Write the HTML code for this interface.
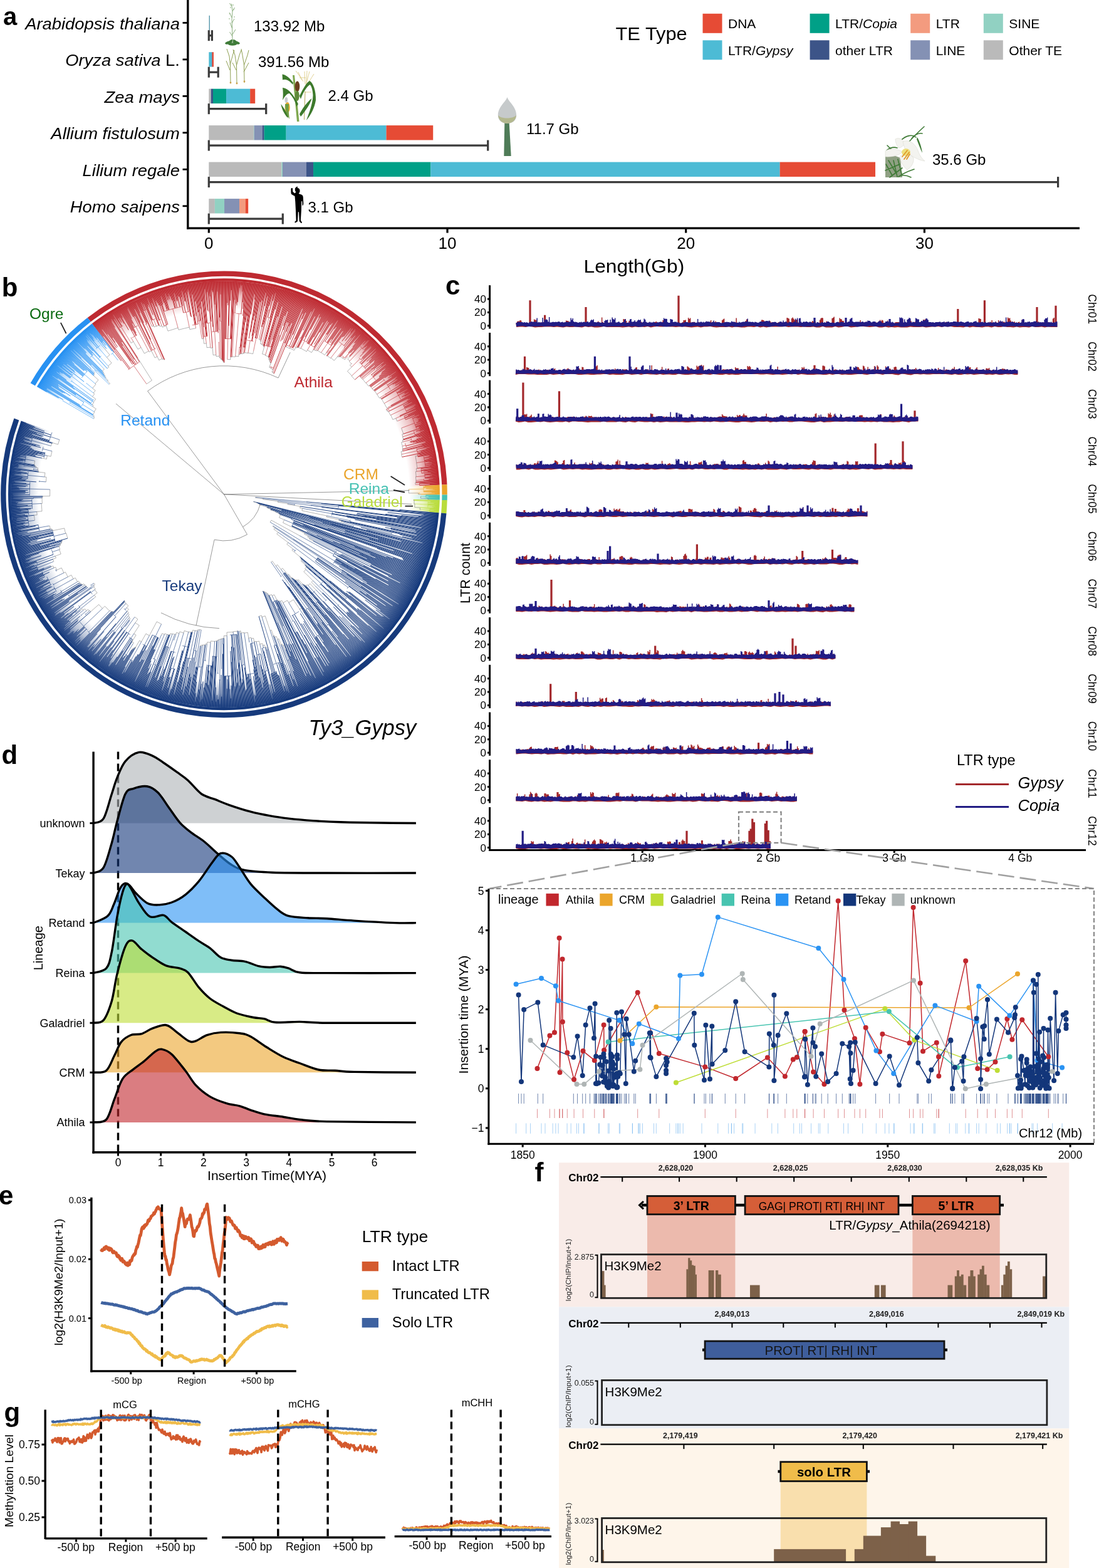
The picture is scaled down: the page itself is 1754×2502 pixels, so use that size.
<!DOCTYPE html>
<html><head><meta charset="utf-8"><title>Figure</title>
<style>html,body{margin:0;padding:0;background:#fff;}svg{display:block;}text{font-family:"Liberation Sans",Arial,sans-serif;}</style>
</head><body>
<svg width="1754" height="2502" viewBox="0 0 1754 2502">
<rect width="1754" height="2502" fill="#fff"/>
<text x="5" y="39.8" font-size="40" font-weight="bold" font-family="Liberation Sans, Arial, sans-serif">a</text>
<line x1="299.8" y1="0" x2="299.8" y2="365.8" stroke="#000" stroke-width="3.4"/>
<line x1="298.1" y1="364.2" x2="1723" y2="364.2" stroke="#000" stroke-width="3.2"/>
<line x1="291.5" y1="36.4" x2="300" y2="36.4" stroke="#000" stroke-width="2.8"/>
<text transform="translate(286.9 46.7) scale(1.03 1)" font-size="26.6" font-style="italic" text-anchor="end" font-family="Liberation Sans, Arial, sans-serif">Arabidopsis thaliana</text>
<line x1="291.5" y1="94.9" x2="300" y2="94.9" stroke="#000" stroke-width="2.8"/>
<text transform="translate(286.9 105.2) scale(1.03 1)" font-size="26.6" text-anchor="end" font-family="Liberation Sans, Arial, sans-serif"><tspan font-style="italic">Oryza sativa</tspan> L.</text>
<line x1="291.5" y1="153.4" x2="300" y2="153.4" stroke="#000" stroke-width="2.8"/>
<text transform="translate(286.9 163.7) scale(1.03 1)" font-size="26.6" font-style="italic" text-anchor="end" font-family="Liberation Sans, Arial, sans-serif">Zea mays</text>
<line x1="291.5" y1="211.8" x2="300" y2="211.8" stroke="#000" stroke-width="2.8"/>
<text transform="translate(286.9 222.1) scale(1.03 1)" font-size="26.6" font-style="italic" text-anchor="end" font-family="Liberation Sans, Arial, sans-serif">Allium fistulosum</text>
<line x1="291.5" y1="270.3" x2="300" y2="270.3" stroke="#000" stroke-width="2.8"/>
<text transform="translate(286.9 280.6) scale(1.03 1)" font-size="26.6" font-style="italic" text-anchor="end" font-family="Liberation Sans, Arial, sans-serif">Lilium regale</text>
<line x1="291.5" y1="328.8" x2="300" y2="328.8" stroke="#000" stroke-width="2.8"/>
<text transform="translate(286.9 339.1) scale(1.03 1)" font-size="26.6" font-style="italic" text-anchor="end" font-family="Liberation Sans, Arial, sans-serif">Homo saipens</text>
<line x1="333.3" y1="365" x2="333.3" y2="371.6" stroke="#000" stroke-width="3.2"/>
<text x="333.3" y="397.4" font-size="26" text-anchor="middle" font-family="Liberation Sans, Arial, sans-serif">0</text>
<line x1="714.0" y1="365" x2="714.0" y2="371.6" stroke="#000" stroke-width="3.2"/>
<text x="714.0" y="397.4" font-size="26" text-anchor="middle" font-family="Liberation Sans, Arial, sans-serif">10</text>
<line x1="1094.7" y1="365" x2="1094.7" y2="371.6" stroke="#000" stroke-width="3.2"/>
<text x="1094.7" y="397.4" font-size="26" text-anchor="middle" font-family="Liberation Sans, Arial, sans-serif">20</text>
<line x1="1475.4" y1="365" x2="1475.4" y2="371.6" stroke="#000" stroke-width="3.2"/>
<text x="1475.4" y="397.4" font-size="26" text-anchor="middle" font-family="Liberation Sans, Arial, sans-serif">30</text>
<text transform="translate(931.5 434.5) scale(1.06 1)" font-size="30" font-family="Liberation Sans, Arial, sans-serif">Length(Gb)</text>
<rect x="333.6" y="24.8" width="1.3" height="23.6" fill="#4A8FA6"/>
<rect x="333.30" y="83.2" width="4.62" height="23.4" fill="#4DBBD5"/>
<rect x="337.87" y="83.2" width="0.81" height="23.4" fill="#3C5488"/>
<rect x="338.63" y="83.2" width="2.33" height="23.4" fill="#E64B35"/>
<rect x="333.30" y="141.7" width="3.48" height="23.4" fill="#BABABA"/>
<rect x="336.73" y="141.7" width="3.29" height="23.4" fill="#3C5488"/>
<rect x="339.96" y="141.7" width="21.18" height="23.4" fill="#00A087"/>
<rect x="361.09" y="141.7" width="38.12" height="23.4" fill="#4DBBD5"/>
<rect x="399.16" y="141.7" width="8.04" height="23.4" fill="#E64B35"/>
<rect x="333.30" y="200.1" width="71.62" height="23.4" fill="#BABABA"/>
<rect x="404.87" y="200.1" width="0.81" height="23.4" fill="#91D1C2"/>
<rect x="405.63" y="200.1" width="12.99" height="23.4" fill="#8491B4"/>
<rect x="418.58" y="200.1" width="3.10" height="23.4" fill="#3C5488"/>
<rect x="421.62" y="200.1" width="35.07" height="23.4" fill="#00A087"/>
<rect x="456.65" y="200.1" width="159.94" height="23.4" fill="#4DBBD5"/>
<rect x="616.54" y="200.1" width="74.67" height="23.4" fill="#E64B35"/>
<rect x="333.30" y="258.6" width="116.16" height="23.4" fill="#BABABA"/>
<rect x="449.41" y="258.6" width="1.57" height="23.4" fill="#91D1C2"/>
<rect x="450.94" y="258.6" width="38.12" height="23.4" fill="#8491B4"/>
<rect x="489.01" y="258.6" width="11.09" height="23.4" fill="#3C5488"/>
<rect x="500.05" y="258.6" width="187.35" height="23.4" fill="#00A087"/>
<rect x="687.35" y="258.6" width="557.39" height="23.4" fill="#4DBBD5"/>
<rect x="1244.70" y="258.6" width="152.33" height="23.4" fill="#E64B35"/>
<rect x="333.30" y="317.1" width="9.57" height="23.4" fill="#BABABA"/>
<rect x="342.82" y="317.1" width="15.28" height="23.4" fill="#91D1C2"/>
<rect x="358.05" y="317.1" width="24.03" height="23.4" fill="#8491B4"/>
<rect x="382.03" y="317.1" width="9.95" height="23.4" fill="#F39B7F"/>
<rect x="391.93" y="317.1" width="4.24" height="23.4" fill="#E64B35"/>
<g stroke="#3B3B3B" stroke-width="3.2"><line x1="333.3" y1="56.7" x2="338.4" y2="56.7"/><line x1="333.3" y1="48.2" x2="333.3" y2="65.2"/><line x1="338.4" y1="48.2" x2="338.4" y2="65.2"/></g>
<g stroke="#3B3B3B" stroke-width="3.2"><line x1="333.3" y1="115.2" x2="348.2" y2="115.2"/><line x1="333.3" y1="106.7" x2="333.3" y2="123.7"/><line x1="348.2" y1="106.7" x2="348.2" y2="123.7"/></g>
<g stroke="#3B3B3B" stroke-width="3.2"><line x1="333.3" y1="173.7" x2="424.7" y2="173.7"/><line x1="333.3" y1="165.2" x2="333.3" y2="182.2"/><line x1="424.7" y1="165.2" x2="424.7" y2="182.2"/></g>
<g stroke="#3B3B3B" stroke-width="3.2"><line x1="333.3" y1="232.1" x2="778.7" y2="232.1"/><line x1="333.3" y1="223.6" x2="333.3" y2="240.6"/><line x1="778.7" y1="223.6" x2="778.7" y2="240.6"/></g>
<g stroke="#3B3B3B" stroke-width="3.2"><line x1="333.3" y1="290.6" x2="1688.6" y2="290.6"/><line x1="333.3" y1="282.1" x2="333.3" y2="299.1"/><line x1="1688.6" y1="282.1" x2="1688.6" y2="299.1"/></g>
<g stroke="#3B3B3B" stroke-width="3.2"><line x1="333.3" y1="349.1" x2="451.3" y2="349.1"/><line x1="333.3" y1="340.6" x2="333.3" y2="357.6"/><line x1="451.3" y1="340.6" x2="451.3" y2="357.6"/></g>
<text x="405" y="50.2" font-size="24" font-family="Liberation Sans, Arial, sans-serif">133.92 Mb</text>
<text x="412" y="106.8" font-size="24" font-family="Liberation Sans, Arial, sans-serif">391.56 Mb</text>
<text x="523.5" y="161" font-size="24" font-family="Liberation Sans, Arial, sans-serif">2.4 Gb</text>
<text x="840" y="214" font-size="24" font-family="Liberation Sans, Arial, sans-serif">11.7 Gb</text>
<text x="1488" y="263.2" font-size="24" font-family="Liberation Sans, Arial, sans-serif">35.6 Gb</text>
<text x="491.5" y="339.3" font-size="24" font-family="Liberation Sans, Arial, sans-serif">3.1 Gb</text>
<text transform="translate(982.5 64) scale(1.045 1)" font-size="29.5" font-family="Liberation Sans, Arial, sans-serif">TE Type</text>
<rect x="1121.5" y="21.8" width="31" height="31" fill="#E64B35"/>
<text x="1162.0" y="45.2" font-size="21" font-family="Liberation Sans, Arial, sans-serif">DNA</text>
<rect x="1121.5" y="64.3" width="31" height="31" fill="#4DBBD5"/>
<text x="1162.0" y="87.7" font-size="21" font-family="Liberation Sans, Arial, sans-serif">LTR/<tspan font-style="italic">Gypsy</tspan></text>
<rect x="1292.6" y="21.8" width="31" height="31" fill="#00A087"/>
<text x="1333.1" y="45.2" font-size="21" font-family="Liberation Sans, Arial, sans-serif">LTR/<tspan font-style="italic">Copia</tspan></text>
<rect x="1292.6" y="64.3" width="31" height="31" fill="#3C5488"/>
<text x="1333.1" y="87.7" font-size="21" font-family="Liberation Sans, Arial, sans-serif">other LTR</text>
<rect x="1453.2" y="21.8" width="31" height="31" fill="#F39B7F"/>
<text x="1493.7" y="45.2" font-size="21" font-family="Liberation Sans, Arial, sans-serif">LTR</text>
<rect x="1453.2" y="64.3" width="31" height="31" fill="#8491B4"/>
<text x="1493.7" y="87.7" font-size="21" font-family="Liberation Sans, Arial, sans-serif">LINE</text>
<rect x="1569.8" y="21.8" width="31" height="31" fill="#91D1C2"/>
<text x="1610.3" y="45.2" font-size="21" font-family="Liberation Sans, Arial, sans-serif">SINE</text>
<rect x="1569.8" y="64.3" width="31" height="31" fill="#BABABA"/>
<text x="1610.3" y="87.7" font-size="21" font-family="Liberation Sans, Arial, sans-serif">Other TE</text>
<g fill="none" stroke="#6E9A5E" stroke-width="0.8"><path d="M371 65 L370.5 45 L370 30 L371 18 L369.5 6 M370.5 45 L367 36 M370 37 L374 30 M370 28 L366 20 M371 18 L374.5 12 M369.5 10 L366.5 5 M371 55 L376 47 M371 58 L366.5 51"/></g>
<g fill="#7FA870"><circle cx="367" cy="22" r="0.8"/><circle cx="373" cy="15" r="0.8"/><circle cx="366" cy="30" r="0.8"/><circle cx="374" cy="27" r="0.8"/><circle cx="368" cy="12" r="0.8"/><circle cx="372" cy="8" r="0.8"/></g>
<g fill="#3E7B38"><ellipse cx="365" cy="68" rx="6" ry="2.4" transform="rotate(-15 365 68)"/><ellipse cx="377" cy="68" rx="6" ry="2.4" transform="rotate(15 377 68)"/><ellipse cx="371" cy="70.5" rx="7" ry="2.2"/><ellipse cx="368" cy="66" rx="4" ry="1.8" transform="rotate(-40 368 66)"/><ellipse cx="375" cy="66" rx="4" ry="1.8" transform="rotate(40 375 66)"/></g>
<g fill="none" stroke="#8E9F52" stroke-width="1"><path d="M368 133 L367.5 104 L366 90 L362 78 M367 104 L372 86 L374 80 M367 112 L361 97 M378 134 L377.5 104 L375 88 L372 79 M377.5 104 L382 88 L385 80 M377 112 L371 100 M390 132 L389.5 104 L387 88 L385 78 M389.5 104 L395 88 L397 80 M389 115 L397 100"/></g>
<g fill="#C9A04A"><circle cx="368" cy="132" r="1.4"/><circle cx="378" cy="133" r="1.4"/><circle cx="390" cy="130" r="1.4"/></g>
<g fill="none" stroke="#D9C77A" stroke-width="0.8"><path d="M472 113 C476 118 480 124 484 130 M476 115 L482 128 M486 114 L487 134 M490 113 L489 132 M494 114 C492 122 490 128 488 136 M501 118 C496 126 492 132 488 140 M478 124 L488 124 M486 147 L497 147"/></g>
<path d="M486.5 146 L487.5 146 L486 191 L485 191 Z" fill="#B5A95A"/>
<path d="M467 120 L470 120 L477.5 194 L474 194 Z" fill="#7FA84F"/>
<g fill="#3D7A2C"><path d="M468 132 C462 124 456 119 450.5 118.5 L451 127.5 C456 126 462 128 467 135 Z"/><path d="M476 166 C469 152 461 141 451 140 C452 146 452 154 451 160 C455 153 458 149 462 149 C467 154 471 161 473.5 170 Z"/><path d="M478 153 C484 141 489 132 494 129 C500 132 504.5 145 504 160 C502 172 496 184 489 192 C494 178 499 166 499.5 152 C499 143 497 137 494.5 135 C489 139 484 147 480 158 Z"/><path d="M478 182 C484 171 490 163 497.5 157 C495 166 489 175 480 186 Z"/><path d="M459 188 C453 181 449 172 448.5 166 C452 171 456 177 461 184 Z"/></g>
<ellipse cx="474.5" cy="138" rx="3.8" ry="8.5" fill="#6B3F1E"/><ellipse cx="474.3" cy="153" rx="3.4" ry="8" fill="#5E8A3A"/>
<ellipse cx="458.7" cy="171.5" rx="4" ry="8.5" fill="#E6A82A"/><ellipse cx="456.8" cy="159.5" rx="2.4" ry="4.6" fill="#C9CCD0"/><path d="M455 166 C455 176 458 184 462 190 C461 182 460 174 461 166 Z" fill="#6E9E43"/>
<path d="M805.3 196 L812.7 196 L815.7 249 L804.3 249 Z" fill="#4F7C58"/>
<path d="M809.5 155 C812 163 824 170 824.2 184 C824.2 193 817 197 809.5 197 C802 197 794.8 193 794.8 184 C795 170 807 163 809.5 155 Z" fill="#C6CACB"/>
<path d="M795 184 C796 192 802 197 809.5 197 C817 197 823 192 824 184 C818 190 800 190 795 184 Z" fill="#B3B88E"/>
<path d="M1413 250 C1420 247 1430 248 1437 252 L1440 283 L1413 283 Z" fill="#8FA083"/>
<g fill="none" stroke="#3E7A35" stroke-width="1.6" stroke-linecap="round"><path d="M1414 262 L1424 280 M1418 256 L1430 276 M1426 256 L1432 282 M1413 272 L1436 262 M1420 283 L1440 268 M1433 254 L1439 278"/><path d="M1434 282 C1442 276 1450 273 1459 270"/><path d="M1438 280 C1444 279 1450 281 1454 283"/><path d="M1446 232 C1454 222 1464 212 1475 202"/><path d="M1455 221 C1460 215 1466 212 1472 213"/><path d="M1438 224 C1446 216 1456 214 1462 219"/><path d="M1415 240 C1420 236 1426 234 1432 236"/><path d="M1416 232 L1424 240"/></g>
<path d="M1464 219 C1468 226 1471 236 1472 244 C1469 238 1466 230 1463 222 Z" fill="#3E7A35"/>
<g fill="#F3F3EF" stroke="#DADAD2" stroke-width="0.6"><path d="M1413 241 C1420 236 1432 237 1440 242 C1436 248 1424 251 1413 250 Z"/><path d="M1429 222 C1433 219 1440 221 1444 228 C1442 233 1438 236 1434 236 C1431 232 1429 227 1429 222 Z"/><path d="M1441 226 C1450 222 1460 228 1465 240 C1467 246 1470 252 1476 257 C1468 256 1460 252 1454 248 C1448 244 1443 238 1441 226 Z"/><path d="M1436 250 C1440 244 1452 244 1458 252 C1459 260 1454 267 1448 271 C1442 266 1437 258 1436 250 Z"/></g>
<ellipse cx="1446" cy="243" rx="7" ry="6" fill="#EDE07C"/>
<g stroke="#E0992A" stroke-width="1.8" stroke-linecap="round"><path d="M1440 250 L1448 240 M1443 254 L1451 243 M1447 254 L1452 246"/></g>
<path fill="#000" d="M474.6 300 c2.6 0 4.1 2.1 4 4.6 c0 2 -0.8 3.4 -2 4.3 l5 1.8 c1.6 0.8 2 2.3 2.2 4.2 l0.5 9.2 c0.2 2 -0.5 3.6 -1.7 4.5 l-0.3 -7.5 l-1.2 0.2 l-0.2 14 l-1 16 c0.4 1.4 1.5 2.4 2.3 3.7 l-1.4 1.2 l-3 -3 l-0.8 -15 l-1.2 0 l-0.8 15 l-3.5 2.4 l-1.5 -1.2 l2.6 -2.6 l-0.6 -15.6 l-0.7 -14 l-0.8 -9.2 l-4.6 -2.4 c-1.3 -0.8 -1.5 -2.5 -1.5 -4 l0 -5.5 c0.5 -1.2 1.8 -1.4 2.6 -0.6 l0.3 5.3 l3 2.6 l2.2 -1.8 c-1.2 -1.2 -1.8 -2.8 -1.7 -4.6 c0.1 -2.5 1.8 -4.2 4.4 -4.2 z"/>
<text x="2.8" y="472.6" font-size="42" font-weight="bold" font-family="Liberation Sans, Arial, sans-serif">b</text>
<defs><radialGradient id="gAthila" gradientUnits="userSpaceOnUse" cx="357.5" cy="788.8" r="340"><stop offset="0.87" stop-color="#BE2A31" stop-opacity="0"/><stop offset="0.935" stop-color="#BE2A31" stop-opacity="0.3"/><stop offset="0.97" stop-color="#BE2A31" stop-opacity="0.65"/><stop offset="1" stop-color="#BE2A31" stop-opacity="0.9"/></radialGradient><radialGradient id="gCRM" gradientUnits="userSpaceOnUse" cx="357.5" cy="788.8" r="340"><stop offset="0.87" stop-color="#EAA42B" stop-opacity="0"/><stop offset="0.935" stop-color="#EAA42B" stop-opacity="0.3"/><stop offset="0.97" stop-color="#EAA42B" stop-opacity="0.65"/><stop offset="1" stop-color="#EAA42B" stop-opacity="0.9"/></radialGradient><radialGradient id="gReina" gradientUnits="userSpaceOnUse" cx="357.5" cy="788.8" r="340"><stop offset="0.87" stop-color="#46C1B2" stop-opacity="0"/><stop offset="0.935" stop-color="#46C1B2" stop-opacity="0.3"/><stop offset="0.97" stop-color="#46C1B2" stop-opacity="0.65"/><stop offset="1" stop-color="#46C1B2" stop-opacity="0.9"/></radialGradient><radialGradient id="gGal" gradientUnits="userSpaceOnUse" cx="357.5" cy="788.8" r="340"><stop offset="0.87" stop-color="#B9DC3C" stop-opacity="0"/><stop offset="0.935" stop-color="#B9DC3C" stop-opacity="0.3"/><stop offset="0.97" stop-color="#B9DC3C" stop-opacity="0.65"/><stop offset="1" stop-color="#B9DC3C" stop-opacity="0.9"/></radialGradient><radialGradient id="gTekay" gradientUnits="userSpaceOnUse" cx="357.5" cy="788.8" r="340"><stop offset="0.87" stop-color="#163A7C" stop-opacity="0"/><stop offset="0.935" stop-color="#163A7C" stop-opacity="0.3"/><stop offset="0.97" stop-color="#163A7C" stop-opacity="0.65"/><stop offset="1" stop-color="#163A7C" stop-opacity="0.9"/></radialGradient><radialGradient id="gRetand" gradientUnits="userSpaceOnUse" cx="357.5" cy="788.8" r="340"><stop offset="0.87" stop-color="#2791F2" stop-opacity="0"/><stop offset="0.935" stop-color="#2791F2" stop-opacity="0.3"/><stop offset="0.97" stop-color="#2791F2" stop-opacity="0.65"/><stop offset="1" stop-color="#2791F2" stop-opacity="0.9"/></radialGradient></defs>
<path d="M183.2 563.3L149.3 519.4A340.5 340.5 0 0 1 697.7 773.9L642.2 776.4A285 285 0 0 0 183.2 563.3Z" fill="url(#gAthila)"/>
<path d="M642.2 776.4L697.7 773.9A340.5 340.5 0 0 1 698.0 789.4L642.5 789.3A285 285 0 0 0 642.2 776.4Z" fill="url(#gCRM)"/>
<path d="M642.5 789.3L698.0 789.4A340.5 340.5 0 0 1 697.9 797.7L642.4 796.3A285 285 0 0 0 642.5 789.3Z" fill="url(#gReina)"/>
<path d="M642.4 796.3L697.9 797.7A340.5 340.5 0 0 1 696.8 817.9L641.5 813.1A285 285 0 0 0 642.4 796.3Z" fill="url(#gGal)"/>
<path d="M641.5 813.1L696.8 817.9A340.5 340.5 0 1 1 37.3 672.9L89.5 691.8A285 285 0 1 0 641.5 813.1Z" fill="url(#gTekay)"/>
<path d="M110.4 646.7L62.3 619.1A340.5 340.5 0 0 1 149.3 519.4L183.2 563.3A285 285 0 0 0 110.4 646.7Z" fill="url(#gRetand)"/>
<path d="M233.9 612.7L242.4 607.0L219.9 571.3M262.8 573.9L262.0 574.3L261.4 572.9L259.3 573.8L258.7 572.4L253.7 574.7L251.0 569.1L247.2 570.9L241.6 559.8L238.1 561.6L237.3 560.2L230.4 564.0L225.0 554.4L220.1 557.3L212.9 545.1L209.2 547.4L207.6 544.7M312.5 523.8L302.9 525.6L302.2 522.1L285.0 526.3L284.1 523.2L268.0 528.2L265.1 519.8L259.0 522.0L258.1 519.7L255.0 520.8L254.4 519.2L253.4 519.5L253.2 519.2L249.6 520.6L249.5 520.3L245.9 521.8L245.1 519.8L242.5 520.9L242.4 520.6M358.0 578.5L357.1 578.5L357.1 577.3L356.3 577.4L356.3 576.2L355.5 576.2L355.5 575.1L354.7 575.1L354.7 573.9L353.4 573.9L353.4 572.8L351.8 572.8L351.7 570.5L350.0 570.6L350.0 568.3L344.9 568.5L344.8 566.2L340.1 566.5L339.2 555.0L336.0 555.3L335.9 554.1L330.1 554.7L329.3 547.9L325.6 548.3L324.6 540.3L322.2 540.7L322.0 539.5M362.9 573.5L367.8 573.7L368.0 569.7L368.9 569.7L368.9 569.4L370.6 569.4L370.6 569.1L375.6 569.4L375.7 568.3L380.8 568.8L381.1 565.5L382.8 565.7L383.0 564.6L383.8 564.7L383.9 564.3L385.6 564.6L385.6 564.2L388.2 564.5L388.4 563.4L390.1 563.7L390.2 562.6L395.9 563.5L395.9 563.1L403.7 564.6L404.6 560.2M437.3 596.0L435.5 595.2L435.9 594.2L434.0 593.5L435.6 589.5L432.5 588.3L432.9 587.3L429.8 586.2L432.3 579.2L431.1 578.8L431.4 577.7L430.2 577.3L430.9 575.3L429.7 574.9L430.0 573.9L428.8 573.5L429.5 571.4L428.6 571.2L429.0 570.1L428.1 569.9L428.5 568.9L423.4 567.3L423.7 566.3L418.6 564.8L421.7 553.5L420.8 553.2L421.0 552.2L420.1 552.0L420.4 550.9L418.1 550.3L418.4 549.3L415.6 548.6L416.6 544.5L415.2 544.1L415.7 542.1L413.4 541.5L413.6 540.5M456.1 553.3L462.3 556.0L462.5 555.6L469.6 559.0L471.8 554.3L473.6 555.2L474.2 554.2L475.1 554.6L475.2 554.2L476.1 554.7L476.3 554.3L479.9 556.2L480.1 555.8L489.3 560.9L490.7 558.5L497.3 562.5L500.2 557.7L501.5 558.6L501.7 558.2L503.9 559.6L504.3 558.9L506.1 560.1L506.8 559.1L512.4 562.9L512.6 562.5L518.2 566.5L521.0 562.6L522.3 563.6L522.5 563.2M521.2 567.7L522.1 568.4L522.5 567.8L527.5 571.6L528.0 571.0L533.4 575.3L538.6 569.0L539.9 570.0L540.8 568.8L541.7 569.5L542.1 569.0L543.0 569.7L543.5 569.1L546.4 571.6L546.9 571.1L550.2 574.0L553.2 570.6M566.4 605.9L561.0 600.0L561.5 599.6L554.5 592.3L561.3 585.6L558.5 582.8L560.9 580.4L557.3 576.9L558.2 576.0L554.9 572.9L558.1 569.4L557.3 568.6L557.7 568.1M574.1 600.7L574.8 601.5L574.9 601.4L576.0 602.6L576.1 602.5L577.2 603.8L577.4 603.6L578.8 605.3L578.9 605.2L583.8 611.2L584.2 610.9L588.2 616.1L589.6 615.1L590.2 616.0L590.3 615.9L591.0 616.8L591.1 616.7L591.8 617.6L591.9 617.5L593.9 620.2L594.0 620.1L595.9 622.8L596.6 622.4L597.2 623.3L597.3 623.2L598.0 624.1L598.1 624.0L601.5 629.1L601.6 629.1L605.5 635.2L606.9 634.4L608.0 636.3L608.4 636.0L609.0 637.0L609.2 636.9L613.1 643.7L613.3 643.6L617.3 651.0L619.1 650.1M616.5 653.4L617.5 655.4L617.9 655.1L619.0 657.1L620.2 656.5L623.2 662.6L623.7 662.3L626.9 669.5L631.8 667.4L633.8 672.1L635.1 671.6M641.7 729.3L640.7 725.0L641.1 724.9L640.1 720.6L642.7 719.9L642.3 718.3L642.7 718.2L642.3 716.6L643.0 716.4L641.9 712.0L642.3 711.9L640.6 705.9L643.2 705.2L642.3 702.5L643.8 702.0L643.5 700.9L643.8 700.8L642.6 697.0L643.0 696.9L641.8 693.1L643.9 692.3L640.6 683.1L641.0 682.9M663.0 773.1L662.9 770.2L663.8 770.1L663.7 769.0L664.0 769.0L663.8 766.6L664.0 766.6L663.5 760.7L664.2 760.7L663.4 752.5L665.0 752.3L664.4 747.6L666.0 747.3L664.7 738.5L664.9 738.5L663.0 727.9L666.2 727.3M652.2 780.8L652.3 786.9L667.7 786.8L667.7 788.7L671.6 788.7M671.5 791.9L671.4 795.1L682.9 795.3L682.9 796.7L685.7 796.7M660.0 797.3L660.0 798.5L661.1 798.6L660.9 804.0L662.0 804.0L661.7 809.4L670.4 810.0L670.2 813.1L671.3 813.2M407.7 793.4L407.6 794.3L419.6 795.6L419.5 796.8L443.5 799.8L443.3 801.3L459.3 803.6L459.1 804.8L479.0 807.9L478.6 810.5L482.6 811.2L481.9 814.8L521.4 823.0L521.0 824.9L540.7 829.3L540.5 830.0L544.5 830.9L544.2 832.3L548.1 833.2M404.6 800.3L404.5 800.7L409.6 802.0L409.5 802.2L411.2 802.6L411.2 802.8L412.9 803.3L412.6 804.1L414.3 804.6L414.1 805.5L425.8 808.9L425.6 809.4L427.3 809.9L427.0 811.0L432.0 812.6L431.6 813.7L439.9 816.5L439.7 817.1L444.6 818.9L444.5 819.2L446.2 819.8L445.8 820.8L447.5 821.4L445.7 826.0L453.7 829.4L451.6 834.1L486.2 850.8L485.5 852.3L491.8 855.4L491.0 856.9L494.1 858.5L493.4 859.8L499.6 863.0M431.2 833.2L433.0 830.1L478.0 854.7M435.8 839.1L435.3 840.0L438.7 842.3L437.1 844.6L443.9 849.3L441.8 852.1L459.9 865.7L457.8 868.4L467.5 876.0L466.0 877.9L478.7 888.4L478.3 888.8L479.9 890.1L479.5 890.6L481.1 891.9L480.1 893.1L481.6 894.4L480.6 895.6L486.8 901.0L486.4 901.5L488.0 902.8L487.5 903.3L489.1 904.7L486.6 907.4L488.1 908.8L484.8 912.3L499.6 926.6L497.2 929.0L503.0 934.8M432.6 896.8L434.6 895.3L440.2 903.0L442.8 901.1L448.5 908.6L451.0 906.7L459.3 917.0L460.5 916.1L465.3 922.0L465.8 921.5L467.0 923.0L467.5 922.6L468.7 924.1L469.2 923.6L470.4 925.1L470.9 924.7L472.1 926.1L473.7 924.8L474.9 926.2L476.5 924.9L482.7 932.0L483.3 931.5L484.5 932.9L485.1 932.5L486.3 933.9L486.9 933.4L488.2 934.8L490.4 932.8L491.7 934.2L494.7 931.3L503.9 940.9M419.6 943.2L420.1 943.0L420.5 944.0L421.4 943.6L421.8 944.6L423.0 944.1L423.8 946.1L425.3 945.4L426.2 947.4L427.4 946.8L428.7 949.7L429.6 949.3L430.0 950.3L433.4 948.7L434.3 950.6L437.7 949.0L442.0 957.5L442.9 957.0L443.9 958.9L444.5 958.6L445.0 959.5L446.7 958.7L447.2 959.6L449.8 958.2L451.8 961.9L458.6 958.0L460.8 961.6L468.3 956.9L478.2 971.9L480.7 970.3L484.2 975.5M413.2 983.4L417.3 982.1L418.0 984.5L423.2 982.8L431.1 1006.1L433.2 1005.4L436.4 1014.7L437.7 1014.2L438.5 1016.6L441.2 1015.6L442.9 1020.2L445.1 1019.4L448.6 1028.6L450.4 1027.9L451.3 1030.2L453.1 1029.5L455.9 1036.3M382.1 1007.1L384.2 1006.8L384.6 1010.1L389.7 1009.4L389.8 1010.2L395.3 1009.3L396.8 1018.2L400.8 1017.4L401.1 1019.0L404.6 1018.4L405.7 1023.9L408.9 1023.3L409.0 1024.1L413.5 1023.0L414.7 1027.8L418.8 1026.8L419.6 1029.9L422.4 1029.2L423.4 1033.1L425.3 1032.6L425.5 1033.4M380.0 1006.7L378.7 1006.8L378.8 1007.2L372.1 1007.8L372.1 1008.5L362.1 1009.0L362.2 1014.4L357.4 1014.5L357.4 1018.4L356.1 1018.4L356.1 1018.8L354.3 1018.8L354.3 1019.5L352.1 1019.5L352.1 1020.3L349.4 1020.2L349.4 1021.4L347.2 1021.3L347.1 1022.5L345.8 1022.4L345.8 1023.2L342.6 1023.0L342.6 1023.4L336.3 1022.9L336.1 1025.2L330.7 1024.7L330.3 1027.8L328.1 1027.5L327.9 1029.1L326.5 1028.9L326.4 1029.3L323.7 1028.9L323.6 1029.7L321.3 1029.4L321.0 1030.9L319.2 1030.6L319.1 1031.0M321.1 1005.0L318.2 1004.5L318.1 1005.2L315.6 1004.8L315.2 1006.7L311.5 1006.0L311.4 1006.4L307.7 1005.5L307.0 1008.6L306.1 1008.4L306.0 1008.8L305.2 1008.6L305.1 1009.0L300.9 1008.0L300.8 1008.4L294.1 1006.5L293.1 1010.0L286.8 1008.0L285.9 1010.7L281.7 1009.3L280.7 1012.3L279.0 1011.7L278.7 1012.4L275.3 1011.2L275.0 1011.9L272.0 1010.8L271.2 1013.1L270.3 1012.7L270.2 1013.1L269.3 1012.8L269.2 1013.1L267.0 1012.3L266.9 1012.6L263.0 1011.0L262.4 1012.5L258.6 1010.8L257.8 1012.7M257.6 995.8L250.2 992.0L238.4 1014.2L232.9 1011.2L225.7 1023.9L222.6 1022.2L216.3 1033.0L215.3 1032.5L214.3 1034.3L213.4 1033.7L212.3 1035.6L211.3 1035.0L210.3 1036.8M215.0 984.5L219.9 988.0L215.9 993.7L222.3 998.0L213.7 1011.2L217.1 1013.4L210.6 1023.8L213.3 1025.5L212.4 1027.0M198.5 958.2L199.1 958.8L198.7 959.3L199.3 959.9L198.9 960.4L201.2 962.5L200.8 963.0L204.8 966.6L202.2 969.6L205.3 972.2L202.8 975.3L205.3 977.3L204.1 978.9L206.2 980.6L204.6 982.7L206.8 984.5L206.0 985.5L207.9 987.0L206.3 989.1L207.5 989.9L207.1 990.5M180.5 975.9L179.8 975.2L179.1 976.0L178.4 975.3L177.6 976.1L175.5 974.0L174.7 974.8L167.4 967.3L163.5 971.0L157.7 964.6L144.8 975.9L143.4 974.3L142.6 975.0L140.5 972.5L138.0 974.6L135.6 971.6L133.1 973.6L131.3 971.5L128.0 974.2M150.0 930.5L151.4 932.4L149.6 933.7L150.7 935.3L149.5 936.1L152.4 940.1L151.2 940.9L155.1 946.0L150.5 949.6L152.7 952.3L149.8 954.6M138.4 936.0L137.8 935.2L137.2 935.5L135.8 933.4L135.3 933.8L133.9 931.7L131.6 933.1L131.0 932.3L130.4 932.7L129.9 931.8L129.3 932.1L128.2 930.4L127.6 930.8L125.5 927.2L123.7 928.3L120.1 922.0L117.1 923.7L113.8 917.6L108.3 920.5L104.4 912.9L101.9 914.1L98.2 906.2L90.7 909.6L88.7 905.0L86.1 906.1L84.8 903.0L81.6 904.3L81.0 902.7L80.3 903.0M99.1 862.5L99.4 863.5L98.4 863.8L98.8 865.3L97.8 865.6L98.2 867.1L96.2 867.7L96.7 869.2L95.7 869.5L96.1 871.0L94.1 871.6L95.7 876.7L94.7 877.0L97.2 884.0L88.2 887.3L89.4 890.3L84.4 892.2L85.8 895.9L84.9 896.3M107.9 859.0L105.7 850.8L104.6 851.1L102.7 842.9L84.4 846.7L84.1 845.2L82.9 845.4L82.6 843.8L80.3 844.3L79.3 839.0L78.1 839.2M79.7 781.0L79.6 791.6L68.2 791.8L68.2 792.9L67.6 792.9L67.6 794.5L67.0 794.5L67.3 803.4L66.1 803.5L67.0 815.7L58.6 816.5L59.2 821.6L54.4 822.2L55.4 830.3L54.8 830.4M73.4 768.9L74.0 761.3L71.2 761.0L71.9 754.4L61.6 753.2L61.7 752.0L60.8 751.9L61.0 749.7L60.1 749.5L60.5 746.7L57.7 746.3L57.9 744.6L56.1 744.3L56.2 743.2L55.3 743.0L55.5 741.9L54.5 741.7L55.6 735.3L54.7 735.2M83.0 719.9L81.1 728.3L75.4 727.1L74.3 732.5L67.0 731.0M94.9 701.6L92.5 709.2L83.7 706.5L83.4 707.6L82.8 707.4L81.6 711.6L80.9 711.4M149.5 668.2L150.7 666.2L149.4 665.4L150.4 663.8L148.5 662.7L149.0 661.9L148.4 661.5L150.9 657.5L150.2 657.1L153.3 652.4L147.9 648.8L149.0 647.2L147.1 645.9L149.9 641.9L149.3 641.5L152.8 636.8L147.5 632.8L150.8 628.5L149.1 627.1L152.2 623.2L147.7 619.5L153.0 613.1L151.9 612.2L157.0 606.3L149.5 599.5L150.2 598.7L149.7 598.2L150.4 597.4L149.9 596.9L150.6 596.1L150.1 595.6L151.2 594.4L150.7 593.9M174.1 613.3L175.5 611.9L171.4 608.0L172.5 606.9L168.4 603.0L169.2 602.3L167.2 600.3L167.9 599.6L165.9 597.6L166.6 596.8L164.6 594.8L165.4 594.1L163.4 592.1L166.4 589.1L164.5 587.1M171.2 588.0L173.9 585.6L172.6 584.1L178.1 579.2L170.4 570.2L175.1 566.3L165.0 554.0" fill="none" stroke="#444" stroke-width="0.4"/>
<path d="M233.9 612.7L213.5 583.6M204.6 590.1A251 251 0 0 1 222.6 577.5M258.7 572.4L233.4 516.9M231.8 517.7L234.9 516.2M251.0 569.1L245.4 557.6M242.3 559.1A257 257 0 0 1 248.5 556.1M237.3 560.2L216.8 521.2M213.8 522.8A302 302 0 0 1 219.9 519.6M225.0 554.4L214.9 536.6M211.1 538.8A290 290 0 0 1 218.8 534.4M212.9 545.1L209.2 538.9M208.8 539.2L209.7 538.7M207.6 544.7L193.3 521.5M190.7 523.0A314 314 0 0 1 195.9 519.9M312.5 523.8L311.5 518.0M306.9 518.8A275 275 0 0 1 316.2 517.2M302.2 522.1L297.2 498.1M292.8 499.1A297 297 0 0 1 301.7 497.2M284.1 523.2L275.7 492.7M262.2 496.8A307 307 0 0 1 289.4 489.3M265.1 519.8L264.7 518.6M261.6 519.7A286 286 0 0 1 267.8 517.6M258.1 519.7L254.7 510.5M252.6 511.3A297 297 0 0 1 256.9 509.7M249.5 520.3L245.2 509.7M242.6 510.8A301 301 0 0 1 247.9 508.7M242.4 520.6L231.4 494.9M229.7 495.6L233.1 494.2M353.4 572.8L352.3 512.5M351.7 512.5L352.8 512.5M351.7 570.5L350.5 526.2M350.0 526.2L351.0 526.2M350.0 568.3L349.2 546.1M348.7 546.2L349.7 546.1M344.8 566.2L342.6 529.1M338.2 529.4A260 260 0 0 1 347.1 528.9M335.9 554.1L332.4 515.5M329.8 515.7A274 274 0 0 1 335.0 515.2M329.3 547.9L328.0 536.9M325.1 537.2A254 254 0 0 1 330.9 536.5M322.0 539.5L318.1 512.0M316.5 512.3L319.7 511.8M362.9 573.5L363.7 540.5M359.0 540.5A248 248 0 0 1 368.5 540.7M370.6 569.1L374.8 499.1M373.7 499.0L375.9 499.2M375.7 568.3L381.3 500.5M376.9 500.2A289 289 0 0 1 385.8 500.9M381.1 565.5L382.3 554.4M381.4 554.3L383.2 554.5M385.6 564.2L389.7 531.9M388.7 531.8L390.7 532.0M388.4 563.4L389.6 554.1M388.7 554.0L390.5 554.2M395.9 563.1L399.2 543.6M394.1 542.8A249 249 0 0 1 404.4 544.5M404.6 560.2L408.9 539.3M406.5 538.9A255 255 0 0 1 411.2 539.9M435.9 594.2L454.8 547.2M453.4 546.6L456.2 547.7M432.9 587.3L433.4 585.9M431.1 585.0A217 217 0 0 1 435.8 586.7M431.4 577.7L446.3 535.4M445.8 535.2L446.8 535.5M430.0 573.9L447.4 522.5M446.9 522.3L447.9 522.6M423.7 566.3L427.8 552.6M423.2 551.3A246 246 0 0 1 432.3 553.9M418.4 549.3L429.2 506.9M427.6 506.5L430.8 507.3M416.6 544.5L428.7 494.6M428.1 494.5L429.3 494.8M413.6 540.5L418.0 521.0M416.5 520.7L419.5 521.4M462.5 555.6L463.5 553.4M458.1 551.0A258 258 0 0 1 468.9 555.9M471.8 554.3L479.2 539.2M478.3 538.7L480.2 539.7M480.1 555.8L486.2 544.1M483.4 542.6A276 276 0 0 1 489.0 545.6M490.7 558.5L495.4 550.4M489.5 547.0A275 275 0 0 1 501.3 553.9M501.7 558.2L508.8 546.9M508.4 546.6L509.3 547.2M504.3 558.9L521.0 532.9M520.0 532.3L522.0 533.5M512.6 562.5L523.0 547.5M517.9 544.1A293 293 0 0 1 528.0 551.0M522.5 563.2L525.3 559.5M524.9 559.2L525.7 559.8M528.0 571.0L545.5 548.7M540.9 545.1A305 305 0 0 1 550.1 552.3M538.6 569.0L550.2 554.9M549.7 554.6L550.6 555.3M546.9 571.1L548.2 569.6M546.1 567.8A291 291 0 0 1 550.2 571.4M553.2 570.6L554.5 569.2M554.1 568.8L554.9 569.6M561.5 599.6L579.0 583.4M573.8 578.0A302 302 0 0 1 584.0 589.0M561.3 585.6L574.5 572.4M572.8 570.7A306 306 0 0 1 576.1 574.0M560.9 580.4L561.1 580.2M560.7 579.8L561.5 580.6M558.2 576.0L577.7 555.3M575.0 552.8A321 321 0 0 1 580.3 557.9M576.1 602.5L592.5 588.6M592.1 588.1L592.9 589.0M578.9 605.2L597.6 589.7M596.8 588.8L598.3 590.6M584.2 610.9L595.9 601.6M592.3 597.1A303 303 0 0 1 599.5 606.2M594.0 620.1L613.2 606.4M611.8 604.4A314 314 0 0 1 614.6 608.4M601.6 629.1L620.1 617.0M617.1 612.5A314 314 0 0 1 623.0 621.5M606.9 634.4L615.5 629.0M614.9 628.0L616.1 630.0M613.3 643.6L635.9 630.8M632.2 624.4A320 320 0 0 1 639.5 637.2M619.1 650.1L624.4 647.3M624.1 646.8L624.7 647.8M617.9 655.1L620.7 653.7M620.2 652.7L621.3 654.7M623.7 662.3L646.2 651.6M643.5 646.1A320 320 0 0 1 648.8 657.2M631.8 667.4L638.7 664.3M638.3 663.2L639.2 665.4M635.1 671.6L646.1 667.0M644.9 664.2A313 313 0 0 1 647.2 669.7M641.1 724.9L665.7 719.4M664.9 715.8A316 316 0 0 1 666.4 722.9M642.7 718.2L649.7 716.5M649.6 715.9L649.8 717.0M642.3 711.9L647.5 710.5M646.6 707.2A300 300 0 0 1 648.4 713.8M643.2 705.2L656.6 701.3M656.1 699.6L657.1 703.0M643.0 696.9L661.3 691.0M660.4 688.1A319 319 0 0 1 662.2 693.9M641.0 682.9L661.6 675.2M658.2 666.6A325 325 0 0 1 664.7 684.0M663.0 773.1L669.5 772.8M669.4 771.0L669.6 774.6M664.0 766.6L676.5 765.7M676.4 764.5L676.6 766.9M664.2 760.7L678.1 759.4M677.7 755.7A322 322 0 0 1 678.4 763.1M665.0 752.3L672.4 751.4M671.9 747.8A317 317 0 0 1 672.8 755.0M664.9 738.5L677.8 736.4M676.3 728.4A325 325 0 0 1 679.0 744.4M666.2 727.3L666.8 727.2M666.4 725.4L667.1 728.9" fill="none" stroke="#BE2A31" stroke-width="0.6"/>
<path d="M652.2 780.8L676.0 780.2M675.9 775.6A319 319 0 0 1 676.1 784.8M667.7 786.8L669.7 786.8M669.7 786.1L669.7 787.4" fill="none" stroke="#EAA42B" stroke-width="0.6"/>
<path d="M671.5 791.9L679.7 792.0M679.7 790.0L679.7 794.0" fill="none" stroke="#46C1B2" stroke-width="0.6"/>
<path d="M662.0 804.0L683.0 805.1M683.2 800.6A326 326 0 0 1 682.8 809.6M671.3 813.2L685.8 814.3M686.0 812.4L685.7 816.3" fill="none" stroke="#B9DC3C" stroke-width="0.6"/>
<path d="M407.7 793.4L489.6 800.9M489.7 800.4L489.6 801.4M419.6 795.6L540.3 808.7M540.5 807.0L540.1 810.5M443.5 799.8L496.7 806.7M496.8 805.9L496.6 807.5M459.3 803.6L470.2 805.2M470.3 804.4L470.0 806.1M482.6 811.2L530.0 819.7M530.5 816.7A175 175 0 0 1 529.4 822.7M521.4 823.0L558.8 830.9M559.1 829.3L558.5 832.4M548.1 833.2L625.1 851.1M625.3 850.1L624.8 852.2M404.6 800.3L564.2 839.5M564.4 838.7L564.1 840.3M414.3 804.6L449.5 814.4M449.8 813.3L449.2 815.4M427.3 809.9L551.0 847.4M551.2 846.6L550.8 848.1M432.0 812.6L432.3 812.7M432.5 812.1L432.1 813.3M439.9 816.5L485.1 831.7M485.2 831.2L484.9 832.2M447.5 821.4L465.4 827.9M465.7 827.0L465.1 828.7M453.7 829.4L467.6 835.2M469.4 830.8A120 120 0 0 1 465.7 839.6M486.2 850.8L592.0 901.7M592.7 900.4L591.4 903.1M491.8 855.4L535.0 876.8M535.2 876.5L534.8 877.1M494.1 858.5L536.6 880.2M537.1 879.1L536.1 881.2M431.2 833.2L534.3 895.4M536.7 891.3A206 206 0 0 1 531.8 899.4M478.0 854.7L532.7 884.6M534.2 881.9A200 200 0 0 1 531.2 887.3M435.8 839.1L468.4 860.1M468.6 859.9L468.3 860.3M438.7 842.3L545.6 912.8M546.3 911.7L544.9 913.9M443.9 849.3L505.4 892.5M507.4 889.6A181 181 0 0 1 503.4 895.3M459.9 865.7L555.5 937.4M556.9 935.5A248 248 0 0 1 554.1 939.3M467.5 876.0L471.0 878.8M472.2 877.3L469.8 880.4M481.6 894.4L552.5 954.7M553.4 953.6L551.5 955.8M488.1 908.8L512.6 931.4M515.1 928.7A211 211 0 0 1 510.1 934.0M499.6 926.6L539.6 965.4M540.7 964.4L538.6 966.5M503.0 934.8L514.8 946.7M516.0 945.5L513.6 947.9M432.6 896.8L448.5 919.7M449.5 919.0L447.5 920.3M440.2 903.0L489.8 971.6M491.2 970.5L488.4 972.6M448.5 908.6L453.2 914.8M454.7 913.7L451.8 915.9M459.3 917.0L522.9 997.2M524.1 996.3L521.7 998.2M474.9 926.2L505.0 961.4M506.3 960.3L503.7 962.6M491.7 934.2L501.1 944.4M502.9 942.7A212 212 0 0 1 499.3 946.0M503.9 940.9L520.3 957.9M521.3 957.0L519.3 958.9M421.8 944.6L456.3 1028.2M456.8 1028.0L455.9 1028.4M423.8 946.1L443.9 993.6M444.3 993.5L443.5 993.8M426.2 947.4L461.1 1027.8M462.0 1027.4L460.1 1028.2M430.0 950.3L451.7 998.4M452.1 998.2L451.3 998.6M434.3 950.6L438.4 959.2M441.0 957.9A189 189 0 0 1 435.8 960.4M442.0 957.5L455.8 985.1M456.2 984.9L455.4 985.2M447.2 959.6L473.0 1008.8M474.3 1008.2L471.7 1009.5M451.8 961.9L467.6 991.0M468.7 990.3L466.4 991.6M460.8 961.6L471.4 979.3M477.2 975.7A222 222 0 0 1 465.5 982.7M478.2 971.9L506.4 1014.7M508.6 1013.3A271 271 0 0 1 504.3 1016.1M418.0 984.5L440.9 1058.6M445.5 1057.2A282 282 0 0 1 436.3 1060.0M431.1 1006.1L439.0 1029.5M440.4 1029.0L437.6 1030.0M438.5 1016.6L454.3 1060.8M454.8 1060.6L453.8 1061.0M442.9 1020.2L461.8 1071.6M463.4 1071.0L460.2 1072.2M451.3 1030.2L460.2 1053.1M461.2 1052.7L459.2 1053.5M382.1 1007.1L388.2 1060.8M389.8 1060.6L386.7 1061.0M389.8 1010.2L399.3 1075.3M404.8 1074.5A290 290 0 0 1 393.8 1076.1M396.8 1018.2L397.9 1024.4M398.3 1024.3L397.4 1024.5M401.1 1019.0L402.5 1026.4M405.2 1025.9A242 242 0 0 1 399.7 1026.9M409.0 1024.1L413.4 1044.0M415.9 1043.5A261 261 0 0 1 411.0 1044.6M414.7 1027.8L424.9 1070.5M426.5 1070.1L423.3 1070.9M419.6 1029.9L420.5 1033.6M422.4 1033.1L418.7 1034.1M425.5 1033.4L426.5 1037.1M427.5 1036.8L425.6 1037.4M378.8 1007.2L383.2 1052.5M383.7 1052.5L382.7 1052.6M372.1 1008.5L372.4 1012.8M378.0 1012.4A225 225 0 0 1 366.9 1013.1M362.2 1014.4L363.5 1078.7M368.5 1078.5A290 290 0 0 1 358.5 1078.7M356.1 1018.8L356.0 1027.6M356.5 1027.6L355.6 1027.6M354.3 1019.5L353.7 1066.8M354.2 1066.8L353.1 1066.8M352.1 1020.3L350.6 1084.9M351.7 1084.9L349.5 1084.9M349.4 1021.4L347.6 1074.3M348.7 1074.4L346.5 1074.3M347.1 1022.5L346.0 1047.7M346.5 1047.7L345.5 1047.6M342.6 1023.4L341.1 1047.3M343.5 1047.4A259 259 0 0 1 338.6 1047.1M336.1 1025.2L332.8 1061.8M336.5 1062.1A274 274 0 0 1 329.1 1061.5M330.3 1027.8L327.3 1054.1M328.9 1054.2L325.8 1053.9M326.4 1029.3L322.0 1063.7M322.5 1063.8L321.5 1063.7M323.6 1029.7L318.7 1064.2M320.3 1064.4L317.1 1064.0M319.1 1031.0L313.8 1064.4M314.9 1064.5L312.8 1064.2M321.1 1005.0L312.5 1056.4M313.0 1056.5L312.0 1056.3M318.1 1005.2L312.0 1038.5M313.9 1038.9L310.1 1038.2M311.4 1006.4L302.0 1050.6M305.6 1051.3A268 268 0 0 1 298.5 1049.8M300.8 1008.4L294.9 1031.3M298.6 1032.2A250 250 0 0 1 291.2 1030.3M293.1 1010.0L276.5 1067.0M279.7 1067.9A290 290 0 0 1 273.3 1066.1M285.9 1010.7L276.4 1040.1M279.8 1041.1A264 264 0 0 1 273.1 1039.0M280.7 1012.3L277.6 1021.2M278.0 1021.4L277.1 1021.1M278.7 1012.4L260.5 1064.1M261.0 1064.3L260.0 1063.9M275.0 1011.9L267.5 1032.3M269.8 1033.1A260 260 0 0 1 265.2 1031.4M266.9 1012.6L247.5 1060.6M249.0 1061.2L245.9 1059.9M262.4 1012.5L245.9 1051.3M247.9 1052.2A285 285 0 0 1 243.9 1050.5M257.8 1012.7L247.0 1036.9M248.4 1037.6L245.5 1036.3M257.6 995.8L248.1 1015.4M252.9 1017.7A252 252 0 0 1 243.4 1013.1M238.4 1014.2L230.5 1029.3M233.2 1030.7A272 272 0 0 1 227.7 1027.8M225.7 1023.9L209.1 1053.5M211.7 1054.9A303 303 0 0 1 206.6 1052.0M215.0 984.5L199.1 1006.4M200.3 1007.3L197.8 1005.4M215.9 993.7L204.5 1010.3M207.9 1012.6A269 269 0 0 1 201.1 1008.0M213.7 1011.2L208.9 1018.6M211.6 1020.3A274 274 0 0 1 206.3 1016.9M212.4 1027.0L201.5 1044.8M203.5 1046.0A300 300 0 0 1 199.6 1043.6M200.8 963.0L183.2 982.5M185.0 984.2A261 261 0 0 1 181.3 980.9M202.2 969.6L199.6 972.6M201.4 974.1A242 242 0 0 1 197.9 971.1M202.8 975.3L201.9 976.3M202.7 976.9L201.2 975.7M204.1 978.9L181.2 1007.2M182.5 1008.2L180.0 1006.1M204.6 982.7L184.0 1008.9M184.4 1009.2L183.5 1008.6M206.0 985.5L193.8 1001.4M195.0 1002.3L192.6 1000.4M207.1 990.5L200.3 999.5M200.7 999.8L199.9 999.2M174.7 974.8L141.5 1008.6M143.2 1010.2A308 308 0 0 1 139.9 1006.9M163.5 971.0L133.5 999.2M139.6 1005.5A307 307 0 0 1 127.6 992.7M142.6 975.0L136.5 980.3M137.2 981.1L135.7 979.4M138.0 974.6L129.6 981.7M130.3 982.6L128.8 980.8M133.1 973.6L111.1 991.7M112.3 993.1L110.0 990.3M150.0 930.5L145.2 933.8M145.8 934.6L144.7 932.9M149.6 933.7L110.1 961.2M110.4 961.7L109.7 960.8M149.5 936.1L146.2 938.5M146.4 938.9L145.9 938.1M151.2 940.9L145.1 945.4M147.3 948.2A264 264 0 0 1 143.1 942.6M150.5 949.6L126.7 968.0M128.1 969.8A292 292 0 0 1 125.3 966.3M149.8 954.6L120.6 977.9M121.0 978.3L120.3 977.4M135.3 933.8L109.7 950.5M110.6 951.9L108.8 949.0M127.6 930.8L126.7 931.3M127.2 932.2L126.1 930.5M123.7 928.3L97.7 943.8M98.9 945.8A303 303 0 0 1 96.5 941.8M117.1 923.7L87.9 940.0M90.2 944.1A309 309 0 0 1 85.6 935.9M108.3 920.5L85.3 932.7M86.1 934.3L84.4 931.2M101.9 914.1L77.6 926.0M80.5 931.9A312 312 0 0 1 74.7 920.1M90.7 909.6L89.3 910.2M90.0 911.8L88.6 908.7M86.1 906.1L67.8 914.0M68.8 916.2A316 316 0 0 1 66.9 911.8M80.3 903.0L70.0 907.2M70.2 907.8L69.8 906.7M97.8 865.6L90.4 867.8M90.6 868.3L90.3 867.3M95.7 869.5L86.7 872.3M86.8 872.8L86.5 871.7M94.7 877.0L83.5 880.7M85.0 884.9A289 289 0 0 1 82.2 876.5M88.2 887.3L58.8 898.0M59.6 900.3A318 318 0 0 1 58.0 895.7M84.9 896.3L59.4 906.3M60.6 909.1A320 320 0 0 1 58.3 903.4M104.6 851.1L86.0 855.7M88.0 863.5A280 280 0 0 1 84.2 847.9M82.9 845.4L48.5 852.5M48.6 853.1L48.4 851.9M78.1 839.2L61.8 842.1M62.7 846.7A300 300 0 0 1 61.1 837.6M79.7 781.0L47.3 780.1M47.2 790.8A310 310 0 0 1 47.8 769.4M67.0 794.5L53.4 794.8M53.4 795.4L53.4 794.2M66.1 803.5L51.1 804.2M51.6 811.9A307 307 0 0 1 50.8 796.6M58.6 816.5L45.4 817.7M45.8 821.9A313 313 0 0 1 45.0 813.6M54.8 830.4L45.1 831.7M46.2 838.8A315 315 0 0 1 44.2 824.5M73.4 768.9L62.8 768.1M62.7 769.2L62.9 767.0M71.2 761.0L44.4 758.4M43.9 764.4A315 315 0 0 1 45.0 752.4M60.1 749.5L53.6 748.7M53.5 749.8L53.8 747.5M57.7 746.3L38.1 743.5M38.0 744.1L38.2 742.9M54.7 735.2L40.4 732.7M39.5 738.1A322 322 0 0 1 41.4 727.2M83.0 719.9L68.2 716.2M67.4 719.5A298 298 0 0 1 69.1 712.9M75.4 727.1L71.0 726.1M70.1 730.5A293 293 0 0 1 72.0 721.8M94.9 701.6L80.6 696.9M78.4 703.8A292 292 0 0 1 83.0 690.0M80.9 711.4L50.5 702.9M49.6 706.5A319 319 0 0 1 51.5 699.4" fill="none" stroke="#163A7C" stroke-width="0.6"/>
<path d="M149.5 668.2L100.4 639.6M100.1 640.1L100.7 639.1M149.4 665.4L111.6 643.0M111.0 643.9L112.1 642.0M150.2 657.1L131.7 645.3M129.5 648.8A268 268 0 0 1 133.9 641.9M147.9 648.8L120.5 630.5M119.9 631.4L121.1 629.6M149.3 641.5L147.4 640.1M145.1 643.4A257 257 0 0 1 149.7 636.9M147.5 632.8L114.2 608.1M113.5 609.1L114.9 607.2M149.1 627.1L114.2 600.0M111.7 603.3A308 308 0 0 1 116.7 596.8M147.7 619.5L138.1 611.7M137.8 612.2L138.4 611.3M151.9 612.2L134.8 597.5M130.1 603.1A294 294 0 0 1 139.6 592.0M150.7 593.9L144.8 588.4M144.4 588.8L145.2 588.0M174.1 613.3L150.9 591.1M150.5 591.5L151.3 590.7M171.4 608.0L154.6 591.7M154.3 592.1L155.0 591.3M164.5 587.1L146.3 568.1M143.8 570.5A305 305 0 0 1 148.8 565.7M172.6 584.1L159.6 569.7M157.5 571.6A295 295 0 0 1 161.7 567.8M170.4 570.2L156.4 553.9M153.3 556.6A309 309 0 0 1 159.6 551.2M165.0 554.0L156.7 543.9M155.8 544.7L157.7 543.2M188.3 575.0L179.5 563.8M177.3 565.6A287 287 0 0 1 181.6 562.2" fill="none" stroke="#2791F2" stroke-width="0.6"/>
<path d="M193.7 576.0L150.1 519.4M165.1 536.8L151.1 518.6M206.1 589.0L152.2 517.8M183.8 557.8L153.2 517.0M207.6 587.8L154.2 516.2M163.0 525.9L155.3 515.5M186.1 555.3L156.3 514.7M171.7 533.6L157.4 513.9M187.7 553.6L158.4 513.2M184.0 546.6L159.5 512.4M180.0 539.1L160.6 511.6M211.5 581.6L161.6 510.9M208.5 575.7L162.7 510.1M213.3 580.8L163.8 509.4M215.4 582.2L164.8 508.7M195.9 551.9L165.9 507.9M217.0 581.2L167.0 507.2M194.6 546.0L168.0 506.5M214.2 573.5L169.1 505.8M219.4 579.6L170.2 505.0M183.3 522.6L171.3 504.3M178.3 512.8L172.4 503.6M177.8 509.6L173.5 502.9M222.6 577.5L174.6 502.2M219.9 571.3L175.7 501.5M262.8 573.9L220.4 477.7M261.4 572.9L219.2 478.2M234.3 514.9L218.0 478.7M233.9 516.7L216.9 479.3M217.1 483.0L215.7 479.8M223.4 499.5L214.5 480.3M229.4 515.3L213.3 480.9M240.6 541.7L212.1 481.4M246.8 556.9L211.0 482.0M214.9 493.1L209.8 482.6M223.9 514.6L208.6 483.1M239.7 549.3L207.4 483.7M243.2 558.7L206.3 484.3M215.1 504.7L205.1 484.9M241.6 559.8L204.0 485.4M212.9 505.8L202.8 486.0M203.6 490.4L201.6 486.6M203.6 493.2L200.5 487.2M210.2 508.5L199.3 487.8M215.8 521.7L198.2 488.4M211.6 516.3L197.0 489.1M213.8 522.8L195.9 489.7M217.2 531.6L194.7 490.3M217.8 534.9L193.6 490.9M216.9 535.5L192.5 491.5M211.3 527.8L191.3 492.2M214.9 536.6L190.2 492.8M193.1 500.6L189.1 493.5M195.3 506.9L187.9 494.1M205.3 526.6L186.8 494.8M198.0 516.4L185.7 495.4M190.9 506.8L184.6 496.1M194.0 514.5L183.4 496.7M188.8 508.1L182.3 497.4M194.8 520.5L181.2 498.1M193.6 520.8L180.1 498.8M180.6 502.1L179.0 499.4M191.8 522.4L177.9 500.1M182.1 509.3L176.8 500.8M316.2 517.2L306.4 452.7M313.1 504.3L305.1 452.9M306.5 469.8L303.8 453.1M313.1 517.7L302.5 453.3M312.0 517.9L301.2 453.5M311.0 518.1L300.0 453.7M300.1 462.2L298.7 453.9M299.4 465.3L297.4 454.2M305.6 505.9L296.1 454.4M304.3 504.8L294.8 454.6M295.9 467.3L293.6 454.9M300.6 497.5L292.3 455.1M296.1 481.1L291.0 455.4M294.9 480.9L289.7 455.6M290.2 464.4L288.5 455.9M296.1 498.4L287.2 456.2M289.7 473.9L285.9 456.4M291.5 487.9L284.6 456.7M292.8 499.1L283.4 457.0M285.9 473.8L282.1 457.3M284.3 472.5L280.8 457.6M287.1 489.8L279.6 457.9M283.4 479.4L278.3 458.2M282.4 480.7L277.0 458.5M278.0 467.8L275.8 458.8M282.5 490.9L274.5 459.1M278.7 480.6L273.2 459.4M280.2 491.5L272.0 459.7M279.1 491.8L270.7 460.1M274.4 478.7L269.5 460.4M271.4 472.6L268.2 460.7M269.1 468.7L267.0 461.1M270.2 477.3L265.7 461.4M267.6 472.8L264.4 461.8M268.1 479.0L263.2 462.1M263.6 468.3L261.9 462.5M270.1 494.4L260.7 462.9M268.9 494.7L259.5 463.2M267.3 493.4L258.2 463.6M266.7 495.4L257.0 464.0M261.5 483.0L255.7 464.4M257.0 472.6L254.5 464.8M259.9 485.9L253.2 465.2M262.2 496.8L252.0 465.6M267.8 517.6L250.8 466.0M256.7 487.8L249.5 466.4M265.8 518.3L248.3 466.8M254.0 487.3L247.1 467.2M251.3 483.4L245.8 467.7M248.8 479.9L244.6 468.1M261.6 519.7L243.4 468.5M249.3 488.8L242.2 469.0M243.3 475.7L240.9 469.4M254.7 510.5L239.7 469.9M253.7 510.9L238.5 470.3M242.2 483.7L237.3 470.8M254.4 519.2L236.1 471.2M253.2 519.2L234.8 471.7M235.0 475.6L233.6 472.2M244.2 502.4L232.4 472.6M236.3 485.9L231.2 473.1M236.4 489.4L230.0 473.6M243.6 510.4L228.8 474.1M242.6 510.8L227.6 474.6M245.1 519.8L226.4 475.1M229.1 484.9L225.2 475.6M231.9 494.7L224.0 476.1M225.4 482.5L222.8 476.6M229.7 495.6L221.6 477.1M358.0 578.5L358.2 448.8M357.1 577.3L356.9 448.8M356.3 576.2L355.6 448.8M355.5 575.1L354.3 448.8M354.7 573.9L353.0 448.8M352.1 469.8L351.7 448.8M351.7 512.5L350.4 448.9M350.5 506.5L349.1 448.9M350.0 526.2L347.8 448.9M347.0 465.3L346.5 449.0M348.2 531.4L345.2 449.0M347.1 528.9L343.9 449.1M346.1 528.9L342.6 449.1M343.1 486.0L341.3 449.2M344.1 529.0L340.0 449.2M339.7 466.1L338.7 449.3M338.3 463.5L337.4 449.4M341.1 529.2L336.1 449.5M339.6 521.6L334.8 449.6M335.2 472.9L333.5 449.6M337.0 513.1L332.2 449.7M339.2 555.0L330.9 449.8M331.0 466.1L329.6 449.9M332.4 496.9L328.3 450.1M331.1 495.2L327.0 450.2M326.8 461.5L325.7 450.3M330.8 515.6L324.5 450.4M329.8 515.7L323.2 450.5M330.9 536.5L321.9 450.7M329.9 536.6L320.6 450.8M329.0 536.7L319.3 451.0M321.5 481.0L318.0 451.1M325.2 522.0L316.7 451.3M326.1 537.1L315.4 451.4M319.3 492.1L314.1 451.6M324.6 540.3L312.8 451.7M319.7 511.8L311.5 451.9M316.7 498.2L310.2 452.1M317.6 512.1L309.0 452.3M311.9 481.1L307.7 452.5M359.0 540.5L359.5 448.8M359.9 540.5L360.8 448.8M360.9 540.5L362.1 448.8M362.8 483.4L363.4 448.9M363.9 487.0L364.7 448.9M363.7 540.5L366.0 448.9M365.3 519.9L367.3 448.9M367.6 479.7L368.6 449.0M369.4 463.0L369.9 449.0M367.5 540.7L371.2 449.1M368.5 540.7L372.5 449.1M368.0 569.7L373.8 449.2M368.9 569.4L375.1 449.3M374.8 478.4L376.4 449.3M374.8 499.1L377.7 449.4M376.8 484.4L379.0 449.5M377.8 487.3L380.3 449.6M379.3 482.1L381.6 449.7M382.2 459.4L382.9 449.8M383.9 454.1L384.2 449.9M385.0 455.9L385.5 450.0M386.4 454.8L386.8 450.1M386.8 465.2L388.1 450.2M384.7 500.8L389.4 450.3M387.6 481.9L390.7 450.4M387.7 492.8L392.0 450.6M387.7 503.8L393.3 450.7M383.2 554.5L394.6 450.8M383.0 564.6L395.9 451.0M383.9 564.3L397.2 451.1M388.7 531.8L398.5 451.3M391.9 514.1L399.8 451.4M394.2 504.3L401.0 451.6M388.7 554.0L402.3 451.8M389.6 554.1L403.6 451.9M390.5 554.2L404.9 452.1M390.2 562.6L406.2 452.3M400.2 501.7L407.5 452.5M406.2 469.7L408.8 452.7M406.2 477.9L410.1 452.9M397.4 540.0L411.3 453.1M400.0 530.0L412.6 453.3M404.2 511.0L413.9 453.5M406.6 503.5L415.2 453.7M402.0 536.2L416.5 454.0M401.6 544.0L417.8 454.2M402.5 544.2L419.0 454.4M415.2 481.9L420.3 454.7M406.8 531.9L421.6 454.9M418.1 479.7L422.9 455.1M407.4 539.1L424.2 455.4M408.4 539.3L425.4 455.7M424.4 467.1L426.7 455.9M410.3 539.6L428.0 456.2M422.4 488.1L429.2 456.5M437.3 596.0L487.5 474.7M462.5 532.3L486.3 474.2M455.3 547.4L485.1 473.7M454.4 547.0L483.9 473.2M465.6 515.9L482.7 472.7M435.6 589.5L481.5 472.2M461.4 520.5L480.3 471.8M456.8 529.6L479.1 471.3M450.8 542.4L477.9 470.8M459.9 515.2L476.7 470.4M447.8 544.6L475.4 469.9M457.8 514.4L474.2 469.5M452.3 526.4L473.0 469.0M432.3 579.2L471.8 468.6M452.4 519.6L470.5 468.1M459.1 497.0L469.3 467.7M430.9 575.3L468.1 467.3M454.3 503.8L466.8 466.9M446.9 522.3L465.6 466.4M429.5 571.4L464.4 466.0M429.0 570.1L463.1 465.6M428.5 568.9L461.9 465.2M432.3 553.9L460.7 464.8M435.1 541.9L459.4 464.4M450.4 489.1L458.2 464.1M429.6 553.1L456.9 463.7M442.9 505.6L455.7 463.3M427.8 552.6L454.5 462.9M426.9 552.3L453.2 462.5M428.9 542.0L452.0 462.2M425.1 551.8L450.7 461.8M443.6 482.4L449.5 461.5M439.1 493.9L448.2 461.1M421.7 553.5L446.9 460.8M421.0 552.2L445.7 460.4M420.4 550.9L444.4 460.1M430.8 507.3L443.2 459.8M439.8 467.6L441.9 459.4M435.4 479.9L440.7 459.1M427.6 506.5L439.4 458.8M435.3 469.9L438.1 458.5M429.7 487.9L436.9 458.2M415.7 542.1L435.6 457.9M420.5 517.2L434.3 457.6M418.5 521.1L433.1 457.3M417.5 520.9L431.8 457.0M427.0 472.9L430.5 456.7M456.1 553.3L488.7 475.2M482.8 492.6L489.9 475.7M462.9 542.2L491.1 476.2M467.5 534.2L492.3 476.7M483.4 500.5L493.5 477.2M461.7 552.6L494.7 477.7M482.2 509.0L495.9 478.2M487.9 499.1L497.1 478.8M464.4 553.8L498.3 479.3M471.4 540.9L499.5 479.9M466.2 554.6L500.7 480.4M467.1 555.0L501.8 481.0M468.6 554.1L503.0 481.5M496.9 497.2L504.2 482.1M483.8 527.2L505.4 482.6M502.0 492.4L506.5 483.2M480.2 539.7L507.7 483.8M474.2 554.2L508.9 484.4M475.2 554.2L510.0 484.9M476.3 554.3L511.2 485.5M502.6 505.1L512.3 486.1M487.1 537.9L513.5 486.7M485.3 543.6L514.7 487.3M495.6 526.4L515.8 487.9M510.1 501.4L517.0 488.5M508.7 506.7L518.1 489.1M489.0 545.6L519.3 489.7M511.9 506.0L520.4 490.4M490.4 547.6L521.5 491.0M491.3 548.1L522.7 491.6M492.2 548.6L523.8 492.3M493.1 549.1L524.9 492.9M500.7 538.1L526.1 493.5M515.5 514.4L527.2 494.2M495.9 550.7L528.3 494.8M496.8 551.2L529.5 495.5M510.4 530.3L530.6 496.2M522.7 511.9L531.7 496.8M501.5 549.5L532.8 497.5M524.3 514.0L533.9 498.2M501.3 553.9L535.0 498.8M500.2 557.7L536.1 499.5M508.4 546.6L537.3 500.2M527.5 518.2L538.4 500.9M530.5 515.7L539.5 501.6M521.0 532.9L540.6 502.3M522.0 533.5L541.6 503.0M506.8 559.1L542.7 503.7M539.2 511.5L543.8 504.4M518.8 544.7L544.9 505.1M533.4 524.8L546.0 505.8M536.7 522.0L547.1 506.6M521.6 546.5L548.2 507.3M522.5 547.2L549.2 508.0M523.4 547.8L550.3 508.8M529.2 541.5L551.4 509.5M526.7 547.0L552.4 510.2M544.3 524.1L553.5 511.0M528.6 548.3L554.6 511.7M528.0 551.0L555.6 512.5M521.0 562.6L556.7 513.3M547.3 528.4L557.7 514.0M532.8 550.1L558.8 514.8M521.2 567.7L559.8 515.6M522.5 567.8L560.9 516.3M546.3 537.9L561.9 517.1M548.5 537.0L563.0 517.9M560.1 523.8L564.0 518.7M545.8 544.5L565.0 519.5M562.9 524.4L566.1 520.3M559.8 530.4L567.1 521.1M550.8 543.8L568.1 521.9M567.1 525.3L569.1 522.7M566.8 527.7L570.1 523.5M549.1 551.6L571.2 524.3M560.7 539.2L572.2 525.1M549.7 554.6L573.2 526.0M566.8 535.7L574.2 526.8M540.8 568.8L575.2 527.6M542.1 569.0L576.2 528.5M543.5 569.1L577.2 529.3M574.7 534.2L578.2 530.1M564.9 547.6L579.2 531.0M566.7 547.3L580.1 531.8M562.9 553.6L581.1 532.7M556.0 563.2L582.1 533.5M550.2 571.4L583.1 534.4M559.4 562.9L584.0 535.3M564.7 558.7L585.0 536.1M566.4 605.9L613.3 564.8M597.0 577.5L612.5 563.9M597.6 575.3L611.6 562.9M582.5 587.3L610.7 561.9M589.9 579.0L609.9 561.0M580.9 585.5L609.0 560.0M589.3 576.3L608.1 559.0M592.7 571.5L607.2 558.1M585.4 576.7L606.3 557.1M600.2 561.1L605.5 556.2M577.0 581.3L604.6 555.2M576.2 580.5L603.7 554.3M599.7 556.3L602.8 553.3M574.6 578.8L601.9 552.4M579.3 572.6L601.0 551.5M576.1 574.0L600.1 550.5M577.8 570.8L599.1 549.6M592.5 554.3L598.2 548.7M592.4 552.7L597.3 547.8M574.6 568.9L596.4 546.9M578.4 563.3L595.4 545.9M581.4 558.5L594.5 545.0M585.6 552.4L593.6 544.1M582.0 554.3L592.6 543.2M578.6 556.2L591.7 542.3M589.4 542.9L590.8 541.4M587.6 542.9L589.8 540.5M579.4 549.8L588.9 539.7M583.2 543.9L587.9 538.8M558.1 569.4L586.9 537.9M557.7 568.1L586.0 537.0M574.1 600.7L614.2 565.8M574.9 601.4L615.0 566.8M598.0 583.1L615.9 567.8M592.9 589.0L616.7 568.8M577.4 603.6L617.6 569.8M596.8 588.8L618.4 570.8M612.4 577.4L619.2 571.8M600.5 588.9L620.1 572.8M608.9 583.5L620.9 573.8M593.0 598.0L621.7 574.8M615.9 581.1L622.5 575.8M596.0 598.6L623.3 576.8M595.2 600.7L624.1 577.8M595.9 601.6L624.9 578.9M614.7 588.5L625.7 579.9M609.2 594.3L626.5 580.9M608.3 596.5L627.3 581.9M605.2 600.4L628.1 583.0M605.2 601.9L628.9 584.0M589.6 615.1L629.7 585.1M590.3 615.9L630.5 586.1M591.1 616.7L631.2 587.2M591.9 617.5L632.0 588.2M613.9 602.9L632.8 589.3M621.0 599.3L633.5 590.3M632.2 592.9L634.3 591.4M619.5 603.4L635.1 592.4M625.0 601.0L635.8 593.5M596.6 622.4L636.6 594.6M597.3 623.2L637.3 595.6M598.1 624.0L638.0 596.7M633.4 601.4L638.8 597.8M631.2 604.4L639.5 598.8M618.4 614.5L640.2 599.9M633.8 605.7L640.9 601.0M619.8 616.5L641.7 602.1M626.7 613.4L642.4 603.2M630.5 612.4L643.1 604.3M640.6 607.4L643.8 605.4M630.9 615.1L644.5 606.5M642.4 609.3L645.2 607.6M637.1 614.2L645.9 608.7M615.5 629.0L646.6 609.8M643.8 613.0L647.2 610.9M608.4 636.0L647.9 612.0M609.2 636.9L648.6 613.1M644.9 616.8L649.3 614.2M638.6 622.0L649.9 615.3M633.5 626.5L650.6 616.5M634.1 627.6L651.2 617.6M637.4 627.1L651.9 618.7M650.2 621.2L652.5 619.8M635.9 630.8L653.2 621.0M645.5 626.8L653.8 622.1M645.9 628.0L654.5 623.2M652.3 625.9L655.1 624.4M641.2 633.5L655.7 625.5M645.9 632.3L656.3 626.7M655.0 628.8L657.0 627.8M624.1 646.8L657.6 628.9M624.7 647.8L658.2 630.1M616.5 653.4L658.8 631.2M651.0 636.8L659.4 632.4M654.1 636.6L660.0 633.6M649.6 640.3L660.6 634.7M620.2 656.5L661.2 635.9M651.3 642.3L661.8 637.0M644.1 647.2L662.3 638.2M657.5 642.0L662.9 639.4M645.1 649.4L663.5 640.5M645.7 650.5L664.0 641.7M647.0 651.3L664.6 642.9M662.9 645.1L665.2 644.1M663.4 646.3L665.7 645.2M661.0 648.9L666.3 646.4M648.3 656.1L666.8 647.6M663.0 650.8L667.3 648.8M638.3 663.2L667.9 650.0M638.7 664.3L668.4 651.2M664.0 654.5L668.9 652.4M644.9 664.2L669.4 653.6M651.3 662.8L670.0 654.7M645.8 666.4L670.5 655.9M646.3 667.5L671.0 657.1M661.9 662.3L671.5 658.3M647.2 669.7L672.0 659.5M641.7 729.3L690.3 719.2M666.4 722.9L690.0 717.9M671.7 720.5L689.7 716.6M665.9 720.6L689.5 715.3M680.3 716.1L689.2 714.1M686.0 713.5L688.9 712.8M665.1 717.0L688.6 711.5M676.0 713.2L688.3 710.3M642.7 719.9L688.0 709.0M649.8 717.0L687.7 707.7M673.4 710.0L687.4 706.5M643.0 716.4L687.1 705.2M679.0 706.0L686.7 704.0M679.0 704.6L686.4 702.7M647.8 711.6L686.1 701.4M663.6 706.2L685.7 700.2M659.1 706.1L685.4 698.9M655.4 705.9L685.1 697.7M654.2 705.0L684.7 696.4M664.7 700.8L684.4 695.2M673.4 697.0L684.0 693.9M667.6 697.4L683.6 692.7M664.9 696.9L683.3 691.4M643.8 702.0L682.9 690.2M643.8 700.8L682.5 688.9M662.2 693.9L682.1 687.7M670.8 689.9L681.7 686.4M677.0 686.6L681.3 685.2M669.7 687.6L680.9 684.0M664.0 688.2L680.5 682.7M670.4 684.7L680.1 681.5M643.9 692.3L679.7 680.3M668.8 682.6L679.3 679.0M668.6 681.3L678.9 677.8M663.9 681.7L678.4 676.6M663.5 680.5L678.0 675.3M672.4 676.0L677.6 674.1M662.6 678.2L677.1 672.9M672.2 673.3L676.7 671.7M664.6 674.8L676.2 670.5M667.6 672.3L675.8 669.2M667.8 670.9L675.3 668.0M667.7 669.5L674.9 666.8M671.0 666.9L674.4 665.6M666.5 667.3L673.9 664.4M664.6 666.7L673.4 663.2M658.6 667.7L673.0 662.0M669.0 662.2L672.5 660.8M669.6 774.6L697.1 773.3M685.8 772.6L697.1 772.0M669.4 772.2L697.0 770.7M669.4 771.0L696.9 769.4M663.8 770.1L696.9 768.1M664.0 769.0L696.8 766.8M676.6 766.9L696.7 765.5M684.4 765.1L696.6 764.2M691.4 763.3L696.5 762.9M678.4 763.1L696.4 761.6M678.3 761.9L696.3 760.3M685.9 759.9L696.2 759.0M689.8 758.3L696.1 757.7M678.0 758.2L696.0 756.4M677.8 756.9L695.8 755.2M687.7 754.7L695.7 753.9M672.8 755.0L695.6 752.6M682.5 752.7L695.4 751.3M676.0 752.2L695.3 750.0M672.4 751.4L695.1 748.7M672.2 750.2L695.0 747.4M687.9 747.0L694.8 746.1M671.9 747.8L694.6 744.8M666.0 747.3L694.5 743.5M686.7 743.3L694.3 742.2M678.8 743.1L694.1 740.9M689.1 740.4L693.9 739.7M678.4 740.7L693.7 738.4M689.3 737.7L693.5 737.1M684.5 737.2L693.3 735.8M678.6 736.9L693.1 734.5M677.7 735.8L692.9 733.2M677.4 734.5L692.7 731.9M684.5 732.0L692.5 730.7M689.1 729.9L692.3 729.4M676.8 730.9L692.0 728.1M684.6 728.2L691.8 726.8M685.6 726.7L691.6 725.5M667.1 728.9L691.3 724.3M666.9 727.8L691.1 723.0M669.4 726.0L690.8 721.7M666.7 725.3L690.6 720.4" fill="none" stroke="#BE2A31" stroke-width="0.95"/>
<path d="M677.9 775.5L697.2 774.7M675.9 776.9L697.3 776.1M676.0 778.2L697.3 777.5M680.2 779.4L697.4 778.9M690.9 780.4L697.4 780.3M693.6 781.8L697.4 781.7M676.7 783.4L697.5 783.1M676.1 784.8L697.5 784.5M688.9 786.0L697.5 785.9M694.1 787.3L697.5 787.3M671.6 788.7L697.5 788.7" fill="none" stroke="#EAA42B" stroke-width="0.95"/>
<path d="M679.7 790.0L697.5 790.1M679.7 791.3L697.5 791.5M683.9 792.7L697.5 792.9M680.3 794.0L697.5 794.2M682.9 795.3L697.4 795.6M685.7 796.7L697.4 797.0" fill="none" stroke="#46C1B2" stroke-width="0.95"/>
<path d="M660.0 797.3L697.4 798.4M661.1 798.6L697.3 799.7M687.4 800.7L697.3 801.1M683.4 801.9L697.2 802.4M692.7 803.6L697.2 803.7M683.6 804.4L697.1 805.1M683.0 805.7L697.0 806.4M694.0 807.6L697.0 807.8M689.8 808.7L696.9 809.1M692.0 810.2L696.8 810.5M670.4 810.0L696.7 811.8M686.0 812.4L696.6 813.1M692.6 814.2L696.5 814.5M685.8 815.0L696.4 815.8M685.7 816.3L696.3 817.2" fill="none" stroke="#B9DC3C" stroke-width="0.95"/>
<path d="M637.6 813.4L696.2 818.5M489.6 800.9L696.1 819.8M512.7 803.6L696.0 821.1M540.5 807.0L695.8 822.4M676.2 821.7L695.7 823.7M672.6 822.5L695.6 825.0M618.6 817.7L695.4 826.3M667.8 824.4L695.3 827.5M640.6 822.4L695.1 828.8M615.2 820.4L695.0 830.1M496.8 806.4L694.8 831.4M513.2 809.1L694.7 832.7M633.7 825.8L694.5 834.0M633.6 826.9L694.3 835.3M570.0 819.0L694.1 836.6M602.4 824.5L693.9 837.9M568.8 820.4L693.8 839.1M579.2 822.9L693.6 840.4M479.0 807.9L693.4 841.7M534.6 817.4L693.2 843.0M600.2 828.9L692.9 844.3M672.7 842.2L692.7 845.6M553.1 822.7L692.5 846.8M530.0 819.4L692.3 848.1M529.9 820.0L692.1 849.4M554.4 825.2L691.8 850.7M663.0 846.6L691.6 852.0M566.2 829.1L691.3 853.2M664.2 849.2L691.1 854.5M623.6 842.3L690.8 855.8M614.7 841.5L690.6 857.1M623.9 844.5L690.3 858.3M665.1 854.3L690.0 859.6M558.5 832.4L689.8 860.9M540.7 829.3L689.5 862.2M544.5 830.9L689.2 863.4M637.6 852.9L688.9 864.7M657.3 858.7L688.6 866.0M642.2 856.3L688.3 867.2M575.9 841.5L688.0 868.5M674.4 866.5L687.7 869.7M585.2 845.5L687.4 871.0M409.6 802.0L687.1 872.3M411.2 802.6L686.8 873.5M412.9 803.3L686.4 874.8M639.9 863.8L686.1 876.0M494.1 825.6L685.8 877.3M449.6 814.0L685.4 878.6M528.7 836.4L685.1 879.8M449.4 814.7L684.7 881.1M514.6 833.7L684.4 882.3M604.1 860.4L684.0 883.6M425.8 808.9L683.7 884.8M551.2 846.6L683.3 886.1M551.0 847.4L682.9 887.3M588.9 859.8L682.5 888.5M432.5 812.1L682.2 889.8M657.9 883.5L681.8 891.0M550.0 850.3L681.4 892.3M432.2 813.0L681.0 893.5M523.2 843.1L680.6 894.7M628.2 878.7L680.2 896.0M501.5 837.2L679.8 897.2M484.9 832.2L679.3 898.4M444.6 818.9L678.9 899.7M446.2 819.8L678.5 900.9M602.0 875.2L678.1 902.1M642.2 890.7L677.6 903.4M643.1 892.2L677.2 904.6M643.8 893.7L676.7 905.8M465.1 828.7L676.3 907.0M627.4 890.1L675.8 908.2M469.2 831.2L675.4 909.5M616.9 888.4L674.9 910.7M483.4 837.7L674.4 911.9M486.9 839.6L674.0 913.1M468.6 832.9L673.5 914.3M565.8 872.5L673.0 915.5M468.2 833.8L672.5 916.7M590.7 884.5L672.0 917.9M467.9 834.6L671.5 919.1M599.2 890.2L671.0 920.3M543.2 867.5L670.5 921.5M467.3 835.9L670.0 922.7M531.5 864.2L669.5 923.9M573.7 883.4L669.0 925.1M505.6 854.3L668.5 926.3M489.6 847.8L667.9 927.5M585.5 891.7L667.4 928.7M513.7 860.0L666.9 929.8M466.0 838.8L666.3 931.0M495.6 853.1L665.8 932.2M465.7 839.6L665.2 933.4M592.7 900.4L664.7 934.6M625.3 917.1L664.1 935.7M591.8 902.2L663.5 936.9M591.4 903.1L663.0 938.1M535.2 876.5L662.4 939.2M619.6 919.4L661.8 940.4M638.6 930.2L661.2 941.6M545.2 884.1L660.7 942.7M580.0 902.9L660.1 943.9M543.3 884.9L659.5 945.0M499.6 863.0L658.9 946.2M579.2 929.5L644.6 971.0M636.2 964.1L645.3 969.9M541.4 903.5L646.0 968.8M585.4 929.8L646.7 967.7M533.5 896.7L647.3 966.6M578.4 923.1L648.0 965.4M534.3 895.4L648.7 964.3M534.7 894.7L649.4 963.2M544.9 899.8L650.0 962.1M536.4 893.9L650.7 961.0M535.9 892.7L651.3 959.9M536.3 892.0L652.0 958.7M536.7 891.3L652.6 957.6M566.1 907.1L653.3 956.5M531.6 886.6L653.9 955.3M599.5 923.6L654.6 954.2M619.9 933.6L655.2 953.1M554.1 896.3L655.8 951.9M538.2 886.7L656.4 950.8M533.4 883.3L657.0 949.6M541.3 886.6L657.7 948.5M619.4 926.8L658.3 947.4M545.6 909.2L643.9 972.1M468.3 860.3L643.2 973.2M553.4 916.3L642.5 974.2M545.9 912.4L641.8 975.3M626.5 966.8L641.0 976.4M544.9 913.9L640.3 977.5M576.1 935.8L639.6 978.6M507.0 890.2L638.9 979.7M506.6 890.8L638.1 980.7M615.4 966.6L637.4 981.8M505.8 891.9L636.7 982.9M585.0 948.2L635.9 983.9M505.0 893.0L635.2 985.0M574.3 943.2L634.4 986.1M550.9 927.7L633.7 987.1M601.6 965.5L632.9 988.2M503.4 895.3L632.1 989.2M556.9 935.5L631.4 990.3M606.9 973.7L630.6 991.3M582.6 957.1L629.8 992.4M621.8 988.0L629.0 993.4M600.1 973.1L628.3 994.4M611.9 983.6L627.5 995.5M609.6 983.3L626.7 996.5M557.7 944.5L625.9 997.5M556.1 944.5L625.1 998.6M553.1 943.3L624.3 999.6M600.7 982.5L623.5 1000.6M558.4 950.0L622.7 1001.6M552.0 946.1L621.8 1002.6M526.7 926.7L621.0 1003.6M478.7 888.4L620.2 1004.6M479.9 890.1L619.4 1005.6M481.1 891.9L618.5 1006.6M612.4 1003.1L617.7 1007.6M575.3 973.4L616.9 1008.6M570.1 970.4L616.0 1009.6M570.5 972.2L615.2 1010.6M486.8 901.0L614.3 1011.6M488.0 902.8L613.5 1012.6M489.1 904.7L612.6 1013.6M521.0 933.9L611.8 1014.5M569.7 978.7L610.9 1015.5M600.7 1008.1L610.0 1016.5M587.9 998.1L609.1 1017.4M523.2 940.5L608.3 1018.4M512.3 931.7L607.4 1019.4M511.8 932.3L606.5 1020.3M555.4 974.2L605.6 1021.3M556.9 977.1L604.7 1022.2M554.9 976.6L603.8 1023.1M553.1 976.3L602.9 1024.1M553.2 977.8L602.0 1025.0M539.3 965.8L601.1 1026.0M554.0 981.5L600.2 1026.9M572.8 1001.6L599.3 1027.8M515.4 946.1L598.4 1028.7M514.8 946.7L597.5 1029.7M578.0 1011.9L596.6 1030.6M563.5 998.8L595.6 1031.5M450.5 924.8L549.5 1069.4M454.1 928.9L550.6 1068.7M459.5 935.4L551.6 1067.9M461.2 936.8L552.7 1067.2M515.5 1012.3L553.8 1066.4M488.4 972.6L554.8 1065.7M506.7 996.5L555.9 1064.9M506.4 994.4L556.9 1064.2M500.2 984.2L558.0 1063.4M491.2 970.5L559.0 1062.6M535.5 1028.8L560.1 1061.9M452.3 915.5L561.1 1061.1M552.9 1048.0L562.2 1060.3M453.2 914.8L563.2 1059.5M513.7 992.8L564.2 1058.7M454.2 914.1L565.3 1057.9M454.7 913.7L566.3 1057.1M560.0 1047.0L567.3 1056.3M529.9 1006.9L568.3 1055.5M538.8 1016.4L569.3 1054.7M524.1 996.3L570.4 1053.9M465.3 922.0L571.4 1053.1M467.0 923.0L572.4 1052.3M468.7 924.1L573.4 1051.5M470.4 925.1L574.4 1050.6M472.1 926.1L575.4 1049.8M519.2 981.1L576.4 1049.0M504.4 962.0L577.4 1048.1M548.2 1012.0L578.4 1047.3M556.5 1019.9L579.4 1046.4M506.3 960.3L580.3 1045.6M482.7 932.0L581.3 1044.7M484.5 932.9L582.3 1043.9M486.3 933.9L583.3 1043.0M488.2 934.8L584.2 1042.2M525.6 975.2L585.2 1041.3M521.9 969.7L586.2 1040.4M565.5 1015.9L587.1 1039.5M501.1 944.4L588.1 1038.7M516.0 959.2L589.0 1037.8M576.5 1022.5L590.0 1036.9M541.1 983.2L590.9 1036.0M582.3 1025.0L591.9 1035.1M545.7 985.0L592.8 1034.2M559.6 997.9L593.8 1033.3M532.3 968.3L594.7 1032.4M419.6 943.2L484.3 1104.3M420.5 944.0L485.5 1103.8M463.5 1047.0L486.7 1103.3M456.8 1028.0L487.9 1102.8M443.5 993.8L489.1 1102.3M463.7 1039.2L490.3 1101.8M460.4 1028.8L491.5 1101.3M461.1 1027.8L492.7 1100.8M472.6 1051.8L493.8 1100.3M428.7 949.7L495.0 1099.7M464.4 1028.1L496.2 1099.2M488.4 1078.7L497.4 1098.7M435.8 960.4L498.6 1098.1M467.2 1026.8L499.8 1097.6M490.6 1074.7L501.0 1097.1M443.1 971.0L502.1 1096.5M438.4 959.2L503.3 1095.9M496.2 1078.1L504.5 1095.4M439.7 958.5L505.7 1094.8M441.6 960.9L506.8 1094.3M441.0 957.9L508.0 1093.7M503.6 1082.0L509.2 1093.1M491.4 1054.9L510.3 1092.5M443.9 958.9L511.5 1091.9M445.0 959.5L512.6 1091.3M471.7 1009.5L513.8 1090.7M489.8 1042.1L514.9 1090.1M473.4 1008.6L516.1 1089.5M474.3 1008.2L517.2 1088.9M481.9 1020.3L518.4 1088.3M487.1 1027.9L519.5 1087.7M515.9 1078.4L520.7 1087.1M469.1 991.0L521.8 1086.5M502.8 1049.7L523.0 1085.8M516.7 1072.1L524.1 1085.2M467.0 981.9L525.2 1084.6M485.9 1013.1L526.4 1083.9M507.4 1048.5L527.5 1083.3M495.4 1025.6L528.6 1082.6M469.9 980.2L529.7 1082.0M519.9 1062.7L530.8 1081.3M480.8 995.0L532.0 1080.6M503.3 1030.6L533.1 1080.0M523.9 1062.3L534.2 1079.3M484.0 994.9L535.3 1078.6M504.8 1026.8L536.4 1077.9M525.6 1058.2L537.5 1077.2M484.8 991.1L538.6 1076.5M502.7 1017.5L539.7 1075.9M479.3 979.0L540.8 1075.2M504.3 1016.1L541.9 1074.4M505.1 1015.6L543.0 1073.7M516.7 1031.4L544.1 1073.0M523.9 1040.1L545.2 1072.3M507.7 1013.9L546.2 1071.6M515.8 1024.0L547.3 1070.9M484.2 975.5L548.4 1070.1M413.2 983.4L451.1 1115.7M439.9 1072.4L452.3 1115.3M440.5 1070.7L453.6 1114.9M443.5 1076.7L454.8 1114.6M444.9 1077.4L456.1 1114.2M454.1 1103.3L457.3 1113.8M441.8 1059.5L458.5 1113.4M454.0 1094.6L459.8 1113.1M457.8 1102.7L461.0 1112.7M444.5 1057.5L462.3 1112.3M461.3 1105.3L463.5 1111.9M437.6 1030.0L464.7 1111.4M443.2 1043.5L466.0 1111.0M449.3 1058.1L467.2 1110.6M440.4 1029.0L468.4 1110.2M436.4 1014.7L469.7 1109.8M459.3 1076.6L470.9 1109.3M454.8 1060.6L472.1 1108.9M468.4 1095.0L473.3 1108.5M462.5 1075.1L474.5 1108.0M462.3 1071.4L475.8 1107.6M468.3 1084.1L477.0 1107.1M448.6 1028.6L478.2 1106.7M475.2 1095.2L479.4 1106.2M460.2 1053.1L480.6 1105.7M468.4 1071.0L481.8 1105.2M455.9 1036.3L483.0 1104.8M386.7 1061.0L393.7 1126.9M392.2 1101.5L395.0 1126.7M393.2 1099.5L396.3 1126.6M390.3 1065.2L397.6 1126.4M384.6 1010.1L398.9 1126.3M393.8 1076.1L400.2 1126.1M395.5 1080.5L401.5 1125.9M396.0 1075.8L402.7 1125.8M397.1 1075.6L404.0 1125.6M399.4 1083.7L405.3 1125.4M399.3 1075.3L406.6 1125.2M407.1 1119.9L407.9 1125.0M406.7 1108.7L409.2 1124.8M408.2 1110.3L410.5 1124.6M404.4 1078.8L411.8 1124.4M406.8 1086.6L413.0 1124.2M404.9 1068.2L414.3 1124.0M403.3 1052.7L415.6 1123.8M399.7 1026.9L416.9 1123.6M407.5 1064.5L418.2 1123.3M401.6 1026.6L419.4 1123.1M406.1 1045.7L420.7 1122.9M413.9 1080.5L422.0 1122.6M408.7 1048.3L423.3 1122.4M419.6 1097.5L424.5 1122.1M405.7 1023.9L425.8 1121.9M420.4 1089.4L427.1 1121.6M415.6 1061.4L428.4 1121.3M412.9 1044.1L429.6 1121.1M419.1 1067.5L430.9 1120.8M422.2 1076.0L432.2 1120.5M415.9 1043.5L433.4 1120.2M423.3 1070.9L434.7 1119.9M434.9 1115.2L436.0 1119.6M430.7 1092.2L437.2 1119.3M435.5 1106.7L438.5 1119.0M418.7 1034.1L439.8 1118.7M420.8 1038.6L441.0 1118.4M438.7 1104.2L442.3 1118.1M432.5 1075.3L443.5 1117.7M433.2 1073.8L444.8 1117.4M423.4 1033.1L446.1 1117.1M435.6 1074.1L447.3 1116.7M426.5 1037.1L448.6 1116.4M437.4 1072.2L449.8 1116.0M380.0 1006.7L392.4 1127.0M386.8 1083.3L391.1 1127.1M386.2 1089.2L389.8 1127.3M378.0 1012.4L388.5 1127.4M381.1 1057.3L387.2 1127.5M376.3 1012.5L385.9 1127.6M381.9 1093.8L384.7 1127.7M378.8 1067.6L383.4 1127.8M373.7 1012.7L382.1 1127.9M378.1 1089.3L380.8 1128.0M373.3 1033.1L379.5 1128.1M371.1 1012.9L378.2 1128.2M375.0 1095.3L376.9 1128.2M369.4 1013.0L375.6 1128.3M369.5 1031.9L374.3 1128.4M369.7 1056.4L373.0 1128.4M367.9 1038.8L371.7 1128.5M369.1 1093.9L370.4 1128.6M368.6 1114.5L369.1 1128.6M366.9 1099.5L367.8 1128.6M365.2 1078.6L366.5 1128.7M364.0 1078.7L365.2 1128.7M363.0 1083.9L363.9 1128.7M362.1 1098.8L362.6 1128.8M360.7 1078.7L361.3 1128.8M359.6 1078.7L360.0 1128.8M358.5 1078.7L358.7 1128.8M357.4 1018.4L357.4 1128.8M356.5 1027.6L356.1 1128.8M355.5 1043.5L354.8 1128.8M353.7 1111.6L353.5 1128.8M353.0 1076.9L352.2 1128.8M351.0 1123.5L350.9 1128.7M350.6 1084.9L349.6 1128.7M348.6 1116.0L348.3 1128.7M347.4 1116.3L347.0 1128.6M346.4 1109.1L345.7 1128.6M344.7 1119.6L344.4 1128.5M344.4 1096.8L343.1 1128.5M345.5 1047.6L341.8 1128.4M345.8 1023.2L340.5 1128.4M343.5 1047.4L339.2 1128.3M338.5 1117.8L337.9 1128.2M341.6 1047.3L336.6 1128.2M340.0 1055.4L335.3 1128.1M339.6 1047.2L334.0 1128.0M337.5 1062.3L332.7 1127.9M336.5 1062.1L331.4 1127.8M332.9 1092.8L330.1 1127.7M333.7 1070.1L328.8 1127.6M333.3 1061.9L327.5 1127.5M332.3 1061.8L326.2 1127.4M328.5 1090.0L324.9 1127.2M330.0 1063.0L323.6 1127.1M325.4 1097.2L322.3 1127.0M322.2 1116.0L321.0 1126.8M324.1 1087.5L319.7 1126.7M319.2 1120.1L318.5 1126.6M321.4 1091.2L317.2 1126.4M327.9 1029.1L315.9 1126.2M317.9 1099.9L314.6 1126.1M321.5 1063.7L313.3 1125.9M313.9 1111.9L312.0 1125.7M311.5 1119.8L310.7 1125.6M312.2 1106.1L309.4 1125.4M313.6 1088.0L308.1 1125.2M321.0 1030.9L306.9 1125.0M314.9 1064.5L305.6 1124.8M313.8 1064.7L304.3 1124.6M312.8 1064.2L303.0 1124.4M309.7 1076.5L301.7 1124.2M311.9 1056.5L300.4 1124.0M301.7 1109.0L299.2 1123.8M313.0 1038.7L297.9 1123.5M304.4 1080.5L296.6 1123.3M309.0 1049.3L295.3 1123.1M303.1 1074.9L294.0 1122.8M315.2 1006.7L292.8 1122.6M296.9 1095.1L291.5 1122.3M303.9 1054.1L290.2 1122.1M291.6 1108.7L288.9 1121.8M299.7 1064.2L287.7 1121.6M301.5 1050.5L286.4 1121.3M289.6 1100.7L285.1 1121.0M299.5 1050.0L283.9 1120.7M291.5 1081.0L282.6 1120.4M307.0 1008.6L281.3 1120.2M306.0 1008.8L280.1 1119.9M305.1 1009.0L278.8 1119.6M293.0 1055.2L277.5 1119.3M283.9 1087.9L276.3 1119.0M277.5 1108.4L275.0 1118.6M287.5 1064.2L273.7 1118.3M294.9 1031.3L272.5 1118.0M292.0 1038.6L271.2 1117.7M291.2 1037.5L270.0 1117.3M273.4 1099.6L268.7 1117.0M269.4 1109.7L267.5 1116.7M268.5 1108.0L266.2 1116.3M278.6 1067.6L264.9 1116.0M277.6 1067.3L263.7 1115.6M267.6 1097.6L262.4 1115.2M271.5 1080.0L261.2 1114.9M270.0 1080.8L260.0 1114.5M273.3 1066.1L258.7 1114.1M277.8 1047.7L257.5 1113.8M276.1 1049.6L256.2 1113.4M258.5 1101.7L255.0 1113.0M276.9 1040.2L253.7 1112.6M260.5 1087.6L252.5 1112.2M261.8 1079.9L251.3 1111.8M274.0 1039.3L250.0 1111.4M273.1 1039.0L248.8 1111.0M262.3 1067.4L247.6 1110.5M257.4 1078.3L246.3 1110.1M261.0 1064.3L245.1 1109.7M252.5 1085.0L243.9 1109.3M250.7 1086.3L242.7 1108.8M268.9 1032.8L241.4 1108.4M256.6 1063.4L240.2 1107.9M267.0 1032.1L239.0 1107.5M247.5 1081.2L237.8 1107.0M265.2 1031.4L236.6 1106.6M271.2 1013.1L235.4 1106.1M270.2 1013.1L234.1 1105.6M269.2 1013.1L232.9 1105.2M235.0 1096.3L231.7 1104.7M248.0 1060.8L230.5 1104.2M232.4 1096.1L229.3 1103.7M240.9 1072.2L228.1 1103.2M247.9 1052.2L226.9 1102.7M238.0 1073.1L225.7 1102.2M235.6 1075.6L224.5 1101.7M241.3 1059.3L223.3 1101.2M237.1 1066.2L222.1 1100.7M241.0 1054.4L220.9 1100.2M247.4 1037.2L219.7 1099.6M246.5 1036.7L218.5 1099.1M245.5 1036.3L217.4 1098.6M252.9 1017.7L216.2 1098.0M252.0 1017.3L215.0 1097.5M251.2 1016.9L213.8 1096.9M243.8 1030.3L212.6 1096.4M215.3 1087.7L211.5 1095.8M248.6 1015.6L210.3 1095.3M229.3 1053.1L209.1 1094.7M246.8 1014.8L208.0 1094.1M227.1 1052.4L206.8 1093.6M233.3 1037.5L205.6 1093.0M222.8 1056.1L204.5 1092.4M243.4 1013.1L203.3 1091.8M233.2 1030.7L202.1 1091.2M228.0 1038.6L201.0 1090.6M231.4 1029.7L199.8 1090.0M230.5 1029.3L198.7 1089.4M221.3 1044.3L197.5 1088.8M220.2 1044.0L196.4 1088.2M217.0 1047.5L195.2 1087.6M210.9 1056.3L194.1 1087.0M210.7 1054.3L193.0 1086.3M199.0 1072.9L191.8 1085.7M208.6 1053.2L190.7 1085.1M194.9 1075.0L189.6 1084.4M199.8 1064.0L188.4 1083.8M216.3 1033.0L187.3 1083.1M214.3 1034.3L186.2 1082.5M212.3 1035.6L185.1 1081.8M210.3 1036.8L183.9 1081.2M177.4 1033.2L155.8 1062.5M198.7 1006.0L156.8 1063.3M198.7 1007.8L157.9 1064.0M170.9 1048.1L158.9 1064.8M180.0 1037.5L160.0 1065.5M201.9 1008.6L161.0 1066.3M202.8 1009.1L162.1 1067.0M179.7 1044.1L163.2 1067.8M177.2 1049.8L164.2 1068.5M205.3 1010.9L165.3 1069.3M175.1 1057.2L166.4 1070.0M173.1 1062.3L167.5 1070.7M173.9 1063.4L168.5 1071.5M179.7 1057.0L169.6 1072.2M187.1 1048.0L170.7 1072.9M208.1 1018.0L171.8 1073.6M196.1 1038.4L172.9 1074.3M209.8 1019.1L174.0 1075.0M184.5 1060.8L175.1 1075.7M211.6 1020.3L176.2 1076.4M210.6 1023.8L177.3 1077.1M196.1 1049.1L178.4 1077.8M199.1 1046.6L179.5 1078.5M201.5 1044.8L180.6 1079.2M197.3 1054.1L181.7 1079.8M203.5 1046.0L182.8 1080.5M198.5 958.2L124.8 1036.7M198.7 959.3L125.8 1037.6M198.9 960.4L126.7 1038.5M160.8 1003.2L127.7 1039.4M155.1 1011.2L128.6 1040.2M144.0 1025.2L129.6 1041.1M139.6 1031.9L130.6 1042.0M140.4 1032.8L131.5 1042.9M185.0 984.2L132.5 1043.7M166.1 1007.4L133.5 1044.6M141.2 1037.7L134.5 1045.4M150.9 1028.3L135.5 1046.3M149.3 1032.0L136.4 1047.1M161.4 1019.8L137.4 1048.0M146.8 1038.9L138.4 1048.8M185.1 995.0L139.4 1049.6M201.9 976.3L140.4 1050.5M170.1 1016.4L141.4 1051.3M180.0 1006.1L142.4 1052.1M149.6 1045.3L143.4 1053.0M152.8 1043.4L144.4 1053.8M182.5 1008.2L145.5 1054.6M183.5 1008.6L146.5 1055.4M184.4 1009.2L147.5 1056.2M169.3 1030.3L148.5 1057.0M158.1 1046.7L149.6 1057.8M171.4 1031.4L150.6 1058.6M195.0 1002.3L151.6 1059.4M206.3 989.1L152.7 1060.2M182.2 1022.9L153.7 1060.9M159.1 1055.9L154.7 1061.7M180.5 975.9L123.9 1035.8M179.1 976.0L122.9 1034.9M177.6 976.1L122.0 1034.0M143.2 1010.2L121.1 1033.1M122.6 1029.7L120.1 1032.2M128.1 1022.3L119.2 1031.3M127.9 1020.7L118.3 1030.4M120.4 1026.4L117.4 1029.5M127.6 1017.5L116.4 1028.6M119.8 1023.5L115.5 1027.6M138.0 1003.8L114.6 1026.7M127.8 1012.0L113.7 1025.8M122.7 1015.3L112.8 1024.8M135.5 1001.3L111.9 1023.9M134.7 1000.4L111.0 1023.0M133.9 999.6L110.1 1022.0M123.2 1007.9L109.2 1021.1M125.4 1004.3L108.3 1020.1M117.1 1010.2L107.4 1019.2M118.4 1007.4L106.6 1018.2M116.7 1007.2L105.7 1017.3M108.9 1012.6L104.8 1016.3M106.8 1012.8L103.9 1015.3M112.0 1006.5L103.1 1014.3M144.8 975.9L102.2 1013.4M112.1 1003.0L101.4 1012.4M123.8 991.2L100.5 1011.4M125.0 988.6L99.7 1010.4M102.8 1006.0L98.8 1009.4M127.9 983.1L98.0 1008.5M102.1 1003.3L97.1 1007.5M112.3 993.1L96.3 1006.5M104.0 998.4L95.5 1005.5M110.7 991.3L94.6 1004.5M110.0 990.3L93.8 1003.4M128.0 974.2L93.0 1002.4M124.2 946.8L76.0 979.5M140.3 937.1L76.7 980.5M110.5 958.8L77.5 981.6M109.7 960.8L78.2 982.7M87.0 978.1L78.9 983.7M145.9 938.1L79.7 984.8M88.8 979.9L80.4 985.9M87.7 982.3L81.2 986.9M96.3 977.6L82.0 988.0M144.3 944.2L82.7 989.0M144.8 945.0L83.5 990.1M102.2 977.9L84.3 991.1M118.0 967.6L85.0 992.2M103.0 980.3L85.8 993.2M97.4 986.0L86.6 994.2M109.2 978.6L87.4 995.3M121.4 970.7L88.2 996.3M103.3 986.2L89.0 997.3M127.4 968.9L89.8 998.4M122.8 973.9L90.6 999.4M115.6 981.2L91.4 1000.4M107.3 989.3L92.2 1001.4M138.4 936.0L75.3 978.4M137.2 935.5L74.5 977.3M82.3 970.6L73.8 976.2M103.0 955.6L73.1 975.1M99.6 956.3L72.4 974.0M80.5 967.2L71.7 972.9M131.6 933.1L71.0 971.9M130.4 932.7L70.3 970.8M129.3 932.1L69.6 969.7M126.5 932.7L68.9 968.6M74.4 963.6L68.2 967.5M126.1 930.5L67.5 966.3M85.6 953.8L66.9 965.2M98.3 944.8L66.2 964.1M84.8 951.5L65.5 963.0M89.5 947.3L64.9 961.9M86.1 948.0L64.2 960.8M71.2 955.2L63.5 959.6M88.4 943.8L62.9 958.5M67.8 954.2L62.2 957.4M76.3 948.0L61.6 956.3M64.2 953.3L61.0 955.1M87.3 939.0L60.3 954.0M74.9 944.5L59.7 952.9M61.7 950.3L59.1 951.7M73.7 942.3L58.5 950.6M83.3 935.8L57.8 949.4M80.9 935.7L57.2 948.3M61.4 944.6L56.6 947.1M81.9 932.5L56.0 946.0M64.5 940.1L55.4 944.8M69.1 936.4L54.8 943.7M79.4 929.7L54.2 942.5M78.9 928.7L53.6 941.4M58.1 937.7L53.1 940.2M76.0 927.4L52.5 939.0M77.3 925.5L51.9 937.9M76.8 924.4L51.3 936.7M71.5 925.6L50.8 935.5M56.4 931.4L50.2 934.3M68.6 924.3L49.7 933.2M63.7 925.2L49.1 932.0M71.6 920.2L48.6 930.8M62.4 923.1L48.0 929.6M71.3 917.7L47.5 928.4M78.8 913.0L47.0 927.3M68.8 916.2L46.4 926.1M68.3 915.1L45.9 924.9M67.8 914.0L45.4 923.7M55.2 918.1L44.9 922.5M46.5 920.4L44.4 921.3M81.6 904.3L43.9 920.1M70.2 907.8L43.4 918.9M69.8 906.7L42.9 917.7M99.1 862.5L30.5 882.1M98.4 863.8L30.9 883.3M78.9 870.6L31.3 884.6M89.6 868.6L31.6 885.8M96.2 867.7L32.0 887.1M40.7 885.8L32.4 888.3M86.8 872.8L32.8 889.6M94.1 871.6L33.2 890.8M62.4 882.8L33.6 892.0M48.8 888.5L33.9 893.3M40.5 892.5L34.4 894.5M41.4 893.5L34.8 895.7M65.8 886.7L35.2 897.0M47.0 894.3L35.6 898.2M40.8 897.8L36.0 899.4M44.1 898.0L36.4 900.7M85.0 884.9L36.9 901.9M58.0 895.7L37.3 903.1M58.4 896.9L37.7 904.3M47.3 902.2L38.2 905.6M41.2 905.8L38.6 906.8M54.5 902.2L39.1 908.0M84.4 892.2L39.5 909.2M50.2 906.5L40.0 910.4M58.8 904.6L40.5 911.6M59.2 905.7L40.9 912.9M46.5 912.1L41.4 914.1M60.1 908.0L41.9 915.3M60.6 909.1L42.4 916.5M107.9 859.0L30.2 880.8M63.9 870.1L29.8 879.6M87.8 862.4L29.5 878.3M87.5 861.4L29.2 877.1M87.2 860.4L28.8 875.8M48.4 869.4L28.5 874.6M81.1 859.7L28.2 873.3M44.6 867.8L27.8 872.0M59.4 862.8L27.5 870.8M48.5 864.3L27.2 869.5M85.6 854.1L26.9 868.2M85.4 853.1L26.6 867.0M61.1 857.6L26.3 865.7M84.9 851.0L26.0 864.4M84.7 850.0L25.7 863.2M84.4 848.9L25.5 861.9M46.1 856.1L25.2 860.6M84.4 846.7L24.9 859.4M48.6 853.1L24.6 858.1M35.1 854.6L24.4 856.8M80.3 844.3L24.1 855.5M29.0 853.3L23.9 854.3M44.2 849.0L23.6 853.0M26.6 851.1L23.4 851.7M62.1 843.3L23.1 850.4M61.8 842.1L22.9 849.2M33.2 846.0L22.7 847.9M29.3 845.4L22.4 846.6M56.6 839.5L22.2 845.3M61.1 837.6L22.0 844.0M22.3 767.8L18.2 767.6M24.1 769.2L18.1 768.9M42.0 771.5L18.0 770.2M47.6 773.0L17.9 771.5M21.4 772.9L17.9 772.8M44.1 775.2L17.8 774.1M41.1 776.3L17.8 775.4M27.1 777.0L17.7 776.7M29.9 778.4L17.7 778.0M47.3 780.1L17.6 779.3M31.4 780.9L17.6 780.6M44.4 782.4L17.6 781.9M40.6 783.6L17.5 783.2M40.8 784.8L17.5 784.5M45.4 786.0L17.5 785.8M40.3 787.2L17.5 787.1M20.0 788.4L17.5 788.4M47.1 789.6L17.5 789.7M21.4 791.0L17.5 791.0M68.2 791.8L17.5 792.3M67.6 792.9L17.5 793.6M21.2 794.8L17.6 794.9M53.4 795.4L17.6 796.2M36.7 797.0L17.6 797.5M34.5 798.3L17.6 798.8M50.9 799.0L17.7 800.1M25.4 801.1L17.7 801.4M29.0 802.2L17.8 802.7M27.2 803.6L17.8 804.0M51.1 803.7L17.9 805.3M26.7 806.1L18.0 806.6M44.3 806.4L18.0 807.9M51.3 807.2L18.1 809.2M27.3 809.9L18.2 810.5M32.0 810.8L18.3 811.8M50.6 810.8L18.4 813.1M49.2 812.0L18.5 814.4M45.0 813.6L18.6 815.7M33.5 815.7L18.7 816.9M45.2 815.9L18.8 818.2M45.3 817.1L18.9 819.5M45.1 818.4L19.0 820.8M26.3 821.4L19.1 822.1M40.0 821.3L19.3 823.4M44.2 822.1L19.4 824.7M54.4 822.2L19.5 826.0M44.2 824.5L19.7 827.3M27.1 827.7L19.8 828.6M41.6 827.3L20.0 829.9M26.2 830.4L20.2 831.2M44.8 829.3L20.3 832.5M45.0 830.5L20.5 833.8M26.3 834.3L20.7 835.0M39.7 833.7L20.8 836.3M45.5 834.1L21.0 837.6M37.3 836.5L21.2 838.9M26.2 839.4L21.4 840.2M39.9 838.6L21.6 841.5M46.2 838.8L21.8 842.8M57.8 768.9L18.2 766.3M40.4 766.5L18.3 765.0M42.3 765.5L18.4 763.7M34.5 763.6L18.5 762.4M44.0 763.2L18.6 761.1M35.7 761.3L18.7 759.8M44.2 760.8L18.9 758.5M22.1 757.5L19.0 757.2M24.3 756.4L19.1 755.9M34.0 756.1L19.2 754.6M44.6 756.0L19.4 753.3M43.0 754.6L19.5 752.0M23.3 751.2L19.6 750.8M32.8 751.0L19.8 749.5M61.6 753.2L19.9 748.2M60.8 751.9L20.1 746.9M22.9 745.9L20.3 745.6M28.8 745.4L20.4 744.3M29.4 744.2L20.6 743.0M30.4 743.1L20.8 741.7M28.9 741.6L21.0 740.4M56.1 744.3L21.1 739.1M55.3 743.0L21.3 737.9M54.5 741.7L21.5 736.6M24.4 735.7L21.7 735.3M30.6 735.4L21.9 734.0M37.1 735.2L22.2 732.7M40.1 734.5L22.4 731.4M40.3 733.3L22.6 730.2M28.0 729.8L22.8 728.9M31.9 729.2L23.1 727.6M41.0 729.6L23.3 726.3M32.3 726.7L23.5 725.0M41.2 727.2L23.8 723.8M63.6 711.4L28.7 702.2M57.6 711.1L28.4 703.5M65.2 714.2L28.1 704.7M32.3 707.1L27.7 706.0M49.6 712.7L27.4 707.3M47.7 713.5L27.1 708.5M50.7 715.5L26.8 709.8M53.6 717.4L26.5 711.1M71.8 722.8L26.2 712.3M71.5 723.9L25.9 713.6M68.2 724.3L25.6 714.9M71.0 726.1L25.4 716.1M59.7 724.8L25.1 717.4M70.6 728.3L24.8 718.7M55.6 726.4L24.5 719.9M57.5 728.0L24.3 721.2M67.0 731.0L24.0 722.5M41.5 675.1L37.6 673.7M55.3 681.3L37.1 674.9M71.0 688.2L36.7 676.1M53.3 683.3L36.3 677.4M81.5 694.2L35.9 678.6M70.0 691.5L35.4 679.8M46.5 684.9L35.0 681.1M80.5 697.4L34.6 682.3M58.6 691.5L34.2 683.5M69.0 696.1L33.8 684.8M66.7 696.5L33.4 686.0M51.5 693.0L33.0 687.2M78.8 702.7L32.6 688.5M78.4 703.8L32.3 689.7M83.7 706.5L31.9 691.0M82.8 707.4L31.5 692.2M51.5 699.4L31.1 693.5M38.7 697.0L30.8 694.7M39.4 698.5L30.4 696.0M47.2 702.0L30.1 697.2M50.2 704.1L29.7 698.5M37.2 701.8L29.4 699.7M38.8 703.6L29.0 701.0" fill="none" stroke="#163A7C" stroke-width="0.95"/>
<path d="M74.4 625.3L63.1 618.7M93.7 635.1L63.7 617.6M100.9 637.9L64.4 616.5M74.4 620.9L65.1 615.4M75.1 619.9L65.7 614.3M148.5 662.7L66.4 613.1M148.4 661.5L67.1 612.0M129.5 648.8L67.7 610.9M127.6 646.4L68.4 609.8M82.0 616.7L69.1 608.7M100.4 626.8L69.8 607.6M103.5 627.4L70.5 606.5M112.4 631.8L71.2 605.4M93.9 618.5L71.9 604.3M93.2 616.6L72.6 603.2M133.9 641.9L73.3 602.1M93.0 613.6L74.1 601.0M120.5 630.5L74.8 599.9M121.1 629.6L75.5 598.9M147.1 645.9L76.2 597.8M145.1 643.4L77.0 596.7M83.6 599.7L77.7 595.6M92.1 604.1L78.4 594.6M119.1 621.5L79.2 593.5M147.4 640.1L79.9 592.4M117.3 617.5L80.7 591.4M148.5 638.5L81.5 590.3M105.9 606.4L82.2 589.2M90.5 593.7L83.0 588.2M96.1 596.2L83.8 587.1M94.9 593.8L84.5 586.1M99.8 595.9L85.3 585.0M111.7 603.3L86.1 584.0M112.4 602.4L86.9 583.0M113.1 601.4L87.7 581.9M91.7 583.4L88.5 580.9M113.4 598.7L89.3 579.9M115.3 598.6L90.1 578.8M99.3 584.5L90.9 577.8M115.2 595.6L91.7 576.8M134.1 609.2L92.5 575.8M101.4 581.3L93.3 574.8M119.7 594.6L94.1 573.8M118.9 592.4L95.0 572.7M107.1 581.1L95.8 571.7M132.2 600.5L96.6 570.7M132.9 599.6L97.5 569.7M133.7 598.8L98.3 568.7M134.4 597.9L99.2 567.8M135.1 597.1L100.0 566.8M118.6 581.2L100.9 565.8M115.6 577.0L101.7 564.8M134.0 591.6L102.6 563.8M135.3 591.2L103.4 562.8M138.8 592.8L104.3 561.9M138.5 591.0L105.2 560.9M149.5 599.5L106.1 559.9M149.7 598.2L106.9 559.0M149.9 596.9L107.8 558.0M150.1 595.6L108.7 557.1M113.1 559.4L109.6 556.1M145.2 588.0L110.5 555.2M129.8 571.8L111.4 554.2M117.4 558.2L112.3 553.3M154.3 592.1L113.2 552.3M145.9 582.5L114.1 551.4M168.4 603.0L115.0 550.5M167.2 600.3L115.9 549.5M165.9 597.6L116.8 548.6M164.6 594.8L117.8 547.7M163.4 592.1L118.7 546.8M137.2 563.9L119.6 545.9M137.7 562.6L120.6 545.0M124.0 546.6L121.5 544.1M135.1 556.4L122.4 543.2M147.1 567.3L123.4 542.3M148.0 566.5L124.3 541.4M147.2 563.9L125.3 540.5M171.2 588.0L126.2 539.6M139.7 552.3L127.2 538.7M148.4 559.9L128.1 537.8M159.2 570.1L129.1 536.9M160.0 569.3L130.1 536.1M139.4 544.5L131.0 535.2M138.4 541.5L132.0 534.3M141.8 543.4L133.0 533.5M136.7 535.8L134.0 532.6M155.1 555.0L135.0 531.7M138.3 533.7L135.9 530.9M156.9 553.5L136.9 530.1M150.6 544.2L137.9 529.2M149.0 540.4L138.9 528.4M143.7 532.0L139.9 527.5M146.7 533.7L140.9 526.7M155.5 542.4L141.9 525.9M154.2 538.9L142.9 525.0M181.6 562.2L149.1 520.2M178.8 560.3L148.0 521.0M164.6 544.2L147.0 521.8M168.8 551.3L146.0 522.6M163.4 546.5L145.0 523.4M169.9 556.4L144.0 524.2" fill="none" stroke="#2791F2" stroke-width="0.95"/>
<path d="M357.5 788.8L235.6 624.0M235.6 624.0A205 205 0 0 1 444.1 603.0M444.1 603.0L463.2 562.2M357.5 788.8L185.1 644.2M357.5 788.8L653.4 782.6M357.5 788.8L657.1 804.5M357.5 788.8L387.5 840.8M415.5 804.3A60 60 0 0 1 387.5 840.8M394.5 852.9A74 74 0 0 1 342.1 861.2M387.5 840.8L394.5 852.9M342.1 861.2L313.0 998.1M350.0 1002.7A214 214 0 0 1 257.0 977.8" fill="none" stroke="#333" stroke-width="0.5"/>
<path d="M148.2 518.0A342.2 342.2 0 0 1 699.4 773.9" fill="none" stroke="#BE2A31" stroke-width="4.4"/>
<path d="M142.2 510.2A352.1 352.1 0 0 1 709.3 773.4" fill="none" stroke="#BE2A31" stroke-width="8.4"/>
<path d="M699.4 773.9A342.2 342.2 0 0 1 699.7 789.4" fill="none" stroke="#EAA42B" stroke-width="4.4"/>
<path d="M709.3 773.4A352.1 352.1 0 0 1 709.6 789.4" fill="none" stroke="#EAA42B" stroke-width="8.4"/>
<path d="M699.7 789.4A342.2 342.2 0 0 1 699.6 797.8" fill="none" stroke="#46C1B2" stroke-width="4.4"/>
<path d="M709.6 789.4A352.1 352.1 0 0 1 709.5 798.0" fill="none" stroke="#46C1B2" stroke-width="8.4"/>
<path d="M699.6 797.8A342.2 342.2 0 0 1 698.4 818.0" fill="none" stroke="#B9DC3C" stroke-width="4.4"/>
<path d="M709.5 798.0A352.1 352.1 0 0 1 708.3 818.9" fill="none" stroke="#B9DC3C" stroke-width="8.4"/>
<path d="M698.4 818.0A342.2 342.2 0 1 1 35.7 672.3" fill="none" stroke="#163A7C" stroke-width="4.4"/>
<path d="M708.3 818.9A352.1 352.1 0 1 1 26.4 669.0" fill="none" stroke="#163A7C" stroke-width="8.4"/>
<path d="M60.8 618.2A342.2 342.2 0 0 1 148.2 518.0" fill="none" stroke="#2791F2" stroke-width="4.4"/>
<path d="M52.3 613.3A352.1 352.1 0 0 1 142.2 510.2" fill="none" stroke="#2791F2" stroke-width="8.4"/>
<text x="47" y="508.8" font-size="24.5" fill="#0B6B12" font-family="Liberation Sans, Arial, sans-serif">Ogre</text>
<line x1="96.9" y1="514.8" x2="105.6" y2="532.2" stroke="#222" stroke-width="1.8"/>
<text x="469.6" y="617.8" font-size="24.5" fill="#BE2A31" font-family="Liberation Sans, Arial, sans-serif">Athila</text>
<text x="192.3" y="679" font-size="24.5" fill="#2791F2" font-family="Liberation Sans, Arial, sans-serif">Retand</text>
<text x="548" y="765.4" font-size="24.5" fill="#EAA42B" font-family="Liberation Sans, Arial, sans-serif">CRM</text>
<text x="556.8" y="787.8" font-size="24.5" fill="#46C1B2" font-family="Liberation Sans, Arial, sans-serif">Reina</text>
<text x="544.7" y="808.8" font-size="24.5" fill="#B9DC3C" font-family="Liberation Sans, Arial, sans-serif">Galadriel</text>
<text x="258.5" y="943.4" font-size="24.5" fill="#163A7C" font-family="Liberation Sans, Arial, sans-serif">Tekay</text>
<text transform="translate(492.6 1172.6) scale(0.97 1)" font-size="35.5" font-style="italic" font-family="Liberation Sans, Arial, sans-serif">Ty3_Gypsy</text>
<g stroke="#222" stroke-width="1.8"><line x1="623.6" y1="760" x2="646" y2="774"/><line x1="628" y1="782" x2="646" y2="785.5"/><line x1="646.5" y1="807.6" x2="659" y2="807.6"/></g>
<text x="710.9" y="469.7" font-size="42" font-weight="bold" font-family="Liberation Sans, Arial, sans-serif">c</text>
<line x1="781.6" y1="455.2" x2="781.6" y2="524.5" stroke="#000" stroke-width="3"/>
<line x1="778" y1="519.8" x2="781" y2="519.8" stroke="#000" stroke-width="3"/>
<text x="776.0" y="525.8" font-size="17" text-anchor="end" font-family="Liberation Sans, Arial, sans-serif">0</text>
<line x1="778" y1="498.4" x2="781" y2="498.4" stroke="#000" stroke-width="3"/>
<text x="776.0" y="504.4" font-size="17" text-anchor="end" font-family="Liberation Sans, Arial, sans-serif">20</text>
<line x1="778" y1="477.1" x2="781" y2="477.1" stroke="#000" stroke-width="3"/>
<text x="776.0" y="483.1" font-size="17" text-anchor="end" font-family="Liberation Sans, Arial, sans-serif">40</text>
<text transform="translate(1737.3 493.2) rotate(90)" font-size="17.5" text-anchor="middle" font-family="Liberation Sans, Arial, sans-serif">Chr01</text>
<path d="M844.4 519.8V479.2h3.2V519.8ZM868.0 519.8V502.7h3.2V519.8ZM933.4 519.8V489.9h3.2V519.8ZM1081.4 519.8V471.8h3.2V519.8ZM1527.2 519.8V493.1h3.2V519.8ZM1569.8 519.8V479.2h3.2V519.8ZM1653.4 519.8V489.9h3.2V519.8ZM1683.4 519.8V487.8h3.2V519.8Z" fill="#A3282C"/>
<path d="M823.4 515.5h1.5v-2.5h1.5v-0.5h1.5v0h1.5v-1.5h1.5v0.5h1.5v4.5h1.5v1h1.5v-1h1.5v-0.5h1.5v0h1.5v-0.5h1.5v0h1.5v1h1.5v-0.5h1.5v0h1.5v-1h1.5v-0.5h1.5v1.5h1.5v-6h1.5v1h1.5v0h1.5v4h1.5v1.5h1.5v1h1.5v-2h1.5v-0.5h1.5v0h1.5v0h1.5v-0.5h1.5v1h1.5v1h1.5v-0.5h1.5v-1h1.5v0.5h1.5v1.5h1.5v0h1.5v0.5h1.5v0h1.5v-0.5h1.5v0.5h1.5v-1h1.5v-1.5h1.5v1h1.5v0.5h1.5v-1.5h1.5v1h1.5v0.5h1.5v-0.5h1.5v1h1.5v-0.5h1.5v-1.5h1.5v0.5h1.5v-3.5h1.5v0.5h1.5v0h1.5v1.5h1.5v1.5h1.5v0h1.5v-1h1.5v2h1.5v0h1.5v-1.5h1.5v0.5h1.5v0h1.5v0.5h1.5v0.5h1.5v-1h1.5v-0.5h1.5v1.5h1.5v0h1.5v-1.5h1.5v1h1.5v1h1.5v-1h1.5v0.5h1.5v-0.5h1.5v-0.5h1.5v-0.5h1.5v1h1.5v0h1.5v1h1.5v-1.5h1.5v-0.5h1.5v1h1.5v0.5h1.5v-1h1.5v-2.5h1.5v3h1.5v-1h1.5v0.5h1.5v-8.5h1.5v7.5h1.5v1.5h1.5v0.5h1.5v-1.5h1.5v0.5h1.5v-0.5h1.5v1.5h1.5v-1.5h1.5v1.5h1.5v-1.5h1.5v0.5h1.5v-3.5h1.5v4.5h1.5v-1.5h1.5v1h1.5v0.5h1.5v0.5h1.5v0h1.5v0h1.5v-1h1.5v0h1.5v0h1.5v-6.5h1.5v0.5h1.5v0h1.5v2.5h1.5v3.5h1.5v0h1.5v-3.5h1.5v0.5h1.5v2h1.5v0.5h1.5v0h1.5v-0.5h1.5v0.5h1.5v-1h1.5v-0.5h1.5v1.5h1.5v-1h1.5v1.5h1.5v-2.5h1.5v0.5h1.5v1.5h1.5v-0.5h1.5v1h1.5v0h1.5v1h1.5v0h1.5v0h1.5v-2h1.5v0.5h1.5v1.5h1.5v-0.5h1.5v-1h1.5v0h1.5v-1h1.5v-0.5h1.5v-0.5h1.5v2h1.5v0h1.5v-0.5h1.5v1.5h1.5v-0.5h1.5v-1.5h1.5v-3h1.5v2.5h1.5v1h1.5v0.5h1.5v0.5h1.5v0h1.5v1h1.5v0.5h1.5v-0.5h1.5v-1.5h1.5v0h1.5v0.5h1.5v-0.5h1.5v0h1.5v0.5h1.5v-0.5h1.5v0h1.5v-1h1.5v1.5h1.5v0.5h1.5v-1h1.5v-1h1.5v-3h1.5v0h1.5v-0.5h1.5v4.5h1.5v1h1.5v-9h1.5v2h1.5v-1.5h1.5v7h1.5v-0.5h1.5v0h1.5v-0.5h1.5v1h1.5v1h1.5v1h1.5v-1.5h1.5v-1h1.5v0.5h1.5v0h1.5v1h1.5v1h1.5v-1.5h1.5v0.5h1.5v0h1.5v-1h1.5v-1h1.5v0h1.5v1.5h1.5v-1.5h1.5v-2.5h1.5v4h1.5v-1.5h1.5v0h1.5v0.5h1.5v-1.5h1.5v2.5h1.5v0h1.5v-0.5h1.5v1.5h1.5v0.5h1.5v-0.5h1.5v-5h1.5v-1.5h1.5v-1h1.5v7h1.5v-1.5h1.5v1h1.5v-1h1.5v1h1.5v0.5h1.5v1h1.5v0h1.5v-2h1.5v-0.5h1.5v-0.5h1.5v2h1.5v-8h1.5v8h1.5v0h1.5v1h1.5v-0.5h1.5v0h1.5v-1h1.5v-1h1.5v0.5h1.5v1h1.5v-3.5h1.5v-2.5h1.5v0.5h1.5v4.5h1.5v1.5h1.5v0h1.5v-0.5h1.5v1h1.5v-0.5h1.5v0.5h1.5v-0.5h1.5v-0.5h1.5v0h1.5v0.5h1.5v-1h1.5v1h1.5v-1h1.5v-4.5h1.5v0h1.5v0.5h1.5v1.5h1.5v3h1.5v0h1.5v-2.5h1.5v1h1.5v-2h1.5v0.5h1.5v2h1.5v-0.5h1.5v2h1.5v0h1.5v-0.5h1.5v-1h1.5v1.5h1.5v-1h1.5v-1h1.5v2h1.5v-1.5h1.5v0.5h1.5v-0.5h1.5v1.5h1.5v0.5h1.5v-1h1.5v-1.5h1.5v-7h1.5v0.5h1.5v1h1.5v7h1.5v0.5h1.5v-8h1.5v-1.5h1.5v2h1.5v2h1.5v0.5h1.5v-1h1.5v0h1.5v4.5h1.5v1.5h1.5v0h1.5v0.5h1.5v-1.5h1.5v1h1.5v0h1.5v0.5h1.5v-1.5h1.5v-1h1.5v1.5h1.5v0h1.5v-1.5h1.5v1h1.5v-1h1.5v-2h1.5v1h1.5v1h1.5v-1h1.5v3h1.5v0h1.5v-1.5h1.5v0.5h1.5v-4.5h1.5v-2.5h1.5v-1h1.5v0.5h1.5v8.5h1.5v0h1.5v0.5h1.5v-4h1.5v1h1.5v-0.5h1.5v2h1.5v2h1.5v-0.5h1.5v-8.5h1.5v-1h1.5v-1.5h1.5v10.5h1.5v0.5h1.5v-0.5h1.5v-1h1.5v-1h1.5v-6.5h1.5v1.5h1.5v0.5h1.5v2.5h1.5v0h1.5v3.5h1.5v0.5h1.5v-1h1.5v-0.5h1.5v1.5h1.5v-0.5h1.5v0.5h1.5v-1h1.5v-0.5h1.5v1h1.5v0.5h1.5v0h1.5v0h1.5v-1.5h1.5v1.5h1.5v0.5h1.5v-1h1.5v-4.5h1.5v3.5h1.5v1.5h1.5v0.5h1.5v-2h1.5v-0.5h1.5v-0.5h1.5v1.5h1.5v-1h1.5v0.5h1.5v1h1.5v1h1.5v0h1.5v-1h1.5v1h1.5v-1h1.5v0.5h1.5v-1.5h1.5v1.5h1.5v0h1.5v-3.5h1.5v-2h1.5v2h1.5v-2h1.5v1h1.5v3.5h1.5v0.5h1.5v-2h1.5v0h1.5v-2h1.5v5h1.5v-0.5h1.5v0.5h1.5v-0.5h1.5v0.5h1.5v-1.5h1.5v1h1.5v-1.5h1.5v-0.5h1.5v0h1.5v0h1.5v0h1.5v2h1.5v-3h1.5v-0.5h1.5v-2.5h1.5v5h1.5v-0.5h1.5v0h1.5v1h1.5v0h1.5v-2.5h1.5v-1.5h1.5v-1h1.5v2h1.5v3h1.5v-1h1.5v-0.5h1.5v-0.5h1.5v2.5h1.5v0h1.5v0.5h1.5v-2h1.5v-0.5h1.5v-0.5h1.5v-0.5h1.5v2h1.5v-5h1.5v0.5h1.5v-1h1.5v6h1.5v0h1.5v-0.5h1.5v0.5h1.5v0h1.5v0.5h1.5v0h1.5v0h1.5v1h1.5v-2h1.5v0h1.5v-1h1.5v0.5h1.5v0h1.5v0.5h1.5v1h1.5v1h1.5v-1.5h1.5v0.5h1.5v0h1.5v-1.5h1.5v-0.5h1.5v0h1.5v1.5h1.5v0h1.5v1h1.5v-1h1.5v1h1.5v0h1.5v-1h1.5v-0.5h1.5v1h1.5v0.5h1.5v0.5h1.5v-2h1.5v0.5h1.5v1h1.5v-1h1.5v-0.5h1.5v-1h1.5v1.5h1.5v1h1.5v-0.5h1.5v1h1.5v0h1.5v-2h1.5v1h1.5v-0.5h1.5v-1h1.5v1h1.5v1h1.5v-1.5h1.5v1.5h1.5v-1.5h1.5v-0.5h1.5v1h1.5v-7.5h1.5v0.5h1.5v0.5h1.5v6h1.5v-1h1.5v1.5h1.5v-3h1.5v1.5h1.5v1.5h1.5v0.5h1.5v-0.5h1.5v-1h1.5v-1h1.5v1h1.5v-3.5h1.5v4h1.5v1h1.5v0.5h1.5v-3.5h1.5v1.5h1.5v2h1.5v-5.5h1.5v4h1.5v-0.5h1.5v-1.5h1.5v2h1.5v-1.5h1.5v0h1.5v1h1.5v-0.5h1.5v0h1.5v-7.5h1.5v1.5h1.5v-0.5h1.5v4h1.5v3.5h1.5v-2h1.5v1h1.5v-1h1.5v2h1.5v-0.5h1.5v0.5h1.5v-1h1.5v-0.5h1.5v2h1.5v0h1.5v-5h1.5v5h1.5v-4h1.5v3.5h1.5v1h1.5v-0.5h1.5v0.5h1.5v-1h1.5v1.5h1.5v-1h1.5v0h1.5v0.5h1.5v-1h1.5v1h1.5v-1h1.5v0h1.5v-0.5h1.5v0h1.5v-1h1.5v1h1.5v1h1.5v0.5h1.5v-1.5h1.5v0h1.5v1.5h1.5v0h1.5v0h1.5v-1.5h1.5v-0.5h1.5v2h1.5v-0.5h1.5v-1.5h1.5v2h1.5v-7.5h1.5v-1.5h1.5v8.5h1.5v-1h1.5v0h1.5v-0.5L1687.4 522.0l-4.99 0 -4.99 0 -4.99 -0.5 -4.99 1 -4.99 -1 -4.99 0.5 -4.99 0 -4.99 -1 -4.99 1.5 -4.99 -0.5 -4.99 0 -4.99 0.5 -4.99 -1 -4.99 1 -4.99 -0.5 -4.99 0 -4.99 -1 -4.99 1 -4.99 0 -4.99 -1 -4.99 1.5 -4.99 -1 -4.99 0 -4.99 1 -4.99 -0.5 -4.99 0 -4.99 -0.5 -4.99 1 -4.99 -1.5 -4.99 1.5 -4.99 -0.5 -4.99 0 -4.99 0 -4.99 -1 -4.99 0.5 -4.99 -0.5 -4.99 1 -4.99 -1 -4.99 0.5 -4.99 0 -4.99 0.5 -4.99 0.5 -4.99 -1 -4.99 0.5 -4.99 0 -4.99 0 -4.99 -0.5 -4.99 1 -4.99 0 -4.99 0 -4.99 -0.5 -4.99 0.5 -4.99 -0.5 -4.99 0.5 -4.99 -1 -4.99 1 -4.99 0 -4.99 -1.5 -4.99 0.5 -4.99 0.5 -4.99 -0.5 -4.99 -0.5 -4.99 0 -4.99 0.5 -4.99 0.5 -4.99 0.5 -4.99 -1.5 -4.99 0 -4.99 1 -4.99 0.5 -4.99 -1.5 -4.99 1.5 -4.99 0 -4.99 0 -4.99 -1.5 -4.99 1.5 -4.99 0 -4.99 -1 -4.99 0.5 -4.99 0 -4.99 -0.5 -4.99 0.5 -4.99 -0.5 -4.99 0 -4.99 0 -4.99 0.5 -4.99 -1 -4.99 0.5 -4.99 0 -4.99 0 -4.99 0 -4.99 0 -4.99 1 -4.99 -1 -4.99 1 -4.99 -1.5 -4.99 1 -4.99 -0.5 -4.99 0 -4.99 1 -4.99 0 -4.99 -0.5 -4.99 -0.5 -4.99 1 -4.99 -1 -4.99 0.5 -4.99 0 -4.99 0 -4.99 0.5 -4.99 -0.5 -4.99 -1 -4.99 0.5 -4.99 0 -4.99 1 -4.99 -1 -4.99 0.5 -4.99 0.5 -4.99 -0.5 -4.99 -0.5 -4.99 0 -4.99 0 -4.99 0.5 -4.99 -0.5 -4.99 0 -4.99 -0.5 -4.99 0.5 -4.99 0 -4.99 -0.5 -4.99 0.5 -4.99 1 -4.99 -1.5 -4.99 1 -4.99 -0.5 -4.99 0.5 -4.99 -0.5 -4.99 1 -4.99 -1 -4.99 0.5 -4.99 0.5 -4.99 -0.5 -4.99 0 -4.99 0 -4.99 0 -4.99 0 -4.99 -1 -4.99 1 -4.99 0.5 -4.99 0 -4.99 -1 -4.99 0.5 -4.99 -1 -4.99 1.5 -4.99 -0.5 -4.99 -0.5 -4.99 0.5 -4.99 0 -4.99 -0.5 -4.99 1 -4.99 -0.5 -4.99 -0.5 -4.99 0.5 -4.99 -0.5 -4.99 0 -4.99 0 -4.99 0.5 -4.99 0 -4.99 0.5 -4.99 -1 -4.99 -0.5 -4.99 1 -4.99 -0.5 -4.99 0 -4.99 0.5Z" fill="#A3282C"/>
<path d="M823.4 515.0h1.5v-0.5h1.5v-1h1.5v0h1.5v0.5h1.5v0h1.5v0h1.5v0.5h1.5v0h1.5v-0.5h1.5v1h1.5v-1h1.5v1h1.5v0.5h1.5v-1.5h1.5v0h1.5v-1h1.5v0.5h1.5v0h1.5v0h1.5v0h1.5v0h1.5v-6h1.5v7h1.5v-0.5h1.5v0.5h1.5v0h1.5v0h1.5v-7.5h1.5v7h1.5v-4.5h1.5v1h1.5v-1h1.5v1h1.5v3h1.5v-7.5h1.5v8.5h1.5v0h1.5v-0.5h1.5v-0.5h1.5v0.5h1.5v0h1.5v-0.5h1.5v0.5h1.5v-0.5h1.5v-0.5h1.5v0.5h1.5v1h1.5v-0.5h1.5v-0.5h1.5v1h1.5v0h1.5v-0.5h1.5v-0.5h1.5v0h1.5v0.5h1.5v-0.5h1.5v0h1.5v-6h1.5v3h1.5v-2.5h1.5v5h1.5v1h1.5v-0.5h1.5v0.5h1.5v0.5h1.5v0.5h1.5v-1h1.5v0.5h1.5v-1h1.5v1h1.5v-0.5h1.5v-0.5h1.5v0.5h1.5v0h1.5v-0.5h1.5v-0.5h1.5v1.5h1.5v-0.5h1.5v-2.5h1.5v-1.5h1.5v1h1.5v-1.5h1.5v4.5h1.5v0h1.5v0.5h1.5v-0.5h1.5v0h1.5v0h1.5v1h1.5v0h1.5v-1h1.5v1h1.5v0h1.5v-3h1.5v-1.5h1.5v0.5h1.5v-1h1.5v5h1.5v0h1.5v-5h1.5v4.5h1.5v-8h1.5v2.5h1.5v1h1.5v-2.5h1.5v7h1.5v0h1.5v-0.5h1.5v-1h1.5v1.5h1.5v1h1.5v-0.5h1.5v-1h1.5v0h1.5v-3.5h1.5v-1.5h1.5v6h1.5v0h1.5v-0.5h1.5v0.5h1.5v-5.5h1.5v-0.5h1.5v4.5h1.5v0h1.5v-0.5h1.5v-2h1.5v2.5h1.5v0h1.5v-2h1.5v-1.5h1.5v1h1.5v-1h1.5v4.5h1.5v0h1.5v-1h1.5v-5h1.5v1.5h1.5v3.5h1.5v1h1.5v0.5h1.5v-0.5h1.5v-1h1.5v1h1.5v0h1.5v0h1.5v-1h1.5v1h1.5v0.5h1.5v0h1.5v-1h1.5v0.5h1.5v-0.5h1.5v-0.5h1.5v0h1.5v1h1.5v-0.5h1.5v-6.5h1.5v1.5h1.5v-0.5h1.5v0.5h1.5v5h1.5v1h1.5v0h1.5v-6h1.5v0.5h1.5v0.5h1.5v4h1.5v-0.5h1.5v0h1.5v0h1.5v1h1.5v-0.5h1.5v1h1.5v0.5h1.5v0h1.5v0h1.5v-1h1.5v1h1.5v-1.5h1.5v-0.5h1.5v0.5h1.5v0h1.5v1h1.5v0h1.5v-0.5h1.5v0.5h1.5v-1h1.5v0.5h1.5v-0.5h1.5v0.5h1.5v0.5h1.5v-0.5h1.5v-5.5h1.5v5.5h1.5v0h1.5v-1h1.5v0h1.5v1h1.5v-1h1.5v1h1.5v-0.5h1.5v-1.5h1.5v1h1.5v-0.5h1.5v0.5h1.5v0h1.5v1.5h1.5v-1h1.5v0h1.5v-2.5h1.5v2.5h1.5v0.5h1.5v-0.5h1.5v0h1.5v0h1.5v0h1.5v1h1.5v0.5h1.5v-0.5h1.5v0h1.5v-0.5h1.5v-0.5h1.5v0h1.5v-0.5h1.5v0.5h1.5v0h1.5v0.5h1.5v0h1.5v-2h1.5v1h1.5v0h1.5v0.5h1.5v0h1.5v1h1.5v-0.5h1.5v0.5h1.5v-1.5h1.5v1h1.5v0h1.5v-0.5h1.5v-0.5h1.5v0h1.5v0h1.5v-0.5h1.5v0h1.5v-4.5h1.5v5h1.5v0h1.5v0h1.5v0.5h1.5v-0.5h1.5v0.5h1.5v0.5h1.5v-1h1.5v0.5h1.5v0.5h1.5v0.5h1.5v-0.5h1.5v-1h1.5v-0.5h1.5v0h1.5v0.5h1.5v-0.5h1.5v0h1.5v-0.5h1.5v-0.5h1.5v0h1.5v0.5h1.5v-1h1.5v2.5h1.5v1h1.5v-0.5h1.5v-0.5h1.5v0h1.5v-0.5h1.5v0.5h1.5v1h1.5v0.5h1.5v-0.5h1.5v-1.5h1.5v-0.5h1.5v0.5h1.5v1h1.5v-3h1.5v2.5h1.5v-0.5h1.5v-0.5h1.5v1.5h1.5v1h1.5v-1.5h1.5v-0.5h1.5v0.5h1.5v0.5h1.5v0.5h1.5v-1.5h1.5v0h1.5v-5h1.5v6h1.5v-7h1.5v8h1.5v-7.5h1.5v-0.5h1.5v6h1.5v1.5h1.5v-1h1.5v-1h1.5v1h1.5v-1h1.5v0h1.5v1h1.5v0.5h1.5v-1h1.5v0h1.5v1h1.5v0.5h1.5v0h1.5v0.5h1.5v-0.5h1.5v0.5h1.5v-1.5h1.5v0.5h1.5v0.5h1.5v0.5h1.5v-0.5h1.5v-1h1.5v0.5h1.5v0.5h1.5v-1h1.5v1h1.5v-1h1.5v-1h1.5v0h1.5v1h1.5v1h1.5v0h1.5v-0.5h1.5v0.5h1.5v0h1.5v0.5h1.5v-1h1.5v-0.5h1.5v-0.5h1.5v1h1.5v0.5h1.5v-1h1.5v-0.5h1.5v0.5h1.5v0h1.5v1h1.5v0h1.5v-1h1.5v0.5h1.5v-1h1.5v-0.5h1.5v-3.5h1.5v-1.5h1.5v-1h1.5v6h1.5v1h1.5v0h1.5v-0.5h1.5v0h1.5v0h1.5v0h1.5v0h1.5v0.5h1.5v0h1.5v-1h1.5v0.5h1.5v1h1.5v-0.5h1.5v-0.5h1.5v0h1.5v-2h1.5v0.5h1.5v0h1.5v1.5h1.5v1h1.5v-1h1.5v-0.5h1.5v0h1.5v0.5h1.5v1.5h1.5v-0.5h1.5v-1h1.5v-1h1.5v-0.5h1.5v1h1.5v2h1.5v0.5h1.5v0h1.5v-0.5h1.5v-2h1.5v0h1.5v-0.5h1.5v1h1.5v1.5h1.5v-1.5h1.5v1h1.5v-1h1.5v1h1.5v1h1.5v0h1.5v0h1.5v-0.5h1.5v0.5h1.5v-1h1.5v-8h1.5v1h1.5v-1h1.5v1.5h1.5v6.5h1.5v-5h1.5v4h1.5v1h1.5v-4.5h1.5v-1h1.5v-2h1.5v1h1.5v6h1.5v0.5h1.5v-1h1.5v0.5h1.5v0.5h1.5v-7h1.5v1h1.5v1h1.5v0h1.5v4.5h1.5v0h1.5v-2h1.5v0.5h1.5v-2h1.5v1h1.5v-1h1.5v-2.5h1.5v0.5h1.5v2h1.5v3.5h1.5v0h1.5v0h1.5v0.5h1.5v-0.5h1.5v0.5h1.5v0.5h1.5v-1h1.5v0h1.5v0h1.5v0h1.5v-0.5h1.5v0h1.5v1h1.5v-0.5h1.5v0h1.5v-1h1.5v1.5h1.5v0h1.5v-1h1.5v0h1.5v-0.5h1.5v1.5h1.5v-0.5h1.5v0h1.5v0h1.5v-1h1.5v0h1.5v0h1.5v0.5h1.5v0h1.5v0h1.5v0.5h1.5v-0.5h1.5v-0.5h1.5v0.5h1.5v0.5h1.5v0.5h1.5v0.5h1.5v-1h1.5v-0.5h1.5v-0.5h1.5v0h1.5v1.5h1.5v0h1.5v-0.5h1.5v1h1.5v-1h1.5v-1h1.5v0h1.5v-1h1.5v2h1.5v0.5h1.5v-0.5h1.5v1h1.5v-1h1.5v0h1.5v-0.5h1.5v1h1.5v0h1.5v-1h1.5v1.5h1.5v0h1.5v-1h1.5v1h1.5v-1h1.5v0.5h1.5v0.5h1.5v-0.5h1.5v-0.5h1.5v0.5h1.5v-1h1.5v1.5h1.5v0h1.5v-0.5h1.5v-1.5h1.5v-1.5h1.5v2h1.5v-1h1.5v2h1.5v0.5h1.5v-0.5h1.5v-8h1.5v7h1.5v0.5h1.5v-0.5h1.5v-0.5h1.5v1h1.5v-0.5h1.5v0h1.5v0.5h1.5v1h1.5v0h1.5v-0.5h1.5v0.5h1.5v0h1.5v0.5h1.5v-0.5h1.5v-0.5h1.5v-4h1.5v-1.5h1.5v0.5h1.5v5h1.5v-0.5h1.5v0.5h1.5v-1h1.5v0h1.5v-0.5h1.5v1.5h1.5v-0.5h1.5v0h1.5v-0.5h1.5v-1h1.5v0.5h1.5v-1h1.5v2.5h1.5v-1h1.5v1h1.5v0h1.5v-0.5h1.5v0.5h1.5v-0.5h1.5v0.5h1.5v-4.5h1.5v-2h1.5v0h1.5v-1.5h1.5v8h1.5v-0.5h1.5v0.5h1.5v-1h1.5v1.5h1.5v-0.5h1.5v0h1.5v0h1.5v-1h1.5v-0.5h1.5v1L1687.4 521.5l-4.99 -0.5 -4.99 0 -4.99 0.5 -4.99 -0.5 -4.99 -0.5 -4.99 0.5 -4.99 0.5 -4.99 -0.5 -4.99 0 -4.99 0 -4.99 -0.5 -4.99 0 -4.99 0.5 -4.99 -0.5 -4.99 0 -4.99 0.5 -4.99 0.5 -4.99 -1 -4.99 0 -4.99 0 -4.99 0 -4.99 -0.5 -4.99 0.5 -4.99 0 -4.99 1 -4.99 -0.5 -4.99 -1 -4.99 0.5 -4.99 1 -4.99 -1 -4.99 -0.5 -4.99 1 -4.99 -1 -4.99 0.5 -4.99 1 -4.99 -0.5 -4.99 0.5 -4.99 -1.5 -4.99 1.5 -4.99 -0.5 -4.99 0 -4.99 0.5 -4.99 -0.5 -4.99 0 -4.99 0 -4.99 -0.5 -4.99 -0.5 -4.99 1 -4.99 0.5 -4.99 0 -4.99 -1.5 -4.99 0 -4.99 1.5 -4.99 -1.5 -4.99 1 -4.99 0 -4.99 0 -4.99 0 -4.99 -0.5 -4.99 -0.5 -4.99 1 -4.99 -0.5 -4.99 0.5 -4.99 0.5 -4.99 -1 -4.99 0 -4.99 0.5 -4.99 0 -4.99 -0.5 -4.99 0 -4.99 0 -4.99 0.5 -4.99 -0.5 -4.99 0.5 -4.99 -0.5 -4.99 0 -4.99 1 -4.99 -1 -4.99 0.5 -4.99 0 -4.99 0.5 -4.99 -1 -4.99 0 -4.99 0 -4.99 0.5 -4.99 -1 -4.99 1 -4.99 0 -4.99 0 -4.99 -1 -4.99 0.5 -4.99 1 -4.99 -0.5 -4.99 -0.5 -4.99 0 -4.99 0.5 -4.99 -1 -4.99 0 -4.99 0.5 -4.99 0 -4.99 1 -4.99 -0.5 -4.99 0.5 -4.99 -1 -4.99 0.5 -4.99 0.5 -4.99 -1 -4.99 0.5 -4.99 -0.5 -4.99 0 -4.99 0 -4.99 0 -4.99 0 -4.99 0.5 -4.99 -1 -4.99 0 -4.99 1 -4.99 0 -4.99 -0.5 -4.99 1 -4.99 -1 -4.99 0 -4.99 0 -4.99 0.5 -4.99 0.5 -4.99 -0.5 -4.99 -1 -4.99 1 -4.99 -1 -4.99 1 -4.99 -0.5 -4.99 0 -4.99 1 -4.99 0 -4.99 -1 -4.99 0.5 -4.99 -0.5 -4.99 0.5 -4.99 -0.5 -4.99 0.5 -4.99 0 -4.99 0 -4.99 0 -4.99 0.5 -4.99 -0.5 -4.99 0 -4.99 -0.5 -4.99 0.5 -4.99 -0.5 -4.99 0.5 -4.99 -0.5 -4.99 0.5 -4.99 0.5 -4.99 0 -4.99 -1 -4.99 0.5 -4.99 -0.5 -4.99 1 -4.99 -0.5 -4.99 -1 -4.99 1 -4.99 -0.5 -4.99 0 -4.99 0.5 -4.99 -0.5 -4.99 0.5 -4.99 0 -4.99 0 -4.99 0 -4.99 0 -4.99 -1 -4.99 0.5 -4.99 0.5Z" fill="#221C84"/>
<path d="M1298.4 519.8V507.0h3.2V519.8ZM1348.4 519.8V507.0h3.2V519.8ZM1418.4 519.8V509.1h3.2V519.8Z" fill="#221C84"/>
<line x1="781.6" y1="530.9" x2="781.6" y2="600.2" stroke="#000" stroke-width="3"/>
<line x1="778" y1="595.5" x2="781" y2="595.5" stroke="#000" stroke-width="3"/>
<text x="776.0" y="601.5" font-size="17" text-anchor="end" font-family="Liberation Sans, Arial, sans-serif">0</text>
<line x1="778" y1="574.1" x2="781" y2="574.1" stroke="#000" stroke-width="3"/>
<text x="776.0" y="580.1" font-size="17" text-anchor="end" font-family="Liberation Sans, Arial, sans-serif">20</text>
<line x1="778" y1="552.8" x2="781" y2="552.8" stroke="#000" stroke-width="3"/>
<text x="776.0" y="558.8" font-size="17" text-anchor="end" font-family="Liberation Sans, Arial, sans-serif">40</text>
<text transform="translate(1737.3 568.9) rotate(90)" font-size="17.5" text-anchor="middle" font-family="Liberation Sans, Arial, sans-serif">Chr02</text>
<path d="M835.9 595.5V568.8h3.2V595.5ZM1298.4 595.5V582.7h3.2V595.5Z" fill="#A3282C"/>
<path d="M823.4 590.0h1.5v1.5h1.5v1h1.5v-0.5h1.5v-1h1.5v-0.5h1.5v0h1.5v0h1.5v0.5h1.5v0.5h1.5v-1h1.5v-4.5h1.5v0.5h1.5v0.5h1.5v3.5h1.5v-0.5h1.5v0h1.5v0.5h1.5v1h1.5v-0.5h1.5v0h1.5v0.5h1.5v-1h1.5v0h1.5v-1h1.5v2h1.5v-1h1.5v1h1.5v0.5h1.5v0h1.5v-0.5h1.5v0.5h1.5v-2h1.5v1h1.5v-1h1.5v1.5h1.5v0h1.5v0.5h1.5v0h1.5v0.5h1.5v-3.5h1.5v-1h1.5v3h1.5v0h1.5v1h1.5v-2h1.5v0h1.5v0h1.5v1.5h1.5v-1.5h1.5v0.5h1.5v1h1.5v0.5h1.5v-2h1.5v-1.5h1.5v-1h1.5v3h1.5v-1h1.5v2h1.5v0h1.5v-1.5h1.5v0.5h1.5v0.5h1.5v0h1.5v-0.5h1.5v-4.5h1.5v1h1.5v1h1.5v2.5h1.5v1.5h1.5v-6.5h1.5v0.5h1.5v5.5h1.5v-1.5h1.5v-0.5h1.5v1.5h1.5v1h1.5v0h1.5v0h1.5v-1.5h1.5v0h1.5v1.5h1.5v-1.5h1.5v-0.5h1.5v-6.5h1.5v1h1.5v-1.5h1.5v7.5h1.5v0h1.5v1h1.5v0h1.5v0h1.5v-0.5h1.5v-0.5h1.5v1h1.5v-1h1.5v1h1.5v-1h1.5v1.5h1.5v-1h1.5v0.5h1.5v-1h1.5v0h1.5v-0.5h1.5v0.5h1.5v-2.5h1.5v4h1.5v-1h1.5v1h1.5v0.5h1.5v0h1.5v-1h1.5v-0.5h1.5v-1h1.5v-0.5h1.5v0h1.5v0h1.5v-0.5h1.5v1.5h1.5v0.5h1.5v-0.5h1.5v-1.5h1.5v0.5h1.5v1.5h1.5v0h1.5v1h1.5v-1.5h1.5v-4h1.5v-0.5h1.5v4.5h1.5v0h1.5v1.5h1.5v0.5h1.5v0h1.5v-1h1.5v0h1.5v-1h1.5v-0.5h1.5v0h1.5v1.5h1.5v-2.5h1.5v3h1.5v0.5h1.5v-1.5h1.5v-8h1.5v8h1.5v1h1.5v0.5h1.5v-1h1.5v0h1.5v-0.5h1.5v0.5h1.5v0h1.5v0.5h1.5v-1.5h1.5v-5h1.5v4.5h1.5v1.5h1.5v0.5h1.5v0.5h1.5v-1h1.5v-3h1.5v-0.5h1.5v3.5h1.5v-0.5h1.5v1h1.5v-1h1.5v0.5h1.5v0h1.5v1h1.5v-0.5h1.5v0.5h1.5v-1.5h1.5v1h1.5v0.5h1.5v0h1.5v-2h1.5v-0.5h1.5v0.5h1.5v-1h1.5v0.5h1.5v0h1.5v-5.5h1.5v1h1.5v1.5h1.5v3.5h1.5v1.5h1.5v-1.5h1.5v1h1.5v-0.5h1.5v0h1.5v-0.5h1.5v-7h1.5v2h1.5v-1.5h1.5v7h1.5v-8h1.5v-1h1.5v3.5h1.5v-2.5h1.5v8h1.5v-1h1.5v2h1.5v0.5h1.5v-1.5h1.5v-0.5h1.5v1h1.5v0h1.5v-0.5h1.5v1h1.5v-1h1.5v-0.5h1.5v1.5h1.5v0.5h1.5v0h1.5v-2h1.5v1h1.5v-0.5h1.5v0h1.5v-1h1.5v-1h1.5v0.5h1.5v0h1.5v0h1.5v0.5h1.5v-0.5h1.5v0h1.5v2h1.5v0.5h1.5v-0.5h1.5v0h1.5v0.5h1.5v-1h1.5v-5h1.5v1.5h1.5v0h1.5v0h1.5v3.5h1.5v-0.5h1.5v-1h1.5v2h1.5v0.5h1.5v-1.5h1.5v-1h1.5v0.5h1.5v0h1.5v-6h1.5v1.5h1.5v-1.5h1.5v1.5h1.5v6h1.5v-1h1.5v0.5h1.5v0h1.5v1h1.5v0h1.5v0.5h1.5v-0.5h1.5v-2h1.5v1h1.5v1h1.5v-0.5h1.5v0.5h1.5v-0.5h1.5v0.5h1.5v-1.5h1.5v-0.5h1.5v-0.5h1.5v2h1.5v-0.5h1.5v-0.5h1.5v1h1.5v-1.5h1.5v1h1.5v0.5h1.5v1h1.5v-1h1.5v-1.5h1.5v-5h1.5v6.5h1.5v0.5h1.5v-1h1.5v-0.5h1.5v-0.5h1.5v-0.5h1.5v1h1.5v-0.5h1.5v1.5h1.5v-0.5h1.5v-0.5h1.5v1.5h1.5v0.5h1.5v-1h1.5v-0.5h1.5v0h1.5v0.5h1.5v-1h1.5v1h1.5v-1h1.5v-0.5h1.5v0h1.5v0h1.5v1.5h1.5v-1h1.5v-4.5h1.5v1.5h1.5v-2h1.5v5.5h1.5v1h1.5v-1h1.5v0h1.5v-0.5h1.5v1.5h1.5v-0.5h1.5v0.5h1.5v-2h1.5v1.5h1.5v-1h1.5v-1h1.5v0h1.5v2h1.5v0h1.5v-1.5h1.5v1.5h1.5v0h1.5v0h1.5v-8h1.5v0h1.5v1h1.5v6.5h1.5v-0.5h1.5v0.5h1.5v0.5h1.5v0.5h1.5v-0.5h1.5v0.5h1.5v0h1.5v-0.5h1.5v-1.5h1.5v-0.5h1.5v0h1.5v2h1.5v1h1.5v-1.5h1.5v0.5h1.5v0.5h1.5v-2h1.5v2h1.5v-0.5h1.5v-1h1.5v1.5h1.5v0.5h1.5v-1h1.5v-1.5h1.5v0.5h1.5v1.5h1.5v-1h1.5v1h1.5v0.5h1.5v-1.5h1.5v-1h1.5v0h1.5v-0.5h1.5v-4h1.5v0.5h1.5v2.5h1.5v1h1.5v1.5h1.5v0h1.5v-7.5h1.5v1h1.5v7.5h1.5v-0.5h1.5v-0.5h1.5v-5.5h1.5v5h1.5v-1h1.5v1h1.5v0h1.5v0h1.5v0h1.5v-6.5h1.5v3.5h1.5v2.5h1.5v-7h1.5v2h1.5v5.5h1.5v0.5h1.5v1h1.5v-1h1.5v-1h1.5v0.5h1.5v-0.5h1.5v-5.5h1.5v6h1.5v0h1.5v-2.5h1.5v0h1.5v0.5h1.5v2h1.5v-0.5h1.5v0h1.5v-4h1.5v-1h1.5v0.5h1.5v5.5h1.5v0.5h1.5v-0.5h1.5v0h1.5v0h1.5v0h1.5v-0.5h1.5v-0.5h1.5v-0.5h1.5v0h1.5v2h1.5v-1h1.5v-1h1.5v-0.5h1.5v0.5h1.5v1.5h1.5v-1h1.5v-0.5h1.5v-0.5h1.5v0h1.5v-2h1.5v4h1.5v1h1.5v0h1.5v0.5h1.5v0.5h1.5v-1h1.5v0.5h1.5v-0.5h1.5v0.5h1.5v0h1.5v-2h1.5v-0.5h1.5v0h1.5v0h1.5v0h1.5v1.5h1.5v-0.5h1.5v1h1.5v0h1.5v0h1.5v0.5h1.5v-1.5h1.5v-0.5h1.5v-3.5h1.5v5h1.5v-0.5h1.5v-0.5h1.5v-1h1.5v0.5h1.5v1h1.5v-1h1.5v-1h1.5v0h1.5v1h1.5v0.5h1.5v1h1.5v0h1.5v-1h1.5v-3h1.5v0.5h1.5v-3h1.5v5h1.5v-1.5h1.5v1h1.5v0.5h1.5v0.5h1.5v0.5h1.5v-1h1.5v-0.5h1.5v-0.5h1.5v2h1.5v-1h1.5v-1h1.5v0h1.5v-3.5h1.5v0h1.5v0.5h1.5v-0.5h1.5v6h1.5v0.5h1.5v-1h1.5v1h1.5v-1h1.5v-3.5h1.5v-2h1.5v3.5h1.5v2h1.5v1h1.5v-1h1.5v1h1.5v-1h1.5v-1h1.5v-0.5h1.5v1.5h1.5v-4h1.5v0.5h1.5v0.5h1.5v-1.5h1.5v4h1.5v0h1.5v-0.5h1.5v-0.5h1.5v0h1.5v1h1.5v0.5h1.5v-0.5h1.5v1h1.5v0.5h1.5v0h1.5v-1.5h1.5v-1h1.5v-2h1.5v0.5h1.5v0h1.5v0.5h1.5v1h1.5v-1h1.5v2h1.5v0.5h1.5v0h1.5v1h1.5v0h1.5v0.5h1.5v-0.5h1.5v-1h1.5v0.5h1.5v0.5h1.5v0h1.5v-1L1624.4 598.0l-5.01 0 -5.01 -1 -5.01 0.5 -5.01 -0.5 -5.01 1 -5.01 0 -5.01 -1 -5.01 1 -5.01 -0.5 -5.01 0.5 -5.01 -1 -5.01 0 -5.01 0.5 -5.01 0.5 -5.01 -1 -5.01 0.5 -5.01 -0.5 -5.01 1 -5.01 0 -5.01 -1 -5.01 1 -5.01 -0.5 -5.01 -0.5 -5.01 0 -5.01 0 -5.01 0 -5.01 0 -5.01 0.5 -5.01 0 -5.01 -0.5 -5.01 0.5 -5.01 -0.5 -5.01 0 -5.01 1.5 -5.01 -0.5 -5.01 -1 -5.01 -0.5 -5.01 2 -5.01 -0.5 -5.01 -1 -5.01 0 -5.01 -0.5 -5.01 1.5 -5.01 -1 -5.01 -0.5 -5.01 0.5 -5.01 0 -5.01 1 -5.01 -0.5 -5.01 -1 -5.01 0.5 -5.01 0.5 -5.01 0.5 -5.01 0 -5.01 -0.5 -5.01 0.5 -5.01 -1 -5.01 0 -5.01 1 -5.01 -1 -5.01 1 -5.01 0 -5.01 -0.5 -5.01 0 -5.01 0.5 -5.01 0 -5.01 0 -5.01 -0.5 -5.01 -0.5 -5.01 1 -5.01 -1.5 -5.01 1 -5.01 -0.5 -5.01 0.5 -5.01 0.5 -5.01 -0.5 -5.01 0 -5.01 0.5 -5.01 -0.5 -5.01 -0.5 -5.01 0.5 -5.01 0 -5.01 -0.5 -5.01 0 -5.01 0 -5.01 0 -5.01 0 -5.01 0 -5.01 1 -5.01 0 -5.01 -0.5 -5.01 0.5 -5.01 -1 -5.01 1 -5.01 0 -5.01 -0.5 -5.01 -0.5 -5.01 1 -5.01 -0.5 -5.01 -0.5 -5.01 1 -5.01 0 -5.01 -1 -5.01 0.5 -5.01 0.5 -5.01 0 -5.01 -0.5 -5.01 -1 -5.01 1.5 -5.01 0 -5.01 -0.5 -5.01 0 -5.01 0.5 -5.01 -1 -5.01 1 -5.01 -0.5 -5.01 0 -5.01 -0.5 -5.01 0 -5.01 1 -5.01 -1 -5.01 0.5 -5.01 0.5 -5.01 -1 -5.01 0 -5.01 1 -5.01 0 -5.01 0 -5.01 -0.5 -5.01 0.5 -5.01 -1 -5.01 0 -5.01 0.5 -5.01 0 -5.01 0.5 -5.01 0 -5.01 -0.5 -5.01 0 -5.01 0.5 -5.01 0 -5.01 -1 -5.01 0 -5.01 -0.5 -5.01 0.5 -5.01 1 -5.01 -1 -5.01 0.5 -5.01 0.5 -5.01 -1 -5.01 1 -5.01 0 -5.01 0 -5.01 0 -5.01 -0.5 -5.01 0 -5.01 0 -5.01 -0.5 -5.01 0 -5.01 0 -5.01 1Z" fill="#A3282C"/>
<path d="M823.4 589.5h1.5v1h1.5v-0.5h1.5v0.5h1.5v0.5h1.5v0h1.5v-0.5h1.5v-2h1.5v1h1.5v0h1.5v1h1.5v-0.5h1.5v0.5h1.5v-1h1.5v0h1.5v-0.5h1.5v1h1.5v1h1.5v-1h1.5v-1.5h1.5v2h1.5v-0.5h1.5v0.5h1.5v-0.5h1.5v1h1.5v-0.5h1.5v0h1.5v0.5h1.5v-0.5h1.5v-1h1.5v0.5h1.5v-1h1.5v1.5h1.5v-0.5h1.5v1h1.5v-1.5h1.5v0.5h1.5v-2h1.5v0h1.5v-1h1.5v3h1.5v0.5h1.5v0.5h1.5v-0.5h1.5v0.5h1.5v-1h1.5v0h1.5v0.5h1.5v0.5h1.5v-1h1.5v-1h1.5v-0.5h1.5v1h1.5v0h1.5v1h1.5v-1.5h1.5v0h1.5v1h1.5v0h1.5v0.5h1.5v0h1.5v-1h1.5v1h1.5v-1h1.5v-5h1.5v0.5h1.5v-1h1.5v6h1.5v0h1.5v0h1.5v0.5h1.5v0h1.5v-1h1.5v0.5h1.5v-0.5h1.5v-0.5h1.5v0h1.5v0h1.5v0h1.5v0.5h1.5v-0.5h1.5v0h1.5v-0.5h1.5v0h1.5v0.5h1.5v1.5h1.5v-0.5h1.5v0.5h1.5v-1h1.5v1h1.5v0h1.5v-1h1.5v1.5h1.5v0h1.5v-0.5h1.5v-1h1.5v0h1.5v0h1.5v0h1.5v-0.5h1.5v1h1.5v-0.5h1.5v0h1.5v-0.5h1.5v1h1.5v0.5h1.5v-1h1.5v-0.5h1.5v-0.5h1.5v1h1.5v-0.5h1.5v0h1.5v1.5h1.5v-1.5h1.5v1.5h1.5v0.5h1.5v-0.5h1.5v-0.5h1.5v0h1.5v1h1.5v-1h1.5v-0.5h1.5v-4.5h1.5v4h1.5v1.5h1.5v-1h1.5v-1h1.5v0h1.5v1.5h1.5v-0.5h1.5v0h1.5v0.5h1.5v0h1.5v-4.5h1.5v-2h1.5v-0.5h1.5v7.5h1.5v-1h1.5v-0.5h1.5v0.5h1.5v1h1.5v0h1.5v-7.5h1.5v7h1.5v0h1.5v0.5h1.5v0h1.5v-1.5h1.5v0h1.5v0.5h1.5v0h1.5v1h1.5v0.5h1.5v-0.5h1.5v-1h1.5v0.5h1.5v0h1.5v0h1.5v0.5h1.5v-2.5h1.5v2.5h1.5v0h1.5v-1h1.5v1h1.5v-0.5h1.5v-0.5h1.5v0.5h1.5v0.5h1.5v-0.5h1.5v-1h1.5v0.5h1.5v-0.5h1.5v0h1.5v-0.5h1.5v1h1.5v1h1.5v-6.5h1.5v0.5h1.5v1h1.5v4.5h1.5v-1h1.5v1h1.5v0h1.5v1h1.5v0h1.5v-2.5h1.5v-1h1.5v1h1.5v1h1.5v0.5h1.5v0h1.5v-1h1.5v1.5h1.5v-0.5h1.5v-0.5h1.5v-6h1.5v0h1.5v0h1.5v1h1.5v6h1.5v0.5h1.5v-1h1.5v0.5h1.5v-0.5h1.5v-1h1.5v-0.5h1.5v1h1.5v1h1.5v-1.5h1.5v1h1.5v0.5h1.5v-6h1.5v-2h1.5v1.5h1.5v-2h1.5v0.5h1.5v7.5h1.5v0h1.5v1h1.5v-1h1.5v1h1.5v-0.5h1.5v-0.5h1.5v0h1.5v-1h1.5v0.5h1.5v0.5h1.5v-1h1.5v0h1.5v-0.5h1.5v1h1.5v1h1.5v0.5h1.5v-0.5h1.5v-1.5h1.5v-0.5h1.5v1.5h1.5v0h1.5v-0.5h1.5v-0.5h1.5v0h1.5v1h1.5v-1h1.5v0h1.5v0h1.5v1.5h1.5v-1h1.5v0h1.5v0.5h1.5v-1h1.5v0.5h1.5v-0.5h1.5v0.5h1.5v0.5h1.5v0h1.5v-0.5h1.5v-3h1.5v0.5h1.5v2.5h1.5v1h1.5v-1h1.5v1h1.5v-1h1.5v0.5h1.5v0h1.5v-0.5h1.5v0h1.5v0.5h1.5v-1h1.5v0h1.5v-5.5h1.5v-1.5h1.5v7h1.5v0h1.5v1.5h1.5v-1h1.5v-0.5h1.5v0.5h1.5v-0.5h1.5v1h1.5v0h1.5v0.5h1.5v0h1.5v0h1.5v-0.5h1.5v0h1.5v-1h1.5v-0.5h1.5v1.5h1.5v-1h1.5v0.5h1.5v1h1.5v0.5h1.5v-1h1.5v-1h1.5v1h1.5v-0.5h1.5v-0.5h1.5v1h1.5v0.5h1.5v0h1.5v-1h1.5v1.5h1.5v-1h1.5v-1h1.5v0h1.5v1h1.5v-1.5h1.5v0.5h1.5v-0.5h1.5v2h1.5v-1.5h1.5v1h1.5v1h1.5v-1h1.5v-0.5h1.5v-1.5h1.5v1h1.5v0.5h1.5v-1.5h1.5v0.5h1.5v0.5h1.5v0h1.5v1h1.5v0.5h1.5v0.5h1.5v-1h1.5v0.5h1.5v-0.5h1.5v0h1.5v0h1.5v0.5h1.5v-0.5h1.5v-1.5h1.5v1.5h1.5v1h1.5v-8.5h1.5v3h1.5v5.5h1.5v0h1.5v-0.5h1.5v-0.5h1.5v0.5h1.5v0h1.5v-1h1.5v0.5h1.5v1h1.5v-1.5h1.5v1h1.5v0.5h1.5v0h1.5v-1h1.5v0h1.5v-0.5h1.5v0h1.5v-4.5h1.5v0h1.5v5h1.5v0.5h1.5v-4.5h1.5v1h1.5v-2.5h1.5v1h1.5v4h1.5v1h1.5v-0.5h1.5v0.5h1.5v-1h1.5v1h1.5v0.5h1.5v-1h1.5v-2h1.5v2.5h1.5v-1h1.5v0h1.5v-0.5h1.5v-0.5h1.5v2h1.5v-1h1.5v0h1.5v-0.5h1.5v1.5h1.5v-5.5h1.5v5h1.5v-0.5h1.5v0h1.5v0.5h1.5v-0.5h1.5v0h1.5v1h1.5v0.5h1.5v-1h1.5v0h1.5v-3h1.5v-1h1.5v-1.5h1.5v0h1.5v5.5h1.5v0h1.5v0.5h1.5v-1h1.5v0.5h1.5v0.5h1.5v0h1.5v0h1.5v-1h1.5v1h1.5v-0.5h1.5v-0.5h1.5v-2h1.5v-1h1.5v0h1.5v2.5h1.5v0.5h1.5v-0.5h1.5v1.5h1.5v-8.5h1.5v1h1.5v6.5h1.5v-0.5h1.5v1h1.5v-1h1.5v1h1.5v-1h1.5v1h1.5v0.5h1.5v-1.5h1.5v1h1.5v-1h1.5v-0.5h1.5v0.5h1.5v0.5h1.5v1.5h1.5v-1h1.5v1h1.5v-1.5h1.5v0.5h1.5v-1h1.5v0.5h1.5v-0.5h1.5v0.5h1.5v0.5h1.5v-2h1.5v1h1.5v1.5h1.5v-2h1.5v-0.5h1.5v1h1.5v2h1.5v-1h1.5v-0.5h1.5v-0.5h1.5v1h1.5v0h1.5v1h1.5v-5.5h1.5v6h1.5v-1h1.5v0h1.5v-0.5h1.5v0h1.5v0.5h1.5v0h1.5v-1h1.5v0h1.5v-0.5h1.5v0h1.5v1h1.5v-0.5h1.5v0h1.5v-0.5h1.5v-1h1.5v0h1.5v2h1.5v-0.5h1.5v-0.5h1.5v1.5h1.5v-1h1.5v-5.5h1.5v2h1.5v-1.5h1.5v0h1.5v5h1.5v-0.5h1.5v0.5h1.5v-0.5h1.5v1h1.5v0.5h1.5v-1h1.5v-0.5h1.5v0h1.5v1.5h1.5v-0.5h1.5v0h1.5v0h1.5v0h1.5v-0.5h1.5v-0.5h1.5v1.5h1.5v0h1.5v-1h1.5v1h1.5v0h1.5v-0.5h1.5v0h1.5v1h1.5v0.5h1.5v-1.5h1.5v-0.5h1.5v1h1.5v-0.5h1.5v-4.5h1.5v5h1.5v-0.5h1.5v-0.5h1.5v-0.5h1.5v0h1.5v1h1.5v0.5h1.5v-1h1.5v0h1.5v0.5h1.5v-1h1.5v0.5h1.5v1h1.5v-0.5h1.5v0h1.5v0.5h1.5v-0.5h1.5v0h1.5v-1h1.5v0.5h1.5v1h1.5v0h1.5v0.5L1624.4 596.5l-5.01 -0.5 -5.01 1 -5.01 -1 -5.01 0.5 -5.01 0 -5.01 0.5 -5.01 -1 -5.01 0.5 -5.01 -0.5 -5.01 0.5 -5.01 0 -5.01 0 -5.01 -0.5 -5.01 0.5 -5.01 0 -5.01 -0.5 -5.01 1 -5.01 -1 -5.01 1 -5.01 -1 -5.01 1 -5.01 -0.5 -5.01 -0.5 -5.01 1 -5.01 -1 -5.01 0.5 -5.01 -0.5 -5.01 0 -5.01 0.5 -5.01 -0.5 -5.01 0.5 -5.01 -0.5 -5.01 0.5 -5.01 0 -5.01 0 -5.01 -0.5 -5.01 0.5 -5.01 0 -5.01 -0.5 -5.01 0 -5.01 0.5 -5.01 0.5 -5.01 -0.5 -5.01 0 -5.01 -0.5 -5.01 1 -5.01 0 -5.01 -0.5 -5.01 -0.5 -5.01 1 -5.01 -0.5 -5.01 -0.5 -5.01 0.5 -5.01 0 -5.01 0 -5.01 0 -5.01 0 -5.01 0.5 -5.01 -0.5 -5.01 -0.5 -5.01 0.5 -5.01 0.5 -5.01 0 -5.01 -0.5 -5.01 0 -5.01 0 -5.01 0.5 -5.01 -1 -5.01 0 -5.01 0.5 -5.01 0.5 -5.01 -0.5 -5.01 0.5 -5.01 -1 -5.01 0 -5.01 1 -5.01 0 -5.01 -0.5 -5.01 -0.5 -5.01 0 -5.01 0 -5.01 0 -5.01 0 -5.01 0.5 -5.01 0.5 -5.01 -0.5 -5.01 0 -5.01 -0.5 -5.01 0 -5.01 0.5 -5.01 -0.5 -5.01 0 -5.01 0 -5.01 0 -5.01 0 -5.01 1 -5.01 0 -5.01 -1 -5.01 1 -5.01 -0.5 -5.01 -0.5 -5.01 0.5 -5.01 0 -5.01 -0.5 -5.01 0.5 -5.01 0 -5.01 0 -5.01 0 -5.01 -0.5 -5.01 0.5 -5.01 -0.5 -5.01 1 -5.01 -1 -5.01 0.5 -5.01 0 -5.01 0.5 -5.01 -1 -5.01 0 -5.01 1 -5.01 -1 -5.01 1 -5.01 -0.5 -5.01 0 -5.01 0 -5.01 0 -5.01 -0.5 -5.01 0.5 -5.01 -0.5 -5.01 0 -5.01 0.5 -5.01 0.5 -5.01 -1 -5.01 0 -5.01 0.5 -5.01 0 -5.01 -0.5 -5.01 0 -5.01 1 -5.01 -0.5 -5.01 0 -5.01 0.5 -5.01 -0.5 -5.01 0.5 -5.01 0 -5.01 -1 -5.01 1 -5.01 -1 -5.01 0.5 -5.01 0 -5.01 0 -5.01 0.5 -5.01 -1 -5.01 1 -5.01 -1 -5.01 0.5 -5.01 -0.5 -5.01 0.5 -5.01 0 -5.01 0 -5.01 0Z" fill="#221C84"/>
<path d="M947.8 595.5V568.8h3.2V595.5ZM1003.4 595.5V568.8h3.2V595.5ZM1148.4 595.5V582.7h3.2V595.5Z" fill="#221C84"/>
<line x1="781.6" y1="606.6" x2="781.6" y2="675.9" stroke="#000" stroke-width="3"/>
<line x1="778" y1="671.2" x2="781" y2="671.2" stroke="#000" stroke-width="3"/>
<text x="776.0" y="677.2" font-size="17" text-anchor="end" font-family="Liberation Sans, Arial, sans-serif">0</text>
<line x1="778" y1="649.8" x2="781" y2="649.8" stroke="#000" stroke-width="3"/>
<text x="776.0" y="655.8" font-size="17" text-anchor="end" font-family="Liberation Sans, Arial, sans-serif">20</text>
<line x1="778" y1="628.5" x2="781" y2="628.5" stroke="#000" stroke-width="3"/>
<text x="776.0" y="634.5" font-size="17" text-anchor="end" font-family="Liberation Sans, Arial, sans-serif">40</text>
<text transform="translate(1737.3 644.6) rotate(90)" font-size="17.5" text-anchor="middle" font-family="Liberation Sans, Arial, sans-serif">Chr03</text>
<path d="M833.3 671.2V610.4h3.2V671.2ZM890.9 671.2V624.2h3.2V671.2ZM1458.4 671.2V655.2h3.2V671.2Z" fill="#A3282C"/>
<path d="M823.4 666.0h1.5v-0.5h1.5v-0.5h1.5v1h1.5v-1h1.5v0h1.5v2.5h1.5v-1.5h1.5v-4h1.5v-1h1.5v0.5h1.5v-1h1.5v5.5h1.5v-0.5h1.5v-1h1.5v-1h1.5v-2h1.5v5.5h1.5v0.5h1.5v-0.5h1.5v-0.5h1.5v0h1.5v0h1.5v-0.5h1.5v0.5h1.5v0h1.5v0h1.5v0.5h1.5v1h1.5v-0.5h1.5v0.5h1.5v-1h1.5v0.5h1.5v-1.5h1.5v-1h1.5v-0.5h1.5v2h1.5v-0.5h1.5v-1h1.5v0h1.5v2h1.5v0.5h1.5v-0.5h1.5v0h1.5v1h1.5v0h1.5v-1h1.5v1h1.5v-2h1.5v0.5h1.5v-0.5h1.5v0h1.5v0h1.5v1.5h1.5v-2h1.5v-0.5h1.5v0h1.5v0.5h1.5v-0.5h1.5v0h1.5v0h1.5v1.5h1.5v-0.5h1.5v-0.5h1.5v1.5h1.5v-0.5h1.5v0.5h1.5v1h1.5v0h1.5v-0.5h1.5v0h1.5v-2h1.5v0h1.5v-0.5h1.5v-1.5h1.5v3h1.5v0.5h1.5v-3.5h1.5v0.5h1.5v0h1.5v-0.5h1.5v2h1.5v0h1.5v0h1.5v0.5h1.5v0.5h1.5v-0.5h1.5v-0.5h1.5v0.5h1.5v-0.5h1.5v1h1.5v0.5h1.5v0h1.5v-1h1.5v0h1.5v-0.5h1.5v1h1.5v0.5h1.5v-0.5h1.5v0.5h1.5v-1h1.5v1.5h1.5v0h1.5v-2h1.5v0h1.5v1.5h1.5v0.5h1.5v-1.5h1.5v1.5h1.5v0.5h1.5v-0.5h1.5v-1h1.5v1.5h1.5v-1h1.5v0.5h1.5v0h1.5v-2.5h1.5v0.5h1.5v0.5h1.5v1.5h1.5v0h1.5v1h1.5v-1h1.5v0h1.5v-1h1.5v0h1.5v-0.5h1.5v-1h1.5v2h1.5v-0.5h1.5v-1h1.5v-0.5h1.5v0.5h1.5v1.5h1.5v-0.5h1.5v0h1.5v0h1.5v0h1.5v1.5h1.5v-1h1.5v-1.5h1.5v0.5h1.5v0.5h1.5v-7h1.5v1h1.5v0h1.5v6h1.5v-1h1.5v0h1.5v0h1.5v1.5h1.5v-1h1.5v0.5h1.5v-1h1.5v0.5h1.5v-1h1.5v1.5h1.5v-2h1.5v2h1.5v-1.5h1.5v-0.5h1.5v2h1.5v-0.5h1.5v-0.5h1.5v0h1.5v-0.5h1.5v1.5h1.5v1h1.5v0.5h1.5v0h1.5v-1h1.5v-1.5h1.5v1.5h1.5v-0.5h1.5v1h1.5v-0.5h1.5v-0.5h1.5v0h1.5v1h1.5v1h1.5v-0.5h1.5v0.5h1.5v-1.5h1.5v-0.5h1.5v0h1.5v1h1.5v0.5h1.5v-2.5h1.5v-0.5h1.5v1h1.5v1.5h1.5v0.5h1.5v-1.5h1.5v0h1.5v1h1.5v0h1.5v-1h1.5v0.5h1.5v-1h1.5v0.5h1.5v-1h1.5v0.5h1.5v-0.5h1.5v1.5h1.5v-0.5h1.5v1h1.5v-1.5h1.5v0.5h1.5v-1h1.5v1.5h1.5v-0.5h1.5v-0.5h1.5v0.5h1.5v0h1.5v-1h1.5v-0.5h1.5v-0.5h1.5v0h1.5v0.5h1.5v-4h1.5v2h1.5v1h1.5v0h1.5v0.5h1.5v0h1.5v2h1.5v0h1.5v1h1.5v0.5h1.5v-1.5h1.5v-0.5h1.5v0h1.5v0h1.5v-1h1.5v1.5h1.5v-4.5h1.5v2h1.5v-1.5h1.5v-0.5h1.5v3.5h1.5v0.5h1.5v-3.5h1.5v-2.5h1.5v2.5h1.5v0.5h1.5v0h1.5v4h1.5v0h1.5v0.5h1.5v-1h1.5v-0.5h1.5v-0.5h1.5v0h1.5v0.5h1.5v-1h1.5v1h1.5v1.5h1.5v0h1.5v1h1.5v-2h1.5v-0.5h1.5v1h1.5v0.5h1.5v0h1.5v-0.5h1.5v-1.5h1.5v-5.5h1.5v5.5h1.5v0.5h1.5v0h1.5v1h1.5v0h1.5v0.5h1.5v-1h1.5v-0.5h1.5v-0.5h1.5v0.5h1.5v1h1.5v0.5h1.5v-1.5h1.5v1.5h1.5v-1.5h1.5v1.5h1.5v0h1.5v-0.5h1.5v0h1.5v0h1.5v0h1.5v-1h1.5v-0.5h1.5v0h1.5v0h1.5v1.5h1.5v-1h1.5v1h1.5v-0.5h1.5v0h1.5v1h1.5v-1h1.5v0h1.5v1.5h1.5v-1h1.5v0h1.5v1h1.5v-1h1.5v0.5h1.5v-1.5h1.5v1h1.5v0.5h1.5v0h1.5v-0.5h1.5v-0.5h1.5v-1h1.5v2h1.5v0h1.5v-0.5h1.5v0.5h1.5v-0.5h1.5v-6.5h1.5v-1h1.5v7.5h1.5v0h1.5v-1.5h1.5v-0.5h1.5v1.5h1.5v-1h1.5v-0.5h1.5v0.5h1.5v1.5h1.5v1h1.5v-1.5h1.5v-0.5h1.5v-6.5h1.5v1.5h1.5v-2.5h1.5v3.5h1.5v5.5h1.5v-0.5h1.5v-5.5h1.5v6h1.5v-0.5h1.5v-1.5h1.5v1.5h1.5v0h1.5v-0.5h1.5v0.5h1.5v-1h1.5v1.5h1.5v-1h1.5v0h1.5v-1h1.5v0h1.5v-0.5h1.5v0.5h1.5v-0.5h1.5v2h1.5v0.5h1.5v0h1.5v-0.5h1.5v-3.5h1.5v3.5h1.5v-0.5h1.5v-1h1.5v2h1.5v0h1.5v-4.5h1.5v-0.5h1.5v0h1.5v0h1.5v3.5h1.5v-0.5h1.5v1h1.5v-0.5h1.5v1.5h1.5v0.5h1.5v-1.5h1.5v-0.5h1.5v0h1.5v0h1.5v0h1.5v0h1.5v1h1.5v0h1.5v-0.5h1.5v0.5h1.5v0h1.5v-2h1.5v2h1.5v-6h1.5v6h1.5v1h1.5v-1.5h1.5v0.5h1.5v-1h1.5v0.5h1.5v-0.5h1.5v-0.5h1.5v0.5h1.5v-0.5h1.5v1h1.5v-0.5h1.5v-0.5h1.5v-2.5h1.5v2h1.5v2h1.5v0h1.5v0.5h1.5v-1.5h1.5v0h1.5v-1h1.5v1.5h1.5v1h1.5v-0.5h1.5v-2h1.5v1h1.5v1.5h1.5v0h1.5v-1h1.5v-0.5h1.5v0h1.5v0h1.5v0.5h1.5v-0.5h1.5v-0.5h1.5v-0.5h1.5v2h1.5v1h1.5v-1h1.5v-1.5L1465.4 672.5l-5.02 0 -5.02 0 -5.02 1.5 -5.02 -1 -5.02 -0.5 -5.02 1 -5.02 0 -5.02 0.5 -5.02 -0.5 -5.02 0 -5.02 0 -5.02 -1 -5.02 1 -5.02 -0.5 -5.02 0.5 -5.02 -0.5 -5.02 0.5 -5.02 -0.5 -5.02 0 -5.02 0 -5.02 -0.5 -5.02 0.5 -5.02 -0.5 -5.02 0.5 -5.02 0 -5.02 -0.5 -5.02 0.5 -5.02 0.5 -5.02 0 -5.02 0.5 -5.02 -1.5 -5.02 0.5 -5.02 1 -5.02 0 -5.02 -0.5 -5.02 -0.5 -5.02 -0.5 -5.02 0 -5.02 0 -5.02 1 -5.02 0 -5.02 -1 -5.02 0.5 -5.02 -0.5 -5.02 1 -5.02 -0.5 -5.02 1 -5.02 -1.5 -5.02 0.5 -5.02 0 -5.02 -0.5 -5.02 1 -5.02 0.5 -5.02 -0.5 -5.02 -0.5 -5.02 0 -5.02 1 -5.02 0 -5.02 -0.5 -5.02 -0.5 -5.02 0 -5.02 0.5 -5.02 0 -5.02 -0.5 -5.02 -0.5 -5.02 1 -5.02 -0.5 -5.02 0.5 -5.02 -0.5 -5.02 0 -5.02 0.5 -5.02 0 -5.02 0.5 -5.02 0 -5.02 -0.5 -5.02 0 -5.02 0 -5.02 0 -5.02 0 -5.02 -0.5 -5.02 0.5 -5.02 0.5 -5.02 -1 -5.02 1 -5.02 -1 -5.02 0.5 -5.02 0 -5.02 -0.5 -5.02 -0.5 -5.02 1.5 -5.02 -0.5 -5.02 -1 -5.02 1.5 -5.02 -0.5 -5.02 -1 -5.02 1 -5.02 0 -5.02 0 -5.02 0 -5.02 -1 -5.02 1 -5.02 0 -5.02 0 -5.02 0 -5.02 0.5 -5.02 -0.5 -5.02 -0.5 -5.02 0 -5.02 -0.5 -5.02 0 -5.02 1.5 -5.02 -1.5 -5.02 1 -5.02 0 -5.02 -0.5 -5.02 0.5 -5.02 0.5 -5.02 -0.5 -5.02 -1 -5.02 1 -5.02 -0.5 -5.02 0.5 -5.02 0.5 -5.02 0 -5.02 -1.5 -5.02 1 -5.02 0.5 -5.02 -1.5Z" fill="#A3282C"/>
<path d="M823.4 664.5h1.5v0h1.5v1.5h1.5v0h1.5v0h1.5v-1h1.5v-2h1.5v-1h1.5v1h1.5v3h1.5v-1h1.5v0.5h1.5v-0.5h1.5v0.5h1.5v0.5h1.5v1h1.5v-1h1.5v-0.5h1.5v0h1.5v-1h1.5v1.5h1.5v-0.5h1.5v-0.5h1.5v-5h1.5v0h1.5v6.5h1.5v-1h1.5v0h1.5v-5h1.5v-0.5h1.5v4.5h1.5v0h1.5v0.5h1.5v0h1.5v-4.5h1.5v2h1.5v-1h1.5v1h1.5v3h1.5v0h1.5v0.5h1.5v-0.5h1.5v0h1.5v-0.5h1.5v0h1.5v0.5h1.5v-1h1.5v1.5h1.5v0h1.5v-0.5h1.5v-1h1.5v1h1.5v0.5h1.5v0h1.5v1h1.5v-1.5h1.5v0h1.5v-0.5h1.5v0h1.5v0.5h1.5v0h1.5v-1h1.5v0.5h1.5v1.5h1.5v-1.5h1.5v1h1.5v-0.5h1.5v0.5h1.5v-1h1.5v0h1.5v-0.5h1.5v0h1.5v1.5h1.5v0.5h1.5v-1h1.5v-1h1.5v1h1.5v1h1.5v0h1.5v-0.5h1.5v1h1.5v-1.5h1.5v1h1.5v-1h1.5v0h1.5v-0.5h1.5v1.5h1.5v-1.5h1.5v1h1.5v-1h1.5v0h1.5v1h1.5v-1h1.5v0.5h1.5v-1h1.5v0.5h1.5v0.5h1.5v-0.5h1.5v-0.5h1.5v0.5h1.5v1h1.5v0.5h1.5v-0.5h1.5v-1h1.5v1h1.5v-0.5h1.5v1h1.5v-1h1.5v0.5h1.5v-1h1.5v-3h1.5v5h1.5v-0.5h1.5v-1.5h1.5v1h1.5v0.5h1.5v-0.5h1.5v0h1.5v0h1.5v0h1.5v0h1.5v0.5h1.5v-1h1.5v-0.5h1.5v-0.5h1.5v1h1.5v0h1.5v0h1.5v-0.5h1.5v0.5h1.5v0h1.5v-0.5h1.5v0h1.5v1h1.5v-0.5h1.5v-0.5h1.5v0.5h1.5v0h1.5v-0.5h1.5v0.5h1.5v1h1.5v-0.5h1.5v-0.5h1.5v-4.5h1.5v5h1.5v-1h1.5v0h1.5v0.5h1.5v0h1.5v-1h1.5v0h1.5v-0.5h1.5v0h1.5v0h1.5v0h1.5v0h1.5v1h1.5v1.5h1.5v-1h1.5v0h1.5v-0.5h1.5v0.5h1.5v-0.5h1.5v0.5h1.5v-8h1.5v8.5h1.5v0.5h1.5v-1h1.5v-0.5h1.5v1.5h1.5v-1.5h1.5v0.5h1.5v-0.5h1.5v-5.5h1.5v2h1.5v-1h1.5v1h1.5v4.5h1.5v0.5h1.5v-0.5h1.5v0h1.5v0h1.5v0.5h1.5v0.5h1.5v-2h1.5v0.5h1.5v-4.5h1.5v0h1.5v1.5h1.5v4h1.5v0.5h1.5v-1.5h1.5v1h1.5v-1.5h1.5v1h1.5v0h1.5v0.5h1.5v-1h1.5v1h1.5v-2h1.5v0h1.5v-0.5h1.5v1h1.5v0h1.5v0h1.5v1.5h1.5v-1h1.5v-0.5h1.5v1h1.5v0h1.5v0h1.5v-0.5h1.5v0.5h1.5v0h1.5v0h1.5v-0.5h1.5v0h1.5v0h1.5v-0.5h1.5v1h1.5v0h1.5v0.5h1.5v-0.5h1.5v-0.5h1.5v0h1.5v0.5h1.5v-1h1.5v-0.5h1.5v1h1.5v0h1.5v-1h1.5v1h1.5v0.5h1.5v0h1.5v0h1.5v-0.5h1.5v-0.5h1.5v0h1.5v-0.5h1.5v-0.5h1.5v0h1.5v1.5h1.5v0h1.5v0.5h1.5v-1.5h1.5v0.5h1.5v1h1.5v0.5h1.5v-0.5h1.5v-1h1.5v0.5h1.5v-0.5h1.5v-0.5h1.5v0h1.5v0h1.5v0h1.5v0.5h1.5v1h1.5v0.5h1.5v-0.5h1.5v-0.5h1.5v-1h1.5v0h1.5v0h1.5v0h1.5v-0.5h1.5v1h1.5v0.5h1.5v-0.5h1.5v1h1.5v0h1.5v0h1.5v0.5h1.5v0.5h1.5v-0.5h1.5v-0.5h1.5v0.5h1.5v-1.5h1.5v0.5h1.5v0h1.5v-1.5h1.5v-1.5h1.5v0h1.5v0h1.5v1h1.5v1.5h1.5v1h1.5v-1.5h1.5v1.5h1.5v0.5h1.5v-1h1.5v-0.5h1.5v-0.5h1.5v0h1.5v0h1.5v1h1.5v-4h1.5v-1h1.5v5.5h1.5v1h1.5v-1.5h1.5v0.5h1.5v0.5h1.5v0h1.5v0h1.5v-1.5h1.5v0h1.5v-0.5h1.5v1.5h1.5v-1h1.5v1h1.5v0.5h1.5v-0.5h1.5v0.5h1.5v-1h1.5v1h1.5v-1.5h1.5v-0.5h1.5v1h1.5v0.5h1.5v0.5h1.5v-0.5h1.5v-3.5h1.5v4h1.5v-5h1.5v3.5h1.5v1h1.5v-1h1.5v0.5h1.5v-0.5h1.5v1h1.5v0.5h1.5v0h1.5v-0.5h1.5v0.5h1.5v0h1.5v-1h1.5v-1h1.5v0.5h1.5v-5h1.5v3h1.5v2h1.5v1h1.5v0.5h1.5v-1.5h1.5v-4.5h1.5v1.5h1.5v4h1.5v0.5h1.5v0h1.5v-0.5h1.5v-1h1.5v1h1.5v-1h1.5v0.5h1.5v-1h1.5v1.5h1.5v0h1.5v-3h1.5v-0.5h1.5v0.5h1.5v3h1.5v-0.5h1.5v-0.5h1.5v0.5h1.5v-0.5h1.5v-0.5h1.5v1.5h1.5v0.5h1.5v-1h1.5v0.5h1.5v0.5h1.5v-1h1.5v0h1.5v0.5h1.5v1h1.5v-1h1.5v-0.5h1.5v0h1.5v0.5h1.5v-1h1.5v1.5h1.5v0h1.5v-0.5h1.5v-1h1.5v-3.5h1.5v1h1.5v-1.5h1.5v1.5h1.5v4h1.5v-0.5h1.5v-0.5h1.5v-1h1.5v0h1.5v0.5h1.5v0.5h1.5v-0.5h1.5v-3.5h1.5v-1h1.5v0.5h1.5v0h1.5v4.5h1.5v-1h1.5v1.5h1.5v-0.5h1.5v0h1.5v-0.5h1.5v-0.5h1.5v-0.5h1.5v1.5h1.5v-0.5h1.5v1h1.5v-0.5h1.5v0.5h1.5v-3h1.5v-1.5h1.5v2h1.5v3h1.5v0h1.5v-1.5h1.5v-0.5h1.5v0.5h1.5v0.5h1.5v0.5h1.5v-1h1.5v0.5h1.5v-1h1.5v0.5h1.5v0.5L1465.4 671.5l-5.02 1 -5.02 0 -5.02 -0.5 -5.02 0.5 -5.02 -0.5 -5.02 -0.5 -5.02 0.5 -5.02 0.5 -5.02 -0.5 -5.02 1 -5.02 -0.5 -5.02 0 -5.02 0 -5.02 -0.5 -5.02 -0.5 -5.02 0.5 -5.02 -0.5 -5.02 0.5 -5.02 0 -5.02 1 -5.02 -0.5 -5.02 0 -5.02 -0.5 -5.02 0.5 -5.02 -0.5 -5.02 0.5 -5.02 -0.5 -5.02 -0.5 -5.02 0.5 -5.02 1 -5.02 -1.5 -5.02 1 -5.02 0 -5.02 -0.5 -5.02 -0.5 -5.02 0.5 -5.02 0 -5.02 0 -5.02 0.5 -5.02 -0.5 -5.02 -0.5 -5.02 1 -5.02 -0.5 -5.02 0.5 -5.02 0.5 -5.02 -0.5 -5.02 -0.5 -5.02 -0.5 -5.02 0.5 -5.02 -0.5 -5.02 1 -5.02 -0.5 -5.02 0.5 -5.02 -1 -5.02 0.5 -5.02 0 -5.02 0 -5.02 0 -5.02 0 -5.02 -0.5 -5.02 1.5 -5.02 -1 -5.02 0.5 -5.02 -1 -5.02 0.5 -5.02 0.5 -5.02 0 -5.02 -0.5 -5.02 0.5 -5.02 -0.5 -5.02 0 -5.02 0 -5.02 0.5 -5.02 -0.5 -5.02 0 -5.02 1 -5.02 -1 -5.02 0.5 -5.02 0 -5.02 -0.5 -5.02 0.5 -5.02 0 -5.02 0 -5.02 0 -5.02 0 -5.02 -0.5 -5.02 0 -5.02 -0.5 -5.02 0.5 -5.02 0 -5.02 -0.5 -5.02 0.5 -5.02 0.5 -5.02 -0.5 -5.02 0.5 -5.02 0 -5.02 -1 -5.02 0 -5.02 1 -5.02 0 -5.02 0 -5.02 -1 -5.02 0 -5.02 0 -5.02 0 -5.02 0.5 -5.02 0 -5.02 0 -5.02 0 -5.02 0 -5.02 0.5 -5.02 -0.5 -5.02 0 -5.02 -0.5 -5.02 0.5 -5.02 0.5 -5.02 0 -5.02 0 -5.02 -0.5 -5.02 0.5 -5.02 0.5 -5.02 -1.5 -5.02 0 -5.02 0.5 -5.02 0 -5.02 0 -5.02 0 -5.02 -0.5Z" fill="#221C84"/>
<path d="M1436.9 671.2V644.5h3.2V671.2ZM824.1 671.2V652.0h3.2V671.2ZM1078.4 671.2V658.4h3.2V671.2Z" fill="#221C84"/>
<line x1="781.6" y1="682.3" x2="781.6" y2="751.6" stroke="#000" stroke-width="3"/>
<line x1="778" y1="746.9" x2="781" y2="746.9" stroke="#000" stroke-width="3"/>
<text x="776.0" y="752.9" font-size="17" text-anchor="end" font-family="Liberation Sans, Arial, sans-serif">0</text>
<line x1="778" y1="725.5" x2="781" y2="725.5" stroke="#000" stroke-width="3"/>
<text x="776.0" y="731.5" font-size="17" text-anchor="end" font-family="Liberation Sans, Arial, sans-serif">20</text>
<line x1="778" y1="704.2" x2="781" y2="704.2" stroke="#000" stroke-width="3"/>
<text x="776.0" y="710.2" font-size="17" text-anchor="end" font-family="Liberation Sans, Arial, sans-serif">40</text>
<text transform="translate(1737.3 720.3) rotate(90)" font-size="17.5" text-anchor="middle" font-family="Liberation Sans, Arial, sans-serif">Chr04</text>
<path d="M1395.6 746.9V707.4h3.2V746.9ZM1439.4 746.9V704.2h3.2V746.9ZM1420.4 746.9V734.1h3.2V746.9Z" fill="#A3282C"/>
<path d="M823.4 742.5h1.5v-1h1.5v1.5h1.5v0h1.5v0.5h1.5v-1.5h1.5v0h1.5v-1h1.5v0.5h1.5v1h1.5v0.5h1.5v-1.5h1.5v1h1.5v0.5h1.5v-1.5h1.5v1h1.5v-1h1.5v0.5h1.5v-0.5h1.5v-2h1.5v-0.5h1.5v1.5h1.5v-2h1.5v-3h1.5v7h1.5v0.5h1.5v0.5h1.5v-0.5h1.5v-1.5h1.5v-0.5h1.5v2h1.5v-1.5h1.5v0h1.5v0.5h1.5v1h1.5v0.5h1.5v-1.5h1.5v-1h1.5v0.5h1.5v-0.5h1.5v0.5h1.5v-7h1.5v0.5h1.5v1h1.5v1.5h1.5v6.5h1.5v-2.5h1.5v1h1.5v0.5h1.5v-4h1.5v-4h1.5v-1h1.5v9h1.5v-0.5h1.5v-1h1.5v0.5h1.5v-0.5h1.5v-1h1.5v1h1.5v1.5h1.5v-1h1.5v-1h1.5v-3h1.5v3.5h1.5v0h1.5v0h1.5v0h1.5v1h1.5v0h1.5v-1h1.5v0.5h1.5v-1h1.5v-0.5h1.5v0h1.5v0h1.5v1h1.5v0h1.5v0.5h1.5v-3.5h1.5v1.5h1.5v-1h1.5v-1.5h1.5v4h1.5v1.5h1.5v-1h1.5v0.5h1.5v0.5h1.5v-1h1.5v-2.5h1.5v1h1.5v-2h1.5v1.5h1.5v2h1.5v-1h1.5v1.5h1.5v-1h1.5v1h1.5v0.5h1.5v0.5h1.5v-1.5h1.5v0h1.5v1.5h1.5v0h1.5v-2h1.5v1.5h1.5v0.5h1.5v-7h1.5v-0.5h1.5v-2.5h1.5v7.5h1.5v-6h1.5v6.5h1.5v1.5h1.5v-0.5h1.5v1h1.5v0.5h1.5v0h1.5v-1.5h1.5v-1.5h1.5v1h1.5v-0.5h1.5v0.5h1.5v1.5h1.5v-1h1.5v-1h1.5v-0.5h1.5v2h1.5v1h1.5v-0.5h1.5v0h1.5v-0.5h1.5v0h1.5v-1h1.5v1h1.5v1h1.5v-1.5h1.5v0.5h1.5v-1h1.5v-3.5h1.5v0.5h1.5v-0.5h1.5v5h1.5v-0.5h1.5v-0.5h1.5v0.5h1.5v1h1.5v-1h1.5v0h1.5v-0.5h1.5v1h1.5v0h1.5v0h1.5v0h1.5v0h1.5v-1.5h1.5v-6.5h1.5v7h1.5v0h1.5v0h1.5v0h1.5v0.5h1.5v-2.5h1.5v-0.5h1.5v-1h1.5v1.5h1.5v1h1.5v0h1.5v0.5h1.5v1h1.5v-1.5h1.5v0h1.5v0.5h1.5v-2.5h1.5v1h1.5v0.5h1.5v0.5h1.5v1h1.5v1h1.5v-0.5h1.5v-1h1.5v0.5h1.5v1h1.5v0h1.5v-1h1.5v-0.5h1.5v-6h1.5v5.5h1.5v1.5h1.5v-1h1.5v1h1.5v-1h1.5v1h1.5v0h1.5v-1h1.5v-4h1.5v0h1.5v-0.5h1.5v-1h1.5v4.5h1.5v0.5h1.5v0h1.5v-0.5h1.5v1h1.5v0.5h1.5v1h1.5v-1h1.5v0.5h1.5v-1h1.5v0.5h1.5v-1h1.5v-0.5h1.5v-1h1.5v0.5h1.5v-0.5h1.5v0h1.5v2h1.5v-0.5h1.5v-0.5h1.5v0h1.5v0h1.5v0.5h1.5v1h1.5v1h1.5v-0.5h1.5v0h1.5v-1h1.5v0h1.5v-0.5h1.5v1h1.5v0h1.5v0.5h1.5v-1h1.5v1h1.5v-0.5h1.5v0.5h1.5v-1h1.5v1h1.5v-1h1.5v0.5h1.5v-1h1.5v0.5h1.5v-7h1.5v-1h1.5v3h1.5v0h1.5v5.5h1.5v-1.5h1.5v1h1.5v-1h1.5v0.5h1.5v1h1.5v-1h1.5v1.5h1.5v0h1.5v-0.5h1.5v-1h1.5v0h1.5v-2h1.5v0h1.5v2h1.5v1h1.5v1.5h1.5v-2h1.5v-0.5h1.5v-0.5h1.5v-2.5h1.5v4.5h1.5v-1.5h1.5v-6.5h1.5v1.5h1.5v4h1.5v3h1.5v0.5h1.5v0.5h1.5v0h1.5v-0.5h1.5v0.5h1.5v-2.5h1.5v1.5h1.5v0.5h1.5v-2h1.5v-0.5h1.5v0h1.5v1.5h1.5v-0.5h1.5v1h1.5v-2h1.5v0h1.5v-1h1.5v1.5h1.5v0h1.5v-0.5h1.5v0h1.5v1.5h1.5v0h1.5v0h1.5v0h1.5v-1.5h1.5v-0.5h1.5v1h1.5v-0.5h1.5v1.5h1.5v-0.5h1.5v0h1.5v0h1.5v-1h1.5v-0.5h1.5v0h1.5v-0.5h1.5v1h1.5v1.5h1.5v-1h1.5v1h1.5v-1h1.5v-1h1.5v-3.5h1.5v-3h1.5v0.5h1.5v0.5h1.5v6.5h1.5v-0.5h1.5v-0.5h1.5v1h1.5v1h1.5v-1h1.5v0h1.5v2h1.5v-1h1.5v1h1.5v-1.5h1.5v1h1.5v-0.5h1.5v1h1.5v0h1.5v-2h1.5v1h1.5v0h1.5v-1h1.5v1h1.5v-0.5h1.5v-1h1.5v-1h1.5v1h1.5v1.5h1.5v-0.5h1.5v0.5h1.5v-1.5h1.5v-0.5h1.5v-0.5h1.5v2h1.5v-1h1.5v1.5h1.5v-7.5h1.5v1h1.5v6.5h1.5v-0.5h1.5v0.5h1.5v-1.5h1.5v-0.5h1.5v0.5h1.5v0.5h1.5v-6h1.5v0.5h1.5v-0.5h1.5v5.5h1.5v-0.5h1.5v2h1.5v0.5h1.5v-0.5h1.5v0.5h1.5v0h1.5v-0.5h1.5v-0.5h1.5v-1h1.5v-0.5h1.5v1h1.5v0.5h1.5v1h1.5v-1h1.5v1h1.5v-1.5h1.5v-1h1.5v0h1.5v0.5h1.5v1h1.5v0h1.5v1h1.5v0h1.5v-0.5h1.5v0.5h1.5v-1h1.5v0.5h1.5v0h1.5v-1.5h1.5v-0.5h1.5v2h1.5v-0.5h1.5v-3.5h1.5v-1h1.5v0.5h1.5v2.5h1.5v1.5h1.5v0.5h1.5v1h1.5v-0.5h1.5v0.5h1.5v-2h1.5v-3.5h1.5v0.5h1.5v-1h1.5v2.5h1.5v1.5h1.5v-7h1.5v1h1.5v6h1.5v0h1.5v0h1.5v0h1.5v1.5h1.5v0h1.5v-0.5h1.5v-0.5h1.5v-0.5L1456.4 749.0l-5.02 0 -5.02 0 -5.02 -0.5 -5.02 0.5 -5.02 -0.5 -5.02 0.5 -5.02 -0.5 -5.02 0 -5.02 -0.5 -5.02 1 -5.02 0 -5.02 0.5 -5.02 -1.5 -5.02 1 -5.02 -0.5 -5.02 -0.5 -5.02 1 -5.02 0.5 -5.02 -0.5 -5.02 0.5 -5.02 -1 -5.02 0.5 -5.02 -0.5 -5.02 0 -5.02 0 -5.02 1 -5.02 -0.5 -5.02 0 -5.02 -0.5 -5.02 1 -5.02 -0.5 -5.02 -0.5 -5.02 1 -5.02 -0.5 -5.02 -0.5 -5.02 0.5 -5.02 0 -5.02 0 -5.02 -1 -5.02 1.5 -5.02 -0.5 -5.02 -0.5 -5.02 1 -5.02 0 -5.02 0 -5.02 0 -5.02 -1 -5.02 1 -5.02 -1 -5.02 1 -5.02 -0.5 -5.02 0.5 -5.02 -0.5 -5.02 0.5 -5.02 -0.5 -5.02 0 -5.02 0 -5.02 -1 -5.02 1.5 -5.02 0 -5.02 -1.5 -5.02 0 -5.02 1 -5.02 -0.5 -5.02 0.5 -5.02 0 -5.02 -1 -5.02 0.5 -5.02 -0.5 -5.02 1.5 -5.02 -1 -5.02 0.5 -5.02 0 -5.02 0 -5.02 -1 -5.02 0.5 -5.02 0.5 -5.02 0 -5.02 -0.5 -5.02 0 -5.02 0.5 -5.02 0.5 -5.02 -1 -5.02 1 -5.02 0 -5.02 -1 -5.02 1 -5.02 0 -5.02 -1 -5.02 1 -5.02 -0.5 -5.02 -1 -5.02 0.5 -5.02 0.5 -5.02 -0.5 -5.02 1 -5.02 0 -5.02 -1 -5.02 0.5 -5.02 0 -5.02 0 -5.02 0.5 -5.02 0 -5.02 -0.5 -5.02 0.5 -5.02 -1 -5.02 0 -5.02 0.5 -5.02 -0.5 -5.02 0.5 -5.02 0.5 -5.02 -1.5 -5.02 0.5 -5.02 0.5 -5.02 0.5 -5.02 -0.5 -5.02 0.5 -5.02 -0.5 -5.02 0.5 -5.02 0 -5.02 -1.5 -5.02 1.5 -5.02 -1 -5.02 0 -5.02 1 -5.02 0Z" fill="#A3282C"/>
<path d="M823.4 741.0h1.5v1h1.5v-0.5h1.5v-1h1.5v-0.5h1.5v-2.5h1.5v0.5h1.5v3.5h1.5v-3h1.5v0.5h1.5v0.5h1.5v3h1.5v-0.5h1.5v-0.5h1.5v0h1.5v-1h1.5v1.5h1.5v-0.5h1.5v0.5h1.5v-1h1.5v1h1.5v-1h1.5v0h1.5v-1.5h1.5v0h1.5v-4h1.5v0.5h1.5v-1h1.5v6.5h1.5v-1h1.5v1h1.5v-1h1.5v0.5h1.5v-0.5h1.5v0.5h1.5v0.5h1.5v-1h1.5v0h1.5v0h1.5v-0.5h1.5v-1h1.5v-1h1.5v0h1.5v3h1.5v0h1.5v0h1.5v-0.5h1.5v0.5h1.5v-0.5h1.5v0.5h1.5v-0.5h1.5v1h1.5v0h1.5v0h1.5v-1h1.5v0.5h1.5v0.5h1.5v1h1.5v-9h1.5v-0.5h1.5v8h1.5v-0.5h1.5v0h1.5v0.5h1.5v0.5h1.5v0h1.5v-0.5h1.5v-0.5h1.5v0h1.5v0h1.5v0h1.5v0h1.5v0h1.5v0h1.5v-3h1.5v3h1.5v1h1.5v0h1.5v-1h1.5v0.5h1.5v0.5h1.5v-6.5h1.5v5.5h1.5v0h1.5v0.5h1.5v1h1.5v-1h1.5v0h1.5v-3.5h1.5v1.5h1.5v-2.5h1.5v4h1.5v1h1.5v0.5h1.5v0.5h1.5v-0.5h1.5v-0.5h1.5v-0.5h1.5v0h1.5v1h1.5v0h1.5v0.5h1.5v-1.5h1.5v0.5h1.5v0.5h1.5v-1h1.5v0.5h1.5v-0.5h1.5v1h1.5v0h1.5v-0.5h1.5v0h1.5v0.5h1.5v0h1.5v0h1.5v0.5h1.5v-1h1.5v-1h1.5v1.5h1.5v-1.5h1.5v1h1.5v-1h1.5v-0.5h1.5v0h1.5v0.5h1.5v1h1.5v-1h1.5v-0.5h1.5v0.5h1.5v1h1.5v0.5h1.5v-0.5h1.5v-0.5h1.5v0h1.5v-0.5h1.5v-0.5h1.5v1h1.5v0h1.5v0h1.5v-0.5h1.5v0h1.5v0.5h1.5v0.5h1.5v0h1.5v0h1.5v0h1.5v-0.5h1.5v-1h1.5v0h1.5v0h1.5v1.5h1.5v-1h1.5v0h1.5v-0.5h1.5v0.5h1.5v-0.5h1.5v0h1.5v1.5h1.5v-1.5h1.5v0.5h1.5v1.5h1.5v0.5h1.5v-1h1.5v0.5h1.5v-0.5h1.5v-0.5h1.5v-0.5h1.5v0.5h1.5v0.5h1.5v-0.5h1.5v-8.5h1.5v2.5h1.5v-2.5h1.5v0.5h1.5v7h1.5v0h1.5v0h1.5v0.5h1.5v1h1.5v-6h1.5v1.5h1.5v0.5h1.5v-2h1.5v6h1.5v-0.5h1.5v1h1.5v0h1.5v0h1.5v-0.5h1.5v-0.5h1.5v-1h1.5v0h1.5v0h1.5v1h1.5v-0.5h1.5v1.5h1.5v-1h1.5v-1h1.5v2h1.5v-7.5h1.5v0.5h1.5v-0.5h1.5v3h1.5v4h1.5v0.5h1.5v0h1.5v-1h1.5v0.5h1.5v1h1.5v-1h1.5v-0.5h1.5v1h1.5v-1h1.5v-0.5h1.5v1h1.5v-1h1.5v1.5h1.5v0.5h1.5v-6.5h1.5v0h1.5v-2.5h1.5v2.5h1.5v-0.5h1.5v5h1.5v1h1.5v-1h1.5v0h1.5v1h1.5v0h1.5v-0.5h1.5v0.5h1.5v0.5h1.5v-1h1.5v0h1.5v1h1.5v-1h1.5v0h1.5v-0.5h1.5v1h1.5v-0.5h1.5v-0.5h1.5v0h1.5v-0.5h1.5v0.5h1.5v-0.5h1.5v0.5h1.5v0h1.5v0.5h1.5v-0.5h1.5v0.5h1.5v1h1.5v0h1.5v-0.5h1.5v0.5h1.5v-1h1.5v-0.5h1.5v1h1.5v-0.5h1.5v0.5h1.5v0h1.5v1h1.5v-0.5h1.5v0h1.5v-1.5h1.5v1h1.5v-1h1.5v0h1.5v0.5h1.5v-1h1.5v0h1.5v1h1.5v0h1.5v-0.5h1.5v0h1.5v-4.5h1.5v-1h1.5v5h1.5v-0.5h1.5v0.5h1.5v1h1.5v-0.5h1.5v-0.5h1.5v0.5h1.5v1h1.5v1h1.5v-1h1.5v-0.5h1.5v-0.5h1.5v-2.5h1.5v1h1.5v3h1.5v-1h1.5v0h1.5v0.5h1.5v0h1.5v-1h1.5v1h1.5v-0.5h1.5v1h1.5v-0.5h1.5v0h1.5v-1h1.5v-0.5h1.5v1h1.5v1h1.5v-1h1.5v1h1.5v0h1.5v0.5h1.5v-1.5h1.5v1h1.5v0h1.5v0h1.5v-1h1.5v-0.5h1.5v1h1.5v1h1.5v-2h1.5v2h1.5v0h1.5v-0.5h1.5v-0.5h1.5v-0.5h1.5v-0.5h1.5v1h1.5v-0.5h1.5v0.5h1.5v-0.5h1.5v0h1.5v0h1.5v0h1.5v1h1.5v-0.5h1.5v0h1.5v0h1.5v0.5h1.5v-1h1.5v0.5h1.5v-5h1.5v0.5h1.5v0.5h1.5v0h1.5v4.5h1.5v0.5h1.5v-0.5h1.5v0h1.5v0h1.5v-0.5h1.5v-1h1.5v1h1.5v0h1.5v-1h1.5v0.5h1.5v0.5h1.5v0h1.5v-0.5h1.5v1h1.5v-1h1.5v0.5h1.5v1h1.5v-1h1.5v0h1.5v0.5h1.5v0h1.5v0h1.5v-1.5h1.5v-0.5h1.5v1h1.5v-0.5h1.5v0h1.5v0.5h1.5v-1h1.5v0h1.5v1h1.5v-0.5h1.5v-0.5h1.5v0.5h1.5v0h1.5v0h1.5v0h1.5v1h1.5v-1h1.5v0h1.5v0.5h1.5v-0.5h1.5v0.5h1.5v1h1.5v-1h1.5v0h1.5v1h1.5v0h1.5v0h1.5v-1h1.5v-2h1.5v1h1.5v-1h1.5v1h1.5v2h1.5v0h1.5v-0.5h1.5v0.5h1.5v0.5h1.5v-2h1.5v-1.5h1.5v1h1.5v1h1.5v0h1.5v-0.5h1.5v0.5h1.5v0.5h1.5v-0.5h1.5v-3h1.5v-0.5h1.5v0h1.5v0.5h1.5v4h1.5v0.5h1.5v-1h1.5v1h1.5v-1.5h1.5v0h1.5v1h1.5v-1L1456.4 748.0l-5.02 -0.5 -5.02 0 -5.02 -0.5 -5.02 1 -5.02 0 -5.02 -0.5 -5.02 0 -5.02 0.5 -5.02 -0.5 -5.02 0 -5.02 0 -5.02 0.5 -5.02 0 -5.02 0 -5.02 0 -5.02 0 -5.02 0 -5.02 -1 -5.02 0.5 -5.02 1 -5.02 -0.5 -5.02 0 -5.02 0 -5.02 0 -5.02 -0.5 -5.02 0 -5.02 1 -5.02 -0.5 -5.02 0 -5.02 -0.5 -5.02 0.5 -5.02 -0.5 -5.02 0 -5.02 0 -5.02 0.5 -5.02 -1 -5.02 1 -5.02 -0.5 -5.02 1 -5.02 0 -5.02 -1 -5.02 0.5 -5.02 0 -5.02 0 -5.02 -0.5 -5.02 0 -5.02 0.5 -5.02 0.5 -5.02 0 -5.02 -0.5 -5.02 0.5 -5.02 0 -5.02 -1 -5.02 0 -5.02 1 -5.02 -1 -5.02 0.5 -5.02 0.5 -5.02 -1 -5.02 0.5 -5.02 0.5 -5.02 0 -5.02 -0.5 -5.02 0 -5.02 0 -5.02 -0.5 -5.02 0 -5.02 0.5 -5.02 -0.5 -5.02 1 -5.02 -1 -5.02 0.5 -5.02 0.5 -5.02 -1 -5.02 0.5 -5.02 -0.5 -5.02 0 -5.02 1 -5.02 -0.5 -5.02 -0.5 -5.02 1 -5.02 -0.5 -5.02 -0.5 -5.02 0.5 -5.02 0 -5.02 0 -5.02 -0.5 -5.02 0.5 -5.02 0.5 -5.02 -0.5 -5.02 -0.5 -5.02 1 -5.02 -1 -5.02 0 -5.02 0.5 -5.02 0 -5.02 0 -5.02 0 -5.02 0 -5.02 -0.5 -5.02 1 -5.02 0 -5.02 -1 -5.02 0 -5.02 0.5 -5.02 -0.5 -5.02 0 -5.02 0.5 -5.02 -0.5 -5.02 0 -5.02 0 -5.02 0.5 -5.02 0 -5.02 0 -5.02 -0.5 -5.02 0 -5.02 0.5 -5.02 0 -5.02 -0.5 -5.02 0 -5.02 0.5 -5.02 -0.5 -5.02 0.5 -5.02 0.5 -5.02 -1 -5.02 0Z" fill="#221C84"/>
<path d="M998.4 746.9V736.2h3.2V746.9Z" fill="#221C84"/>
<line x1="781.6" y1="758.0" x2="781.6" y2="827.3" stroke="#000" stroke-width="3"/>
<line x1="778" y1="822.6" x2="781" y2="822.6" stroke="#000" stroke-width="3"/>
<text x="776.0" y="828.6" font-size="17" text-anchor="end" font-family="Liberation Sans, Arial, sans-serif">0</text>
<line x1="778" y1="801.2" x2="781" y2="801.2" stroke="#000" stroke-width="3"/>
<text x="776.0" y="807.2" font-size="17" text-anchor="end" font-family="Liberation Sans, Arial, sans-serif">20</text>
<line x1="778" y1="779.9" x2="781" y2="779.9" stroke="#000" stroke-width="3"/>
<text x="776.0" y="785.9" font-size="17" text-anchor="end" font-family="Liberation Sans, Arial, sans-serif">40</text>
<text transform="translate(1737.3 796.0) rotate(90)" font-size="17.5" text-anchor="middle" font-family="Liberation Sans, Arial, sans-serif">Chr05</text>
<path d="M1098.4 822.6V811.9h3.2V822.6Z" fill="#A3282C"/>
<path d="M823.4 817.0h1.5v0.5h1.5v-0.5h1.5v0.5h1.5v0h1.5v-0.5h1.5v0h1.5v1.5h1.5v-4.5h1.5v0h1.5v3.5h1.5v1.5h1.5v-1h1.5v-0.5h1.5v0.5h1.5v1h1.5v-1h1.5v-0.5h1.5v-1h1.5v0h1.5v1.5h1.5v-0.5h1.5v0h1.5v0h1.5v-1h1.5v1h1.5v-1h1.5v1.5h1.5v0h1.5v1h1.5v0.5h1.5v-0.5h1.5v0h1.5v-2h1.5v-2h1.5v0.5h1.5v2.5h1.5v-1h1.5v-0.5h1.5v2h1.5v-0.5h1.5v0.5h1.5v0.5h1.5v-0.5h1.5v-1h1.5v-0.5h1.5v1h1.5v0.5h1.5v-0.5h1.5v0h1.5v0.5h1.5v-1h1.5v1.5h1.5v0.5h1.5v0h1.5v-4.5h1.5v1h1.5v-1.5h1.5v-1.5h1.5v3.5h1.5v1h1.5v1h1.5v1h1.5v-1h1.5v0.5h1.5v0.5h1.5v-2h1.5v1.5h1.5v0h1.5v-1h1.5v0.5h1.5v-1h1.5v1h1.5v0.5h1.5v-1h1.5v0h1.5v1h1.5v0h1.5v-0.5h1.5v-0.5h1.5v-0.5h1.5v1.5h1.5v-1.5h1.5v-0.5h1.5v0.5h1.5v0.5h1.5v-1h1.5v0.5h1.5v-4h1.5v-1h1.5v0.5h1.5v0.5h1.5v5h1.5v-0.5h1.5v-1h1.5v1h1.5v-0.5h1.5v1h1.5v-1h1.5v-0.5h1.5v0.5h1.5v0.5h1.5v0h1.5v-1h1.5v-5.5h1.5v2.5h1.5v-1h1.5v-1h1.5v2h1.5v-1h1.5v-1.5h1.5v5h1.5v-0.5h1.5v0h1.5v0h1.5v1.5h1.5v-0.5h1.5v1h1.5v-0.5h1.5v0.5h1.5v1h1.5v-1.5h1.5v-0.5h1.5v0.5h1.5v1.5h1.5v-1.5h1.5v-1h1.5v0h1.5v1h1.5v-0.5h1.5v1h1.5v1h1.5v0.5h1.5v-0.5h1.5v-1.5h1.5v0.5h1.5v1.5h1.5v0.5h1.5v-1h1.5v-2.5h1.5v-1h1.5v1.5h1.5v-1h1.5v1h1.5v2h1.5v-7h1.5v1.5h1.5v3.5h1.5v0.5h1.5v0h1.5v0h1.5v0.5h1.5v0.5h1.5v1h1.5v0h1.5v-0.5h1.5v0h1.5v-0.5h1.5v0h1.5v-1h1.5v0h1.5v1h1.5v1h1.5v0.5h1.5v-1.5h1.5v-1h1.5v0h1.5v-0.5h1.5v1.5h1.5v0.5h1.5v0h1.5v0.5h1.5v0.5h1.5v-4.5h1.5v0h1.5v-0.5h1.5v1.5h1.5v2h1.5v0.5h1.5v0h1.5v-1h1.5v0h1.5v-0.5h1.5v0h1.5v0h1.5v-5.5h1.5v1h1.5v-0.5h1.5v4.5h1.5v0.5h1.5v0.5h1.5v-0.5h1.5v-1h1.5v1h1.5v-0.5h1.5v1h1.5v0.5h1.5v0h1.5v-0.5h1.5v1h1.5v-1h1.5v0.5h1.5v1h1.5v-2h1.5v-1h1.5v1.5h1.5v-0.5h1.5v0h1.5v0h1.5v1h1.5v-6.5h1.5v1.5h1.5v4h1.5v1.5h1.5v0h1.5v0.5h1.5v-1h1.5v1h1.5v-2h1.5v-0.5h1.5v-2h1.5v0.5h1.5v1.5h1.5v1h1.5v-0.5h1.5v1.5h1.5v-1h1.5v1h1.5v-1.5h1.5v0.5h1.5v0.5h1.5v-0.5h1.5v0h1.5v-0.5h1.5v1h1.5v-0.5h1.5v-1h1.5v-9h1.5v1h1.5v1h1.5v7.5h1.5v1h1.5v0h1.5v0.5h1.5v-1.5h1.5v-1h1.5v1.5h1.5v-0.5h1.5v1h1.5v-4h1.5v0.5h1.5v4h1.5v-5.5h1.5v-2.5h1.5v-0.5h1.5v1.5h1.5v4h1.5v0.5h1.5v2h1.5v1h1.5v-0.5h1.5v0h1.5v-1h1.5v-0.5h1.5v-0.5h1.5v0h1.5v-1h1.5v1.5h1.5v0h1.5v1h1.5v-1h1.5v0h1.5v0.5h1.5v-0.5h1.5v-0.5h1.5v-2h1.5v1h1.5v-1.5h1.5v2.5h1.5v0.5h1.5v1h1.5v-0.5h1.5v0h1.5v-1h1.5v1h1.5v1h1.5v-1.5h1.5v-0.5h1.5v0.5h1.5v-0.5h1.5v1h1.5v1h1.5v-1h1.5v1h1.5v-0.5h1.5v0h1.5v-1.5h1.5v0.5h1.5v1h1.5v0h1.5v1h1.5v0h1.5v-0.5h1.5v-1h1.5v-6.5h1.5v-1h1.5v7.5h1.5v0.5h1.5v-0.5h1.5v-1h1.5v0h1.5v-1h1.5v-0.5h1.5v0h1.5v0h1.5v1h1.5v2h1.5v-0.5h1.5v0h1.5v1h1.5v-1.5h1.5v0h1.5v1.5h1.5v-0.5h1.5v-1.5h1.5v1.5h1.5v-1h1.5v-0.5h1.5v-0.5h1.5v2h1.5v-1h1.5v1h1.5v1h1.5v-1.5h1.5v0.5h1.5v0h1.5v-8h1.5v0h1.5v7h1.5v-5.5h1.5v0h1.5v4.5h1.5v-1h1.5v1.5h1.5v0.5h1.5v1h1.5v-1h1.5v1.5h1.5v-1.5h1.5v1h1.5v-1.5h1.5v1h1.5v-4h1.5v-2.5h1.5v1h1.5v6h1.5v-1h1.5v1h1.5v-1h1.5v1h1.5v-1.5h1.5v0h1.5v1h1.5v-7h1.5v0h1.5v6.5h1.5v1h1.5v-4h1.5v1h1.5v0.5h1.5v0.5h1.5v2.5h1.5v0.5h1.5v-4h1.5v0L1384.4 824.5l-5.01 -0.5 -5.01 0 -5.01 0 -5.01 0.5 -5.01 0 -5.01 0.5 -5.01 -1 -5.01 1 -5.01 -1 -5.01 1 -5.01 -0.5 -5.01 0.5 -5.01 0 -5.01 -0.5 -5.01 0.5 -5.01 -1 -5.01 1 -5.01 -0.5 -5.01 -0.5 -5.01 0.5 -5.01 0 -5.01 0 -5.01 0.5 -5.01 0.5 -5.01 -1 -5.01 0 -5.01 1 -5.01 -0.5 -5.01 0 -5.01 0.5 -5.01 -0.5 -5.01 0 -5.01 -1 -5.01 1.5 -5.01 -0.5 -5.01 0 -5.01 -0.5 -5.01 -0.5 -5.01 0 -5.01 0.5 -5.01 0 -5.01 0 -5.01 0.5 -5.01 -1 -5.01 0 -5.01 1 -5.01 0 -5.01 -1 -5.01 0.5 -5.01 0.5 -5.01 -1 -5.01 1 -5.01 -0.5 -5.01 -0.5 -5.01 0.5 -5.01 -0.5 -5.01 0 -5.01 1 -5.01 0 -5.01 -0.5 -5.01 -0.5 -5.01 1.5 -5.01 -1.5 -5.01 0 -5.01 0.5 -5.01 -0.5 -5.01 0.5 -5.01 0.5 -5.01 -0.5 -5.01 -0.5 -5.01 0.5 -5.01 -0.5 -5.01 0 -5.01 0.5 -5.01 -0.5 -5.01 0 -5.01 0.5 -5.01 0.5 -5.01 -1 -5.01 1 -5.01 0 -5.01 -0.5 -5.01 -0.5 -5.01 1 -5.01 0 -5.01 0 -5.01 -0.5 -5.01 0 -5.01 -0.5 -5.01 1.5 -5.01 -1 -5.01 -0.5 -5.01 1 -5.01 0 -5.01 0 -5.01 -1 -5.01 1 -5.01 -0.5 -5.01 -0.5 -5.01 1.5 -5.01 -1.5 -5.01 0 -5.01 1 -5.01 -1 -5.01 0 -5.01 1 -5.01 -0.5 -5.01 0.5 -5.01 -0.5 -5.01 1 -5.01 -0.5 -5.01 -1Z" fill="#A3282C"/>
<path d="M823.4 816.0h1.5v0h1.5v0h1.5v0.5h1.5v0.5h1.5v0h1.5v0.5h1.5v-0.5h1.5v1h1.5v-0.5h1.5v-0.5h1.5v1h1.5v-0.5h1.5v-0.5h1.5v1h1.5v0h1.5v-0.5h1.5v-1h1.5v1h1.5v-1h1.5v1h1.5v0h1.5v0.5h1.5v-1.5h1.5v0h1.5v0h1.5v-3h1.5v-1h1.5v-1h1.5v4.5h1.5v1.5h1.5v-1h1.5v-0.5h1.5v1h1.5v-0.5h1.5v0.5h1.5v0h1.5v0h1.5v1h1.5v-1h1.5v-0.5h1.5v-0.5h1.5v-0.5h1.5v-1h1.5v1h1.5v-0.5h1.5v0h1.5v3h1.5v-1h1.5v0h1.5v0h1.5v0h1.5v0h1.5v-6h1.5v0h1.5v5.5h1.5v-0.5h1.5v-0.5h1.5v1h1.5v0.5h1.5v0h1.5v0.5h1.5v-0.5h1.5v0.5h1.5v-1h1.5v0h1.5v0h1.5v1h1.5v-1.5h1.5v1.5h1.5v0.5h1.5v0h1.5v0h1.5v-1.5h1.5v0h1.5v-8h1.5v1h1.5v1.5h1.5v6.5h1.5v-0.5h1.5v0h1.5v1h1.5v0.5h1.5v-1.5h1.5v-1h1.5v-0.5h1.5v1h1.5v0.5h1.5v-0.5h1.5v0.5h1.5v-1h1.5v0.5h1.5v1h1.5v-8.5h1.5v0.5h1.5v1.5h1.5v6h1.5v-0.5h1.5v0.5h1.5v-3.5h1.5v0.5h1.5v2h1.5v0.5h1.5v0h1.5v-0.5h1.5v-1.5h1.5v0h1.5v1h1.5v0.5h1.5v0h1.5v1h1.5v-1h1.5v1.5h1.5v-1h1.5v0h1.5v1h1.5v0.5h1.5v-0.5h1.5v-1h1.5v0.5h1.5v0.5h1.5v-1h1.5v1.5h1.5v0.5h1.5v-0.5h1.5v-1.5h1.5v0.5h1.5v0h1.5v0h1.5v0h1.5v-0.5h1.5v0.5h1.5v1h1.5v0h1.5v-1h1.5v0h1.5v-0.5h1.5v-1h1.5v-1h1.5v3h1.5v0.5h1.5v-5.5h1.5v1.5h1.5v3.5h1.5v-0.5h1.5v-1h1.5v0.5h1.5v-7h1.5v2.5h1.5v-1h1.5v6h1.5v0h1.5v0h1.5v1h1.5v0h1.5v-0.5h1.5v0h1.5v0h1.5v0h1.5v-1h1.5v-0.5h1.5v0.5h1.5v0.5h1.5v0h1.5v0.5h1.5v0h1.5v0h1.5v-1h1.5v0h1.5v1h1.5v-1h1.5v0h1.5v-0.5h1.5v0.5h1.5v1h1.5v0.5h1.5v-0.5h1.5v-2h1.5v-2h1.5v3h1.5v0.5h1.5v0h1.5v0h1.5v0.5h1.5v-0.5h1.5v0h1.5v1h1.5v-1h1.5v-0.5h1.5v0.5h1.5v-1h1.5v0.5h1.5v0.5h1.5v0h1.5v1h1.5v0h1.5v0h1.5v-1h1.5v-0.5h1.5v-0.5h1.5v0h1.5v1h1.5v-0.5h1.5v0.5h1.5v-1h1.5v-0.5h1.5v1.5h1.5v-1h1.5v1h1.5v-1h1.5v1h1.5v0.5h1.5v0h1.5v0.5h1.5v-5h1.5v-2.5h1.5v1.5h1.5v-1h1.5v6h1.5v0.5h1.5v-0.5h1.5v-0.5h1.5v1h1.5v0.5h1.5v-0.5h1.5v-1h1.5v-0.5h1.5v0.5h1.5v1h1.5v-0.5h1.5v1h1.5v-1h1.5v-1h1.5v-4.5h1.5v2h1.5v-2h1.5v6h1.5v-0.5h1.5v0.5h1.5v-0.5h1.5v0.5h1.5v-1h1.5v1h1.5v0h1.5v0h1.5v-0.5h1.5v0.5h1.5v-2.5h1.5v3h1.5v0h1.5v-1h1.5v0h1.5v0h1.5v0.5h1.5v0h1.5v-1.5h1.5v1.5h1.5v-1h1.5v0h1.5v0.5h1.5v1h1.5v-1h1.5v0.5h1.5v0.5h1.5v0.5h1.5v-0.5h1.5v-2.5h1.5v-0.5h1.5v0h1.5v-0.5h1.5v3h1.5v-0.5h1.5v-0.5h1.5v0.5h1.5v0h1.5v-0.5h1.5v-0.5h1.5v1h1.5v0h1.5v-0.5h1.5v1h1.5v-1h1.5v1h1.5v0h1.5v0h1.5v0h1.5v-0.5h1.5v-0.5h1.5v1h1.5v-1h1.5v0h1.5v0.5h1.5v0.5h1.5v0h1.5v-1h1.5v-0.5h1.5v1h1.5v1h1.5v-1.5h1.5v0h1.5v0.5h1.5v-1h1.5v-5.5h1.5v1.5h1.5v-0.5h1.5v-2.5h1.5v7.5h1.5v0.5h1.5v0.5h1.5v-0.5h1.5v0.5h1.5v-0.5h1.5v0.5h1.5v-8h1.5v3h1.5v-1.5h1.5v6h1.5v-0.5h1.5v0h1.5v0.5h1.5v-0.5h1.5v0h1.5v-0.5h1.5v1h1.5v0.5h1.5v0h1.5v0h1.5v-1h1.5v-0.5h1.5v-2.5h1.5v3.5h1.5v-1h1.5v0.5h1.5v1h1.5v-5h1.5v4h1.5v-0.5h1.5v0.5h1.5v0h1.5v1h1.5v0h1.5v-1h1.5v0.5h1.5v-0.5h1.5v0h1.5v0.5h1.5v0.5h1.5v-0.5h1.5v-1h1.5v1.5h1.5v0h1.5v-1h1.5v0h1.5v0.5h1.5v-0.5h1.5v-5h1.5v0h1.5v0.5h1.5v3h1.5v1h1.5v-1h1.5v0.5h1.5v0.5h1.5v1h1.5v-0.5h1.5v-0.5h1.5v1.5h1.5v0.5h1.5v0h1.5v0h1.5v0h1.5v-1h1.5v0.5h1.5v-1h1.5v0L1384.4 823.5l-5.01 0 -5.01 -0.5 -5.01 0.5 -5.01 -0.5 -5.01 1 -5.01 0 -5.01 -1 -5.01 0.5 -5.01 0.5 -5.01 -1 -5.01 0.5 -5.01 0 -5.01 0.5 -5.01 0 -5.01 -1 -5.01 0.5 -5.01 0 -5.01 0.5 -5.01 0 -5.01 0 -5.01 -0.5 -5.01 0.5 -5.01 -0.5 -5.01 0 -5.01 0 -5.01 0.5 -5.01 0 -5.01 -0.5 -5.01 0 -5.01 0 -5.01 -0.5 -5.01 1 -5.01 -0.5 -5.01 0 -5.01 0.5 -5.01 -1 -5.01 0.5 -5.01 -0.5 -5.01 0.5 -5.01 0.5 -5.01 -0.5 -5.01 0.5 -5.01 0 -5.01 -0.5 -5.01 0.5 -5.01 0 -5.01 -1 -5.01 0.5 -5.01 0 -5.01 0.5 -5.01 0 -5.01 0 -5.01 -0.5 -5.01 0 -5.01 0 -5.01 -0.5 -5.01 0.5 -5.01 -0.5 -5.01 1 -5.01 -0.5 -5.01 0.5 -5.01 0 -5.01 -1 -5.01 1 -5.01 0 -5.01 0 -5.01 -1 -5.01 0.5 -5.01 0 -5.01 0.5 -5.01 -1 -5.01 1 -5.01 -0.5 -5.01 0.5 -5.01 -0.5 -5.01 0.5 -5.01 -1 -5.01 0.5 -5.01 -0.5 -5.01 0 -5.01 0 -5.01 1 -5.01 -1 -5.01 1 -5.01 -1 -5.01 1 -5.01 0 -5.01 -1 -5.01 0 -5.01 1 -5.01 -0.5 -5.01 0 -5.01 0 -5.01 0 -5.01 0.5 -5.01 -0.5 -5.01 0 -5.01 0.5 -5.01 -0.5 -5.01 0.5 -5.01 -0.5 -5.01 -0.5 -5.01 1 -5.01 -0.5 -5.01 -0.5 -5.01 0.5 -5.01 0.5 -5.01 0 -5.01 -0.5 -5.01 0.5 -5.01 0 -5.01 -1Z" fill="#221C84"/>
<path d="M1225.4 822.6V806.6h3.2V822.6ZM1287.4 822.6V806.6h3.2V822.6ZM1372.4 822.6V806.6h3.2V822.6Z" fill="#221C84"/>
<line x1="781.6" y1="833.7" x2="781.6" y2="903.0" stroke="#000" stroke-width="3"/>
<line x1="778" y1="898.3" x2="781" y2="898.3" stroke="#000" stroke-width="3"/>
<text x="776.0" y="904.3" font-size="17" text-anchor="end" font-family="Liberation Sans, Arial, sans-serif">0</text>
<line x1="778" y1="876.9" x2="781" y2="876.9" stroke="#000" stroke-width="3"/>
<text x="776.0" y="882.9" font-size="17" text-anchor="end" font-family="Liberation Sans, Arial, sans-serif">20</text>
<line x1="778" y1="855.6" x2="781" y2="855.6" stroke="#000" stroke-width="3"/>
<text x="776.0" y="861.6" font-size="17" text-anchor="end" font-family="Liberation Sans, Arial, sans-serif">40</text>
<text transform="translate(1737.3 871.7) rotate(90)" font-size="17.5" text-anchor="middle" font-family="Liberation Sans, Arial, sans-serif">Chr06</text>
<path d="M1110.8 898.3V868.4h3.2V898.3ZM1279.1 898.3V879.1h3.2V898.3ZM1326.9 898.3V876.9h3.2V898.3Z" fill="#A3282C"/>
<path d="M823.4 890.5h1.5v-0.5h1.5v4.5h1.5v-1h1.5v1h1.5v0h1.5v-1h1.5v0.5h1.5v-6h1.5v0h1.5v-1h1.5v-1.5h1.5v8.5h1.5v-1.5h1.5v0.5h1.5v-1h1.5v1h1.5v1h1.5v1h1.5v0h1.5v-0.5h1.5v-1h1.5v1.5h1.5v-4.5h1.5v4h1.5v-1.5h1.5v0h1.5v-1.5h1.5v0.5h1.5v0.5h1.5v-0.5h1.5v1.5h1.5v0h1.5v0h1.5v0.5h1.5v0h1.5v-9.5h1.5v2.5h1.5v6h1.5v1h1.5v-0.5h1.5v-0.5h1.5v1h1.5v1h1.5v-2h1.5v1h1.5v-1h1.5v0h1.5v-0.5h1.5v0h1.5v0h1.5v0h1.5v2h1.5v0h1.5v0.5h1.5v-0.5h1.5v-0.5h1.5v-1.5h1.5v2h1.5v0.5h1.5v-0.5h1.5v-1h1.5v-0.5h1.5v1h1.5v1h1.5v0.5h1.5v-1h1.5v-2h1.5v0h1.5v-0.5h1.5v1h1.5v0h1.5v1h1.5v0h1.5v0h1.5v-1h1.5v-1h1.5v0h1.5v0h1.5v2h1.5v-1h1.5v1h1.5v1h1.5v-1.5h1.5v-1.5h1.5v0h1.5v1h1.5v1.5h1.5v-5.5h1.5v6h1.5v-0.5h1.5v0.5h1.5v-1h1.5v0.5h1.5v-1h1.5v-0.5h1.5v0.5h1.5v0h1.5v0h1.5v0h1.5v1.5h1.5v-2.5h1.5v-0.5h1.5v0h1.5v-1.5h1.5v3h1.5v1h1.5v0h1.5v0h1.5v-0.5h1.5v-5.5h1.5v-0.5h1.5v-1h1.5v0.5h1.5v6.5h1.5v-0.5h1.5v0.5h1.5v0.5h1.5v-1.5h1.5v0h1.5v0h1.5v-3h1.5v-1.5h1.5v1h1.5v6h1.5v-1h1.5v1h1.5v-0.5h1.5v-1.5h1.5v0.5h1.5v0.5h1.5v-0.5h1.5v0h1.5v0h1.5v0h1.5v-1h1.5v-0.5h1.5v0h1.5v0.5h1.5v2h1.5v0h1.5v0h1.5v0h1.5v-1.5h1.5v0h1.5v1h1.5v0.5h1.5v0h1.5v0.5h1.5v-1h1.5v-1h1.5v-0.5h1.5v-0.5h1.5v1.5h1.5v1h1.5v-0.5h1.5v0h1.5v-2h1.5v1h1.5v-0.5h1.5v0h1.5v0.5h1.5v0h1.5v-1h1.5v2h1.5v-6.5h1.5v1h1.5v4.5h1.5v1.5h1.5v-1.5h1.5v0.5h1.5v-1.5h1.5v1h1.5v1.5h1.5v0h1.5v0h1.5v-2h1.5v0.5h1.5v-6.5h1.5v-2.5h1.5v-1h1.5v3h1.5v6.5h1.5v1.5h1.5v-1h1.5v0h1.5v1h1.5v0h1.5v-0.5h1.5v-0.5h1.5v0.5h1.5v-2.5h1.5v1.5h1.5v1.5h1.5v-1.5h1.5v-0.5h1.5v1.5h1.5v0h1.5v1h1.5v-2h1.5v-0.5h1.5v-3h1.5v1h1.5v-2h1.5v0h1.5v4.5h1.5v-3h1.5v-0.5h1.5v4.5h1.5v-1.5h1.5v0h1.5v0h1.5v1.5h1.5v0.5h1.5v-0.5h1.5v0h1.5v0h1.5v-1h1.5v-3.5h1.5v0h1.5v1.5h1.5v-1h1.5v3h1.5v1.5h1.5v-1.5h1.5v-0.5h1.5v-5h1.5v2.5h1.5v5h1.5v-1.5h1.5v0.5h1.5v0.5h1.5v0.5h1.5v-1.5h1.5v1h1.5v-2.5h1.5v-0.5h1.5v0.5h1.5v2.5h1.5v0h1.5v-1h1.5v-0.5h1.5v0h1.5v0.5h1.5v1h1.5v-1h1.5v1h1.5v-1h1.5v0h1.5v0.5h1.5v0h1.5v0h1.5v0.5h1.5v-8h1.5v-1h1.5v1.5h1.5v6h1.5v0h1.5v0h1.5v1.5h1.5v0h1.5v-0.5h1.5v0.5h1.5v-3.5h1.5v-3h1.5v5.5h1.5v0h1.5v-0.5h1.5v-1h1.5v-0.5h1.5v1h1.5v0h1.5v-2h1.5v0.5h1.5v0.5h1.5v-0.5h1.5v2.5h1.5v1h1.5v-0.5h1.5v-0.5h1.5v0.5h1.5v-0.5h1.5v1h1.5v-1h1.5v-1h1.5v0.5h1.5v1h1.5v0.5h1.5v-1h1.5v0h1.5v0.5h1.5v-0.5h1.5v0h1.5v1h1.5v-1h1.5v-0.5h1.5v0h1.5v-0.5h1.5v-5.5h1.5v1.5h1.5v6.5h1.5v-1h1.5v0.5h1.5v-1.5h1.5v1h1.5v0h1.5v-0.5h1.5v-0.5h1.5v0h1.5v0h1.5v-1h1.5v0.5h1.5v0.5h1.5v1h1.5v1.5h1.5v0h1.5v-2.5h1.5v0.5h1.5v-1h1.5v1.5h1.5v-0.5h1.5v0.5h1.5v1h1.5v-1h1.5v-1h1.5v1h1.5v-3h1.5v1h1.5v-1.5h1.5v-1.5h1.5v4h1.5v1h1.5v-1h1.5v1h1.5v-0.5h1.5v0h1.5v-0.5h1.5v-3h1.5v0h1.5v0h1.5v0h1.5v3h1.5v-6.5h1.5v-1h1.5v-0.5h1.5v2h1.5v6h1.5v0h1.5v1.5h1.5v0.5h1.5v-6h1.5v0h1.5v5.5h1.5v-1h1.5v-1h1.5v-1h1.5v2h1.5v-1h1.5v1h1.5v-1h1.5v0.5h1.5v0.5h1.5v0.5h1.5v0h1.5v1L1369.4 901.0l-5.01 -1 -5.01 0.5 -5.01 -1 -5.01 0.5 -5.01 1 -5.01 0 -5.01 -1 -5.01 -0.5 -5.01 0 -5.01 1 -5.01 0 -5.01 0 -5.01 -0.5 -5.01 1 -5.01 -1 -5.01 0.5 -5.01 0.5 -5.01 -1.5 -5.01 0.5 -5.01 -0.5 -5.01 1.5 -5.01 -0.5 -5.01 -1 -5.01 1 -5.01 -0.5 -5.01 0.5 -5.01 -0.5 -5.01 1 -5.01 -1.5 -5.01 0.5 -5.01 0 -5.01 0 -5.01 0 -5.01 1 -5.01 0 -5.01 -1 -5.01 -0.5 -5.01 1 -5.01 -1 -5.01 0.5 -5.01 0.5 -5.01 -0.5 -5.01 0.5 -5.01 0.5 -5.01 -1 -5.01 1 -5.01 -0.5 -5.01 0 -5.01 -0.5 -5.01 1 -5.01 -1 -5.01 0 -5.01 1 -5.01 -0.5 -5.01 -1 -5.01 1 -5.01 0.5 -5.01 -0.5 -5.01 -0.5 -5.01 1 -5.01 -0.5 -5.01 0 -5.01 0.5 -5.01 -0.5 -5.01 -0.5 -5.01 0 -5.01 0.5 -5.01 0 -5.01 0 -5.01 0 -5.01 -0.5 -5.01 1 -5.01 0 -5.01 -0.5 -5.01 0 -5.01 -0.5 -5.01 -0.5 -5.01 1 -5.01 -0.5 -5.01 0 -5.01 -0.5 -5.01 1 -5.01 0 -5.01 -1 -5.01 1.5 -5.01 -0.5 -5.01 -0.5 -5.01 0 -5.01 0.5 -5.01 -0.5 -5.01 0.5 -5.01 0.5 -5.01 -0.5 -5.01 -1 -5.01 1 -5.01 0.5 -5.01 -0.5 -5.01 0 -5.01 0.5 -5.01 0 -5.01 -1.5 -5.01 0.5 -5.01 0 -5.01 1 -5.01 -1 -5.01 0.5 -5.01 0.5 -5.01 0 -5.01 -1.5Z" fill="#A3282C"/>
<path d="M823.4 892.0h1.5v-0.5h1.5v0h1.5v-3.5h1.5v0.5h1.5v3.5h1.5v-4.5h1.5v-0.5h1.5v5h1.5v1h1.5v0h1.5v-0.5h1.5v0.5h1.5v-0.5h1.5v-0.5h1.5v-0.5h1.5v-3h1.5v-1.5h1.5v0.5h1.5v0.5h1.5v5h1.5v-2h1.5v-1h1.5v2.5h1.5v-0.5h1.5v-0.5h1.5v0h1.5v0h1.5v0h1.5v1h1.5v0.5h1.5v0h1.5v0.5h1.5v-1.5h1.5v0h1.5v-0.5h1.5v1h1.5v0.5h1.5v0.5h1.5v-1.5h1.5v-1.5h1.5v2h1.5v-1h1.5v0h1.5v2h1.5v-5h1.5v-2.5h1.5v6h1.5v1.5h1.5v-1h1.5v1h1.5v0h1.5v-1h1.5v1h1.5v-1h1.5v-1h1.5v0h1.5v0h1.5v-0.5h1.5v1.5h1.5v1h1.5v-1h1.5v-0.5h1.5v-0.5h1.5v-4h1.5v1h1.5v0h1.5v3h1.5v0.5h1.5v1h1.5v-1h1.5v1h1.5v-0.5h1.5v0h1.5v0.5h1.5v0h1.5v0h1.5v0.5h1.5v-0.5h1.5v0.5h1.5v-0.5h1.5v-5h1.5v0h1.5v1h1.5v-0.5h1.5v4.5h1.5v0h1.5v0h1.5v0.5h1.5v-0.5h1.5v0.5h1.5v-1h1.5v0h1.5v0.5h1.5v-1h1.5v1.5h1.5v-1h1.5v-0.5h1.5v0h1.5v0.5h1.5v0.5h1.5v1h1.5v-0.5h1.5v-1h1.5v0h1.5v0h1.5v1h1.5v-1h1.5v0h1.5v1h1.5v0h1.5v-1.5h1.5v1h1.5v0h1.5v-3.5h1.5v0.5h1.5v2h1.5v1.5h1.5v-0.5h1.5v-1h1.5v1h1.5v-1h1.5v-0.5h1.5v0.5h1.5v-0.5h1.5v0h1.5v0h1.5v0h1.5v0.5h1.5v0h1.5v1h1.5v0h1.5v1h1.5v0h1.5v-0.5h1.5v-1h1.5v1h1.5v-1.5h1.5v-0.5h1.5v1.5h1.5v0.5h1.5v0h1.5v-1.5h1.5v-0.5h1.5v1h1.5v-1h1.5v1h1.5v-0.5h1.5v0.5h1.5v1h1.5v0h1.5v-0.5h1.5v0.5h1.5v-1h1.5v1h1.5v-0.5h1.5v-0.5h1.5v0h1.5v1h1.5v-0.5h1.5v-0.5h1.5v-1h1.5v1.5h1.5v0.5h1.5v0h1.5v-1h1.5v0h1.5v1h1.5v0.5h1.5v-1h1.5v0h1.5v0.5h1.5v-0.5h1.5v0.5h1.5v-1.5h1.5v1h1.5v-1h1.5v0.5h1.5v0h1.5v0.5h1.5v-1h1.5v0h1.5v0.5h1.5v-1h1.5v1h1.5v1h1.5v0.5h1.5v-1h1.5v-1h1.5v0h1.5v1h1.5v1h1.5v0h1.5v-1.5h1.5v-0.5h1.5v-0.5h1.5v0.5h1.5v0h1.5v0.5h1.5v1h1.5v-0.5h1.5v-1h1.5v0.5h1.5v0.5h1.5v-0.5h1.5v0.5h1.5v-1h1.5v1h1.5v0.5h1.5v-7h1.5v2h1.5v-1.5h1.5v1h1.5v5h1.5v-1h1.5v0h1.5v1h1.5v-0.5h1.5v0h1.5v0h1.5v1h1.5v-1h1.5v-2.5h1.5v-0.5h1.5v1.5h1.5v-1.5h1.5v3h1.5v1h1.5v0h1.5v-5.5h1.5v0h1.5v-1.5h1.5v6h1.5v1h1.5v-0.5h1.5v0h1.5v-1h1.5v-0.5h1.5v0.5h1.5v1h1.5v0.5h1.5v0h1.5v0h1.5v-1h1.5v-1h1.5v1.5h1.5v-1h1.5v0h1.5v-0.5h1.5v-2.5h1.5v4h1.5v0h1.5v0h1.5v0.5h1.5v0h1.5v0h1.5v0h1.5v-0.5h1.5v1h1.5v-0.5h1.5v-1h1.5v-0.5h1.5v1h1.5v0.5h1.5v-1.5h1.5v0.5h1.5v-0.5h1.5v1h1.5v0.5h1.5v-0.5h1.5v-1h1.5v0.5h1.5v-1h1.5v-1h1.5v0.5h1.5v0.5h1.5v2h1.5v0h1.5v-1h1.5v-0.5h1.5v1h1.5v0h1.5v-1h1.5v0.5h1.5v-1h1.5v0.5h1.5v0h1.5v0.5h1.5v0.5h1.5v0.5h1.5v-2h1.5v-0.5h1.5v3h1.5v0h1.5v-0.5h1.5v0h1.5v-0.5h1.5v0.5h1.5v-0.5h1.5v0.5h1.5v-0.5h1.5v-0.5h1.5v0h1.5v-0.5h1.5v1h1.5v-3h1.5v-1h1.5v4.5h1.5v0.5h1.5v-0.5h1.5v0h1.5v-1.5h1.5v0.5h1.5v0h1.5v-0.5h1.5v0.5h1.5v0.5h1.5v-1h1.5v0.5h1.5v1h1.5v-0.5h1.5v-1h1.5v0.5h1.5v-0.5h1.5v0h1.5v1.5h1.5v-1h1.5v0.5h1.5v-1h1.5v-1h1.5v0h1.5v1h1.5v1h1.5v-1h1.5v0.5h1.5v-0.5h1.5v1.5h1.5v-1h1.5v0.5h1.5v0h1.5v1h1.5v-3.5h1.5v-2.5h1.5v-0.5h1.5v0h1.5v-2.5h1.5v8h1.5v0h1.5v-0.5h1.5v-1h1.5v1.5h1.5v-1h1.5v0h1.5v0.5h1.5v-0.5h1.5v-0.5h1.5v-0.5h1.5v0h1.5v1h1.5v1h1.5v0h1.5v0.5h1.5v0.5h1.5v-0.5h1.5v-0.5L1369.4 899.0l-5.01 -0.5 -5.01 0.5 -5.01 1 -5.01 -1 -5.01 0.5 -5.01 -1 -5.01 0 -5.01 0 -5.01 0.5 -5.01 -0.5 -5.01 0.5 -5.01 0 -5.01 1 -5.01 -0.5 -5.01 0 -5.01 -0.5 -5.01 -0.5 -5.01 0.5 -5.01 -0.5 -5.01 1 -5.01 -0.5 -5.01 -0.5 -5.01 0.5 -5.01 0 -5.01 1 -5.01 -0.5 -5.01 0 -5.01 0.5 -5.01 -1.5 -5.01 0.5 -5.01 0 -5.01 0.5 -5.01 0.5 -5.01 -0.5 -5.01 -0.5 -5.01 0 -5.01 0 -5.01 -0.5 -5.01 0.5 -5.01 0 -5.01 0 -5.01 0.5 -5.01 -0.5 -5.01 0.5 -5.01 -0.5 -5.01 0.5 -5.01 0 -5.01 -0.5 -5.01 0 -5.01 0.5 -5.01 -0.5 -5.01 0.5 -5.01 -0.5 -5.01 0.5 -5.01 0 -5.01 -0.5 -5.01 -0.5 -5.01 1.5 -5.01 -0.5 -5.01 0 -5.01 0 -5.01 -0.5 -5.01 -0.5 -5.01 1 -5.01 0 -5.01 -1 -5.01 1 -5.01 0 -5.01 0 -5.01 -0.5 -5.01 0 -5.01 0.5 -5.01 -1 -5.01 1 -5.01 -0.5 -5.01 0 -5.01 0.5 -5.01 -0.5 -5.01 0 -5.01 0.5 -5.01 0.5 -5.01 -1 -5.01 0 -5.01 0.5 -5.01 0 -5.01 0.5 -5.01 -0.5 -5.01 -1 -5.01 1.5 -5.01 -1 -5.01 1 -5.01 -1.5 -5.01 1.5 -5.01 -1 -5.01 1 -5.01 0 -5.01 -1 -5.01 0 -5.01 0.5 -5.01 0 -5.01 -0.5 -5.01 0 -5.01 0 -5.01 0 -5.01 0.5 -5.01 -0.5 -5.01 0.5 -5.01 -0.5 -5.01 0.5Z" fill="#221C84"/>
<path d="M972.0 898.3V871.6h3.2V898.3ZM968.4 898.3V879.1h3.2V898.3ZM1048.4 898.3V883.4h3.2V898.3Z" fill="#221C84"/>
<line x1="781.6" y1="909.4" x2="781.6" y2="978.7" stroke="#000" stroke-width="3"/>
<line x1="778" y1="974.0" x2="781" y2="974.0" stroke="#000" stroke-width="3"/>
<text x="776.0" y="980.0" font-size="17" text-anchor="end" font-family="Liberation Sans, Arial, sans-serif">0</text>
<line x1="778" y1="952.6" x2="781" y2="952.6" stroke="#000" stroke-width="3"/>
<text x="776.0" y="958.6" font-size="17" text-anchor="end" font-family="Liberation Sans, Arial, sans-serif">20</text>
<line x1="778" y1="931.3" x2="781" y2="931.3" stroke="#000" stroke-width="3"/>
<text x="776.0" y="937.3" font-size="17" text-anchor="end" font-family="Liberation Sans, Arial, sans-serif">40</text>
<text transform="translate(1737.3 947.4) rotate(90)" font-size="17.5" text-anchor="middle" font-family="Liberation Sans, Arial, sans-serif">Chr07</text>
<path d="M878.4 974.0V924.9h3.2V974.0ZM907.9 974.0V958.0h3.2V974.0Z" fill="#A3282C"/>
<path d="M823.4 969.0h1.5v-0.5h1.5v1h1.5v0h1.5v-2h1.5v1h1.5v3h1.5v-2h1.5v0.5h1.5v-0.5h1.5v0h1.5v0h1.5v-0.5h1.5v-1h1.5v1h1.5v0h1.5v0.5h1.5v0h1.5v0h1.5v-0.5h1.5v0h1.5v1h1.5v-1.5h1.5v0.5h1.5v-2.5h1.5v1h1.5v0.5h1.5v-0.5h1.5v3h1.5v-1.5h1.5v1.5h1.5v0h1.5v0h1.5v-0.5h1.5v0.5h1.5v-1h1.5v0.5h1.5v0.5h1.5v0h1.5v0.5h1.5v-4h1.5v-0.5h1.5v2h1.5v0h1.5v1h1.5v-0.5h1.5v0h1.5v-0.5h1.5v0h1.5v0h1.5v-5h1.5v6h1.5v1h1.5v0.5h1.5v0.5h1.5v0h1.5v0h1.5v-0.5h1.5v-0.5h1.5v-1h1.5v-1h1.5v1h1.5v1h1.5v0.5h1.5v0h1.5v-0.5h1.5v-1h1.5v-0.5h1.5v0.5h1.5v1h1.5v0.5h1.5v-2h1.5v-0.5h1.5v-0.5h1.5v1h1.5v0.5h1.5v0h1.5v1.5h1.5v-2h1.5v-0.5h1.5v-0.5h1.5v0.5h1.5v-0.5h1.5v-4h1.5v5.5h1.5v0.5h1.5v0.5h1.5v1h1.5v-1h1.5v0h1.5v-1h1.5v0.5h1.5v-0.5h1.5v-0.5h1.5v1.5h1.5v0.5h1.5v0h1.5v-0.5h1.5v-1h1.5v0.5h1.5v-0.5h1.5v-0.5h1.5v-1h1.5v1h1.5v0.5h1.5v0h1.5v-1h1.5v-0.5h1.5v0.5h1.5v0.5h1.5v1h1.5v-1.5h1.5v-0.5h1.5v1.5h1.5v-1h1.5v1.5h1.5v-1h1.5v1.5h1.5v-1h1.5v-1h1.5v-3h1.5v-1h1.5v2h1.5v2.5h1.5v-0.5h1.5v1.5h1.5v-0.5h1.5v-1h1.5v2h1.5v-1.5h1.5v0.5h1.5v0.5h1.5v0h1.5v-0.5h1.5v0h1.5v1h1.5v-6.5h1.5v1h1.5v4h1.5v0h1.5v-0.5h1.5v1h1.5v0h1.5v0.5h1.5v-0.5h1.5v0.5h1.5v-1h1.5v-0.5h1.5v1.5h1.5v0h1.5v0h1.5v-0.5h1.5v-0.5h1.5v1h1.5v-0.5h1.5v-1h1.5v0.5h1.5v1.5h1.5v-0.5h1.5v-0.5h1.5v1h1.5v0h1.5v0.5h1.5v0h1.5v0h1.5v0.5h1.5v-2h1.5v-0.5h1.5v0h1.5v1.5h1.5v-1h1.5v-1h1.5v-0.5h1.5v1h1.5v-2h1.5v1h1.5v0.5h1.5v-0.5h1.5v0h1.5v0.5h1.5v-0.5h1.5v2h1.5v1h1.5v0.5h1.5v-1h1.5v-1.5h1.5v-1h1.5v0.5h1.5v0h1.5v0.5h1.5v0.5h1.5v0.5h1.5v-0.5h1.5v1h1.5v-7h1.5v2h1.5v3.5h1.5v0.5h1.5v-1h1.5v-1.5h1.5v2h1.5v1h1.5v0.5h1.5v-1.5h1.5v-0.5h1.5v-0.5h1.5v1h1.5v-1h1.5v1h1.5v-1h1.5v0.5h1.5v0.5h1.5v1h1.5v-1h1.5v-5h1.5v4h1.5v2h1.5v0.5h1.5v0.5h1.5v0.5h1.5v0h1.5v-2h1.5v0h1.5v-0.5h1.5v-1h1.5v1.5h1.5v-1h1.5v-5.5h1.5v1.5h1.5v5.5h1.5v-1h1.5v1h1.5v-1.5h1.5v0.5h1.5v0h1.5v0h1.5v1h1.5v0.5h1.5v-1h1.5v-1h1.5v0h1.5v-1h1.5v2h1.5v0.5h1.5v-0.5h1.5v1.5h1.5v-0.5h1.5v-1h1.5v-0.5h1.5v1h1.5v-1h1.5v1h1.5v0h1.5v0.5h1.5v0h1.5v-1.5h1.5v1h1.5v0.5h1.5v-1h1.5v-0.5h1.5v-0.5h1.5v0h1.5v-0.5h1.5v0.5h1.5v-0.5h1.5v1h1.5v0.5h1.5v1h1.5v-0.5h1.5v-3h1.5v0h1.5v-1h1.5v2.5h1.5v1.5h1.5v1h1.5v0h1.5v-0.5h1.5v-1h1.5v-1h1.5v0h1.5v0h1.5v0.5h1.5v1h1.5v1h1.5v0h1.5v0h1.5v-2h1.5v-1h1.5v0.5h1.5v0h1.5v1.5h1.5v0.5h1.5v0h1.5v-1.5h1.5v1h1.5v0h1.5v-1h1.5v0h1.5v1h1.5v-6.5h1.5v0.5h1.5v1.5h1.5v4.5h1.5v0h1.5v1h1.5v-2h1.5v0.5h1.5v0h1.5v-5.5h1.5v-0.5h1.5v0h1.5v2h1.5v5h1.5v-1h1.5v0.5h1.5v0h1.5v1h1.5v-0.5h1.5v-0.5h1.5v0.5h1.5v-1.5h1.5v-0.5h1.5v1h1.5v-1h1.5v1h1.5v-0.5h1.5v1.5h1.5v-1h1.5v0h1.5v1h1.5v-3h1.5v1h1.5v0.5h1.5v-0.5h1.5v-3.5h1.5v-1h1.5v2h1.5v4.5h1.5v-0.5h1.5v-1.5h1.5v0h1.5v0.5h1.5v0.5h1.5v-1h1.5v2h1.5v-2h1.5v-0.5h1.5v1.5h1.5v-1h1.5v1.5h1.5v-0.5h1.5v0.5h1.5v0h1.5v-1.5h1.5v-4h1.5v-0.5h1.5v1h1.5v4h1.5v0.5h1.5v-0.5h1.5v-0.5L1363.4 976.5l-5.00 0 -5.00 -1 -5.00 1 -5.00 -1.5 -5.00 0.5 -5.00 0.5 -5.00 0.5 -5.00 0 -5.00 -1 -5.00 1.5 -5.00 -0.5 -5.00 -1 -5.00 1 -5.00 0 -5.00 -0.5 -5.00 -0.5 -5.00 0 -5.00 1 -5.00 -0.5 -5.00 0 -5.00 0 -5.00 0.5 -5.00 -0.5 -5.00 0.5 -5.00 0 -5.00 -1 -5.00 0.5 -5.00 0.5 -5.00 -0.5 -5.00 -0.5 -5.00 1 -5.00 -1 -5.00 -0.5 -5.00 1 -5.00 0 -5.00 0.5 -5.00 -1 -5.00 0.5 -5.00 0.5 -5.00 0 -5.00 -1 -5.00 1 -5.00 0 -5.00 -1 -5.00 0.5 -5.00 0 -5.00 0.5 -5.00 0 -5.00 -0.5 -5.00 -0.5 -5.00 0 -5.00 1.5 -5.00 -1.5 -5.00 0.5 -5.00 0 -5.00 -0.5 -5.00 0.5 -5.00 0.5 -5.00 -1 -5.00 1.5 -5.00 -0.5 -5.00 0 -5.00 0.5 -5.00 -1 -5.00 0 -5.00 0 -5.00 0 -5.00 0.5 -5.00 0 -5.00 -0.5 -5.00 -0.5 -5.00 1 -5.00 0 -5.00 -1 -5.00 0.5 -5.00 -0.5 -5.00 0.5 -5.00 0 -5.00 0.5 -5.00 0 -5.00 -0.5 -5.00 0 -5.00 0.5 -5.00 -0.5 -5.00 0 -5.00 0 -5.00 -1 -5.00 1.5 -5.00 0 -5.00 0 -5.00 -0.5 -5.00 -1 -5.00 1 -5.00 0 -5.00 -0.5 -5.00 0.5 -5.00 0.5 -5.00 -0.5 -5.00 -0.5 -5.00 0 -5.00 0.5 -5.00 -1 -5.00 1 -5.00 -0.5 -5.00 0 -5.00 1 -5.00 -0.5 -5.00 0Z" fill="#A3282C"/>
<path d="M823.4 967.5h1.5v0h1.5v-0.5h1.5v0h1.5v0h1.5v1.5h1.5v0h1.5v-3.5h1.5v-0.5h1.5v2.5h1.5v1h1.5v0.5h1.5v0h1.5v0h1.5v-5h1.5v0h1.5v0h1.5v0h1.5v4h1.5v-0.5h1.5v0h1.5v1h1.5v0.5h1.5v0.5h1.5v-0.5h1.5v-0.5h1.5v0h1.5v0h1.5v0.5h1.5v0.5h1.5v-0.5h1.5v-0.5h1.5v0h1.5v0.5h1.5v0h1.5v0h1.5v-1h1.5v0h1.5v0.5h1.5v-0.5h1.5v0.5h1.5v0h1.5v0h1.5v1h1.5v1h1.5v-0.5h1.5v-2h1.5v-0.5h1.5v2h1.5v0h1.5v-0.5h1.5v-1h1.5v1h1.5v0.5h1.5v0.5h1.5v-1h1.5v0.5h1.5v-1h1.5v-0.5h1.5v0.5h1.5v-0.5h1.5v1h1.5v-0.5h1.5v1h1.5v0h1.5v0.5h1.5v0h1.5v-0.5h1.5v-1h1.5v-0.5h1.5v0h1.5v-0.5h1.5v1.5h1.5v0h1.5v-0.5h1.5v0h1.5v1.5h1.5v-0.5h1.5v-1h1.5v0h1.5v0.5h1.5v1h1.5v0h1.5v0h1.5v0h1.5v-1h1.5v0.5h1.5v-1h1.5v0h1.5v0.5h1.5v-0.5h1.5v0.5h1.5v0h1.5v1h1.5v-0.5h1.5v-0.5h1.5v-1h1.5v0.5h1.5v-2.5h1.5v2.5h1.5v1h1.5v-4h1.5v-0.5h1.5v5h1.5v-1.5h1.5v-0.5h1.5v1h1.5v-1h1.5v0.5h1.5v-1.5h1.5v1h1.5v1h1.5v0.5h1.5v0h1.5v0.5h1.5v-1.5h1.5v0h1.5v0h1.5v-0.5h1.5v0.5h1.5v-6.5h1.5v1h1.5v1h1.5v5h1.5v-2h1.5v0.5h1.5v1.5h1.5v1h1.5v0h1.5v-1.5h1.5v-0.5h1.5v-4h1.5v0h1.5v-0.5h1.5v-1h1.5v7h1.5v-0.5h1.5v1h1.5v-1.5h1.5v0h1.5v1h1.5v0.5h1.5v-1h1.5v-0.5h1.5v0h1.5v0h1.5v-0.5h1.5v0h1.5v0.5h1.5v0h1.5v0h1.5v0.5h1.5v-0.5h1.5v-0.5h1.5v0h1.5v1.5h1.5v0h1.5v-0.5h1.5v1h1.5v-0.5h1.5v0h1.5v0h1.5v0.5h1.5v-1h1.5v0.5h1.5v-0.5h1.5v-1h1.5v-3h1.5v0.5h1.5v0h1.5v0h1.5v3.5h1.5v-0.5h1.5v0.5h1.5v1h1.5v0h1.5v0h1.5v0h1.5v0h1.5v-0.5h1.5v0h1.5v-0.5h1.5v-5h1.5v5h1.5v-0.5h1.5v0h1.5v0h1.5v-5h1.5v5.5h1.5v-1h1.5v1h1.5v-0.5h1.5v-4.5h1.5v2h1.5v-1.5h1.5v4h1.5v0h1.5v0h1.5v0.5h1.5v-0.5h1.5v0h1.5v-2h1.5v0h1.5v2h1.5v0h1.5v-1h1.5v0.5h1.5v-3.5h1.5v1h1.5v0h1.5v3.5h1.5v0h1.5v-0.5h1.5v-0.5h1.5v-3h1.5v0h1.5v4.5h1.5v0h1.5v-0.5h1.5v-1h1.5v-2h1.5v-0.5h1.5v3.5h1.5v0.5h1.5v-0.5h1.5v1h1.5v0h1.5v-1h1.5v0h1.5v-1.5h1.5v1.5h1.5v1h1.5v-0.5h1.5v-0.5h1.5v-0.5h1.5v0h1.5v0.5h1.5v-1.5h1.5v-1h1.5v1h1.5v1h1.5v1h1.5v-0.5h1.5v0h1.5v0h1.5v-1h1.5v0.5h1.5v0.5h1.5v0.5h1.5v-1h1.5v0h1.5v1h1.5v-0.5h1.5v-1h1.5v-0.5h1.5v0h1.5v0h1.5v1h1.5v0h1.5v0.5h1.5v-1h1.5v-0.5h1.5v0h1.5v1h1.5v-0.5h1.5v1.5h1.5v0.5h1.5v0.5h1.5v0h1.5v-1h1.5v0h1.5v0.5h1.5v-0.5h1.5v-6.5h1.5v-2h1.5v8.5h1.5v-1h1.5v0h1.5v0.5h1.5v-3.5h1.5v2h1.5v0h1.5v-1h1.5v2h1.5v1h1.5v-1h1.5v-0.5h1.5v-0.5h1.5v1.5h1.5v0h1.5v0h1.5v0h1.5v-1h1.5v1h1.5v0h1.5v0h1.5v-0.5h1.5v1h1.5v-0.5h1.5v0h1.5v0h1.5v1h1.5v-0.5h1.5v0.5h1.5v0h1.5v-0.5h1.5v0.5h1.5v-0.5h1.5v0.5h1.5v-0.5h1.5v0h1.5v-6.5h1.5v1.5h1.5v0h1.5v-1h1.5v6h1.5v-0.5h1.5v0.5h1.5v-1h1.5v-0.5h1.5v0h1.5v0h1.5v0.5h1.5v0h1.5v0.5h1.5v-1h1.5v0.5h1.5v1h1.5v0.5h1.5v0.5h1.5v-1.5h1.5v0.5h1.5v-1.5h1.5v1h1.5v0.5h1.5v-1h1.5v-0.5h1.5v0h1.5v1h1.5v-1h1.5v0.5h1.5v0.5h1.5v-1h1.5v-0.5h1.5v1h1.5v-0.5h1.5v-0.5h1.5v0.5h1.5v-2.5h1.5v0.5h1.5v-0.5h1.5v0h1.5v3h1.5v1h1.5v0.5h1.5v-1h1.5v0h1.5v1h1.5v-1h1.5v0.5h1.5v0.5L1363.4 975.0l-5.00 0.5 -5.00 0 -5.00 0 -5.00 0 -5.00 -0.5 -5.00 -0.5 -5.00 0.5 -5.00 -0.5 -5.00 0 -5.00 0 -5.00 0.5 -5.00 -0.5 -5.00 0 -5.00 1 -5.00 0 -5.00 -1 -5.00 1 -5.00 0 -5.00 -1 -5.00 1 -5.00 -0.5 -5.00 -0.5 -5.00 0 -5.00 0.5 -5.00 0.5 -5.00 -1 -5.00 0.5 -5.00 0 -5.00 0.5 -5.00 0 -5.00 -1 -5.00 0 -5.00 0.5 -5.00 0 -5.00 0.5 -5.00 -1 -5.00 0 -5.00 1 -5.00 -0.5 -5.00 0 -5.00 0.5 -5.00 -1 -5.00 0 -5.00 0 -5.00 0 -5.00 1 -5.00 -0.5 -5.00 0.5 -5.00 -0.5 -5.00 0.5 -5.00 -1 -5.00 1 -5.00 -1 -5.00 0.5 -5.00 0 -5.00 0 -5.00 0.5 -5.00 -0.5 -5.00 0 -5.00 0.5 -5.00 -0.5 -5.00 0 -5.00 -0.5 -5.00 0.5 -5.00 0 -5.00 0 -5.00 0 -5.00 0.5 -5.00 0 -5.00 -0.5 -5.00 0.5 -5.00 -1 -5.00 0 -5.00 0 -5.00 1 -5.00 -0.5 -5.00 -0.5 -5.00 1 -5.00 -0.5 -5.00 0 -5.00 0.5 -5.00 -1 -5.00 0.5 -5.00 -0.5 -5.00 0.5 -5.00 -0.5 -5.00 0.5 -5.00 0.5 -5.00 -0.5 -5.00 0.5 -5.00 -1 -5.00 1 -5.00 0 -5.00 -0.5 -5.00 -0.5 -5.00 0 -5.00 0 -5.00 0.5 -5.00 -0.5 -5.00 0 -5.00 0.5 -5.00 0.5 -5.00 -0.5 -5.00 0.5 -5.00 -1 -5.00 0.5 -5.00 -0.5 -5.00 0.5Z" fill="#221C84"/>
<path d="M1225.4 974.0V958.0h3.2V974.0ZM853.4 974.0V959.1h3.2V974.0Z" fill="#221C84"/>
<line x1="781.6" y1="985.1" x2="781.6" y2="1054.4" stroke="#000" stroke-width="3"/>
<line x1="778" y1="1049.7" x2="781" y2="1049.7" stroke="#000" stroke-width="3"/>
<text x="776.0" y="1055.7" font-size="17" text-anchor="end" font-family="Liberation Sans, Arial, sans-serif">0</text>
<line x1="778" y1="1028.3" x2="781" y2="1028.3" stroke="#000" stroke-width="3"/>
<text x="776.0" y="1034.3" font-size="17" text-anchor="end" font-family="Liberation Sans, Arial, sans-serif">20</text>
<line x1="778" y1="1007.0" x2="781" y2="1007.0" stroke="#000" stroke-width="3"/>
<text x="776.0" y="1013.0" font-size="17" text-anchor="end" font-family="Liberation Sans, Arial, sans-serif">40</text>
<text transform="translate(1737.3 1023.1) rotate(90)" font-size="17.5" text-anchor="middle" font-family="Liberation Sans, Arial, sans-serif">Chr08</text>
<path d="M1263.4 1049.7V1018.7h3.2V1049.7ZM1044.1 1049.7V1030.5h3.2V1049.7ZM1268.4 1049.7V1030.5h3.2V1049.7Z" fill="#A3282C"/>
<path d="M823.4 1044.5h1.5v0h1.5v0h1.5v1h1.5v0h1.5v-0.5h1.5v0h1.5v-0.5h1.5v-1h1.5v1h1.5v-0.5h1.5v-0.5h1.5v2h1.5v-0.5h1.5v1.5h1.5v-2h1.5v-1.5h1.5v-1.5h1.5v2h1.5v-1h1.5v2.5h1.5v0.5h1.5v0h1.5v0h1.5v0.5h1.5v0.5h1.5v0.5h1.5v-2h1.5v0.5h1.5v-3.5h1.5v4h1.5v-7h1.5v1h1.5v2h1.5v-0.5h1.5v4.5h1.5v1h1.5v-1.5h1.5v-1h1.5v-0.5h1.5v0.5h1.5v0h1.5v-1h1.5v2h1.5v0h1.5v1h1.5v-1.5h1.5v1h1.5v1h1.5v0h1.5v-2.5h1.5v0.5h1.5v-0.5h1.5v-0.5h1.5v-0.5h1.5v-0.5h1.5v2.5h1.5v1h1.5v-2h1.5v1h1.5v1h1.5v-1.5h1.5v1h1.5v0h1.5v-4h1.5v-0.5h1.5v3.5h1.5v0.5h1.5v0h1.5v-6h1.5v0h1.5v1h1.5v2h1.5v4.5h1.5v-2h1.5v0h1.5v-0.5h1.5v-0.5h1.5v-0.5h1.5v1h1.5v-0.5h1.5v-0.5h1.5v0.5h1.5v1.5h1.5v0.5h1.5v-2h1.5v1h1.5v-4h1.5v1h1.5v0h1.5v1h1.5v3h1.5v0.5h1.5v0h1.5v-1.5h1.5v0h1.5v0h1.5v-1h1.5v-0.5h1.5v0h1.5v0.5h1.5v1h1.5v-1h1.5v-6.5h1.5v7h1.5v1.5h1.5v0.5h1.5v0h1.5v-1h1.5v0h1.5v-5.5h1.5v0h1.5v1h1.5v4.5h1.5v0.5h1.5v-1.5h1.5v0h1.5v-1h1.5v1h1.5v1h1.5v-0.5h1.5v0h1.5v1h1.5v0.5h1.5v-0.5h1.5v-1.5h1.5v1.5h1.5v-1.5h1.5v-2.5h1.5v-1h1.5v4h1.5v-1h1.5v-1.5h1.5v0.5h1.5v0.5h1.5v2h1.5v0h1.5v-1.5h1.5v0h1.5v1.5h1.5v-6.5h1.5v1.5h1.5v-3.5h1.5v9.5h1.5v-0.5h1.5v0.5h1.5v-0.5h1.5v0h1.5v1h1.5v-6h1.5v-3.5h1.5v1h1.5v7h1.5v-1h1.5v1.5h1.5v0.5h1.5v-1.5h1.5v0h1.5v1h1.5v-1.5h1.5v0h1.5v0.5h1.5v-0.5h1.5v-0.5h1.5v2h1.5v-1.5h1.5v-0.5h1.5v0h1.5v-0.5h1.5v1.5h1.5v-1h1.5v-2.5h1.5v2h1.5v0.5h1.5v-0.5h1.5v-0.5h1.5v-4h1.5v-2h1.5v2h1.5v0.5h1.5v4.5h1.5v0h1.5v1h1.5v0h1.5v1h1.5v0h1.5v-0.5h1.5v0.5h1.5v0h1.5v0h1.5v-1.5h1.5v-1h1.5v-0.5h1.5v1.5h1.5v0h1.5v-1h1.5v1h1.5v-1h1.5v0h1.5v1h1.5v0.5h1.5v0.5h1.5v-1h1.5v0h1.5v1h1.5v-0.5h1.5v-6h1.5v7h1.5v0h1.5v-1.5h1.5v-2.5h1.5v-1h1.5v0.5h1.5v1h1.5v3h1.5v-0.5h1.5v-1h1.5v0.5h1.5v0h1.5v0.5h1.5v-0.5h1.5v-1.5h1.5v-1h1.5v0.5h1.5v-1h1.5v2.5h1.5v1h1.5v0h1.5v-0.5h1.5v1h1.5v1h1.5v-1h1.5v0.5h1.5v-1h1.5v1.5h1.5v0h1.5v-1h1.5v-1.5h1.5v1h1.5v-0.5h1.5v-0.5h1.5v-0.5h1.5v0.5h1.5v-5h1.5v0h1.5v1h1.5v5h1.5v-4h1.5v-1.5h1.5v2h1.5v0.5h1.5v-1.5h1.5v1.5h1.5v4.5h1.5v-1h1.5v1h1.5v-1h1.5v-1h1.5v-1h1.5v1h1.5v1h1.5v-1h1.5v0.5h1.5v0h1.5v1h1.5v-7h1.5v-0.5h1.5v0h1.5v6.5h1.5v1h1.5v-1.5h1.5v0h1.5v1.5h1.5v0.5h1.5v-1h1.5v-6h1.5v2h1.5v5.5h1.5v-1h1.5v-2h1.5v1.5h1.5v-1h1.5v0.5h1.5v0.5h1.5v1h1.5v-2h1.5v-0.5h1.5v1.5h1.5v1h1.5v0.5h1.5v-2h1.5v-1h1.5v1h1.5v0.5h1.5v1h1.5v0h1.5v-0.5h1.5v-0.5h1.5v-0.5h1.5v0h1.5v1.5h1.5v-0.5h1.5v0h1.5v0.5h1.5v0h1.5v0h1.5v-0.5h1.5v-0.5h1.5v-1.5h1.5v1.5h1.5v-2.5h1.5v2.5h1.5v0.5h1.5v-1.5h1.5v-0.5h1.5v0h1.5v2h1.5v-1.5h1.5v-0.5h1.5v-5.5h1.5v0.5h1.5v0h1.5v-1.5h1.5v6.5h1.5v1.5h1.5v0.5h1.5v-1h1.5v1.5h1.5v-2h1.5v1h1.5v0.5h1.5v1h1.5v0h1.5v0h1.5v-2h1.5v1h1.5v0.5h1.5v-3h1.5v1h1.5v1h1.5v0.5L1333.4 1051.0l-5.00 1.5 -5.00 -1.5 -5.00 1.5 -5.00 0 -5.00 -1 -5.00 -0.5 -5.00 0.5 -5.00 1 -5.00 -1 -5.00 0.5 -5.00 -0.5 -5.00 0 -5.00 0.5 -5.00 -1 -5.00 0 -5.00 0.5 -5.00 -0.5 -5.00 0.5 -5.00 0.5 -5.00 0 -5.00 0.5 -5.00 -0.5 -5.00 -1 -5.00 1.5 -5.00 0 -5.00 -1 -5.00 0.5 -5.00 0 -5.00 0 -5.00 -0.5 -5.00 -0.5 -5.00 0 -5.00 0.5 -5.00 -0.5 -5.00 0 -5.00 1.5 -5.00 -0.5 -5.00 0 -5.00 0.5 -5.00 -1.5 -5.00 0.5 -5.00 0 -5.00 0.5 -5.00 -0.5 -5.00 0.5 -5.00 0.5 -5.00 -1.5 -5.00 0 -5.00 0 -5.00 0.5 -5.00 0.5 -5.00 -1 -5.00 0 -5.00 0.5 -5.00 -0.5 -5.00 1.5 -5.00 -0.5 -5.00 0 -5.00 -0.5 -5.00 0.5 -5.00 -0.5 -5.00 0 -5.00 0.5 -5.00 0 -5.00 -0.5 -5.00 0.5 -5.00 -1 -5.00 0 -5.00 1.5 -5.00 -1.5 -5.00 1 -5.00 0 -5.00 -0.5 -5.00 0 -5.00 1 -5.00 0 -5.00 -1.5 -5.00 0 -5.00 0 -5.00 0 -5.00 1 -5.00 0 -5.00 0 -5.00 -0.5 -5.00 0.5 -5.00 -0.5 -5.00 0.5 -5.00 0.5 -5.00 -0.5 -5.00 0.5 -5.00 -0.5 -5.00 0 -5.00 0 -5.00 0.5 -5.00 -1 -5.00 0.5 -5.00 -1 -5.00 1 -5.00 0 -5.00 0 -5.00 0 -5.00 -0.5Z" fill="#A3282C"/>
<path d="M823.4 1043.5h1.5v1h1.5v0.5h1.5v-1h1.5v-1h1.5v1.5h1.5v0.5h1.5v0.5h1.5v0h1.5v-0.5h1.5v-1h1.5v0h1.5v1h1.5v0.5h1.5v-0.5h1.5v0h1.5v-1.5h1.5v0h1.5v-0.5h1.5v0.5h1.5v0h1.5v0h1.5v1.5h1.5v-1.5h1.5v-0.5h1.5v1h1.5v-0.5h1.5v-3.5h1.5v0.5h1.5v-1h1.5v3.5h1.5v1h1.5v-1h1.5v0.5h1.5v0.5h1.5v-1h1.5v0h1.5v-4.5h1.5v1h1.5v0.5h1.5v-1.5h1.5v4.5h1.5v1.5h1.5v-1h1.5v0.5h1.5v1h1.5v-0.5h1.5v-1h1.5v0h1.5v-2.5h1.5v3h1.5v-1h1.5v1.5h1.5v0.5h1.5v-1h1.5v1h1.5v-0.5h1.5v0h1.5v0.5h1.5v-1.5h1.5v0.5h1.5v-1h1.5v1.5h1.5v-1h1.5v-0.5h1.5v0h1.5v0h1.5v-0.5h1.5v1.5h1.5v0h1.5v-0.5h1.5v1h1.5v0h1.5v-0.5h1.5v0h1.5v-0.5h1.5v1h1.5v0.5h1.5v0h1.5v-1.5h1.5v0.5h1.5v-5h1.5v1.5h1.5v-1.5h1.5v4.5h1.5v1h1.5v-0.5h1.5v1h1.5v0.5h1.5v-1h1.5v0h1.5v-0.5h1.5v-0.5h1.5v-5h1.5v5h1.5v1h1.5v0h1.5v-6h1.5v-3h1.5v1h1.5v-0.5h1.5v7.5h1.5v1h1.5v-0.5h1.5v0h1.5v-1h1.5v1.5h1.5v-1.5h1.5v1h1.5v0.5h1.5v0.5h1.5v-1.5h1.5v1h1.5v-1h1.5v-0.5h1.5v1.5h1.5v-0.5h1.5v1h1.5v-0.5h1.5v0.5h1.5v0h1.5v-0.5h1.5v0h1.5v0.5h1.5v0h1.5v0h1.5v-0.5h1.5v0.5h1.5v0.5h1.5v-1.5h1.5v0.5h1.5v-0.5h1.5v-0.5h1.5v1h1.5v0.5h1.5v-1.5h1.5v-0.5h1.5v1h1.5v0.5h1.5v0h1.5v-0.5h1.5v0.5h1.5v-0.5h1.5v0.5h1.5v-0.5h1.5v0.5h1.5v-1h1.5v1h1.5v-0.5h1.5v-1h1.5v0h1.5v1h1.5v0.5h1.5v0h1.5v0.5h1.5v-0.5h1.5v0.5h1.5v0h1.5v-0.5h1.5v-1h1.5v-0.5h1.5v1.5h1.5v0.5h1.5v-2h1.5v1h1.5v0h1.5v0.5h1.5v0h1.5v0.5h1.5v-0.5h1.5v0.5h1.5v-0.5h1.5v-0.5h1.5v-1h1.5v1h1.5v-0.5h1.5v0.5h1.5v0h1.5v0h1.5v0h1.5v1h1.5v-0.5h1.5v-1h1.5v-0.5h1.5v0.5h1.5v-0.5h1.5v0.5h1.5v1h1.5v-0.5h1.5v-1h1.5v0.5h1.5v0h1.5v-4h1.5v4.5h1.5v0h1.5v1h1.5v-1.5h1.5v0h1.5v-0.5h1.5v1h1.5v-0.5h1.5v1h1.5v0h1.5v-0.5h1.5v-0.5h1.5v0.5h1.5v-2h1.5v2h1.5v-0.5h1.5v0.5h1.5v0.5h1.5v-0.5h1.5v0.5h1.5v0h1.5v0h1.5v0.5h1.5v-0.5h1.5v-0.5h1.5v0h1.5v-0.5h1.5v1h1.5v-0.5h1.5v1h1.5v0.5h1.5v0h1.5v-1h1.5v0h1.5v0h1.5v-0.5h1.5v0.5h1.5v0h1.5v1h1.5v-2h1.5v-0.5h1.5v0h1.5v1h1.5v1h1.5v-0.5h1.5v0.5h1.5v-6h1.5v1h1.5v4.5h1.5v0h1.5v0.5h1.5v0h1.5v-1h1.5v1h1.5v0h1.5v-1h1.5v1h1.5v-1h1.5v0h1.5v1h1.5v-0.5h1.5v-1.5h1.5v-1.5h1.5v-4.5h1.5v-1.5h1.5v1.5h1.5v7h1.5v-0.5h1.5v-0.5h1.5v1h1.5v-0.5h1.5v-4.5h1.5v1.5h1.5v4.5h1.5v-0.5h1.5v-1h1.5v0h1.5v-0.5h1.5v-0.5h1.5v1.5h1.5v1h1.5v-0.5h1.5v0h1.5v-0.5h1.5v0h1.5v-3.5h1.5v-2h1.5v1h1.5v0.5h1.5v4h1.5v-0.5h1.5v1h1.5v-4.5h1.5v3h1.5v1.5h1.5v0.5h1.5v0.5h1.5v-0.5h1.5v0.5h1.5v-0.5h1.5v-0.5h1.5v1h1.5v-0.5h1.5v-1h1.5v-0.5h1.5v0.5h1.5v0h1.5v-1h1.5v-0.5h1.5v1.5h1.5v1h1.5v-1.5h1.5v-0.5h1.5v0h1.5v0h1.5v1h1.5v1h1.5v-0.5h1.5v0.5h1.5v-0.5h1.5v-0.5h1.5v1h1.5v-0.5h1.5v-1h1.5v1h1.5v-1h1.5v0.5h1.5v-1h1.5v1.5h1.5v0.5h1.5v-1h1.5v-5.5h1.5v0h1.5v-2.5h1.5v0.5h1.5v6.5h1.5v1h1.5v0h1.5v0h1.5v-1h1.5v1h1.5v-2.5h1.5v-3.5h1.5v-1h1.5v7h1.5v-1h1.5v1.5h1.5v-0.5L1333.4 1050.5l-5.00 0.5 -5.00 0 -5.00 0 -5.00 -0.5 -5.00 -0.5 -5.00 1 -5.00 0 -5.00 -0.5 -5.00 0 -5.00 0 -5.00 0 -5.00 0.5 -5.00 0 -5.00 0 -5.00 -0.5 -5.00 0.5 -5.00 -1 -5.00 0.5 -5.00 -0.5 -5.00 1 -5.00 0 -5.00 -0.5 -5.00 0.5 -5.00 -0.5 -5.00 0 -5.00 0.5 -5.00 0 -5.00 0 -5.00 -1 -5.00 0.5 -5.00 0 -5.00 0 -5.00 0 -5.00 -0.5 -5.00 1 -5.00 -1 -5.00 1 -5.00 -1 -5.00 0 -5.00 1 -5.00 -0.5 -5.00 0 -5.00 0.5 -5.00 -0.5 -5.00 0 -5.00 0 -5.00 -0.5 -5.00 0.5 -5.00 0 -5.00 1 -5.00 -0.5 -5.00 -0.5 -5.00 0 -5.00 0 -5.00 1 -5.00 -1.5 -5.00 0.5 -5.00 0.5 -5.00 -0.5 -5.00 0 -5.00 0.5 -5.00 -0.5 -5.00 -0.5 -5.00 1 -5.00 -0.5 -5.00 -0.5 -5.00 1 -5.00 -0.5 -5.00 -0.5 -5.00 0.5 -5.00 0 -5.00 0.5 -5.00 -1 -5.00 1 -5.00 0 -5.00 0 -5.00 -0.5 -5.00 -0.5 -5.00 1 -5.00 0 -5.00 -1 -5.00 0.5 -5.00 0.5 -5.00 -0.5 -5.00 0.5 -5.00 0 -5.00 -0.5 -5.00 -0.5 -5.00 0.5 -5.00 -0.5 -5.00 1 -5.00 0 -5.00 -0.5 -5.00 0.5 -5.00 -1 -5.00 1 -5.00 0 -5.00 0.5 -5.00 -0.5 -5.00 -1 -5.00 1 -5.00 -0.5Z" fill="#221C84"/>
<path d="M853.4 1049.7V1034.8h3.2V1049.7Z" fill="#221C84"/>
<line x1="781.6" y1="1060.8" x2="781.6" y2="1130.1" stroke="#000" stroke-width="3"/>
<line x1="778" y1="1125.4" x2="781" y2="1125.4" stroke="#000" stroke-width="3"/>
<text x="776.0" y="1131.4" font-size="17" text-anchor="end" font-family="Liberation Sans, Arial, sans-serif">0</text>
<line x1="778" y1="1104.1" x2="781" y2="1104.1" stroke="#000" stroke-width="3"/>
<text x="776.0" y="1110.1" font-size="17" text-anchor="end" font-family="Liberation Sans, Arial, sans-serif">20</text>
<line x1="778" y1="1082.7" x2="781" y2="1082.7" stroke="#000" stroke-width="3"/>
<text x="776.0" y="1088.7" font-size="17" text-anchor="end" font-family="Liberation Sans, Arial, sans-serif">40</text>
<text transform="translate(1737.3 1098.8) rotate(90)" font-size="17.5" text-anchor="middle" font-family="Liberation Sans, Arial, sans-serif">Chr09</text>
<path d="M877.1 1125.4V1091.2h3.2V1125.4ZM917.7 1125.4V1104.1h3.2V1125.4Z" fill="#A3282C"/>
<path d="M823.4 1119.5h1.5v2h1.5v0.5h1.5v-0.5h1.5v-1.5h1.5v1h1.5v-1h1.5v0.5h1.5v-0.5h1.5v1.5h1.5v0h1.5v-1.5h1.5v0.5h1.5v-0.5h1.5v0.5h1.5v1.5h1.5v0.5h1.5v-0.5h1.5v-0.5h1.5v0.5h1.5v0h1.5v0h1.5v-0.5h1.5v0h1.5v0h1.5v-1.5h1.5v-0.5h1.5v0.5h1.5v-1h1.5v2.5h1.5v-1h1.5v-1h1.5v0.5h1.5v-1h1.5v0.5h1.5v0.5h1.5v0h1.5v1.5h1.5v-0.5h1.5v-1h1.5v0.5h1.5v0h1.5v1.5h1.5v-1.5h1.5v0h1.5v0.5h1.5v-1h1.5v0.5h1.5v0h1.5v-2h1.5v0h1.5v0h1.5v2h1.5v0h1.5v1h1.5v-1.5h1.5v-0.5h1.5v1.5h1.5v0h1.5v0.5h1.5v-1.5h1.5v0h1.5v1h1.5v1h1.5v-1h1.5v-0.5h1.5v-0.5h1.5v0h1.5v0.5h1.5v1.5h1.5v0.5h1.5v-1.5h1.5v-1h1.5v-0.5h1.5v0.5h1.5v1h1.5v-0.5h1.5v0h1.5v1h1.5v-0.5h1.5v-0.5h1.5v0h1.5v1.5h1.5v0.5h1.5v-0.5h1.5v-1h1.5v-1h1.5v1h1.5v0h1.5v-7.5h1.5v2.5h1.5v-1.5h1.5v0h1.5v6.5h1.5v-1h1.5v-6h1.5v-1h1.5v8.5h1.5v-1.5h1.5v1h1.5v1h1.5v0.5h1.5v0h1.5v-5.5h1.5v1.5h1.5v3h1.5v0h1.5v0h1.5v0h1.5v-1h1.5v0.5h1.5v-2.5h1.5v0.5h1.5v-0.5h1.5v3.5h1.5v0h1.5v0h1.5v-0.5h1.5v0h1.5v-0.5h1.5v-0.5h1.5v1h1.5v-0.5h1.5v-1h1.5v0h1.5v1h1.5v0.5h1.5v0.5h1.5v-2h1.5v-3h1.5v1.5h1.5v-0.5h1.5v2h1.5v0h1.5v-1h1.5v2h1.5v-0.5h1.5v1.5h1.5v0.5h1.5v0.5h1.5v-1h1.5v-2h1.5v0h1.5v-0.5h1.5v-4h1.5v1.5h1.5v-1.5h1.5v1.5h1.5v3h1.5v1.5h1.5v-0.5h1.5v0h1.5v-0.5h1.5v1h1.5v0.5h1.5v-0.5h1.5v0.5h1.5v0h1.5v0.5h1.5v-1h1.5v-2.5h1.5v-0.5h1.5v0h1.5v-1h1.5v2.5h1.5v1.5h1.5v-1h1.5v-1h1.5v1h1.5v1h1.5v1h1.5v-2h1.5v0h1.5v0.5h1.5v-1h1.5v0h1.5v-0.5h1.5v1.5h1.5v0h1.5v0h1.5v0.5h1.5v0.5h1.5v0.5h1.5v-2h1.5v0h1.5v1.5h1.5v-2h1.5v-0.5h1.5v0.5h1.5v1h1.5v0.5h1.5v0.5h1.5v0h1.5v-1.5h1.5v0h1.5v-0.5h1.5v-0.5h1.5v-5.5h1.5v3.5h1.5v2.5h1.5v1h1.5v-0.5h1.5v0h1.5v1.5h1.5v-1h1.5v-1h1.5v0.5h1.5v0.5h1.5v0h1.5v0.5h1.5v0.5h1.5v-2h1.5v0h1.5v0h1.5v1h1.5v-1h1.5v0.5h1.5v-1h1.5v2h1.5v1h1.5v-2h1.5v1h1.5v1h1.5v0h1.5v0h1.5v-2h1.5v-0.5h1.5v0.5h1.5v-2h1.5v2h1.5v0.5h1.5v0.5h1.5v0.5h1.5v0h1.5v-0.5h1.5v-1.5h1.5v-1h1.5v2.5h1.5v-1.5h1.5v0h1.5v0.5h1.5v-0.5h1.5v1h1.5v-0.5h1.5v-0.5h1.5v0.5h1.5v0.5h1.5v-1.5h1.5v-0.5h1.5v1h1.5v1.5h1.5v-1h1.5v1h1.5v-1h1.5v1h1.5v-1.5h1.5v0h1.5v1h1.5v-1.5h1.5v2h1.5v-4h1.5v-0.5h1.5v5h1.5v0.5h1.5v-1h1.5v0h1.5v-1h1.5v0h1.5v-5.5h1.5v6h1.5v1h1.5v0.5h1.5v-1.5h1.5v-1h1.5v0h1.5v1.5h1.5v-1h1.5v1.5h1.5v-2h1.5v-0.5h1.5v2h1.5v-1.5h1.5v0.5h1.5v0.5h1.5v0.5h1.5v-0.5h1.5v0.5h1.5v-0.5h1.5v0h1.5v-1.5h1.5v0.5h1.5v0.5h1.5v-2.5h1.5v1h1.5v1h1.5v0.5h1.5v-0.5h1.5v-2h1.5v-0.5h1.5v2.5h1.5v1h1.5v1h1.5v-1h1.5v1h1.5v-2h1.5v1.5h1.5v-1.5h1.5v-0.5h1.5v1.5h1.5v0h1.5v0.5h1.5v-1.5h1.5v1h1.5v-1.5h1.5v0h1.5v1h1.5v0.5h1.5v-0.5h1.5v-1.5h1.5v2.5h1.5v-1h1.5v0h1.5v0.5h1.5v-0.5h1.5v0h1.5v-0.5h1.5v0h1.5v0h1.5v-1h1.5v2h1.5v-1h1.5v1h1.5v1h1.5v-0.5h1.5v0.5h1.5v-1L1325.9 1127.0l-5.03 -0.5 -5.03 0 -5.03 0.5 -5.03 0.5 -5.03 0.5 -5.03 0 -5.03 -0.5 -5.03 0.5 -5.03 0 -5.03 -1 -5.03 0 -5.03 1 -5.03 0 -5.03 -1 -5.03 0.5 -5.03 0.5 -5.03 -0.5 -5.03 -1 -5.03 1.5 -5.03 -0.5 -5.03 -1 -5.03 1.5 -5.03 -0.5 -5.03 0.5 -5.03 0 -5.03 -1.5 -5.03 1.5 -5.03 -0.5 -5.03 0 -5.03 0 -5.03 0.5 -5.03 0 -5.03 -1 -5.03 1 -5.03 -1 -5.03 0 -5.03 0 -5.03 0 -5.03 0.5 -5.03 -0.5 -5.03 1 -5.03 -0.5 -5.03 -1 -5.03 0 -5.03 0.5 -5.03 0.5 -5.03 -1 -5.03 1 -5.03 -1 -5.03 1.5 -5.03 -0.5 -5.03 -0.5 -5.03 0.5 -5.03 0 -5.03 0 -5.03 0 -5.03 0.5 -5.03 -1 -5.03 -0.5 -5.03 0.5 -5.03 0.5 -5.03 -0.5 -5.03 1 -5.03 0 -5.03 -0.5 -5.03 0 -5.03 -0.5 -5.03 -0.5 -5.03 0.5 -5.03 0.5 -5.03 0 -5.03 -0.5 -5.03 1 -5.03 -1 -5.03 1 -5.03 -1 -5.03 1 -5.03 -0.5 -5.03 -1 -5.03 1.5 -5.03 -0.5 -5.03 0.5 -5.03 0 -5.03 0 -5.03 -1 -5.03 1 -5.03 -0.5 -5.03 -0.5 -5.03 0 -5.03 0.5 -5.03 0.5 -5.03 -1.5 -5.03 1 -5.03 0.5 -5.03 -1 -5.03 0.5 -5.03 -0.5 -5.03 0.5 -5.03 -1 -5.03 0.5Z" fill="#A3282C"/>
<path d="M823.4 1120.0h1.5v0.5h1.5v-1h1.5v1h1.5v-1h1.5v-0.5h1.5v1h1.5v1h1.5v0h1.5v-1h1.5v0h1.5v-0.5h1.5v-0.5h1.5v0.5h1.5v-0.5h1.5v1.5h1.5v0.5h1.5v-1h1.5v-0.5h1.5v-0.5h1.5v1.5h1.5v0h1.5v0h1.5v0h1.5v-1h1.5v1h1.5v-1h1.5v-0.5h1.5v1h1.5v0.5h1.5v-1.5h1.5v-0.5h1.5v1.5h1.5v-1h1.5v1h1.5v-0.5h1.5v-0.5h1.5v1h1.5v0h1.5v-1h1.5v1h1.5v0.5h1.5v0h1.5v-0.5h1.5v-0.5h1.5v-1h1.5v0h1.5v0.5h1.5v1.5h1.5v-1.5h1.5v1.5h1.5v0h1.5v0h1.5v-0.5h1.5v0h1.5v-1h1.5v0h1.5v0h1.5v1.5h1.5v0h1.5v-1h1.5v1h1.5v-1h1.5v-3h1.5v0h1.5v-1h1.5v4h1.5v0.5h1.5v-0.5h1.5v0.5h1.5v0.5h1.5v-7.5h1.5v7.5h1.5v-0.5h1.5v-0.5h1.5v0.5h1.5v-7.5h1.5v7.5h1.5v0.5h1.5v-0.5h1.5v0h1.5v-0.5h1.5v0.5h1.5v-0.5h1.5v-0.5h1.5v0.5h1.5v0.5h1.5v-0.5h1.5v-1h1.5v1.5h1.5v1h1.5v0h1.5v-1h1.5v-0.5h1.5v0.5h1.5v-1h1.5v1h1.5v0h1.5v0h1.5v1h1.5v0h1.5v-1.5h1.5v0.5h1.5v0.5h1.5v-1.5h1.5v1h1.5v1h1.5v0h1.5v-1h1.5v-4h1.5v-1h1.5v1.5h1.5v4h1.5v-1h1.5v1h1.5v-1h1.5v-0.5h1.5v-0.5h1.5v1.5h1.5v-0.5h1.5v-0.5h1.5v0h1.5v0.5h1.5v0h1.5v-0.5h1.5v0.5h1.5v0h1.5v1h1.5v0h1.5v0h1.5v-0.5h1.5v-4h1.5v0.5h1.5v0h1.5v-2h1.5v-1.5h1.5v2.5h1.5v-1h1.5v6.5h1.5v-0.5h1.5v-0.5h1.5v1h1.5v-1h1.5v-0.5h1.5v0.5h1.5v0h1.5v0h1.5v-0.5h1.5v-1h1.5v0h1.5v1h1.5v0h1.5v0h1.5v1.5h1.5v0h1.5v-2.5h1.5v1.5h1.5v0.5h1.5v-1h1.5v0h1.5v1h1.5v-0.5h1.5v0.5h1.5v-1h1.5v0.5h1.5v0.5h1.5v-1h1.5v0h1.5v1h1.5v0h1.5v-1.5h1.5v0.5h1.5v0h1.5v-0.5h1.5v0h1.5v-0.5h1.5v1.5h1.5v0h1.5v0.5h1.5v0.5h1.5v-0.5h1.5v-1h1.5v-1h1.5v0h1.5v1.5h1.5v0h1.5v1h1.5v0h1.5v-1h1.5v-1h1.5v1.5h1.5v-1.5h1.5v0.5h1.5v1h1.5v0h1.5v-1.5h1.5v1h1.5v0h1.5v0.5h1.5v0h1.5v-0.5h1.5v0h1.5v0h1.5v-1h1.5v1h1.5v0h1.5v0.5h1.5v-0.5h1.5v-1h1.5v0h1.5v1h1.5v0.5h1.5v-1.5h1.5v1.5h1.5v-0.5h1.5v-0.5h1.5v-0.5h1.5v0h1.5v1.5h1.5v-0.5h1.5v-1h1.5v-0.5h1.5v0h1.5v1.5h1.5v0h1.5v-0.5h1.5v1h1.5v0.5h1.5v-1.5h1.5v1h1.5v-1.5h1.5v1h1.5v1h1.5v-0.5h1.5v-1h1.5v-4.5h1.5v5.5h1.5v0h1.5v0.5h1.5v-1.5h1.5v0h1.5v0.5h1.5v0.5h1.5v-1h1.5v-1h1.5v1.5h1.5v-1h1.5v0.5h1.5v0h1.5v-0.5h1.5v1h1.5v0h1.5v-1h1.5v0.5h1.5v1h1.5v-1.5h1.5v0h1.5v1h1.5v-0.5h1.5v1h1.5v-1h1.5v1h1.5v-0.5h1.5v-0.5h1.5v0.5h1.5v0.5h1.5v-1.5h1.5v1h1.5v0.5h1.5v-0.5h1.5v-0.5h1.5v1h1.5v-0.5h1.5v-0.5h1.5v0.5h1.5v0h1.5v0.5h1.5v0.5h1.5v-1.5h1.5v0h1.5v0.5h1.5v1h1.5v-0.5h1.5v-0.5h1.5v0h1.5v0.5h1.5v0.5h1.5v-1.5h1.5v-1h1.5v1h1.5v0.5h1.5v0.5h1.5v-1h1.5v-0.5h1.5v0h1.5v0h1.5v1h1.5v-0.5h1.5v0h1.5v1h1.5v-1h1.5v1h1.5v0h1.5v0h1.5v-0.5h1.5v0.5h1.5v-5.5h1.5v-1h1.5v2.5h1.5v-1h1.5v5h1.5v-0.5h1.5v-0.5h1.5v0h1.5v1h1.5v-1h1.5v1h1.5v-1.5h1.5v-1h1.5v1h1.5v-6.5h1.5v2h1.5v-0.5h1.5v-0.5h1.5v5.5h1.5v1.5h1.5v0.5h1.5v-1.5h1.5v-1h1.5v0.5h1.5v1.5h1.5v-0.5h1.5v-1h1.5v1h1.5v-0.5h1.5v0L1325.9 1126.5l-5.03 -1 -5.03 0.5 -5.03 0 -5.03 0 -5.03 0.5 -5.03 0 -5.03 0 -5.03 -0.5 -5.03 0 -5.03 0 -5.03 1 -5.03 -1 -5.03 -0.5 -5.03 1 -5.03 -0.5 -5.03 0.5 -5.03 -0.5 -5.03 0 -5.03 0.5 -5.03 0.5 -5.03 -0.5 -5.03 -0.5 -5.03 0 -5.03 0 -5.03 0.5 -5.03 -0.5 -5.03 0 -5.03 0 -5.03 0 -5.03 0.5 -5.03 0 -5.03 -1 -5.03 0.5 -5.03 0.5 -5.03 -0.5 -5.03 0 -5.03 1 -5.03 -0.5 -5.03 0 -5.03 -0.5 -5.03 0.5 -5.03 0 -5.03 0 -5.03 0.5 -5.03 -1 -5.03 0.5 -5.03 0.5 -5.03 -0.5 -5.03 0 -5.03 -0.5 -5.03 0.5 -5.03 0 -5.03 0.5 -5.03 -1.5 -5.03 1 -5.03 -0.5 -5.03 0.5 -5.03 0.5 -5.03 0 -5.03 -0.5 -5.03 0 -5.03 0 -5.03 -1 -5.03 0.5 -5.03 0 -5.03 0 -5.03 1 -5.03 -1 -5.03 0 -5.03 0 -5.03 0 -5.03 0.5 -5.03 -0.5 -5.03 0 -5.03 1 -5.03 0 -5.03 -1 -5.03 0.5 -5.03 -0.5 -5.03 0.5 -5.03 0.5 -5.03 0 -5.03 -1 -5.03 0.5 -5.03 -0.5 -5.03 0.5 -5.03 -0.5 -5.03 0.5 -5.03 -0.5 -5.03 1 -5.03 -1 -5.03 1 -5.03 -0.5 -5.03 -0.5 -5.03 0.5 -5.03 0.5 -5.03 -0.5 -5.03 0.5 -5.03 -0.5 -5.03 -0.5Z" fill="#221C84"/>
<path d="M1235.4 1125.4V1106.2h3.2V1125.4ZM1242.4 1125.4V1104.1h3.2V1125.4ZM1248.4 1125.4V1108.3h3.2V1125.4Z" fill="#221C84"/>
<line x1="781.6" y1="1136.5" x2="781.6" y2="1205.8" stroke="#000" stroke-width="3"/>
<line x1="778" y1="1201.1" x2="781" y2="1201.1" stroke="#000" stroke-width="3"/>
<text x="776.0" y="1207.1" font-size="17" text-anchor="end" font-family="Liberation Sans, Arial, sans-serif">0</text>
<line x1="778" y1="1179.8" x2="781" y2="1179.8" stroke="#000" stroke-width="3"/>
<text x="776.0" y="1185.8" font-size="17" text-anchor="end" font-family="Liberation Sans, Arial, sans-serif">20</text>
<line x1="778" y1="1158.4" x2="781" y2="1158.4" stroke="#000" stroke-width="3"/>
<text x="776.0" y="1164.4" font-size="17" text-anchor="end" font-family="Liberation Sans, Arial, sans-serif">40</text>
<text transform="translate(1737.3 1174.5) rotate(90)" font-size="17.5" text-anchor="middle" font-family="Liberation Sans, Arial, sans-serif">Chr10</text>
<path d="M1209.0 1201.1V1185.1h3.2V1201.1Z" fill="#A3282C"/>
<path d="M823.4 1196.5h1.5v-0.5h1.5v0.5h1.5v0h1.5v0.5h1.5v-0.5h1.5v-0.5h1.5v-0.5h1.5v1.5h1.5v-0.5h1.5v1h1.5v-2h1.5v-0.5h1.5v1.5h1.5v-3h1.5v-1.5h1.5v-0.5h1.5v3.5h1.5v2h1.5v-1h1.5v0.5h1.5v0h1.5v0.5h1.5v-1h1.5v-0.5h1.5v-0.5h1.5v1h1.5v1h1.5v-1h1.5v0.5h1.5v-1h1.5v1h1.5v-0.5h1.5v0h1.5v0.5h1.5v1h1.5v0.5h1.5v-3h1.5v-1h1.5v2h1.5v0h1.5v-4h1.5v0h1.5v0h1.5v-0.5h1.5v6h1.5v0.5h1.5v0h1.5v0.5h1.5v0h1.5v-1h1.5v-1.5h1.5v1.5h1.5v-1.5h1.5v0.5h1.5v0.5h1.5v0.5h1.5v-1h1.5v1h1.5v0h1.5v-0.5h1.5v-0.5h1.5v-0.5h1.5v-0.5h1.5v1h1.5v0.5h1.5v0.5h1.5v-1.5h1.5v-0.5h1.5v1.5h1.5v0.5h1.5v0.5h1.5v-1.5h1.5v-7.5h1.5v8h1.5v-1.5h1.5v-0.5h1.5v2h1.5v-1.5h1.5v-6.5h1.5v1.5h1.5v0h1.5v2h1.5v5.5h1.5v-2h1.5v0.5h1.5v-0.5h1.5v-1h1.5v0h1.5v1h1.5v1.5h1.5v-0.5h1.5v0.5h1.5v-0.5h1.5v-1.5h1.5v0h1.5v1h1.5v1h1.5v-1h1.5v1h1.5v0h1.5v0.5h1.5v0h1.5v-0.5h1.5v0h1.5v-0.5h1.5v0.5h1.5v-1h1.5v0h1.5v1.5h1.5v-2h1.5v1h1.5v0.5h1.5v-1h1.5v-1.5h1.5v1h1.5v1.5h1.5v-1h1.5v1h1.5v-1.5h1.5v0h1.5v1.5h1.5v-1h1.5v-1h1.5v2h1.5v-0.5h1.5v-0.5h1.5v-0.5h1.5v0.5h1.5v0h1.5v1h1.5v-0.5h1.5v-1h1.5v-0.5h1.5v-2h1.5v-0.5h1.5v2h1.5v2h1.5v-1h1.5v-0.5h1.5v1h1.5v-0.5h1.5v0h1.5v-4h1.5v-1.5h1.5v0.5h1.5v-1h1.5v6.5h1.5v-2h1.5v-0.5h1.5v0.5h1.5v0.5h1.5v2h1.5v0h1.5v-1.5h1.5v1.5h1.5v-4h1.5v1h1.5v-2h1.5v0.5h1.5v5h1.5v0.5h1.5v0h1.5v-1.5h1.5v0.5h1.5v0h1.5v-1h1.5v-3.5h1.5v0.5h1.5v1h1.5v-1h1.5v4h1.5v0h1.5v-1h1.5v1h1.5v-7.5h1.5v2h1.5v-1h1.5v7.5h1.5v-1h1.5v0h1.5v-0.5h1.5v-1h1.5v-6h1.5v3.5h1.5v3.5h1.5v-8.5h1.5v1.5h1.5v2.5h1.5v-2h1.5v6h1.5v-0.5h1.5v1.5h1.5v-9h1.5v2.5h1.5v2.5h1.5v0h1.5v0.5h1.5v0.5h1.5v3h1.5v0h1.5v-0.5h1.5v0.5h1.5v-3.5h1.5v-0.5h1.5v0h1.5v-0.5h1.5v2h1.5v0.5h1.5v-0.5h1.5v0h1.5v0.5h1.5v2h1.5v0.5h1.5v0.5h1.5v0.5h1.5v-0.5h1.5v-1h1.5v-4.5h1.5v-1.5h1.5v0h1.5v5.5h1.5v0.5h1.5v0h1.5v-4h1.5v-1.5h1.5v-0.5h1.5v0.5h1.5v6h1.5v-1h1.5v0h1.5v-1h1.5v-5.5h1.5v2h1.5v1h1.5v4.5h1.5v-1h1.5v0.5h1.5v1h1.5v-0.5h1.5v-1.5h1.5v1h1.5v1h1.5v-0.5h1.5v-1.5h1.5v-0.5h1.5v1h1.5v0h1.5v0h1.5v-0.5h1.5v1h1.5v0h1.5v-1h1.5v1h1.5v-1h1.5v0.5h1.5v1h1.5v-2h1.5v0h1.5v1h1.5v-1h1.5v0.5h1.5v1.5h1.5v0.5h1.5v0.5h1.5v-5.5h1.5v-1.5h1.5v-4.5h1.5v1.5h1.5v-1.5h1.5v9.5h1.5v-0.5h1.5v1.5h1.5v0.5h1.5v-1h1.5v0.5h1.5v-1h1.5v0.5h1.5v0h1.5v0h1.5v-1h1.5v-1h1.5v0h1.5v0.5h1.5v0.5h1.5v0h1.5v1h1.5v-1.5h1.5v1h1.5v0h1.5v0.5h1.5v-1.5h1.5v2h1.5v-1h1.5v0h1.5v-0.5h1.5v0h1.5v-1h1.5v0.5h1.5v-4.5h1.5v3h1.5v3.5h1.5v0.5h1.5v-0.5h1.5v0.5h1.5v0h1.5v-1h1.5v0.5h1.5v-1.5h1.5v-0.5h1.5v1.5h1.5v-3h1.5v4h1.5v-1h1.5v1h1.5v0h1.5v-2L1297.4 1203.5l-5.04 0 -5.04 -1 -5.04 0 -5.04 0.5 -5.04 0.5 -5.04 -1 -5.04 1 -5.04 0.5 -5.04 -0.5 -5.04 -1 -5.04 0 -5.04 1.5 -5.04 -1 -5.04 0.5 -5.04 0.5 -5.04 -1.5 -5.04 0 -5.04 1.5 -5.04 -1 -5.04 0 -5.04 0 -5.04 0.5 -5.04 0.5 -5.04 -1 -5.04 0.5 -5.04 0 -5.04 -0.5 -5.04 -0.5 -5.04 0.5 -5.04 0 -5.04 0 -5.04 0 -5.04 0.5 -5.04 -0.5 -5.04 0.5 -5.04 0 -5.04 0 -5.04 -1 -5.04 0 -5.04 1 -5.04 -0.5 -5.04 1 -5.04 -1.5 -5.04 1 -5.04 0 -5.04 0 -5.04 -1 -5.04 1 -5.04 0 -5.04 -1 -5.04 0 -5.04 1 -5.04 -1 -5.04 1 -5.04 -0.5 -5.04 -0.5 -5.04 1 -5.04 -1 -5.04 1 -5.04 -1 -5.04 0.5 -5.04 1 -5.04 -1 -5.04 0.5 -5.04 -0.5 -5.04 0 -5.04 -0.5 -5.04 0.5 -5.04 0.5 -5.04 0 -5.04 0 -5.04 0.5 -5.04 -1.5 -5.04 1 -5.04 -1 -5.04 1.5 -5.04 -1.5 -5.04 1 -5.04 0 -5.04 -0.5 -5.04 0 -5.04 0.5 -5.04 0 -5.04 0.5 -5.04 -1.5 -5.04 1 -5.04 -0.5 -5.04 0 -5.04 0.5 -5.04 -0.5 -5.04 -0.5 -5.04 0 -5.04 0.5 -5.04 0.5Z" fill="#A3282C"/>
<path d="M823.4 1195.0h1.5v0.5h1.5v-0.5h1.5v-0.5h1.5v1.5h1.5v0.5h1.5v0.5h1.5v-1h1.5v0h1.5v0h1.5v-0.5h1.5v0.5h1.5v0.5h1.5v-1h1.5v-0.5h1.5v0h1.5v-0.5h1.5v0.5h1.5v-0.5h1.5v1h1.5v-1h1.5v0.5h1.5v0h1.5v-0.5h1.5v-0.5h1.5v1h1.5v-0.5h1.5v0.5h1.5v1h1.5v-0.5h1.5v-1.5h1.5v-0.5h1.5v-1h1.5v1h1.5v3h1.5v-3h1.5v0.5h1.5v0h1.5v0.5h1.5v0.5h1.5v-0.5h1.5v0h1.5v1.5h1.5v0.5h1.5v-1h1.5v-0.5h1.5v1.5h1.5v-1h1.5v-0.5h1.5v-1h1.5v0h1.5v0.5h1.5v1.5h1.5v-5.5h1.5v-1h1.5v-1h1.5v1h1.5v6.5h1.5v-1h1.5v-6h1.5v0h1.5v1.5h1.5v5h1.5v-1h1.5v-0.5h1.5v0h1.5v-0.5h1.5v1.5h1.5v-0.5h1.5v1h1.5v-8.5h1.5v7.5h1.5v1h1.5v-0.5h1.5v0.5h1.5v1h1.5v0h1.5v-0.5h1.5v0h1.5v-0.5h1.5v-1h1.5v0h1.5v0h1.5v1h1.5v-1h1.5v0.5h1.5v0.5h1.5v0.5h1.5v0h1.5v-0.5h1.5v0h1.5v-0.5h1.5v1h1.5v-2h1.5v0.5h1.5v0h1.5v1.5h1.5v-1h1.5v1h1.5v0h1.5v-0.5h1.5v0.5h1.5v0.5h1.5v-0.5h1.5v-6.5h1.5v0h1.5v6.5h1.5v0.5h1.5v0h1.5v-1h1.5v0.5h1.5v0h1.5v-0.5h1.5v-1h1.5v0.5h1.5v1.5h1.5v0h1.5v0h1.5v0.5h1.5v-3h1.5v-1h1.5v-0.5h1.5v3h1.5v-0.5h1.5v1.5h1.5v-1h1.5v1h1.5v-1h1.5v0h1.5v0h1.5v-0.5h1.5v1h1.5v-0.5h1.5v-0.5h1.5v0h1.5v1h1.5v0h1.5v0.5h1.5v-1h1.5v1h1.5v-7h1.5v-1.5h1.5v6.5h1.5v0.5h1.5v0.5h1.5v1h1.5v-1h1.5v0h1.5v0h1.5v0.5h1.5v-1h1.5v-0.5h1.5v0.5h1.5v-0.5h1.5v1.5h1.5v0.5h1.5v0h1.5v-5h1.5v5h1.5v-5.5h1.5v0h1.5v-0.5h1.5v2h1.5v2h1.5v1.5h1.5v-1h1.5v0.5h1.5v-0.5h1.5v0h1.5v1h1.5v-0.5h1.5v0h1.5v-0.5h1.5v1h1.5v-6.5h1.5v0h1.5v7h1.5v0h1.5v0h1.5v0h1.5v0h1.5v-0.5h1.5v-2h1.5v-1.5h1.5v1h1.5v-0.5h1.5v1.5h1.5v1h1.5v-0.5h1.5v0.5h1.5v-1h1.5v1.5h1.5v-1h1.5v-1.5h1.5v2.5h1.5v-0.5h1.5v0.5h1.5v0h1.5v-0.5h1.5v-0.5h1.5v0h1.5v1h1.5v-1h1.5v0h1.5v0h1.5v0.5h1.5v1h1.5v0h1.5v-1.5h1.5v0.5h1.5v-1h1.5v1h1.5v0h1.5v0h1.5v0h1.5v-0.5h1.5v-2.5h1.5v-0.5h1.5v0h1.5v-0.5h1.5v3.5h1.5v0.5h1.5v0.5h1.5v0h1.5v-0.5h1.5v0.5h1.5v-3.5h1.5v1h1.5v-1h1.5v-1h1.5v4.5h1.5v0.5h1.5v0.5h1.5v0h1.5v-1.5h1.5v-1h1.5v0h1.5v1.5h1.5v-0.5h1.5v0.5h1.5v0.5h1.5v-7.5h1.5v0h1.5v1h1.5v6h1.5v-1h1.5v0.5h1.5v-1h1.5v0h1.5v1h1.5v0h1.5v0.5h1.5v-1h1.5v0.5h1.5v0.5h1.5v-1h1.5v0.5h1.5v-0.5h1.5v-0.5h1.5v1.5h1.5v-1h1.5v0h1.5v-0.5h1.5v0.5h1.5v1h1.5v-0.5h1.5v0.5h1.5v-0.5h1.5v-4.5h1.5v-1.5h1.5v7h1.5v0h1.5v-1h1.5v-8h1.5v8.5h1.5v-0.5h1.5v0h1.5v0h1.5v1h1.5v-1h1.5v1h1.5v-1.5h1.5v0.5h1.5v1h1.5v0h1.5v-1h1.5v-0.5h1.5v0h1.5v-0.5h1.5v0h1.5v0.5h1.5v0h1.5v1.5h1.5v0h1.5v0.5h1.5v-0.5h1.5v0h1.5v-1h1.5v-0.5h1.5v1h1.5v0.5h1.5v0.5h1.5v-1.5h1.5v0h1.5v-0.5h1.5v0.5h1.5v-5h1.5v1h1.5v-1h1.5v0.5h1.5v5h1.5v-0.5h1.5v0.5h1.5v-3.5h1.5v1h1.5v-1h1.5v0L1297.4 1201.5l-5.04 0.5 -5.04 0.5 -5.04 -0.5 -5.04 0.5 -5.04 0 -5.04 -0.5 -5.04 0 -5.04 -0.5 -5.04 0.5 -5.04 0 -5.04 0 -5.04 0 -5.04 -0.5 -5.04 0.5 -5.04 0.5 -5.04 -0.5 -5.04 0.5 -5.04 0 -5.04 -0.5 -5.04 0.5 -5.04 0 -5.04 0 -5.04 -1 -5.04 0 -5.04 0.5 -5.04 0 -5.04 0.5 -5.04 -1 -5.04 1 -5.04 0 -5.04 -0.5 -5.04 0 -5.04 0 -5.04 0 -5.04 0.5 -5.04 0 -5.04 -0.5 -5.04 0 -5.04 0 -5.04 0.5 -5.04 -0.5 -5.04 0.5 -5.04 -1 -5.04 0.5 -5.04 0 -5.04 0.5 -5.04 -0.5 -5.04 0.5 -5.04 0 -5.04 -0.5 -5.04 0 -5.04 0.5 -5.04 -1 -5.04 0.5 -5.04 -0.5 -5.04 1 -5.04 -1 -5.04 1 -5.04 -1 -5.04 1 -5.04 -1 -5.04 0.5 -5.04 0.5 -5.04 -0.5 -5.04 -0.5 -5.04 1 -5.04 -0.5 -5.04 0.5 -5.04 -1 -5.04 0.5 -5.04 0.5 -5.04 0 -5.04 -1 -5.04 0.5 -5.04 0 -5.04 -0.5 -5.04 1 -5.04 0 -5.04 -1 -5.04 0 -5.04 0.5 -5.04 0.5 -5.04 0 -5.04 0 -5.04 -0.5 -5.04 0.5 -5.04 -0.5 -5.04 0 -5.04 0 -5.04 0.5 -5.04 -1 -5.04 0.5 -5.04 0 -5.04 0.5Z" fill="#221C84"/>
<path d="M1254.9 1201.1V1181.9h3.2V1201.1ZM1260.4 1201.1V1186.2h3.2V1201.1Z" fill="#221C84"/>
<line x1="781.6" y1="1212.2" x2="781.6" y2="1281.5" stroke="#000" stroke-width="3"/>
<line x1="778" y1="1276.8" x2="781" y2="1276.8" stroke="#000" stroke-width="3"/>
<text x="776.0" y="1282.8" font-size="17" text-anchor="end" font-family="Liberation Sans, Arial, sans-serif">0</text>
<line x1="778" y1="1255.5" x2="781" y2="1255.5" stroke="#000" stroke-width="3"/>
<text x="776.0" y="1261.5" font-size="17" text-anchor="end" font-family="Liberation Sans, Arial, sans-serif">20</text>
<line x1="778" y1="1234.1" x2="781" y2="1234.1" stroke="#000" stroke-width="3"/>
<text x="776.0" y="1240.1" font-size="17" text-anchor="end" font-family="Liberation Sans, Arial, sans-serif">40</text>
<text transform="translate(1737.3 1250.2) rotate(90)" font-size="17.5" text-anchor="middle" font-family="Liberation Sans, Arial, sans-serif">Chr11</text>
<path d="M888.4 1276.8V1264.0h3.2V1276.8ZM868.4 1276.8V1266.1h3.2V1276.8Z" fill="#A3282C"/>
<path d="M823.4 1272.0h1.5v-6h1.5v5.5h1.5v1h1.5v-0.5h1.5v0h1.5v-1h1.5v0.5h1.5v0.5h1.5v-4.5h1.5v4h1.5v0.5h1.5v1h1.5v-1h1.5v-4.5h1.5v-4h1.5v2h1.5v1.5h1.5v6h1.5v-1h1.5v-5.5h1.5v-1.5h1.5v1.5h1.5v5h1.5v0h1.5v1.5h1.5v-0.5h1.5v-0.5h1.5v0h1.5v0h1.5v0h1.5v1h1.5v-5.5h1.5v0h1.5v0h1.5v4.5h1.5v1h1.5v-1h1.5v-0.5h1.5v0h1.5v1h1.5v-1h1.5v1.5h1.5v0.5h1.5v-7.5h1.5v1.5h1.5v-0.5h1.5v5h1.5v0.5h1.5v1h1.5v0h1.5v-2h1.5v0.5h1.5v1h1.5v-0.5h1.5v-0.5h1.5v-1h1.5v1h1.5v1h1.5v0h1.5v-0.5h1.5v0h1.5v-1.5h1.5v2h1.5v-1h1.5v-3.5h1.5v0.5h1.5v-1h1.5v4.5h1.5v0.5h1.5v1h1.5v-0.5h1.5v0h1.5v0h1.5v-2h1.5v1.5h1.5v-0.5h1.5v0h1.5v-0.5h1.5v-8h1.5v2.5h1.5v-2.5h1.5v1h1.5v7h1.5v1h1.5v-1.5h1.5v1h1.5v0.5h1.5v0.5h1.5v-1h1.5v-1h1.5v0h1.5v1h1.5v0h1.5v-1h1.5v0h1.5v-0.5h1.5v0.5h1.5v-3h1.5v4h1.5v0h1.5v0.5h1.5v1h1.5v-2h1.5v0.5h1.5v0h1.5v-7h1.5v-0.5h1.5v0.5h1.5v-1h1.5v6.5h1.5v1h1.5v-1h1.5v1.5h1.5v-0.5h1.5v-0.5h1.5v0.5h1.5v1h1.5v0.5h1.5v-1.5h1.5v1.5h1.5v-1h1.5v-2.5h1.5v-3.5h1.5v1h1.5v5h1.5v-0.5h1.5v0h1.5v0.5h1.5v0h1.5v-1h1.5v0h1.5v1.5h1.5v0h1.5v-1h1.5v-1h1.5v0h1.5v1h1.5v0h1.5v0h1.5v1.5h1.5v-2h1.5v1.5h1.5v-0.5h1.5v-4.5h1.5v-1.5h1.5v6.5h1.5v0.5h1.5v-1h1.5v-1h1.5v0h1.5v-0.5h1.5v0.5h1.5v1.5h1.5v0.5h1.5v-1h1.5v0h1.5v-1h1.5v-0.5h1.5v-2h1.5v-1.5h1.5v1h1.5v1h1.5v4h1.5v-1.5h1.5v-0.5h1.5v-6h1.5v1.5h1.5v0h1.5v-2h1.5v7h1.5v-0.5h1.5v1.5h1.5v1h1.5v-1h1.5v-1h1.5v0h1.5v1.5h1.5v0h1.5v-1.5h1.5v1h1.5v-0.5h1.5v-0.5h1.5v-0.5h1.5v1.5h1.5v0h1.5v0h1.5v0h1.5v-1h1.5v-1h1.5v1.5h1.5v0.5h1.5v1h1.5v0h1.5v-2h1.5v0h1.5v-0.5h1.5v-5.5h1.5v0.5h1.5v0.5h1.5v-1.5h1.5v6h1.5v0h1.5v1.5h1.5v-0.5h1.5v0.5h1.5v0.5h1.5v-0.5h1.5v-1.5h1.5v-0.5h1.5v0.5h1.5v-0.5h1.5v0.5h1.5v-1.5h1.5v-1.5h1.5v2.5h1.5v-1.5h1.5v3h1.5v0.5h1.5v0.5h1.5v-2h1.5v-0.5h1.5v1h1.5v1.5h1.5v0h1.5v0.5h1.5v-0.5h1.5v-0.5h1.5v-0.5h1.5v-1h1.5v0h1.5v1.5h1.5v-1h1.5v-1h1.5v1.5h1.5v-1h1.5v-0.5h1.5v0h1.5v1.5h1.5v0h1.5v1h1.5v0h1.5v-6.5h1.5v-1h1.5v2.5h1.5v-3.5h1.5v7.5h1.5v0.5h1.5v0h1.5v1h1.5v0h1.5v-2h1.5v0.5h1.5v0.5h1.5v-0.5h1.5v1h1.5v0h1.5v-1.5h1.5v-1h1.5v-6h1.5v-0.5h1.5v1h1.5v7h1.5v1h1.5v-0.5h1.5v-1h1.5v1.5h1.5v-0.5h1.5v-3.5h1.5v0h1.5v3.5h1.5v0h1.5v0.5h1.5v-1h1.5v1h1.5v-1.5h1.5v-5.5h1.5v-3h1.5v4h1.5v4.5h1.5v0h1.5v1.5h1.5v-2h1.5v-1h1.5v0.5h1.5v0.5h1.5v0h1.5v-1h1.5v1h1.5v-0.5h1.5v0h1.5v-0.5h1.5v1h1.5v1.5h1.5v0.5h1.5v0h1.5v-1h1.5v0.5h1.5v-1h1.5v-0.5L1271.9 1278.5l-5.04 1 -5.04 0 -5.04 -0.5 -5.04 -0.5 -5.04 0.5 -5.04 -1 -5.04 0.5 -5.04 0.5 -5.04 -1 -5.04 0.5 -5.04 -0.5 -5.04 0.5 -5.04 0 -5.04 0.5 -5.04 0.5 -5.04 0 -5.04 0 -5.04 0 -5.04 -1 -5.04 0 -5.04 1 -5.04 -1 -5.04 -0.5 -5.04 0 -5.04 1.5 -5.04 -0.5 -5.04 0 -5.04 -0.5 -5.04 0.5 -5.04 -0.5 -5.04 -0.5 -5.04 1 -5.04 0.5 -5.04 -1 -5.04 0.5 -5.04 0 -5.04 -0.5 -5.04 0 -5.04 0.5 -5.04 0.5 -5.04 0 -5.04 -0.5 -5.04 0 -5.04 0.5 -5.04 -0.5 -5.04 0 -5.04 -0.5 -5.04 0 -5.04 0 -5.04 -0.5 -5.04 1.5 -5.04 -1 -5.04 0 -5.04 0 -5.04 -0.5 -5.04 1 -5.04 -0.5 -5.04 0.5 -5.04 0.5 -5.04 0 -5.04 -0.5 -5.04 0 -5.04 0 -5.04 0 -5.04 -0.5 -5.04 0 -5.04 1 -5.04 -0.5 -5.04 0.5 -5.04 -1 -5.04 0 -5.04 1 -5.04 0 -5.04 0 -5.04 -0.5 -5.04 -1 -5.04 0.5 -5.04 1 -5.04 -0.5 -5.04 0.5 -5.04 -1 -5.04 0.5 -5.04 -0.5 -5.04 1 -5.04 -0.5 -5.04 -1 -5.04 1 -5.04 -0.5 -5.04 0Z" fill="#A3282C"/>
<path d="M823.4 1271.0h1.5v-1h1.5v1h1.5v-1h1.5v1.5h1.5v-1h1.5v0h1.5v0h1.5v-0.5h1.5v1.5h1.5v0h1.5v-0.5h1.5v0.5h1.5v0h1.5v-0.5h1.5v0.5h1.5v-4.5h1.5v4h1.5v1h1.5v0h1.5v-1h1.5v0.5h1.5v0h1.5v-1h1.5v1.5h1.5v0.5h1.5v-0.5h1.5v-1h1.5v-1h1.5v1.5h1.5v-1h1.5v1h1.5v0.5h1.5v-1.5h1.5v-0.5h1.5v0.5h1.5v0.5h1.5v0h1.5v-0.5h1.5v1h1.5v0.5h1.5v-1h1.5v1h1.5v0h1.5v-0.5h1.5v-0.5h1.5v-0.5h1.5v0.5h1.5v0h1.5v1h1.5v0.5h1.5v-0.5h1.5v-1.5h1.5v1h1.5v0.5h1.5v-0.5h1.5v0.5h1.5v-1h1.5v-0.5h1.5v0h1.5v1h1.5v0.5h1.5v-0.5h1.5v-1h1.5v1h1.5v-1h1.5v-4.5h1.5v0h1.5v0h1.5v-1h1.5v6h1.5v-0.5h1.5v0.5h1.5v-0.5h1.5v0h1.5v1h1.5v0h1.5v-1h1.5v0.5h1.5v0.5h1.5v0.5h1.5v-0.5h1.5v-1h1.5v0h1.5v1h1.5v0h1.5v0h1.5v0.5h1.5v0h1.5v0.5h1.5v-1.5h1.5v-0.5h1.5v0h1.5v0.5h1.5v-0.5h1.5v0.5h1.5v0h1.5v1h1.5v-0.5h1.5v0.5h1.5v0.5h1.5v0.5h1.5v-1.5h1.5v-1h1.5v-0.5h1.5v0.5h1.5v0h1.5v-0.5h1.5v0h1.5v1h1.5v0h1.5v-0.5h1.5v1.5h1.5v-1h1.5v0h1.5v-0.5h1.5v1.5h1.5v-1.5h1.5v0h1.5v-0.5h1.5v1.5h1.5v-1h1.5v1.5h1.5v-0.5h1.5v-1h1.5v0h1.5v1h1.5v-1h1.5v-0.5h1.5v1.5h1.5v-0.5h1.5v-1h1.5v0h1.5v1.5h1.5v-1h1.5v1h1.5v0.5h1.5v-1h1.5v1h1.5v-1h1.5v-1h1.5v0.5h1.5v0.5h1.5v-1h1.5v0.5h1.5v0.5h1.5v1h1.5v0.5h1.5v-1h1.5v-1h1.5v1h1.5v0.5h1.5v0.5h1.5v-0.5h1.5v-0.5h1.5v1h1.5v-0.5h1.5v-0.5h1.5v0.5h1.5v-1.5h1.5v0.5h1.5v1h1.5v-1h1.5v-0.5h1.5v0h1.5v0.5h1.5v0h1.5v0.5h1.5v0h1.5v0h1.5v0h1.5v-0.5h1.5v0h1.5v0.5h1.5v-1h1.5v-3h1.5v1.5h1.5v1h1.5v1.5h1.5v0.5h1.5v0h1.5v-8h1.5v7h1.5v1h1.5v0h1.5v-1h1.5v0h1.5v0.5h1.5v-0.5h1.5v-0.5h1.5v1h1.5v-1h1.5v0.5h1.5v0h1.5v-0.5h1.5v0h1.5v0.5h1.5v0h1.5v0h1.5v-0.5h1.5v-5h1.5v5.5h1.5v1h1.5v0.5h1.5v0h1.5v-0.5h1.5v-0.5h1.5v-3.5h1.5v3h1.5v1h1.5v-1h1.5v-6.5h1.5v1.5h1.5v5.5h1.5v-1h1.5v0.5h1.5v1h1.5v-0.5h1.5v-3h1.5v2h1.5v0h1.5v-2.5h1.5v2.5h1.5v1h1.5v-0.5h1.5v0h1.5v0h1.5v1h1.5v0h1.5v0h1.5v-0.5h1.5v0h1.5v-2.5h1.5v-0.5h1.5v-0.5h1.5v1h1.5v3h1.5v-1.5h1.5v0.5h1.5v0h1.5v1h1.5v-7.5h1.5v-1.5h1.5v0.5h1.5v2.5h1.5v5.5h1.5v-6h1.5v-1h1.5v2.5h1.5v5.5h1.5v-1h1.5v-4h1.5v5h1.5v-1.5h1.5v0h1.5v0h1.5v0.5h1.5v0.5h1.5v-1h1.5v0h1.5v-1.5h1.5v1h1.5v0.5h1.5v0h1.5v-0.5h1.5v-0.5h1.5v0h1.5v0h1.5v1h1.5v0.5h1.5v0h1.5v-0.5h1.5v1h1.5v0h1.5v-1h1.5v0h1.5v-0.5h1.5v1h1.5v-1h1.5v-0.5h1.5v1.5h1.5v0.5h1.5v0.5h1.5v0h1.5v-1.5h1.5v1h1.5v0h1.5v-1h1.5v-0.5h1.5v0.5h1.5v-0.5h1.5v-0.5h1.5v0.5h1.5v1h1.5v-1h1.5v0h1.5v-4.5h1.5v5.5h1.5v-1h1.5v0L1271.9 1278.0l-5.04 0 -5.04 0.5 -5.04 -0.5 -5.04 0.5 -5.04 -0.5 -5.04 -0.5 -5.04 0 -5.04 0.5 -5.04 0 -5.04 0 -5.04 0 -5.04 0 -5.04 0.5 -5.04 -1 -5.04 0 -5.04 0 -5.04 -0.5 -5.04 1 -5.04 0 -5.04 0 -5.04 0 -5.04 -1 -5.04 0 -5.04 1 -5.04 0 -5.04 0 -5.04 -1 -5.04 1.5 -5.04 -0.5 -5.04 0 -5.04 -1 -5.04 0.5 -5.04 0 -5.04 0 -5.04 0 -5.04 0 -5.04 0.5 -5.04 -0.5 -5.04 0.5 -5.04 -0.5 -5.04 0.5 -5.04 -0.5 -5.04 0 -5.04 -0.5 -5.04 0.5 -5.04 0.5 -5.04 -0.5 -5.04 0 -5.04 0 -5.04 0.5 -5.04 0.5 -5.04 -1 -5.04 0.5 -5.04 -0.5 -5.04 0.5 -5.04 -1 -5.04 0 -5.04 0.5 -5.04 0 -5.04 0.5 -5.04 0.5 -5.04 -1 -5.04 -0.5 -5.04 0.5 -5.04 0.5 -5.04 -0.5 -5.04 0 -5.04 0 -5.04 0.5 -5.04 0 -5.04 -0.5 -5.04 0.5 -5.04 0 -5.04 -0.5 -5.04 0.5 -5.04 0.5 -5.04 -0.5 -5.04 -0.5 -5.04 0.5 -5.04 -1 -5.04 0.5 -5.04 1 -5.04 -0.5 -5.04 0 -5.04 -0.5 -5.04 -0.5 -5.04 1 -5.04 0 -5.04 -0.5Z" fill="#221C84"/>
<path d="M1182.9 1276.8V1264.0h3.2V1276.8Z" fill="#221C84"/>
<line x1="781.6" y1="1287.9" x2="781.6" y2="1358.0" stroke="#000" stroke-width="3"/>
<line x1="778" y1="1352.5" x2="781" y2="1352.5" stroke="#000" stroke-width="3"/>
<text x="776.0" y="1358.5" font-size="17" text-anchor="end" font-family="Liberation Sans, Arial, sans-serif">0</text>
<line x1="778" y1="1331.2" x2="781" y2="1331.2" stroke="#000" stroke-width="3"/>
<text x="776.0" y="1337.2" font-size="17" text-anchor="end" font-family="Liberation Sans, Arial, sans-serif">20</text>
<line x1="778" y1="1309.8" x2="781" y2="1309.8" stroke="#000" stroke-width="3"/>
<text x="776.0" y="1315.8" font-size="17" text-anchor="end" font-family="Liberation Sans, Arial, sans-serif">40</text>
<text transform="translate(1737.3 1325.9) rotate(90)" font-size="17.5" text-anchor="middle" font-family="Liberation Sans, Arial, sans-serif">Chr12</text>
<path d="M1094.4 1352.5V1325.8h3.2V1352.5ZM1199.2 1352.5V1306.6h3.2V1352.5ZM1201.9 1352.5V1311.9h3.2V1352.5ZM1196.7 1352.5V1322.6h3.2V1352.5ZM1222.1 1352.5V1309.8h3.2V1352.5ZM1219.7 1352.5V1314.1h3.2V1352.5ZM1224.6 1352.5V1324.7h3.2V1352.5ZM1194.4 1352.5V1325.8h3.2V1352.5Z" fill="#A3282C"/>
<path d="M823.4 1349.0h1.5v-0.5h1.5v0.5h1.5v0.5h1.5v-1.5h1.5v0h1.5v-1h1.5v1.5h1.5v0.5h1.5v0h1.5v-1.5h1.5v0h1.5v0.5h1.5v-0.5h1.5v1h1.5v0h1.5v-6.5h1.5v1.5h1.5v-1h1.5v5h1.5v0h1.5v0.5h1.5v-1.5h1.5v1.5h1.5v-0.5h1.5v0.5h1.5v0h1.5v-1h1.5v-1h1.5v1h1.5v-1.5h1.5v1.5h1.5v1.5h1.5v1h1.5v-2h1.5v1h1.5v1h1.5v-1.5h1.5v-0.5h1.5v-0.5h1.5v0.5h1.5v1h1.5v-0.5h1.5v-0.5h1.5v-0.5h1.5v1.5h1.5v-1h1.5v0h1.5v-1h1.5v1.5h1.5v1h1.5v-1h1.5v1.5h1.5v-5.5h1.5v1h1.5v-1h1.5v-0.5h1.5v4h1.5v-0.5h1.5v-5h1.5v-4h1.5v10.5h1.5v0.5h1.5v-2h1.5v-2h1.5v-0.5h1.5v2h1.5v-0.5h1.5v0h1.5v1h1.5v0h1.5v-0.5h1.5v-0.5h1.5v-6.5h1.5v9h1.5v0h1.5v-1h1.5v0h1.5v1h1.5v-0.5h1.5v-1.5h1.5v-3.5h1.5v-2h1.5v-1.5h1.5v2h1.5v7.5h1.5v-2h1.5v0h1.5v0h1.5v-8h1.5v0.5h1.5v1h1.5v1h1.5v6h1.5v-3.5h1.5v0.5h1.5v-1.5h1.5v3.5h1.5v0.5h1.5v1h1.5v-1h1.5v1.5h1.5v0.5h1.5v-1.5h1.5v0h1.5v-0.5h1.5v1.5h1.5v-0.5h1.5v1h1.5v-0.5h1.5v0.5h1.5v-1h1.5v-0.5h1.5v-1h1.5v1h1.5v0.5h1.5v0.5h1.5v-1.5h1.5v1.5h1.5v-3.5h1.5v4h1.5v-3h1.5v0h1.5v-1h1.5v2h1.5v0h1.5v-1h1.5v2h1.5v0.5h1.5v-5h1.5v1.5h1.5v1h1.5v-0.5h1.5v4.5h1.5v-1.5h1.5v1h1.5v-1h1.5v-0.5h1.5v-1h1.5v0h1.5v1h1.5v1h1.5v-1.5h1.5v0h1.5v0.5h1.5v-1.5h1.5v2h1.5v-2.5h1.5v0.5h1.5v-2h1.5v3h1.5v0.5h1.5v-1.5h1.5v0.5h1.5v1h1.5v-0.5h1.5v-0.5h1.5v1.5h1.5v-1h1.5v-0.5h1.5v1.5h1.5v-5.5h1.5v0.5h1.5v-1h1.5v0.5h1.5v4.5h1.5v1.5h1.5v-0.5h1.5v-0.5h1.5v-1h1.5v0.5h1.5v0h1.5v0.5h1.5v-4h1.5v-0.5h1.5v4h1.5v-6h1.5v-2h1.5v2h1.5v0.5h1.5v5.5h1.5v0h1.5v1.5h1.5v-1h1.5v0.5h1.5v0h1.5v-1.5h1.5v-0.5h1.5v0.5h1.5v0h1.5v1.5h1.5v-1h1.5v1h1.5v0h1.5v-0.5h1.5v1h1.5v-0.5h1.5v-7.5h1.5v0h1.5v8.5h1.5v0.5h1.5v-2.5h1.5v0h1.5v1.5h1.5v0h1.5v0.5h1.5v-1.5h1.5v0.5h1.5v-1.5h1.5v1h1.5v-0.5h1.5v-1h1.5v1.5h1.5v-1h1.5v-0.5h1.5v0h1.5v1.5h1.5v0.5h1.5v-1h1.5v1.5h1.5v0.5h1.5v-0.5h1.5v-1h1.5v0.5h1.5v1h1.5v-1h1.5v-6.5h1.5v0h1.5v-2.5h1.5v3h1.5v7h1.5v0h1.5v-2h1.5v-0.5h1.5v1h1.5v-0.5h1.5v0.5h1.5v1h1.5v-1.5h1.5v1.5h1.5v-1.5h1.5v-5.5h1.5v1.5h1.5v-1h1.5v6h1.5v0.5h1.5v-1.5h1.5v-1h1.5v1h1.5v0.5h1.5v0.5h1.5v0.5h1.5v0h1.5v-1h1.5v-0.5h1.5v-0.5h1.5v-0.5h1.5v0h1.5v0.5h1.5v0h1.5v1h1.5v0h1.5v-0.5h1.5v1.5h1.5v-1.5h1.5v1h1.5v0h1.5v-0.5h1.5v1h1.5v-6.5h1.5v-0.5h1.5v6L1229.9 1354.5l-5.02 0.5 -5.02 -1.5 -5.02 0.5 -5.02 0.5 -5.02 -0.5 -5.02 0 -5.02 0.5 -5.02 -0.5 -5.02 0.5 -5.02 0.5 -5.02 0 -5.02 -1 -5.02 0 -5.02 1 -5.02 -1 -5.02 1 -5.02 -0.5 -5.02 0.5 -5.02 -0.5 -5.02 0 -5.02 0 -5.02 0.5 -5.02 -0.5 -5.02 0.5 -5.02 -0.5 -5.02 0 -5.02 0 -5.02 0 -5.02 0 -5.02 0.5 -5.02 -0.5 -5.02 -0.5 -5.02 0 -5.02 0 -5.02 -0.5 -5.02 0.5 -5.02 0.5 -5.02 -1 -5.02 1 -5.02 0.5 -5.02 -0.5 -5.02 -0.5 -5.02 1 -5.02 0 -5.02 0 -5.02 0 -5.02 0 -5.02 -0.5 -5.02 0 -5.02 -0.5 -5.02 0.5 -5.02 -0.5 -5.02 0.5 -5.02 0 -5.02 0.5 -5.02 0 -5.02 -0.5 -5.02 0.5 -5.02 -1 -5.02 -0.5 -5.02 1 -5.02 0 -5.02 -0.5 -5.02 0.5 -5.02 0.5 -5.02 0 -5.02 -1 -5.02 1 -5.02 0 -5.02 0 -5.02 -0.5 -5.02 -0.5 -5.02 0.5 -5.02 -0.5 -5.02 0 -5.02 0 -5.02 0 -5.02 1 -5.02 0 -5.02 0 -5.02 -1Z" fill="#A3282C"/>
<path d="M823.4 1347.0h1.5v-0.5h1.5v1h1.5v-0.5h1.5v1h1.5v0h1.5v-0.5h1.5v0h1.5v-1h1.5v0h1.5v0h1.5v1h1.5v-1h1.5v0h1.5v0h1.5v-0.5h1.5v-0.5h1.5v1.5h1.5v-0.5h1.5v0.5h1.5v0h1.5v0.5h1.5v-0.5h1.5v0h1.5v-1h1.5v0.5h1.5v-0.5h1.5v0h1.5v0.5h1.5v0h1.5v-4.5h1.5v1h1.5v3.5h1.5v0.5h1.5v-0.5h1.5v0.5h1.5v0.5h1.5v0.5h1.5v-1h1.5v-1h1.5v0h1.5v0h1.5v-0.5h1.5v1h1.5v-0.5h1.5v-0.5h1.5v0.5h1.5v0.5h1.5v1h1.5v0.5h1.5v-1h1.5v-0.5h1.5v0h1.5v-2.5h1.5v1.5h1.5v0.5h1.5v1h1.5v0.5h1.5v-1h1.5v0h1.5v-0.5h1.5v0h1.5v1h1.5v1h1.5v0h1.5v-1.5h1.5v0h1.5v0.5h1.5v0.5h1.5v-1h1.5v0h1.5v1h1.5v-3.5h1.5v3h1.5v0h1.5v0h1.5v-5h1.5v0.5h1.5v4h1.5v1h1.5v-1h1.5v0h1.5v0.5h1.5v-1h1.5v1h1.5v0.5h1.5v-0.5h1.5v-1h1.5v0.5h1.5v0h1.5v-0.5h1.5v0h1.5v0.5h1.5v-0.5h1.5v0h1.5v1.5h1.5v-1.5h1.5v-1h1.5v-0.5h1.5v3h1.5v-0.5h1.5v0h1.5v-1h1.5v1h1.5v-5.5h1.5v-3h1.5v7.5h1.5v1h1.5v-4h1.5v3.5h1.5v-2h1.5v2.5h1.5v-0.5h1.5v0h1.5v1h1.5v0.5h1.5v0h1.5v0h1.5v-0.5h1.5v-0.5h1.5v-0.5h1.5v-2h1.5v-0.5h1.5v0.5h1.5v2.5h1.5v0h1.5v-0.5h1.5v-1.5h1.5v1h1.5v0h1.5v1h1.5v0.5h1.5v-0.5h1.5v0.5h1.5v0h1.5v-0.5h1.5v1h1.5v-4.5h1.5v-0.5h1.5v2h1.5v2h1.5v0h1.5v0h1.5v0h1.5v-0.5h1.5v1h1.5v-2h1.5v1h1.5v-1.5h1.5v0.5h1.5v0.5h1.5v0.5h1.5v-2h1.5v-0.5h1.5v0h1.5v0h1.5v3h1.5v-1h1.5v1h1.5v0h1.5v0.5h1.5v-1h1.5v-0.5h1.5v1.5h1.5v-1.5h1.5v0h1.5v0h1.5v0h1.5v-2.5h1.5v0.5h1.5v2.5h1.5v1h1.5v0h1.5v0h1.5v0.5h1.5v-1.5h1.5v1h1.5v0h1.5v-1h1.5v-0.5h1.5v0h1.5v1h1.5v-0.5h1.5v-0.5h1.5v0h1.5v1h1.5v-0.5h1.5v0.5h1.5v-0.5h1.5v0.5h1.5v0h1.5v0.5h1.5v-2h1.5v-0.5h1.5v1.5h1.5v-1.5h1.5v1h1.5v1h1.5v0h1.5v-0.5h1.5v1h1.5v-0.5h1.5v0.5h1.5v0h1.5v-1.5h1.5v0.5h1.5v-0.5h1.5v0.5h1.5v1h1.5v0.5h1.5v0h1.5v-1h1.5v1h1.5v-1.5h1.5v0.5h1.5v0.5h1.5v-1h1.5v1h1.5v-0.5h1.5v-7h1.5v0.5h1.5v-0.5h1.5v5.5h1.5v2h1.5v-0.5h1.5v0h1.5v-0.5h1.5v0.5h1.5v0.5h1.5v-1h1.5v0.5h1.5v1h1.5v-0.5h1.5v0.5h1.5v-1.5h1.5v-0.5h1.5v-2h1.5v0h1.5v-0.5h1.5v1h1.5v-1h1.5v3h1.5v-2h1.5v-1h1.5v3.5h1.5v0h1.5v0h1.5v-1h1.5v1h1.5v0h1.5v1h1.5v-1.5h1.5v-0.5h1.5v0.5h1.5v1.5h1.5v-1h1.5v-0.5h1.5v-0.5h1.5v1.5h1.5v0h1.5v0h1.5v-0.5h1.5v-1h1.5v0.5h1.5v0.5h1.5v-4h1.5v0.5h1.5v4h1.5v-0.5h1.5v-1h1.5v0h1.5v0.5L1229.9 1354.0l-5.02 -0.5 -5.02 0 -5.02 0.5 -5.02 -0.5 -5.02 0 -5.02 0 -5.02 0.5 -5.02 -1 -5.02 0.5 -5.02 0 -5.02 -0.5 -5.02 1 -5.02 -0.5 -5.02 0 -5.02 0 -5.02 0.5 -5.02 -0.5 -5.02 0 -5.02 -0.5 -5.02 0 -5.02 1 -5.02 -1 -5.02 0 -5.02 1 -5.02 -0.5 -5.02 0 -5.02 0.5 -5.02 0 -5.02 0 -5.02 -1 -5.02 0 -5.02 1 -5.02 -1 -5.02 1 -5.02 -1 -5.02 0 -5.02 0.5 -5.02 0 -5.02 0 -5.02 0 -5.02 0.5 -5.02 -1 -5.02 1 -5.02 -1 -5.02 1 -5.02 -1 -5.02 1 -5.02 -0.5 -5.02 -0.5 -5.02 0.5 -5.02 -0.5 -5.02 1 -5.02 -0.5 -5.02 0.5 -5.02 0 -5.02 -0.5 -5.02 0 -5.02 -0.5 -5.02 0.5 -5.02 0.5 -5.02 0 -5.02 -1 -5.02 0.5 -5.02 0.5 -5.02 0 -5.02 -1 -5.02 0.5 -5.02 -0.5 -5.02 0.5 -5.02 0.5 -5.02 0 -5.02 -1 -5.02 1 -5.02 -0.5 -5.02 0.5 -5.02 0 -5.02 -1 -5.02 1 -5.02 0 -5.02 -0.5 -5.02 -0.5Z" fill="#221C84"/>
<path d="M832.6 1352.5V1325.8h3.2V1352.5ZM1078.4 1352.5V1339.7h3.2V1352.5Z" fill="#221C84"/>
<line x1="780.1" y1="1356.6" x2="1733" y2="1356.6" stroke="#000" stroke-width="3"/>
<line x1="1025.3" y1="1357" x2="1025.3" y2="1361" stroke="#000" stroke-width="3"/>
<text x="1025.3" y="1374.5" font-size="17.5" text-anchor="middle" font-family="Liberation Sans, Arial, sans-serif">1 Gb</text>
<line x1="1226.3" y1="1357" x2="1226.3" y2="1361" stroke="#000" stroke-width="3"/>
<text x="1226.3" y="1374.5" font-size="17.5" text-anchor="middle" font-family="Liberation Sans, Arial, sans-serif">2 Gb</text>
<line x1="1427.3" y1="1357" x2="1427.3" y2="1361" stroke="#000" stroke-width="3"/>
<text x="1427.3" y="1374.5" font-size="17.5" text-anchor="middle" font-family="Liberation Sans, Arial, sans-serif">3 Gb</text>
<line x1="1628.3" y1="1357" x2="1628.3" y2="1361" stroke="#000" stroke-width="3"/>
<text x="1628.3" y="1374.5" font-size="17.5" text-anchor="middle" font-family="Liberation Sans, Arial, sans-serif">4 Gb</text>
<text transform="translate(749.8 914.5) rotate(-90)" font-size="21.4" text-anchor="middle" font-family="Liberation Sans, Arial, sans-serif">LTR count</text>
<text x="1527.0" y="1221.3" font-size="23.5" font-family="Liberation Sans, Arial, sans-serif">LTR type</text>
<line x1="1525" y1="1251.4" x2="1610" y2="1251.4" stroke="#A3282C" stroke-width="3"/>
<line x1="1525" y1="1287.4" x2="1610" y2="1287.4" stroke="#221C84" stroke-width="3"/>
<text x="1624.5" y="1257.9" font-size="25.5" font-family="Liberation Sans, Arial, sans-serif" font-style="italic">Gypsy</text>
<text x="1624.5" y="1294.4" font-size="25.5" font-family="Liberation Sans, Arial, sans-serif" font-style="italic">Copia</text>
<rect x="1179" y="1295.7" width="67.6" height="49.1" fill="none" stroke="#888" stroke-width="2.2" stroke-dasharray="7 4"/>
<path d="M1179 1344.8 L781 1418 M1246.6 1344.8 L1746 1418" fill="none" stroke="#A0A0A0" stroke-width="2.6" stroke-dasharray="26 9"/>
<polyline points="857.5,1704.9 877.4,1652.4 885.0,1647.5 892.6,1496.8 893.5,1711.3 897.6,1530.4 897.9,1630.6 905.3,1679.8 916.1,1722.6 930.5,1677.1 948.8,1691.9 963.6,1635.4 964.1,1675.8 1017.7,1583.7 1051.8,1681.0 1125.3,1702.4 1174.2,1721.0 1224.9,1687.4 1252.9,1717.5 1265.8,1690.6 1271.8,1687.1 1284.5,1645.9 1284.7,1645.9 1298.1,1710.5 1315.5,1729.9 1337.7,1437.6 1347.5,1611.7 1364.0,1657.2 1372.4,1729.9 1381.7,1639.8 1404.0,1678.2 1408.4,1649.9 1451.5,1664.2 1457.6,1448.1 1468.6,1568.7 1473.0,1677.4 1494.8,1663.7 1498.0,1686.3 1498.3,1717.0 1541.2,1533.3 1560.2,1704.9 1575.6,1706.5 1588.5,1694.4 1607.4,1625.7 1615.4,1658.8 1631.3,1627.3 1673.3,1686.3" fill="none" stroke="#C1272D" stroke-width="1.5" stroke-linejoin="round"/>
<polyline points="989.5,1660.4 1047.3,1606.8 1546.5,1608.0 1624.0,1553.9" fill="none" stroke="#EBA52B" stroke-width="1.5" stroke-linejoin="round"/>
<polyline points="1078.9,1727.5 1412.4,1609.6 1459.3,1659.6 1591.7,1708.1" fill="none" stroke="#BEDD36" stroke-width="1.5" stroke-linejoin="round"/>
<polyline points="970.6,1662.5 1418.9,1614.1 1525.5,1703.2 1527.9,1703.2 1611.6,1686.3" fill="none" stroke="#47C4B0" stroke-width="1.5" stroke-linejoin="round"/>
<polyline points="823.6,1570.5 864.0,1561.1 886.9,1573.2 891.1,1596.7 988.3,1628.1 1009.3,1665.3 1019.8,1633.8 1083.0,1657.2 1085.4,1556.6 1120.0,1554.7 1145.8,1463.4 1306.3,1513.0 1346.5,1562.7 1398.4,1676.6 1426.2,1712.9 1492.4,1604.4 1558.6,1629.8 1562.2,1573.7 1611.4,1620.6 1649.0,1564.4 1655.5,1691.9 1695.1,1703.6" fill="none" stroke="#2A93F3" stroke-width="1.5" stroke-linejoin="round"/>
<polyline points="827.6,1587.4 832.0,1725.9 836.2,1610.9 858.3,1599.6 866.7,1667.4 915.3,1687.1 921.6,1653.5 929.7,1716.2 934.7,1635.4 941.5,1608.4 948.0,1656.4 949.6,1601.5 950.9,1729.1 951.2,1685.5 952.5,1729.3 955.4,1727.9 957.2,1698.7 958.5,1687.1 959.5,1710.0 961.0,1716.8 961.8,1699.9 962.8,1685.9 963.1,1726.6 963.4,1681.8 963.7,1687.3 965.3,1718.7 966.0,1719.5 967.0,1727.9 967.6,1693.9 968.9,1733.1 971.2,1735.5 971.2,1708.8 971.9,1725.5 972.2,1628.1 974.2,1731.9 974.6,1641.1 974.8,1681.9 975.3,1683.7 975.7,1686.1 975.8,1704.0 976.1,1730.5 976.3,1693.9 977.5,1694.8 977.5,1686.0 977.9,1732.9 979.1,1698.3 979.1,1732.6 979.3,1705.8 979.3,1731.0 980.8,1718.9 983.6,1718.1 983.7,1713.5 984.3,1616.0 984.4,1735.2 984.5,1735.2 984.7,1734.2 984.8,1713.3 985.1,1683.6 985.4,1689.4 985.4,1734.8 986.3,1717.9 988.6,1711.5 989.8,1713.2 992.0,1614.4 996.4,1650.8 998.8,1729.1 999.6,1625.7 1003.7,1650.8 1011.8,1709.7 1014.2,1692.7 1036.8,1648.3 1037.6,1687.1 1038.1,1648.3 1038.6,1687.9 1047.4,1718.1 1063.1,1688.7 1063.1,1700.0 1063.1,1708.1 1063.1,1712.9 1064.7,1694.4 1107.8,1616.8 1108.3,1667.7 1124.0,1723.4 1126.4,1635.7 1133.0,1721.8 1136.3,1637.4 1136.6,1697.9 1157.3,1676.1 1174.2,1598.3 1188.6,1678.2 1227.4,1702.4 1227.8,1649.6 1234.8,1667.7 1235.4,1587.8 1235.4,1724.2 1241.6,1652.0 1255.3,1617.2 1284.0,1718.6 1284.5,1717.8 1284.8,1658.0 1285.2,1658.0 1288.9,1730.7 1297.4,1640.3 1297.4,1663.7 1301.0,1670.1 1302.3,1717.8 1311.2,1681.4 1321.2,1725.9 1334.6,1712.9 1344.3,1665.3 1355.1,1670.1 1356.7,1721.8 1357.2,1663.7 1357.5,1680.6 1358.0,1729.1 1361.6,1708.1 1364.8,1662.9 1397.6,1729.1 1419.7,1685.5 1435.0,1731.5 1463.8,1655.6 1465.4,1696.0 1482.2,1725.0 1486.4,1707.3 1517.1,1659.6 1517.4,1660.4 1520.1,1736.4 1520.2,1737.2 1523.9,1703.2 1535.2,1693.6 1537.6,1725.0 1538.4,1686.3 1558.6,1624.9 1565.1,1689.5 1565.1,1722.6 1565.1,1737.2 1568.3,1638.6 1570.7,1658.0 1571.2,1637.0 1576.0,1595.0 1578.8,1682.2 1590.9,1626.5 1609.0,1647.5 1619.2,1624.1 1620.0,1619.3 1620.8,1607.2 1624.0,1716.2 1624.8,1736.4 1628.3,1735.3 1628.7,1728.5 1629.0,1723.6 1629.1,1689.7 1629.7,1736.4 1630.0,1732.8 1630.5,1685.5 1634.1,1708.2 1636.1,1730.2 1636.1,1708.7 1636.6,1707.4 1636.8,1715.7 1638.6,1696.1 1638.7,1690.6 1639.2,1708.7 1639.8,1716.7 1639.9,1732.6 1641.6,1711.0 1642.1,1712.9 1642.6,1703.9 1642.7,1735.8 1643.1,1710.6 1643.8,1725.0 1644.3,1714.8 1644.5,1702.2 1645.1,1709.4 1645.3,1722.8 1647.4,1735.2 1647.5,1722.1 1647.7,1714.5 1648.2,1727.6 1648.4,1735.6 1649.0,1564.4 1649.6,1719.6 1649.8,1583.7 1650.4,1729.9 1652.8,1701.7 1653.1,1731.1 1653.7,1680.9 1653.9,1570.8 1654.2,1723.8 1654.7,1728.2 1655.6,1707.9 1655.8,1709.8 1656.6,1699.1 1656.7,1711.0 1656.8,1555.0 1657.4,1717.2 1657.7,1689.6 1658.2,1722.8 1659.1,1646.7 1659.1,1719.8 1659.1,1719.5 1659.7,1736.0 1659.9,1711.6 1660.7,1694.3 1661.2,1728.3 1663.0,1731.8 1664.2,1684.5 1665.2,1707.0 1665.5,1641.1 1665.7,1704.9 1665.8,1711.2 1665.8,1731.8 1665.9,1724.6 1666.0,1687.5 1667.1,1715.9 1668.1,1700.1 1669.3,1736.7 1669.5,1716.5 1670.0,1712.9 1670.2,1722.0 1670.4,1726.6 1671.2,1699.0 1671.3,1733.8 1671.5,1703.9 1672.1,1719.0 1672.5,1643.5 1673.8,1719.6 1674.6,1736.4 1676.2,1624.9 1682.1,1724.2 1684.6,1583.7 1687.8,1712.9 1689.4,1645.1 1696.7,1619.3 1701.5,1616.0 1701.5,1626.5 1701.5,1635.4 1701.5,1641.1" fill="none" stroke="#13367A" stroke-width="1.5" stroke-linejoin="round"/>
<polyline points="846.5,1660.0 920.5,1729.9 932.3,1729.9 956.0,1709.7 1021.4,1706.5 1025.5,1667.7 1184.7,1553.5 1185.8,1563.1 1294.5,1685.5 1308.7,1633.8 1458.0,1564.4 1540.8,1737.2 1573.9,1729.9 1679.7,1709.7" fill="none" stroke="#AFB5B5" stroke-width="1.5" stroke-linejoin="round"/>
<g fill="#C1272D"><circle cx="857.5" cy="1704.9" r="4"/><circle cx="877.4" cy="1652.4" r="4"/><circle cx="885.0" cy="1647.5" r="4"/><circle cx="892.6" cy="1496.8" r="4"/><circle cx="893.5" cy="1711.3" r="4"/><circle cx="897.6" cy="1530.4" r="4"/><circle cx="897.9" cy="1630.6" r="4"/><circle cx="905.3" cy="1679.8" r="4"/><circle cx="916.1" cy="1722.6" r="4"/><circle cx="930.5" cy="1677.1" r="4"/><circle cx="948.8" cy="1691.9" r="4"/><circle cx="963.6" cy="1635.4" r="4"/><circle cx="964.1" cy="1675.8" r="4"/><circle cx="1017.7" cy="1583.7" r="4"/><circle cx="1051.8" cy="1681.0" r="4"/><circle cx="1125.3" cy="1702.4" r="4"/><circle cx="1174.2" cy="1721.0" r="4"/><circle cx="1224.9" cy="1687.4" r="4"/><circle cx="1252.9" cy="1717.5" r="4"/><circle cx="1265.8" cy="1690.6" r="4"/><circle cx="1271.8" cy="1687.1" r="4"/><circle cx="1284.7" cy="1645.9" r="4"/><circle cx="1284.5" cy="1645.9" r="4"/><circle cx="1298.1" cy="1710.5" r="4"/><circle cx="1315.5" cy="1729.9" r="4"/><circle cx="1337.7" cy="1437.6" r="4"/><circle cx="1347.5" cy="1611.7" r="4"/><circle cx="1364.0" cy="1657.2" r="4"/><circle cx="1372.4" cy="1729.9" r="4"/><circle cx="1381.7" cy="1639.8" r="4"/><circle cx="1404.0" cy="1678.2" r="4"/><circle cx="1408.4" cy="1649.9" r="4"/><circle cx="1451.5" cy="1664.2" r="4"/><circle cx="1457.6" cy="1448.1" r="4"/><circle cx="1468.6" cy="1568.7" r="4"/><circle cx="1473.0" cy="1677.4" r="4"/><circle cx="1494.8" cy="1663.7" r="4"/><circle cx="1498.0" cy="1686.3" r="4"/><circle cx="1498.3" cy="1717.0" r="4"/><circle cx="1541.2" cy="1533.3" r="4"/><circle cx="1560.2" cy="1704.9" r="4"/><circle cx="1575.6" cy="1706.5" r="4"/><circle cx="1588.5" cy="1694.4" r="4"/><circle cx="1607.4" cy="1625.7" r="4"/><circle cx="1615.4" cy="1658.8" r="4"/><circle cx="1631.3" cy="1627.3" r="4"/><circle cx="1673.3" cy="1686.3" r="4"/></g>
<g fill="#EBA52B"><circle cx="989.5" cy="1660.4" r="4"/><circle cx="1047.3" cy="1606.8" r="4"/><circle cx="1546.5" cy="1608.0" r="4"/><circle cx="1624.0" cy="1553.9" r="4"/></g>
<g fill="#BEDD36"><circle cx="1078.9" cy="1727.5" r="4"/><circle cx="1412.4" cy="1609.6" r="4"/><circle cx="1459.3" cy="1659.6" r="4"/><circle cx="1591.7" cy="1708.1" r="4"/></g>
<g fill="#47C4B0"><circle cx="970.6" cy="1662.5" r="4"/><circle cx="1418.9" cy="1614.1" r="4"/><circle cx="1525.5" cy="1703.2" r="4"/><circle cx="1527.9" cy="1703.2" r="4"/><circle cx="1611.6" cy="1686.3" r="4"/></g>
<g fill="#2A93F3"><circle cx="823.6" cy="1570.5" r="4"/><circle cx="864.0" cy="1561.1" r="4"/><circle cx="886.9" cy="1573.2" r="4"/><circle cx="891.1" cy="1596.7" r="4"/><circle cx="988.3" cy="1628.1" r="4"/><circle cx="1009.3" cy="1665.3" r="4"/><circle cx="1019.8" cy="1633.8" r="4"/><circle cx="1083.0" cy="1657.2" r="4"/><circle cx="1085.4" cy="1556.6" r="4"/><circle cx="1120.0" cy="1554.7" r="4"/><circle cx="1145.8" cy="1463.4" r="4"/><circle cx="1306.3" cy="1513.0" r="4"/><circle cx="1346.5" cy="1562.7" r="4"/><circle cx="1398.4" cy="1676.6" r="4"/><circle cx="1426.2" cy="1712.9" r="4"/><circle cx="1492.4" cy="1604.4" r="4"/><circle cx="1558.6" cy="1629.8" r="4"/><circle cx="1562.2" cy="1573.7" r="4"/><circle cx="1611.4" cy="1620.6" r="4"/><circle cx="1649.0" cy="1564.4" r="4"/><circle cx="1655.5" cy="1691.9" r="4"/><circle cx="1695.1" cy="1703.6" r="4"/></g>
<g fill="#13367A"><circle cx="827.6" cy="1587.4" r="4"/><circle cx="832.0" cy="1725.9" r="4"/><circle cx="836.2" cy="1610.9" r="4"/><circle cx="858.3" cy="1599.6" r="4"/><circle cx="866.7" cy="1667.4" r="4"/><circle cx="915.3" cy="1687.1" r="4"/><circle cx="921.6" cy="1653.5" r="4"/><circle cx="929.7" cy="1716.2" r="4"/><circle cx="934.7" cy="1635.4" r="4"/><circle cx="941.5" cy="1608.4" r="4"/><circle cx="948.0" cy="1656.4" r="4"/><circle cx="949.6" cy="1601.5" r="4"/><circle cx="950.9" cy="1729.1" r="4"/><circle cx="951.2" cy="1685.5" r="4"/><circle cx="958.5" cy="1687.1" r="4"/><circle cx="972.2" cy="1628.1" r="4"/><circle cx="974.6" cy="1641.1" r="4"/><circle cx="984.3" cy="1616.0" r="4"/><circle cx="992.0" cy="1614.4" r="4"/><circle cx="998.8" cy="1729.1" r="4"/><circle cx="999.6" cy="1625.7" r="4"/><circle cx="996.4" cy="1650.8" r="4"/><circle cx="1003.7" cy="1650.8" r="4"/><circle cx="1011.8" cy="1709.7" r="4"/><circle cx="1014.2" cy="1692.7" r="4"/><circle cx="1036.8" cy="1648.3" r="4"/><circle cx="1037.6" cy="1687.1" r="4"/><circle cx="961.0" cy="1716.8" r="4"/><circle cx="966.0" cy="1719.5" r="4"/><circle cx="975.7" cy="1686.1" r="4"/><circle cx="952.5" cy="1729.3" r="4"/><circle cx="961.8" cy="1699.9" r="4"/><circle cx="989.8" cy="1713.2" r="4"/><circle cx="983.7" cy="1713.5" r="4"/><circle cx="976.3" cy="1693.9" r="4"/><circle cx="976.1" cy="1730.5" r="4"/><circle cx="971.9" cy="1725.5" r="4"/><circle cx="977.5" cy="1686.0" r="4"/><circle cx="980.8" cy="1718.9" r="4"/><circle cx="963.4" cy="1681.8" r="4"/><circle cx="984.8" cy="1713.3" r="4"/><circle cx="979.3" cy="1731.0" r="4"/><circle cx="979.1" cy="1732.6" r="4"/><circle cx="967.0" cy="1727.9" r="4"/><circle cx="968.9" cy="1733.1" r="4"/><circle cx="985.4" cy="1689.4" r="4"/><circle cx="957.2" cy="1698.7" r="4"/><circle cx="988.6" cy="1711.5" r="4"/><circle cx="975.8" cy="1704.0" r="4"/><circle cx="971.2" cy="1708.8" r="4"/><circle cx="965.3" cy="1718.7" r="4"/><circle cx="974.2" cy="1731.9" r="4"/><circle cx="977.9" cy="1732.9" r="4"/><circle cx="984.5" cy="1735.2" r="4"/><circle cx="977.5" cy="1694.8" r="4"/><circle cx="984.7" cy="1734.2" r="4"/><circle cx="986.3" cy="1717.9" r="4"/><circle cx="979.1" cy="1698.3" r="4"/><circle cx="983.6" cy="1718.1" r="4"/><circle cx="962.8" cy="1685.9" r="4"/><circle cx="984.4" cy="1735.2" r="4"/><circle cx="955.4" cy="1727.9" r="4"/><circle cx="967.6" cy="1693.9" r="4"/><circle cx="963.1" cy="1726.6" r="4"/><circle cx="985.1" cy="1683.6" r="4"/><circle cx="975.3" cy="1683.7" r="4"/><circle cx="979.3" cy="1705.8" r="4"/><circle cx="985.4" cy="1734.8" r="4"/><circle cx="971.2" cy="1735.5" r="4"/><circle cx="963.7" cy="1687.3" r="4"/><circle cx="974.8" cy="1681.9" r="4"/><circle cx="959.5" cy="1710.0" r="4"/><circle cx="1038.1" cy="1648.3" r="4"/><circle cx="1038.6" cy="1687.9" r="4"/><circle cx="1047.4" cy="1718.1" r="4"/><circle cx="1063.1" cy="1688.7" r="4"/><circle cx="1064.7" cy="1694.4" r="4"/><circle cx="1063.1" cy="1700.0" r="4"/><circle cx="1063.1" cy="1708.1" r="4"/><circle cx="1063.1" cy="1712.9" r="4"/><circle cx="1107.8" cy="1616.8" r="4"/><circle cx="1108.3" cy="1667.7" r="4"/><circle cx="1124.0" cy="1723.4" r="4"/><circle cx="1126.4" cy="1635.7" r="4"/><circle cx="1133.0" cy="1721.8" r="4"/><circle cx="1136.3" cy="1637.4" r="4"/><circle cx="1136.6" cy="1697.9" r="4"/><circle cx="1157.3" cy="1676.1" r="4"/><circle cx="1174.2" cy="1598.3" r="4"/><circle cx="1188.6" cy="1678.2" r="4"/><circle cx="1227.4" cy="1702.4" r="4"/><circle cx="1227.8" cy="1649.6" r="4"/><circle cx="1234.8" cy="1667.7" r="4"/><circle cx="1235.4" cy="1587.8" r="4"/><circle cx="1235.4" cy="1724.2" r="4"/><circle cx="1241.6" cy="1652.0" r="4"/><circle cx="1255.3" cy="1617.2" r="4"/><circle cx="1284.0" cy="1718.6" r="4"/><circle cx="1285.2" cy="1658.0" r="4"/><circle cx="1284.8" cy="1658.0" r="4"/><circle cx="1284.5" cy="1717.8" r="4"/><circle cx="1288.9" cy="1730.7" r="4"/><circle cx="1297.4" cy="1640.3" r="4"/><circle cx="1297.4" cy="1663.7" r="4"/><circle cx="1301.0" cy="1670.1" r="4"/><circle cx="1302.3" cy="1717.8" r="4"/><circle cx="1311.2" cy="1681.4" r="4"/><circle cx="1321.2" cy="1725.9" r="4"/><circle cx="1334.6" cy="1712.9" r="4"/><circle cx="1344.3" cy="1665.3" r="4"/><circle cx="1355.1" cy="1670.1" r="4"/><circle cx="1357.2" cy="1663.7" r="4"/><circle cx="1357.5" cy="1680.6" r="4"/><circle cx="1356.7" cy="1721.8" r="4"/><circle cx="1358.0" cy="1729.1" r="4"/><circle cx="1361.6" cy="1708.1" r="4"/><circle cx="1364.8" cy="1662.9" r="4"/><circle cx="1397.6" cy="1729.1" r="4"/><circle cx="1419.7" cy="1685.5" r="4"/><circle cx="1435.0" cy="1731.5" r="4"/><circle cx="1463.8" cy="1655.6" r="4"/><circle cx="1465.4" cy="1696.0" r="4"/><circle cx="1482.2" cy="1725.0" r="4"/><circle cx="1486.4" cy="1707.3" r="4"/><circle cx="1517.1" cy="1659.6" r="4"/><circle cx="1520.1" cy="1736.4" r="4"/><circle cx="1517.4" cy="1660.4" r="4"/><circle cx="1520.2" cy="1737.2" r="4"/><circle cx="1523.9" cy="1703.2" r="4"/><circle cx="1535.2" cy="1693.6" r="4"/><circle cx="1538.4" cy="1686.3" r="4"/><circle cx="1537.6" cy="1725.0" r="4"/><circle cx="1558.6" cy="1624.9" r="4"/><circle cx="1565.1" cy="1689.5" r="4"/><circle cx="1565.1" cy="1737.2" r="4"/><circle cx="1565.1" cy="1722.6" r="4"/><circle cx="1568.3" cy="1638.6" r="4"/><circle cx="1571.2" cy="1637.0" r="4"/><circle cx="1570.7" cy="1658.0" r="4"/><circle cx="1576.0" cy="1595.0" r="4"/><circle cx="1578.8" cy="1682.2" r="4"/><circle cx="1590.9" cy="1626.5" r="4"/><circle cx="1609.0" cy="1647.5" r="4"/><circle cx="1620.8" cy="1607.2" r="4"/><circle cx="1620.0" cy="1619.3" r="4"/><circle cx="1619.2" cy="1624.1" r="4"/><circle cx="1624.0" cy="1716.2" r="4"/><circle cx="1624.8" cy="1736.4" r="4"/><circle cx="1630.5" cy="1685.5" r="4"/><circle cx="1629.7" cy="1736.4" r="4"/><circle cx="1649.8" cy="1583.7" r="4"/><circle cx="1653.9" cy="1570.8" r="4"/><circle cx="1656.8" cy="1555.0" r="4"/><circle cx="1649.0" cy="1564.4" r="4"/><circle cx="1659.1" cy="1646.7" r="4"/><circle cx="1665.5" cy="1641.1" r="4"/><circle cx="1672.5" cy="1643.5" r="4"/><circle cx="1676.2" cy="1624.9" r="4"/><circle cx="1674.6" cy="1736.4" r="4"/><circle cx="1684.6" cy="1583.7" r="4"/><circle cx="1689.4" cy="1645.1" r="4"/><circle cx="1687.8" cy="1712.9" r="4"/><circle cx="1682.1" cy="1724.2" r="4"/><circle cx="1696.7" cy="1619.3" r="4"/><circle cx="1701.5" cy="1616.0" r="4"/><circle cx="1701.5" cy="1626.5" r="4"/><circle cx="1701.5" cy="1635.4" r="4"/><circle cx="1701.5" cy="1641.1" r="4"/><circle cx="1656.6" cy="1699.1" r="4"/><circle cx="1630.0" cy="1732.8" r="4"/><circle cx="1642.7" cy="1735.8" r="4"/><circle cx="1670.0" cy="1712.9" r="4"/><circle cx="1649.6" cy="1719.6" r="4"/><circle cx="1658.2" cy="1722.8" r="4"/><circle cx="1654.2" cy="1723.8" r="4"/><circle cx="1672.1" cy="1719.0" r="4"/><circle cx="1648.2" cy="1727.6" r="4"/><circle cx="1639.2" cy="1708.7" r="4"/><circle cx="1673.8" cy="1719.6" r="4"/><circle cx="1653.7" cy="1680.9" r="4"/><circle cx="1647.5" cy="1722.1" r="4"/><circle cx="1629.0" cy="1723.6" r="4"/><circle cx="1657.7" cy="1689.6" r="4"/><circle cx="1657.4" cy="1717.2" r="4"/><circle cx="1659.9" cy="1711.6" r="4"/><circle cx="1661.2" cy="1728.3" r="4"/><circle cx="1629.1" cy="1689.7" r="4"/><circle cx="1659.7" cy="1736.0" r="4"/><circle cx="1639.8" cy="1716.7" r="4"/><circle cx="1655.8" cy="1709.8" r="4"/><circle cx="1645.1" cy="1709.4" r="4"/><circle cx="1645.3" cy="1722.8" r="4"/><circle cx="1642.1" cy="1712.9" r="4"/><circle cx="1664.2" cy="1684.5" r="4"/><circle cx="1654.7" cy="1728.2" r="4"/><circle cx="1642.6" cy="1703.9" r="4"/><circle cx="1665.7" cy="1704.9" r="4"/><circle cx="1636.8" cy="1715.7" r="4"/><circle cx="1660.7" cy="1694.3" r="4"/><circle cx="1643.1" cy="1710.6" r="4"/><circle cx="1667.1" cy="1715.9" r="4"/><circle cx="1668.1" cy="1700.1" r="4"/><circle cx="1643.8" cy="1725.0" r="4"/><circle cx="1669.5" cy="1716.5" r="4"/><circle cx="1638.6" cy="1696.1" r="4"/><circle cx="1652.8" cy="1701.7" r="4"/><circle cx="1665.8" cy="1731.8" r="4"/><circle cx="1636.6" cy="1707.4" r="4"/><circle cx="1665.9" cy="1724.6" r="4"/><circle cx="1665.8" cy="1711.2" r="4"/><circle cx="1634.1" cy="1708.2" r="4"/><circle cx="1665.2" cy="1707.0" r="4"/><circle cx="1644.3" cy="1714.8" r="4"/><circle cx="1647.7" cy="1714.5" r="4"/><circle cx="1671.2" cy="1699.0" r="4"/><circle cx="1628.3" cy="1735.3" r="4"/><circle cx="1669.3" cy="1736.7" r="4"/><circle cx="1648.4" cy="1735.6" r="4"/><circle cx="1671.5" cy="1703.9" r="4"/><circle cx="1663.0" cy="1731.8" r="4"/><circle cx="1659.1" cy="1719.5" r="4"/><circle cx="1641.6" cy="1711.0" r="4"/><circle cx="1638.7" cy="1690.6" r="4"/><circle cx="1655.6" cy="1707.9" r="4"/><circle cx="1666.0" cy="1687.5" r="4"/><circle cx="1670.4" cy="1726.6" r="4"/><circle cx="1671.3" cy="1733.8" r="4"/><circle cx="1670.2" cy="1722.0" r="4"/><circle cx="1628.7" cy="1728.5" r="4"/><circle cx="1636.1" cy="1708.7" r="4"/><circle cx="1659.1" cy="1719.8" r="4"/><circle cx="1647.4" cy="1735.2" r="4"/><circle cx="1656.7" cy="1711.0" r="4"/><circle cx="1639.9" cy="1732.6" r="4"/><circle cx="1650.4" cy="1729.9" r="4"/><circle cx="1644.5" cy="1702.2" r="4"/><circle cx="1653.1" cy="1731.1" r="4"/><circle cx="1636.1" cy="1730.2" r="4"/></g>
<g fill="#AFB5B5"><circle cx="846.5" cy="1660.0" r="4"/><circle cx="920.5" cy="1729.9" r="4"/><circle cx="932.3" cy="1729.9" r="4"/><circle cx="956.0" cy="1709.7" r="4"/><circle cx="1021.4" cy="1706.5" r="4"/><circle cx="1025.5" cy="1667.7" r="4"/><circle cx="1184.7" cy="1553.5" r="4"/><circle cx="1185.8" cy="1563.1" r="4"/><circle cx="1294.5" cy="1685.5" r="4"/><circle cx="1308.7" cy="1633.8" r="4"/><circle cx="1458.0" cy="1564.4" r="4"/><circle cx="1540.8" cy="1737.2" r="4"/><circle cx="1573.9" cy="1729.9" r="4"/><circle cx="1679.7" cy="1709.7" r="4"/></g>
<path d="M827.6 1745V1761M832.0 1745V1761M836.2 1745V1761M858.3 1745V1761M866.7 1745V1761M915.3 1745V1761M921.6 1745V1761M929.7 1745V1761M934.7 1745V1761M941.5 1745V1761M948.0 1745V1761M949.6 1745V1761M950.9 1745V1761M951.2 1745V1761M958.5 1745V1761M972.2 1745V1761M974.6 1745V1761M984.3 1745V1761M992.0 1745V1761M998.8 1745V1761M999.6 1745V1761M996.4 1745V1761M1003.7 1745V1761M1011.8 1745V1761M1014.2 1745V1761M1036.8 1745V1761M1037.6 1745V1761M961.0 1745V1761M966.0 1745V1761M975.7 1745V1761M952.5 1745V1761M961.8 1745V1761M989.8 1745V1761M983.7 1745V1761M976.3 1745V1761M976.1 1745V1761M971.9 1745V1761M977.5 1745V1761M980.8 1745V1761M963.4 1745V1761M984.8 1745V1761M979.3 1745V1761M979.1 1745V1761M967.0 1745V1761M968.9 1745V1761M985.4 1745V1761M957.2 1745V1761M988.6 1745V1761M975.8 1745V1761M971.2 1745V1761M965.3 1745V1761M974.2 1745V1761M977.9 1745V1761M984.5 1745V1761M977.5 1745V1761M984.7 1745V1761M986.3 1745V1761M979.1 1745V1761M983.6 1745V1761M962.8 1745V1761M984.4 1745V1761M955.4 1745V1761M967.6 1745V1761M963.1 1745V1761M985.1 1745V1761M975.3 1745V1761M979.3 1745V1761M985.4 1745V1761M971.2 1745V1761M963.7 1745V1761M974.8 1745V1761M959.5 1745V1761M1038.1 1745V1761M1038.6 1745V1761M1047.4 1745V1761M1063.1 1745V1761M1064.7 1745V1761M1063.1 1745V1761M1063.1 1745V1761M1063.1 1745V1761M1107.8 1745V1761M1108.3 1745V1761M1124.0 1745V1761M1126.4 1745V1761M1133.0 1745V1761M1136.3 1745V1761M1136.6 1745V1761M1157.3 1745V1761M1174.2 1745V1761M1188.6 1745V1761M1227.4 1745V1761M1227.8 1745V1761M1234.8 1745V1761M1235.4 1745V1761M1235.4 1745V1761M1241.6 1745V1761M1255.3 1745V1761M1284.0 1745V1761M1285.2 1745V1761M1284.8 1745V1761M1284.5 1745V1761M1288.9 1745V1761M1297.4 1745V1761M1297.4 1745V1761M1301.0 1745V1761M1302.3 1745V1761M1311.2 1745V1761M1321.2 1745V1761M1334.6 1745V1761M1344.3 1745V1761M1355.1 1745V1761M1357.2 1745V1761M1357.5 1745V1761M1356.7 1745V1761M1358.0 1745V1761M1361.6 1745V1761M1364.8 1745V1761M1397.6 1745V1761M1419.7 1745V1761M1435.0 1745V1761M1463.8 1745V1761M1465.4 1745V1761M1482.2 1745V1761M1486.4 1745V1761M1517.1 1745V1761M1520.1 1745V1761M1517.4 1745V1761M1520.2 1745V1761M1523.9 1745V1761M1535.2 1745V1761M1538.4 1745V1761M1537.6 1745V1761M1558.6 1745V1761M1565.1 1745V1761M1565.1 1745V1761M1565.1 1745V1761M1568.3 1745V1761M1571.2 1745V1761M1570.7 1745V1761M1576.0 1745V1761M1578.8 1745V1761M1590.9 1745V1761M1609.0 1745V1761M1620.8 1745V1761M1620.0 1745V1761M1619.2 1745V1761M1624.0 1745V1761M1624.8 1745V1761M1630.5 1745V1761M1629.7 1745V1761M1649.8 1745V1761M1653.9 1745V1761M1656.8 1745V1761M1649.0 1745V1761M1659.1 1745V1761M1665.5 1745V1761M1672.5 1745V1761M1676.2 1745V1761M1674.6 1745V1761M1684.6 1745V1761M1689.4 1745V1761M1687.8 1745V1761M1682.1 1745V1761M1696.7 1745V1761M1701.5 1745V1761M1701.5 1745V1761M1701.5 1745V1761M1701.5 1745V1761M1656.6 1745V1761M1630.0 1745V1761M1642.7 1745V1761M1670.0 1745V1761M1649.6 1745V1761M1658.2 1745V1761M1654.2 1745V1761M1672.1 1745V1761M1648.2 1745V1761M1639.2 1745V1761M1673.8 1745V1761M1653.7 1745V1761M1647.5 1745V1761M1629.0 1745V1761M1657.7 1745V1761M1657.4 1745V1761M1659.9 1745V1761M1661.2 1745V1761M1629.1 1745V1761M1659.7 1745V1761M1639.8 1745V1761M1655.8 1745V1761M1645.1 1745V1761M1645.3 1745V1761M1642.1 1745V1761M1664.2 1745V1761M1654.7 1745V1761M1642.6 1745V1761M1665.7 1745V1761M1636.8 1745V1761M1660.7 1745V1761M1643.1 1745V1761M1667.1 1745V1761M1668.1 1745V1761M1643.8 1745V1761M1669.5 1745V1761M1638.6 1745V1761M1652.8 1745V1761M1665.8 1745V1761M1636.6 1745V1761M1665.9 1745V1761M1665.8 1745V1761M1634.1 1745V1761M1665.2 1745V1761M1644.3 1745V1761M1647.7 1745V1761M1671.2 1745V1761M1628.3 1745V1761M1669.3 1745V1761M1648.4 1745V1761M1671.5 1745V1761M1663.0 1745V1761M1659.1 1745V1761M1641.6 1745V1761M1638.7 1745V1761M1655.6 1745V1761M1666.0 1745V1761M1670.4 1745V1761M1671.3 1745V1761M1670.2 1745V1761M1628.7 1745V1761M1636.1 1745V1761M1659.1 1745V1761M1647.4 1745V1761M1656.7 1745V1761M1639.9 1745V1761M1650.4 1745V1761M1644.5 1745V1761M1653.1 1745V1761M1636.1 1745V1761" stroke="#13367A" stroke-width="1" stroke-opacity="0.6" fill="none"/>
<path d="M857.5 1769.5V1784M877.4 1769.5V1784M885.0 1769.5V1784M892.6 1769.5V1784M893.5 1769.5V1784M897.6 1769.5V1784M897.9 1769.5V1784M905.3 1769.5V1784M916.1 1769.5V1784M930.5 1769.5V1784M948.8 1769.5V1784M963.6 1769.5V1784M964.1 1769.5V1784M1017.7 1769.5V1784M1051.8 1769.5V1784M1125.3 1769.5V1784M1174.2 1769.5V1784M1224.9 1769.5V1784M1252.9 1769.5V1784M1265.8 1769.5V1784M1271.8 1769.5V1784M1284.7 1769.5V1784M1284.5 1769.5V1784M1298.1 1769.5V1784M1315.5 1769.5V1784M1337.7 1769.5V1784M1347.5 1769.5V1784M1364.0 1769.5V1784M1372.4 1769.5V1784M1381.7 1769.5V1784M1404.0 1769.5V1784M1408.4 1769.5V1784M1451.5 1769.5V1784M1457.6 1769.5V1784M1468.6 1769.5V1784M1473.0 1769.5V1784M1494.8 1769.5V1784M1498.0 1769.5V1784M1498.3 1769.5V1784M1541.2 1769.5V1784M1560.2 1769.5V1784M1575.6 1769.5V1784M1588.5 1769.5V1784M1607.4 1769.5V1784M1615.4 1769.5V1784M1631.3 1769.5V1784M1673.3 1769.5V1784" stroke="#C1272D" stroke-width="1" stroke-opacity="0.5" fill="none"/>
<path d="M823.6 1792.4V1808.8M864.0 1792.4V1808.8M886.9 1792.4V1808.8M891.1 1792.4V1808.8M988.3 1792.4V1808.8M1009.3 1792.4V1808.8M1019.8 1792.4V1808.8M1083.0 1792.4V1808.8M1085.4 1792.4V1808.8M1120.0 1792.4V1808.8M1145.8 1792.4V1808.8M1306.3 1792.4V1808.8M1346.5 1792.4V1808.8M1398.4 1792.4V1808.8M1426.2 1792.4V1808.8M1492.4 1792.4V1808.8M1558.6 1792.4V1808.8M1562.2 1792.4V1808.8M1611.4 1792.4V1808.8M1649.0 1792.4V1808.8M1655.5 1792.4V1808.8M1695.1 1792.4V1808.8M846.5 1792.4V1808.8M920.5 1792.4V1808.8M932.3 1792.4V1808.8M956.0 1792.4V1808.8M1021.4 1792.4V1808.8M1025.5 1792.4V1808.8M1184.7 1792.4V1808.8M1185.8 1792.4V1808.8M1294.5 1792.4V1808.8M1308.7 1792.4V1808.8M1458.0 1792.4V1808.8M1540.8 1792.4V1808.8M1573.9 1792.4V1808.8M1679.7 1792.4V1808.8M989.5 1792.4V1808.8M1047.3 1792.4V1808.8M1546.5 1792.4V1808.8M1624.0 1792.4V1808.8M1078.9 1792.4V1808.8M1412.4 1792.4V1808.8M1459.3 1792.4V1808.8M1591.7 1792.4V1808.8M970.6 1792.4V1808.8M1418.9 1792.4V1808.8M1525.5 1792.4V1808.8M1527.9 1792.4V1808.8M1611.6 1792.4V1808.8M1241.4 1792.4V1808.8M1162.5 1792.4V1808.8M955.9 1792.4V1808.8M1596.6 1792.4V1808.8M839.7 1792.4V1808.8M1276.4 1792.4V1808.8M1624.5 1792.4V1808.8M905.1 1792.4V1808.8M1321.8 1792.4V1808.8M1376.7 1792.4V1808.8M870.0 1792.4V1808.8M1167.5 1792.4V1808.8M1453.1 1792.4V1808.8M1231.8 1792.4V1808.8M1472.1 1792.4V1808.8M972.3 1792.4V1808.8M1043.5 1792.4V1808.8M931.6 1792.4V1808.8M1279.5 1792.4V1808.8M1647.0 1792.4V1808.8M1353.6 1792.4V1808.8M1515.3 1792.4V1808.8M1171.6 1792.4V1808.8M1490.6 1792.4V1808.8M923.5 1792.4V1808.8M1090.2 1792.4V1808.8M1427.3 1792.4V1808.8M1472.6 1792.4V1808.8M1205.1 1792.4V1808.8M911.2 1792.4V1808.8M1068.7 1792.4V1808.8M1018.7 1792.4V1808.8M1081.4 1792.4V1808.8M1546.4 1792.4V1808.8M1009.5 1792.4V1808.8M1614.0 1792.4V1808.8M1607.8 1792.4V1808.8M882.2 1792.4V1808.8M1167.4 1792.4V1808.8M1266.7 1792.4V1808.8" stroke="#5AA8EE" stroke-width="1" stroke-opacity="0.5" fill="none"/>
<line x1="779.9" y1="1418" x2="779.9" y2="1826.7" stroke="#000" stroke-width="3"/>
<line x1="778.4" y1="1825.2" x2="1746" y2="1825.2" stroke="#000" stroke-width="3"/>
<path d="M781 1418 H1746 V1825" fill="none" stroke="#888" stroke-width="2.2" stroke-dasharray="7 4"/>
<line x1="775" y1="1799.9" x2="779" y2="1799.9" stroke="#000" stroke-width="3"/>
<text x="772.5" y="1806.2" font-size="17.5" text-anchor="end" font-family="Liberation Sans, Arial, sans-serif">−1</text>
<line x1="775" y1="1736.8" x2="779" y2="1736.8" stroke="#000" stroke-width="3"/>
<text x="772.5" y="1743.1" font-size="17.5" text-anchor="end" font-family="Liberation Sans, Arial, sans-serif">0</text>
<line x1="775" y1="1673.7" x2="779" y2="1673.7" stroke="#000" stroke-width="3"/>
<text x="772.5" y="1680.0" font-size="17.5" text-anchor="end" font-family="Liberation Sans, Arial, sans-serif">1</text>
<line x1="775" y1="1610.6" x2="779" y2="1610.6" stroke="#000" stroke-width="3"/>
<text x="772.5" y="1616.9" font-size="17.5" text-anchor="end" font-family="Liberation Sans, Arial, sans-serif">2</text>
<line x1="775" y1="1547.5" x2="779" y2="1547.5" stroke="#000" stroke-width="3"/>
<text x="772.5" y="1553.8" font-size="17.5" text-anchor="end" font-family="Liberation Sans, Arial, sans-serif">3</text>
<line x1="775" y1="1484.4" x2="779" y2="1484.4" stroke="#000" stroke-width="3"/>
<text x="772.5" y="1490.7" font-size="17.5" text-anchor="end" font-family="Liberation Sans, Arial, sans-serif">4</text>
<line x1="775" y1="1421.3" x2="779" y2="1421.3" stroke="#000" stroke-width="3"/>
<text x="772.5" y="1427.6" font-size="17.5" text-anchor="end" font-family="Liberation Sans, Arial, sans-serif">5</text>
<line x1="834.2" y1="1826.5" x2="834.2" y2="1830.5" stroke="#000" stroke-width="3"/>
<text x="834.2" y="1848.5" font-size="17.5" text-anchor="middle" font-family="Liberation Sans, Arial, sans-serif">1850</text>
<line x1="1125.5" y1="1826.5" x2="1125.5" y2="1830.5" stroke="#000" stroke-width="3"/>
<text x="1125.5" y="1848.5" font-size="17.5" text-anchor="middle" font-family="Liberation Sans, Arial, sans-serif">1900</text>
<line x1="1416.8" y1="1826.5" x2="1416.8" y2="1830.5" stroke="#000" stroke-width="3"/>
<text x="1416.8" y="1848.5" font-size="17.5" text-anchor="middle" font-family="Liberation Sans, Arial, sans-serif">1950</text>
<line x1="1708.1" y1="1826.5" x2="1708.1" y2="1830.5" stroke="#000" stroke-width="3"/>
<text x="1708.1" y="1848.5" font-size="17.5" text-anchor="middle" font-family="Liberation Sans, Arial, sans-serif">2000</text>
<text transform="translate(747 1619) rotate(-90)" font-size="20.9" text-anchor="middle" font-family="Liberation Sans, Arial, sans-serif">Insertion time (MYA)</text>
<text x="1626.0" y="1815.0" font-size="20" font-family="Liberation Sans, Arial, sans-serif">Chr12 (Mb)</text>
<text x="795.0" y="1442.0" font-size="20" font-family="Liberation Sans, Arial, sans-serif">lineage</text>
<rect x="871.5" y="1425.8" width="20.3" height="19.7" fill="#C1272D"/>
<text x="903.0" y="1442.0" font-size="18" font-family="Liberation Sans, Arial, sans-serif">Athila</text>
<rect x="957.3" y="1425.8" width="20.3" height="19.7" fill="#EBA52B"/>
<text x="988.0" y="1442.0" font-size="18" font-family="Liberation Sans, Arial, sans-serif">CRM</text>
<rect x="1038.5" y="1425.8" width="20.3" height="19.7" fill="#BEDD36"/>
<text x="1069.9" y="1442.0" font-size="18" font-family="Liberation Sans, Arial, sans-serif">Galadriel</text>
<rect x="1151.7" y="1425.8" width="20.3" height="19.7" fill="#47C4B0"/>
<text x="1182.5" y="1442.0" font-size="18" font-family="Liberation Sans, Arial, sans-serif">Reina</text>
<rect x="1238" y="1425.8" width="20.3" height="19.7" fill="#2A93F3"/>
<text x="1268.0" y="1442.0" font-size="18" font-family="Liberation Sans, Arial, sans-serif">Retand</text>
<rect x="1346" y="1425.8" width="20.3" height="19.7" fill="#13367A"/>
<text x="1366.4" y="1442.0" font-size="18" font-family="Liberation Sans, Arial, sans-serif">Tekay</text>
<rect x="1423.4" y="1425.8" width="20.3" height="19.7" fill="#AFB5B5"/>
<text x="1452.8" y="1442.0" font-size="18" font-family="Liberation Sans, Arial, sans-serif">unknown</text>
<text x="2.5" y="1218.6" font-size="42" font-weight="bold" font-family="Liberation Sans, Arial, sans-serif">d</text>
<line x1="188.5" y1="1199.6" x2="188.5" y2="1838" stroke="#000" stroke-width="3.4" stroke-dasharray="12 7"/>
<path d="M149.1 1313.5C151.8 1312.2 160.4 1313.8 165.2 1306.1C170.1 1298.3 174.6 1277.8 178.3 1267.0C181.9 1256.1 183.3 1249.6 187.0 1240.9C190.6 1232.2 194.2 1221.5 200.0 1214.8C205.8 1208.0 214.5 1201.9 221.7 1200.4C229.0 1199.0 237.0 1203.3 243.5 1206.1C250.0 1208.8 254.3 1212.6 260.9 1217.0C267.4 1221.3 276.1 1227.5 282.6 1232.2C289.1 1236.9 293.5 1239.4 300.0 1245.2C306.5 1251.0 314.5 1261.9 321.7 1267.0C329.0 1272.0 336.2 1272.8 343.5 1275.7C350.7 1278.6 355.8 1281.1 365.2 1284.3C374.6 1287.6 389.1 1292.3 400.0 1295.2C410.9 1298.1 420.3 1299.9 430.4 1301.7C440.6 1303.6 449.3 1304.8 460.9 1306.1C472.5 1307.4 486.2 1308.6 500.0 1309.6C513.8 1310.5 525.4 1311.2 543.5 1311.7C561.6 1312.3 588.6 1312.8 608.7 1313.0C628.8 1313.3 654.7 1313.4 663.9 1313.5L663.9 1313.5L149.1 1313.5Z" fill="#AEB3B5" fill-opacity="0.6"/>
<path d="M149.1 1313.5C151.8 1312.2 160.4 1313.8 165.2 1306.1C170.1 1298.3 174.6 1277.8 178.3 1267.0C181.9 1256.1 183.3 1249.6 187.0 1240.9C190.6 1232.2 194.2 1221.5 200.0 1214.8C205.8 1208.0 214.5 1201.9 221.7 1200.4C229.0 1199.0 237.0 1203.3 243.5 1206.1C250.0 1208.8 254.3 1212.6 260.9 1217.0C267.4 1221.3 276.1 1227.5 282.6 1232.2C289.1 1236.9 293.5 1239.4 300.0 1245.2C306.5 1251.0 314.5 1261.9 321.7 1267.0C329.0 1272.0 336.2 1272.8 343.5 1275.7C350.7 1278.6 355.8 1281.1 365.2 1284.3C374.6 1287.6 389.1 1292.3 400.0 1295.2C410.9 1298.1 420.3 1299.9 430.4 1301.7C440.6 1303.6 449.3 1304.8 460.9 1306.1C472.5 1307.4 486.2 1308.6 500.0 1309.6C513.8 1310.5 525.4 1311.2 543.5 1311.7C561.6 1312.3 588.6 1312.8 608.7 1313.0C628.8 1313.3 654.7 1313.4 663.9 1313.5" fill="none" stroke="#000" stroke-width="3.4" stroke-linejoin="round"/>
<path d="M149.1 1393.0C151.8 1391.6 160.4 1392.3 165.2 1384.3C170.1 1376.4 174.6 1357.5 178.3 1345.2C181.9 1332.9 183.3 1323.5 187.0 1310.4C190.6 1297.4 195.7 1275.7 200.0 1267.0C204.3 1258.3 207.2 1260.3 213.0 1258.3C218.8 1256.2 228.3 1253.7 234.8 1254.8C241.3 1255.9 246.4 1259.1 252.2 1264.8C258.0 1270.4 263.8 1280.7 269.6 1288.7C275.4 1296.7 281.2 1306.1 287.0 1312.6C292.8 1319.1 297.8 1322.8 304.3 1327.8C310.9 1332.9 318.8 1337.2 326.1 1343.0C333.3 1348.8 340.6 1356.4 347.8 1362.6C355.1 1368.8 362.3 1375.7 369.6 1380.0C376.8 1384.3 380.4 1386.7 391.3 1388.7C402.2 1390.7 413.0 1391.4 434.8 1392.2C456.5 1392.9 483.6 1392.9 521.7 1393.0C559.9 1393.2 640.2 1393.0 663.9 1393.0L663.9 1393.0L149.1 1393.0Z" fill="#13367A" fill-opacity="0.6"/>
<path d="M149.1 1393.0C151.8 1391.6 160.4 1392.3 165.2 1384.3C170.1 1376.4 174.6 1357.5 178.3 1345.2C181.9 1332.9 183.3 1323.5 187.0 1310.4C190.6 1297.4 195.7 1275.7 200.0 1267.0C204.3 1258.3 207.2 1260.3 213.0 1258.3C218.8 1256.2 228.3 1253.7 234.8 1254.8C241.3 1255.9 246.4 1259.1 252.2 1264.8C258.0 1270.4 263.8 1280.7 269.6 1288.7C275.4 1296.7 281.2 1306.1 287.0 1312.6C292.8 1319.1 297.8 1322.8 304.3 1327.8C310.9 1332.9 318.8 1337.2 326.1 1343.0C333.3 1348.8 340.6 1356.4 347.8 1362.6C355.1 1368.8 362.3 1375.7 369.6 1380.0C376.8 1384.3 380.4 1386.7 391.3 1388.7C402.2 1390.7 413.0 1391.4 434.8 1392.2C456.5 1392.9 483.6 1392.9 521.7 1393.0C559.9 1393.2 640.2 1393.0 663.9 1393.0" fill="none" stroke="#000" stroke-width="3.4" stroke-linejoin="round"/>
<path d="M149.1 1472.6C152.9 1470.8 166.3 1466.7 171.7 1461.7C177.2 1456.8 178.5 1450.3 181.7 1443.0C185.0 1435.8 188.4 1423.8 191.3 1418.3C194.2 1412.7 196.5 1410.4 199.1 1409.6C201.7 1408.7 203.9 1410.4 207.0 1413.0C210.0 1415.7 212.8 1421.0 217.4 1425.7C222.0 1430.3 229.0 1437.8 234.8 1440.9C240.6 1443.9 245.7 1444.1 252.2 1443.9C258.7 1443.8 266.7 1442.7 273.9 1440.0C281.2 1437.3 288.4 1433.5 295.7 1427.8C302.9 1422.2 310.1 1414.8 317.4 1406.1C324.6 1397.4 333.3 1383.0 339.1 1375.7C344.9 1368.3 347.1 1363.2 352.2 1361.7C357.2 1360.3 364.5 1363.2 369.6 1367.0C374.6 1370.7 377.5 1377.1 382.6 1384.3C387.7 1391.6 393.5 1402.5 400.0 1410.4C406.5 1418.4 414.5 1425.3 421.7 1432.2C429.0 1439.1 437.0 1446.8 443.5 1451.7C450.0 1456.7 452.9 1459.6 460.9 1461.7C468.8 1463.9 481.2 1464.1 491.3 1464.8C501.4 1465.4 509.4 1464.9 521.7 1465.7C534.1 1466.4 547.1 1468.0 565.2 1469.1C583.3 1470.3 614.0 1472.0 630.4 1472.6C646.9 1473.2 658.3 1472.6 663.9 1472.6L663.9 1472.6L149.1 1472.6Z" fill="#2A93F3" fill-opacity="0.6"/>
<path d="M149.1 1472.6C152.9 1470.8 166.3 1466.7 171.7 1461.7C177.2 1456.8 178.5 1450.3 181.7 1443.0C185.0 1435.8 188.4 1423.8 191.3 1418.3C194.2 1412.7 196.5 1410.4 199.1 1409.6C201.7 1408.7 203.9 1410.4 207.0 1413.0C210.0 1415.7 212.8 1421.0 217.4 1425.7C222.0 1430.3 229.0 1437.8 234.8 1440.9C240.6 1443.9 245.7 1444.1 252.2 1443.9C258.7 1443.8 266.7 1442.7 273.9 1440.0C281.2 1437.3 288.4 1433.5 295.7 1427.8C302.9 1422.2 310.1 1414.8 317.4 1406.1C324.6 1397.4 333.3 1383.0 339.1 1375.7C344.9 1368.3 347.1 1363.2 352.2 1361.7C357.2 1360.3 364.5 1363.2 369.6 1367.0C374.6 1370.7 377.5 1377.1 382.6 1384.3C387.7 1391.6 393.5 1402.5 400.0 1410.4C406.5 1418.4 414.5 1425.3 421.7 1432.2C429.0 1439.1 437.0 1446.8 443.5 1451.7C450.0 1456.7 452.9 1459.6 460.9 1461.7C468.8 1463.9 481.2 1464.1 491.3 1464.8C501.4 1465.4 509.4 1464.9 521.7 1465.7C534.1 1466.4 547.1 1468.0 565.2 1469.1C583.3 1470.3 614.0 1472.0 630.4 1472.6C646.9 1473.2 658.3 1472.6 663.9 1472.6" fill="none" stroke="#000" stroke-width="3.4" stroke-linejoin="round"/>
<path d="M149.1 1552.6C152.5 1551.4 164.7 1550.8 169.6 1545.2C174.4 1539.6 175.4 1532.9 178.3 1519.1C181.2 1505.4 184.1 1478.6 187.0 1462.6C189.9 1446.7 193.1 1432.2 195.7 1423.5C198.2 1414.8 200.0 1411.5 202.2 1410.4C204.3 1409.3 205.4 1411.9 208.7 1417.0C212.0 1422.0 216.7 1433.3 221.7 1440.9C226.8 1448.5 232.6 1459.3 239.1 1462.6C245.7 1465.9 255.1 1459.0 260.9 1460.4C266.7 1461.9 268.1 1467.0 273.9 1471.3C279.7 1475.7 288.4 1481.4 295.7 1486.5C302.9 1491.6 310.9 1497.4 317.4 1501.7C323.9 1506.1 329.0 1508.3 334.8 1512.6C340.6 1517.0 346.4 1524.6 352.2 1527.8C358.0 1531.1 363.0 1531.1 369.6 1532.2C376.1 1533.3 384.1 1532.8 391.3 1534.3C398.6 1535.9 406.5 1540.2 413.0 1541.7C419.6 1543.3 424.6 1543.4 430.4 1543.5C436.2 1543.6 442.8 1541.9 447.8 1542.2C452.9 1542.5 455.8 1543.6 460.9 1545.2C465.9 1546.8 468.1 1550.5 478.3 1551.7C488.4 1553.0 490.8 1552.5 521.7 1552.6C552.7 1552.8 640.2 1552.6 663.9 1552.6L663.9 1552.6L149.1 1552.6Z" fill="#47C4B0" fill-opacity="0.6"/>
<path d="M149.1 1552.6C152.5 1551.4 164.7 1550.8 169.6 1545.2C174.4 1539.6 175.4 1532.9 178.3 1519.1C181.2 1505.4 184.1 1478.6 187.0 1462.6C189.9 1446.7 193.1 1432.2 195.7 1423.5C198.2 1414.8 200.0 1411.5 202.2 1410.4C204.3 1409.3 205.4 1411.9 208.7 1417.0C212.0 1422.0 216.7 1433.3 221.7 1440.9C226.8 1448.5 232.6 1459.3 239.1 1462.6C245.7 1465.9 255.1 1459.0 260.9 1460.4C266.7 1461.9 268.1 1467.0 273.9 1471.3C279.7 1475.7 288.4 1481.4 295.7 1486.5C302.9 1491.6 310.9 1497.4 317.4 1501.7C323.9 1506.1 329.0 1508.3 334.8 1512.6C340.6 1517.0 346.4 1524.6 352.2 1527.8C358.0 1531.1 363.0 1531.1 369.6 1532.2C376.1 1533.3 384.1 1532.8 391.3 1534.3C398.6 1535.9 406.5 1540.2 413.0 1541.7C419.6 1543.3 424.6 1543.4 430.4 1543.5C436.2 1543.6 442.8 1541.9 447.8 1542.2C452.9 1542.5 455.8 1543.6 460.9 1545.2C465.9 1546.8 468.1 1550.5 478.3 1551.7C488.4 1553.0 490.8 1552.5 521.7 1552.6C552.7 1552.8 640.2 1552.6 663.9 1552.6" fill="none" stroke="#000" stroke-width="3.4" stroke-linejoin="round"/>
<path d="M149.1 1632.2C151.8 1631.4 160.4 1633.6 165.2 1627.8C170.1 1622.0 174.6 1609.7 178.3 1597.4C181.9 1585.1 183.3 1568.4 187.0 1553.9C190.6 1539.4 196.0 1519.3 200.0 1510.4C204.0 1501.6 206.5 1500.1 210.9 1500.9C215.2 1501.6 220.7 1510.3 226.1 1514.8C231.5 1519.3 237.0 1523.5 243.5 1527.8C250.0 1532.2 258.0 1538.0 265.2 1540.9C272.5 1543.8 281.2 1543.4 287.0 1545.2C292.8 1547.0 294.9 1546.7 300.0 1551.7C305.1 1556.8 311.6 1568.8 317.4 1575.7C323.2 1582.5 328.3 1588.0 334.8 1593.0C341.3 1598.1 349.3 1602.1 356.5 1606.1C363.8 1610.1 370.3 1614.1 378.3 1617.0C386.2 1619.9 397.1 1622.0 404.3 1623.5C411.6 1624.9 415.9 1624.3 421.7 1625.7C427.5 1627.0 429.7 1630.5 439.1 1631.3C448.6 1632.1 464.5 1630.3 478.3 1630.4C492.0 1630.6 490.8 1631.9 521.7 1632.2C552.7 1632.5 640.2 1632.2 663.9 1632.2L663.9 1632.2L149.1 1632.2Z" fill="#BEDD36" fill-opacity="0.6"/>
<path d="M149.1 1632.2C151.8 1631.4 160.4 1633.6 165.2 1627.8C170.1 1622.0 174.6 1609.7 178.3 1597.4C181.9 1585.1 183.3 1568.4 187.0 1553.9C190.6 1539.4 196.0 1519.3 200.0 1510.4C204.0 1501.6 206.5 1500.1 210.9 1500.9C215.2 1501.6 220.7 1510.3 226.1 1514.8C231.5 1519.3 237.0 1523.5 243.5 1527.8C250.0 1532.2 258.0 1538.0 265.2 1540.9C272.5 1543.8 281.2 1543.4 287.0 1545.2C292.8 1547.0 294.9 1546.7 300.0 1551.7C305.1 1556.8 311.6 1568.8 317.4 1575.7C323.2 1582.5 328.3 1588.0 334.8 1593.0C341.3 1598.1 349.3 1602.1 356.5 1606.1C363.8 1610.1 370.3 1614.1 378.3 1617.0C386.2 1619.9 397.1 1622.0 404.3 1623.5C411.6 1624.9 415.9 1624.3 421.7 1625.7C427.5 1627.0 429.7 1630.5 439.1 1631.3C448.6 1632.1 464.5 1630.3 478.3 1630.4C492.0 1630.6 490.8 1631.9 521.7 1632.2C552.7 1632.5 640.2 1632.2 663.9 1632.2" fill="none" stroke="#000" stroke-width="3.4" stroke-linejoin="round"/>
<path d="M149.1 1711.3C152.5 1710.8 164.0 1712.8 169.6 1708.3C175.1 1703.8 178.6 1692.0 182.6 1684.3C186.6 1676.7 189.1 1668.0 193.5 1662.6C197.8 1657.2 203.3 1653.9 208.7 1651.7C214.1 1649.6 220.3 1651.4 226.1 1649.6C231.9 1647.8 237.0 1643.2 243.5 1640.9C250.0 1638.6 258.7 1634.6 265.2 1635.7C271.7 1636.7 276.8 1643.3 282.6 1647.4C288.4 1651.5 295.3 1658.0 300.0 1660.4C304.7 1662.8 305.8 1663.2 310.9 1661.7C315.9 1660.3 323.6 1654.1 330.4 1651.7C337.3 1649.3 343.5 1647.9 352.2 1647.4C360.9 1646.9 374.6 1647.6 382.6 1648.7C390.6 1649.8 392.8 1650.1 400.0 1653.9C407.2 1657.7 417.4 1665.9 426.1 1671.3C434.8 1676.7 443.5 1682.3 452.2 1686.5C460.9 1690.7 468.8 1693.1 478.3 1696.5C487.7 1699.9 499.3 1705.0 508.7 1707.0C518.1 1708.9 525.4 1707.7 534.8 1708.3C544.2 1708.8 543.7 1709.9 565.2 1710.4C586.7 1710.9 647.5 1711.2 663.9 1711.3L663.9 1711.3L149.1 1711.3Z" fill="#EBA52B" fill-opacity="0.6"/>
<path d="M149.1 1711.3C152.5 1710.8 164.0 1712.8 169.6 1708.3C175.1 1703.8 178.6 1692.0 182.6 1684.3C186.6 1676.7 189.1 1668.0 193.5 1662.6C197.8 1657.2 203.3 1653.9 208.7 1651.7C214.1 1649.6 220.3 1651.4 226.1 1649.6C231.9 1647.8 237.0 1643.2 243.5 1640.9C250.0 1638.6 258.7 1634.6 265.2 1635.7C271.7 1636.7 276.8 1643.3 282.6 1647.4C288.4 1651.5 295.3 1658.0 300.0 1660.4C304.7 1662.8 305.8 1663.2 310.9 1661.7C315.9 1660.3 323.6 1654.1 330.4 1651.7C337.3 1649.3 343.5 1647.9 352.2 1647.4C360.9 1646.9 374.6 1647.6 382.6 1648.7C390.6 1649.8 392.8 1650.1 400.0 1653.9C407.2 1657.7 417.4 1665.9 426.1 1671.3C434.8 1676.7 443.5 1682.3 452.2 1686.5C460.9 1690.7 468.8 1693.1 478.3 1696.5C487.7 1699.9 499.3 1705.0 508.7 1707.0C518.1 1708.9 525.4 1707.7 534.8 1708.3C544.2 1708.8 543.7 1709.9 565.2 1710.4C586.7 1710.9 647.5 1711.2 663.9 1711.3" fill="none" stroke="#000" stroke-width="3.4" stroke-linejoin="round"/>
<path d="M149.1 1790.9C152.5 1790.1 164.0 1792.7 169.6 1786.5C175.1 1780.4 178.3 1764.8 182.6 1753.9C187.0 1743.0 190.6 1729.3 195.7 1721.3C200.7 1713.3 207.2 1710.8 213.0 1706.1C218.8 1701.4 224.6 1697.8 230.4 1693.0C236.2 1688.3 243.1 1680.9 247.8 1677.8C252.5 1674.7 254.3 1673.6 258.7 1674.3C263.0 1675.1 267.8 1676.5 273.9 1682.2C280.1 1687.8 289.1 1699.9 295.7 1708.3C302.2 1716.6 306.5 1725.3 313.0 1732.2C319.6 1739.1 326.8 1744.9 334.8 1749.6C342.8 1754.3 352.9 1757.9 360.9 1760.4C368.8 1763.0 376.1 1763.0 382.6 1764.8C389.1 1766.6 393.5 1769.1 400.0 1771.3C406.5 1773.5 413.0 1776.0 421.7 1777.8C430.4 1779.6 442.8 1780.7 452.2 1782.2C461.6 1783.6 466.7 1785.3 478.3 1786.5C489.9 1787.8 490.8 1788.8 521.7 1789.6C552.7 1790.3 640.2 1790.7 663.9 1790.9L663.9 1790.9L149.1 1790.9Z" fill="#C1272D" fill-opacity="0.6"/>
<path d="M149.1 1790.9C152.5 1790.1 164.0 1792.7 169.6 1786.5C175.1 1780.4 178.3 1764.8 182.6 1753.9C187.0 1743.0 190.6 1729.3 195.7 1721.3C200.7 1713.3 207.2 1710.8 213.0 1706.1C218.8 1701.4 224.6 1697.8 230.4 1693.0C236.2 1688.3 243.1 1680.9 247.8 1677.8C252.5 1674.7 254.3 1673.6 258.7 1674.3C263.0 1675.1 267.8 1676.5 273.9 1682.2C280.1 1687.8 289.1 1699.9 295.7 1708.3C302.2 1716.6 306.5 1725.3 313.0 1732.2C319.6 1739.1 326.8 1744.9 334.8 1749.6C342.8 1754.3 352.9 1757.9 360.9 1760.4C368.8 1763.0 376.1 1763.0 382.6 1764.8C389.1 1766.6 393.5 1769.1 400.0 1771.3C406.5 1773.5 413.0 1776.0 421.7 1777.8C430.4 1779.6 442.8 1780.7 452.2 1782.2C461.6 1783.6 466.7 1785.3 478.3 1786.5C489.9 1787.8 490.8 1788.8 521.7 1789.6C552.7 1790.3 640.2 1790.7 663.9 1790.9" fill="none" stroke="#000" stroke-width="3.4" stroke-linejoin="round"/>
<line x1="149.1" y1="1199.6" x2="149.1" y2="1840.4" stroke="#000" stroke-width="3.4"/>
<line x1="147.4" y1="1838.7" x2="664" y2="1838.7" stroke="#000" stroke-width="3.4"/>
<line x1="188.5" y1="1840" x2="188.5" y2="1844.5" stroke="#000" stroke-width="3"/>
<text x="188.5" y="1861.0" font-size="17.5" text-anchor="middle" font-family="Liberation Sans, Arial, sans-serif">0</text>
<line x1="256.7" y1="1840" x2="256.7" y2="1844.5" stroke="#000" stroke-width="3"/>
<text x="256.7" y="1861.0" font-size="17.5" text-anchor="middle" font-family="Liberation Sans, Arial, sans-serif">1</text>
<line x1="324.9" y1="1840" x2="324.9" y2="1844.5" stroke="#000" stroke-width="3"/>
<text x="324.9" y="1861.0" font-size="17.5" text-anchor="middle" font-family="Liberation Sans, Arial, sans-serif">2</text>
<line x1="393.1" y1="1840" x2="393.1" y2="1844.5" stroke="#000" stroke-width="3"/>
<text x="393.1" y="1861.0" font-size="17.5" text-anchor="middle" font-family="Liberation Sans, Arial, sans-serif">3</text>
<line x1="461.3" y1="1840" x2="461.3" y2="1844.5" stroke="#000" stroke-width="3"/>
<text x="461.3" y="1861.0" font-size="17.5" text-anchor="middle" font-family="Liberation Sans, Arial, sans-serif">4</text>
<line x1="529.5" y1="1840" x2="529.5" y2="1844.5" stroke="#000" stroke-width="3"/>
<text x="529.5" y="1861.0" font-size="17.5" text-anchor="middle" font-family="Liberation Sans, Arial, sans-serif">5</text>
<line x1="597.7" y1="1840" x2="597.7" y2="1844.5" stroke="#000" stroke-width="3"/>
<text x="597.7" y="1861.0" font-size="17.5" text-anchor="middle" font-family="Liberation Sans, Arial, sans-serif">6</text>
<text x="426.0" y="1882.5" font-size="21" text-anchor="middle" font-family="Liberation Sans, Arial, sans-serif">Insertion Time(MYA)</text>
<line x1="143.5" y1="1313.5" x2="148" y2="1313.5" stroke="#000" stroke-width="3"/>
<text x="135.5" y="1320.0" font-size="18" text-anchor="end" font-family="Liberation Sans, Arial, sans-serif">unknown</text>
<line x1="143.5" y1="1393.0" x2="148" y2="1393.0" stroke="#000" stroke-width="3"/>
<text x="135.5" y="1399.5" font-size="18" text-anchor="end" font-family="Liberation Sans, Arial, sans-serif">Tekay</text>
<line x1="143.5" y1="1472.6" x2="148" y2="1472.6" stroke="#000" stroke-width="3"/>
<text x="135.5" y="1479.1" font-size="18" text-anchor="end" font-family="Liberation Sans, Arial, sans-serif">Retand</text>
<line x1="143.5" y1="1552.6" x2="148" y2="1552.6" stroke="#000" stroke-width="3"/>
<text x="135.5" y="1559.1" font-size="18" text-anchor="end" font-family="Liberation Sans, Arial, sans-serif">Reina</text>
<line x1="143.5" y1="1632.2" x2="148" y2="1632.2" stroke="#000" stroke-width="3"/>
<text x="135.5" y="1638.7" font-size="18" text-anchor="end" font-family="Liberation Sans, Arial, sans-serif">Galadriel</text>
<line x1="143.5" y1="1711.3" x2="148" y2="1711.3" stroke="#000" stroke-width="3"/>
<text x="135.5" y="1717.8" font-size="18" text-anchor="end" font-family="Liberation Sans, Arial, sans-serif">CRM</text>
<line x1="143.5" y1="1790.9" x2="148" y2="1790.9" stroke="#000" stroke-width="3"/>
<text x="135.5" y="1797.4" font-size="18" text-anchor="end" font-family="Liberation Sans, Arial, sans-serif">Athila</text>
<text transform="translate(67.5 1512.6) rotate(-90)" font-size="20" text-anchor="middle" font-family="Liberation Sans, Arial, sans-serif">Lineage</text>
<text x="-2" y="1921.6" font-size="42" font-weight="bold" font-family="Liberation Sans, Arial, sans-serif">e</text>
<path d="M161.2 2114.3 162.3 2114.9 163.3 2115.3 164.3 2115.9 165.3 2115.9 166.4 2116.6 167.4 2115.3 168.4 2116.4 169.4 2117.6 170.5 2117.4 171.5 2118.2 172.5 2117.2 173.5 2118.1 174.6 2118.1 175.6 2119.0 176.6 2119.4 177.6 2118.7 178.7 2119.4 179.7 2119.9 180.7 2121.3 181.7 2121.4 182.8 2120.7 183.8 2122.2 184.8 2121.3 185.8 2122.5 186.9 2121.9 187.9 2121.9 189.0 2123.8 190.0 2122.8 191.0 2123.1 192.1 2124.7 193.1 2124.8 194.2 2124.0 195.2 2125.5 196.3 2125.0 197.3 2125.5 198.3 2124.9 199.4 2126.5 200.4 2126.3 201.5 2127.0 202.5 2127.2 203.5 2126.4 204.6 2126.7 205.6 2126.6 206.7 2126.9 207.7 2127.0 208.8 2128.5 209.9 2130.1 211.0 2130.2 212.1 2132.5 213.2 2132.9 214.3 2134.0 215.4 2136.0 216.5 2136.5 217.5 2137.3 218.6 2138.7 219.7 2140.4 220.8 2140.6 221.9 2143.7 223.0 2143.3 224.1 2146.0 225.2 2147.5 226.3 2147.4 227.4 2150.2 228.5 2150.8 229.6 2152.5 230.6 2152.2 231.6 2152.9 232.6 2153.8 233.7 2155.9 234.7 2155.2 235.7 2156.9 236.7 2157.9 237.8 2158.6 238.8 2158.2 239.8 2158.9 240.8 2159.9 241.9 2161.1 242.9 2160.5 243.9 2162.4 244.9 2163.2 246.0 2163.9 247.1 2163.1 248.2 2165.4 249.2 2164.5 250.3 2165.6 251.4 2166.8 252.5 2168.0 253.6 2167.6 254.7 2169.3 255.8 2169.3 256.9 2169.5 258.0 2168.3 259.1 2166.9 260.2 2165.5 261.3 2164.4 262.4 2164.2 263.5 2163.5 264.6 2160.8 265.6 2159.4 266.7 2159.9 267.8 2157.9 268.9 2158.5 270.0 2159.0 271.1 2160.5 272.2 2161.7 273.3 2161.9 274.4 2162.6 275.5 2162.8 276.6 2165.1 277.7 2164.4 278.8 2166.0 279.9 2166.4 281.0 2164.8 282.0 2165.6 283.1 2165.7 284.2 2164.9 285.3 2164.9 286.4 2163.4 287.5 2163.7 288.6 2162.9 289.7 2163.9 290.7 2163.5 291.7 2164.4 292.8 2166.0 293.8 2166.4 294.8 2167.2 295.8 2166.9 296.9 2167.6 297.9 2168.6 298.9 2168.8 299.9 2169.1 301.0 2169.9 302.0 2170.0 303.0 2171.1 304.0 2172.8 305.1 2173.4 306.1 2173.4 307.1 2172.9 308.1 2172.3 309.2 2171.6 310.2 2171.6 311.2 2172.3 312.2 2172.2 313.3 2171.0 314.3 2171.5 315.3 2171.2 316.3 2170.8 317.4 2170.4 318.4 2170.3 319.4 2169.3 320.4 2169.7 321.5 2168.6 322.5 2168.7 323.5 2169.4 324.5 2169.4 325.6 2168.9 326.6 2170.2 327.6 2169.9 328.6 2169.9 329.7 2169.1 330.7 2170.2 331.7 2169.9 332.7 2170.8 333.8 2170.6 334.8 2171.4 335.8 2171.3 336.8 2171.7 337.9 2171.1 338.9 2171.8 339.9 2171.2 341.0 2170.7 342.0 2169.1 343.1 2169.3 344.1 2168.6 345.2 2167.5 346.2 2167.4 347.3 2166.6 348.4 2165.1 349.4 2164.4 350.5 2163.0 351.5 2163.5 352.6 2163.0 353.6 2163.7 354.6 2165.6 355.6 2167.1 356.7 2168.6 357.7 2169.1 358.7 2171.7 359.7 2172.9 360.8 2174.5 361.8 2173.0 362.9 2172.3 364.0 2171.4 365.1 2170.1 366.2 2169.2 367.3 2166.8 368.4 2166.0 369.5 2165.4 370.6 2164.7 371.7 2162.8 372.7 2162.3 373.7 2160.8 374.8 2158.4 375.8 2157.8 376.8 2156.0 377.8 2154.3 378.9 2153.1 379.9 2152.0 380.9 2150.4 381.9 2149.1 383.0 2147.4 384.0 2146.8 385.0 2145.3 386.0 2144.4 387.1 2143.0 388.1 2141.0 389.1 2141.3 390.1 2138.8 391.2 2138.7 392.2 2137.6 393.2 2137.0 394.2 2135.6 395.3 2136.1 396.3 2134.4 397.3 2132.9 398.3 2133.1 399.4 2131.3 400.4 2131.3 401.4 2130.0 402.4 2129.6 403.5 2129.4 404.5 2128.3 405.5 2127.1 406.6 2127.3 407.6 2126.5 408.6 2125.5 409.7 2124.5 410.7 2124.8 411.8 2124.2 412.8 2124.4 413.9 2123.9 414.9 2122.8 415.9 2121.8 417.0 2122.2 418.0 2120.1 419.1 2119.8 420.1 2120.1 421.1 2119.6 422.2 2118.3 423.2 2118.6 424.3 2118.6 425.3 2117.1 426.3 2116.7 427.4 2116.2 428.4 2116.1 429.4 2117.2 430.4 2115.9 431.5 2116.8 432.5 2116.6 433.5 2115.8 434.5 2115.0 435.6 2116.2 436.6 2115.1 437.6 2114.8 438.6 2114.5 439.7 2115.5 440.7 2114.4 441.7 2113.9 442.7 2114.1 443.8 2113.6 444.8 2114.7 445.8 2114.5 446.8 2114.4 447.9 2115.5 448.9 2115.7 449.9 2114.4 450.9 2115.5 452.0 2115.2 453.0 2116.6 454.0 2116.5 455.0 2115.7 456.1 2115.9 457.1 2115.9 458.1 2117.5 459.1 2116.8" fill="none" stroke="#F0BC4A" stroke-width="4.8" stroke-linejoin="round"/>
<path d="M161.2 2078.4 162.3 2078.8 163.3 2078.9 164.3 2079.2 165.3 2079.3 166.4 2079.6 167.4 2079.2 168.4 2080.0 169.4 2079.7 170.5 2080.0 171.5 2080.0 172.5 2080.1 173.5 2080.5 174.6 2080.6 175.6 2080.7 176.6 2081.2 177.6 2081.2 178.7 2080.8 179.7 2081.2 180.7 2081.6 181.7 2082.2 182.8 2082.3 183.8 2082.1 184.8 2081.8 185.8 2082.7 186.9 2082.6 187.9 2083.0 188.9 2083.4 189.9 2083.6 190.9 2083.7 191.9 2084.4 192.9 2084.1 193.9 2084.4 195.0 2085.1 196.0 2084.7 197.0 2085.1 198.0 2085.9 199.0 2085.4 200.0 2086.4 201.0 2086.5 202.0 2086.5 203.1 2086.7 204.1 2087.4 205.1 2087.8 206.1 2087.3 207.1 2087.9 208.1 2088.2 209.1 2088.5 210.1 2088.5 211.1 2088.6 212.2 2089.3 213.2 2089.8 214.2 2089.4 215.3 2089.9 216.3 2090.8 217.3 2091.2 218.4 2091.4 219.4 2091.1 220.5 2092.1 221.5 2092.7 222.5 2093.1 223.6 2093.1 224.6 2092.8 225.7 2093.9 226.7 2093.6 227.7 2094.4 228.8 2095.0 229.8 2095.1 230.9 2094.9 231.9 2095.4 233.0 2096.4 234.0 2095.9 235.0 2096.7 236.1 2096.2 237.1 2095.6 238.2 2095.7 239.2 2094.8 240.3 2094.5 241.3 2094.5 242.4 2093.8 243.4 2093.5 244.5 2093.7 245.5 2093.5 246.6 2093.3 247.7 2092.2 248.7 2092.2 249.8 2091.0 250.9 2090.2 252.0 2089.0 253.1 2088.3 254.2 2086.6 255.3 2085.2 256.4 2084.8 257.4 2083.1 258.5 2082.5 259.6 2081.3 260.7 2080.5 261.7 2078.8 262.8 2077.6 263.8 2076.0 264.9 2075.1 265.9 2073.5 267.0 2072.7 268.0 2071.2 269.1 2069.6 270.1 2068.4 271.2 2067.3 272.2 2066.4 273.3 2064.6 274.3 2064.7 275.4 2064.2 276.4 2063.2 277.5 2063.3 278.5 2062.3 279.5 2061.9 280.6 2061.9 281.6 2061.1 282.7 2061.3 283.7 2060.5 284.8 2059.9 285.8 2059.9 286.8 2058.7 287.9 2058.9 288.9 2057.8 290.0 2057.5 291.0 2057.8 292.0 2057.1 293.1 2056.2 294.1 2055.7 295.2 2056.1 296.2 2055.8 297.2 2055.9 298.3 2055.3 299.3 2055.7 300.4 2055.5 301.4 2055.4 302.5 2055.5 303.5 2055.7 304.5 2055.5 305.6 2055.5 306.6 2055.3 307.7 2056.0 308.7 2055.8 309.7 2055.9 310.8 2055.6 311.8 2056.0 312.9 2055.6 313.9 2055.7 314.9 2055.7 316.0 2055.9 317.0 2055.5 318.1 2055.6 319.1 2056.0 320.1 2056.6 321.1 2056.8 322.2 2058.1 323.2 2058.1 324.2 2058.7 325.2 2058.4 326.3 2059.3 327.3 2060.1 328.3 2060.2 329.3 2060.5 330.3 2060.9 331.4 2061.0 332.4 2061.4 333.4 2061.8 334.4 2062.9 335.5 2063.8 336.5 2065.1 337.5 2065.2 338.5 2066.2 339.6 2067.1 340.6 2067.8 341.6 2068.8 342.6 2069.6 343.7 2070.7 344.7 2071.1 345.7 2072.9 346.7 2073.1 347.8 2074.6 348.8 2075.2 349.8 2076.0 350.9 2076.9 352.0 2078.5 353.1 2078.7 354.2 2080.4 355.3 2081.1 356.4 2082.6 357.5 2083.7 358.6 2084.3 359.7 2085.4 360.8 2086.3 361.8 2087.1 362.8 2087.6 363.8 2088.5 364.9 2089.7 365.9 2089.7 366.9 2090.3 367.9 2091.0 369.0 2091.5 370.0 2092.5 371.0 2093.1 372.0 2093.2 373.1 2093.9 374.1 2094.9 375.1 2095.8 376.1 2096.1 377.2 2096.5 378.2 2096.8 379.2 2095.6 380.2 2095.4 381.3 2095.8 382.3 2095.2 383.3 2094.5 384.3 2094.7 385.4 2094.9 386.4 2094.2 387.4 2093.7 388.4 2093.2 389.5 2092.9 390.5 2093.5 391.5 2092.8 392.5 2093.0 393.6 2091.8 394.6 2091.7 395.6 2091.3 396.7 2091.4 397.7 2090.8 398.8 2090.7 399.8 2090.6 400.8 2090.2 401.9 2089.7 402.9 2089.4 404.0 2090.1 405.0 2089.1 406.0 2089.1 407.1 2088.8 408.1 2088.6 409.2 2087.9 410.2 2087.9 411.2 2087.4 412.3 2087.6 413.3 2087.7 414.4 2087.1 415.4 2087.1 416.5 2086.2 417.5 2085.7 418.5 2085.9 419.6 2085.5 420.6 2085.3 421.7 2084.8 422.7 2084.7 423.7 2084.5 424.8 2084.4 425.8 2083.5 426.9 2083.3 427.9 2083.4 428.9 2082.4 430.0 2082.0 431.0 2081.9 432.1 2081.4 433.1 2081.7 434.2 2081.5 435.2 2080.7 436.2 2080.2 437.3 2079.8 438.3 2080.0 439.4 2079.8 440.4 2080.1 441.4 2080.3 442.5 2080.0 443.5 2079.8 444.6 2080.4 445.6 2079.8 446.6 2079.9 447.7 2080.0 448.7 2080.1 449.8 2079.8 450.8 2080.1 451.9 2080.0 452.9 2080.5 453.9 2080.3 455.0 2080.6 456.0 2080.4 457.1 2080.5 458.1 2080.3 459.1 2080.2" fill="none" stroke="#3E62A0" stroke-width="4.8" stroke-linejoin="round"/>
<path d="M161.2 1993.6 162.1 1995.2 162.9 1994.1 163.7 1995.4 164.5 1993.9 165.3 1993.5 166.2 1991.0 167.0 1993.6 167.8 1991.1 168.6 1989.5 169.4 1988.9 170.3 1989.8 171.1 1990.7 172.0 1993.3 172.8 1991.7 173.6 1991.0 174.5 1995.0 175.3 1994.4 176.2 1992.0 177.0 1992.6 177.9 1993.4 178.7 1995.0 179.5 1998.0 180.4 1998.9 181.2 1998.0 182.1 1996.9 182.9 1998.7 183.7 1999.2 184.6 1999.9 185.4 1999.1 186.3 2002.9 187.1 2005.0 187.9 2005.3 188.8 2002.9 189.6 2006.0 190.5 2005.0 191.3 2008.6 192.1 2007.9 192.9 2011.1 193.7 2011.0 194.5 2008.1 195.3 2009.8 196.1 2013.5 196.9 2011.8 197.7 2012.3 198.5 2013.0 199.3 2015.3 200.2 2016.9 201.0 2015.4 201.8 2018.3 202.6 2017.0 203.4 2015.1 204.2 2019.4 205.0 2018.0 205.8 2014.7 206.7 2018.0 207.5 2011.6 208.3 2013.0 209.2 2011.0 210.0 2011.6 210.9 2007.6 211.7 2005.2 212.5 2004.0 213.4 2002.2 214.2 2002.6 215.1 2000.0 215.9 2000.6 216.7 1995.0 217.6 1992.7 218.4 1989.2 219.3 1990.1 220.1 1986.4 221.0 1983.5 221.8 1979.3 222.6 1975.3 223.5 1971.0 224.3 1971.6 225.2 1966.9 226.0 1961.6 226.8 1959.3 227.6 1958.0 228.4 1960.3 229.2 1960.2 230.1 1955.6 230.9 1957.8 231.7 1954.4 232.5 1955.3 233.3 1955.2 234.1 1953.0 234.9 1953.0 235.7 1949.8 236.5 1946.9 237.3 1948.6 238.1 1948.0 238.9 1944.9 239.7 1945.0 240.5 1943.7 241.3 1940.7 242.2 1940.7 243.0 1939.6 243.9 1938.6 244.7 1938.4 245.5 1935.3 246.4 1936.9 247.2 1934.5 248.1 1933.6 248.9 1930.9 249.8 1929.4 250.6 1927.2 251.4 1927.1 252.3 1925.7 253.3 1927.8 254.2 1929.2 255.1 1929.3 256.0 1929.0 256.9 1928.8 257.8 1940.2 258.7 1953.0 259.6 1965.6 260.5 1977.9 261.5 1989.0 262.4 1998.3 263.2 2004.8 264.0 2004.7 264.8 2010.3 265.6 2010.2 266.5 2017.0 267.3 2019.9 268.1 2024.7 268.9 2027.6 269.7 2029.8 270.6 2033.9 271.5 2029.7 272.4 2025.4 273.3 2019.7 274.2 2017.6 275.1 2016.0 276.0 2008.9 276.9 2006.3 277.9 1997.7 278.8 1990.6 279.7 1982.2 280.6 1977.8 281.5 1970.3 282.3 1968.4 283.1 1965.3 284.0 1961.0 284.8 1955.1 285.6 1949.5 286.4 1943.7 287.2 1942.4 288.1 1937.3 288.9 1933.8 289.7 1927.6 290.6 1934.8 291.5 1935.9 292.4 1940.9 293.3 1945.3 294.3 1951.7 295.2 1957.7 296.0 1952.2 296.8 1953.0 297.6 1952.1 298.4 1947.6 299.3 1945.1 300.1 1946.1 300.9 1945.8 301.7 1944.4 302.5 1942.0 303.4 1938.8 304.3 1944.3 305.2 1950.3 306.1 1957.7 307.0 1960.0 307.9 1965.4 308.8 1972.5 309.6 1972.8 310.5 1967.1 311.3 1964.6 312.1 1963.4 312.9 1964.1 313.7 1962.7 314.6 1958.9 315.4 1957.3 316.2 1957.7 317.0 1956.4 317.9 1953.8 318.8 1951.3 319.8 1945.1 320.7 1944.6 321.6 1943.7 322.5 1941.6 323.3 1936.6 324.1 1937.7 325.0 1935.0 325.8 1934.9 326.6 1929.6 327.4 1930.4 328.2 1929.5 329.1 1926.0 329.9 1922.4 330.7 1921.2 331.6 1928.3 332.5 1935.3 333.4 1942.8 334.3 1952.5 335.2 1957.2 336.2 1967.9 337.0 1972.7 337.8 1978.0 338.6 1982.9 339.4 1987.3 340.3 1993.3 341.1 1998.4 341.9 2001.6 342.7 2008.3 343.5 2008.7 344.4 2013.7 345.3 2016.6 346.2 2020.6 347.1 2024.6 348.0 2028.3 348.9 2032.6 349.8 2036.1 350.7 2025.9 351.6 2020.7 352.6 2014.6 353.5 2006.9 354.4 1998.7 355.3 1994.4 356.2 1985.0 357.1 1978.4 358.0 1969.2 358.9 1963.5 359.8 1955.2 360.8 1942.4 361.7 1946.0 362.6 1945.8 363.5 1943.6 364.4 1942.7 365.3 1944.6 366.2 1943.9 367.1 1947.2 367.9 1949.4 368.7 1947.8 369.6 1948.6 370.4 1951.0 371.3 1953.3 372.1 1955.0 372.9 1955.1 373.8 1955.0 374.6 1956.4 375.5 1960.3 376.3 1959.9 377.2 1958.7 378.0 1961.7 378.8 1961.8 379.7 1965.1 380.5 1963.0 381.4 1965.1 382.2 1965.3 383.0 1968.3 383.9 1972.0 384.7 1970.7 385.6 1971.0 386.4 1974.9 387.2 1971.5 388.1 1974.0 388.9 1976.5 389.8 1972.6 390.6 1976.7 391.4 1974.8 392.3 1973.3 393.1 1974.7 394.0 1976.0 394.8 1975.8 395.7 1976.7 396.5 1974.5 397.3 1975.6 398.2 1979.7 399.0 1977.2 399.8 1978.1 400.6 1976.9 401.4 1978.7 402.2 1983.0 403.0 1982.4 403.8 1982.3 404.6 1980.8 405.4 1983.3 406.3 1986.1 407.1 1985.2 407.9 1986.8 408.7 1989.2 409.5 1988.7 410.3 1989.4 411.1 1987.1 411.9 1987.8 412.7 1992.5 413.5 1990.3 414.3 1992.4 415.1 1991.8 415.9 1992.0 416.7 1988.9 417.5 1991.8 418.3 1990.2 419.1 1990.6 419.9 1986.4 420.7 1989.4 421.5 1987.2 422.3 1989.7 423.1 1989.5 423.9 1985.1 424.7 1985.9 425.5 1984.8 426.3 1985.5 427.2 1984.3 428.0 1986.1 428.9 1983.1 429.7 1983.1 430.6 1984.4 431.4 1982.2 432.2 1983.6 433.1 1986.0 433.9 1985.8 434.8 1982.0 435.6 1980.8 436.4 1984.8 437.3 1985.3 438.1 1982.9 439.0 1980.0 439.8 1980.0 440.6 1983.1 441.5 1982.7 442.3 1977.5 443.2 1977.8 444.0 1978.5 444.8 1977.2 445.7 1979.2 446.5 1976.7 447.4 1978.3 448.2 1974.6 449.1 1977.2 449.9 1980.3 450.7 1979.6 451.6 1977.1 452.4 1977.9 453.3 1981.4 454.1 1980.7 454.9 1981.4 455.8 1982.7 456.6 1983.9 457.5 1986.6 458.3 1983.6 459.1 1985.7" fill="none" stroke="#D45A2E" stroke-width="4.8" stroke-linejoin="round"/>
<line x1="258.5" y1="1921.7" x2="258.5" y2="2187" stroke="#000" stroke-width="3.4" stroke-dasharray="12 7"/>
<line x1="358.6" y1="1921.7" x2="358.6" y2="2187" stroke="#000" stroke-width="3.4" stroke-dasharray="12 7"/>
<line x1="145.9" y1="1910.8" x2="145.9" y2="2189.6" stroke="#000" stroke-width="3.4"/>
<line x1="144.2" y1="2187.9" x2="472.8" y2="2187.9" stroke="#000" stroke-width="3.4"/>
<line x1="141" y1="1914.9" x2="145" y2="1914.9" stroke="#000" stroke-width="3"/>
<text x="138.0" y="1920.1" font-size="14.5" text-anchor="end" font-family="Liberation Sans, Arial, sans-serif">0.03</text>
<line x1="141" y1="2009.2" x2="145" y2="2009.2" stroke="#000" stroke-width="3"/>
<text x="138.0" y="2014.4" font-size="14.5" text-anchor="end" font-family="Liberation Sans, Arial, sans-serif">0.02</text>
<line x1="141" y1="2103.5" x2="145" y2="2103.5" stroke="#000" stroke-width="3"/>
<text x="138.0" y="2108.7" font-size="14.5" text-anchor="end" font-family="Liberation Sans, Arial, sans-serif">0.01</text>
<text x="202.2" y="2208.0" font-size="14.5" text-anchor="middle" font-family="Liberation Sans, Arial, sans-serif">-500 bp</text>
<text x="306.0" y="2208.0" font-size="14.5" text-anchor="middle" font-family="Liberation Sans, Arial, sans-serif">Region</text>
<text x="411.0" y="2208.0" font-size="14.5" text-anchor="middle" font-family="Liberation Sans, Arial, sans-serif">+500 bp</text>
<line x1="208.7" y1="2189" x2="208.7" y2="2193" stroke="#000" stroke-width="3"/>
<line x1="309.1" y1="2189" x2="309.1" y2="2193" stroke="#000" stroke-width="3"/>
<line x1="409.5" y1="2189" x2="409.5" y2="2193" stroke="#000" stroke-width="3"/>
<text transform="translate(99.5 2045.8) rotate(-90)" font-size="19" text-anchor="middle" font-family="Liberation Sans, Arial, sans-serif">log2(H3K9Me2/Input+1)</text>
<text x="577.7" y="1981.8" font-size="26.5" font-family="Liberation Sans, Arial, sans-serif">LTR type</text>
<rect x="577.7" y="2013" width="26.3" height="15.3" fill="#D45A2E"/>
<text x="625.8" y="2027.7" font-size="23.8" font-family="Liberation Sans, Arial, sans-serif">Intact LTR</text>
<rect x="577.7" y="2058.4" width="26.3" height="15.3" fill="#F0BC4A"/>
<text x="625.8" y="2073.1" font-size="23.8" font-family="Liberation Sans, Arial, sans-serif">Truncated LTR</text>
<rect x="577.7" y="2103" width="26.3" height="15.3" fill="#3E62A0"/>
<text x="625.8" y="2117.7" font-size="23.8" font-family="Liberation Sans, Arial, sans-serif">Solo LTR</text>
<text x="6.6" y="2267.8" font-size="42" font-weight="bold" font-family="Liberation Sans, Arial, sans-serif">g</text>
<path d="M82.0 2297.0 83.0 2298.1 84.0 2301.8 85.0 2297.4 86.0 2297.9 87.1 2298.8 88.1 2295.0 89.1 2298.3 90.1 2299.5 91.1 2301.2 92.1 2294.5 93.1 2296.6 94.1 2294.6 95.1 2301.8 96.2 2300.8 97.2 2294.5 98.2 2303.8 99.2 2303.7 100.2 2300.8 101.2 2300.5 102.2 2296.1 103.2 2294.8 104.3 2300.0 105.3 2295.5 106.3 2296.8 107.3 2297.4 108.3 2295.5 109.3 2299.8 110.4 2299.5 111.4 2303.3 112.4 2300.0 113.5 2301.0 114.5 2299.5 115.6 2301.0 116.6 2298.9 117.6 2297.0 118.7 2303.9 119.7 2303.8 120.8 2302.1 121.8 2300.7 122.9 2296.7 123.9 2295.7 124.9 2296.2 126.0 2293.9 127.0 2300.6 128.1 2296.9 129.1 2301.1 130.1 2296.5 131.2 2302.0 132.2 2300.4 133.2 2291.5 134.3 2293.1 135.3 2299.4 136.3 2294.6 137.3 2299.1 138.4 2292.9 139.4 2289.2 140.4 2294.1 141.4 2295.1 142.5 2289.6 143.5 2287.2 144.5 2289.1 145.5 2294.8 146.6 2292.3 147.6 2285.5 148.7 2285.9 149.8 2283.7 150.9 2282.5 152.0 2288.9 153.0 2282.0 154.1 2284.9 155.2 2283.0 156.3 2279.7 157.4 2284.2 158.5 2277.4 159.6 2276.1 160.7 2264.5 161.8 2261.1 162.8 2259.1 163.8 2259.7 164.8 2266.6 165.8 2264.9 166.8 2260.0 167.8 2265.7 168.9 2259.1 169.9 2260.9 170.9 2265.4 171.9 2263.3 172.9 2258.0 173.9 2266.7 174.9 2259.1 175.9 2259.5 176.9 2264.6 177.9 2260.2 178.9 2259.9 180.0 2257.7 181.0 2257.9 182.0 2262.7 183.0 2259.4 184.0 2262.9 185.0 2260.7 186.0 2261.5 187.0 2266.4 188.0 2261.8 189.0 2262.7 190.0 2265.5 191.1 2258.8 192.1 2258.5 193.1 2265.9 194.1 2265.1 195.1 2259.5 196.1 2258.9 197.1 2264.3 198.1 2266.3 199.1 2258.9 200.1 2266.4 201.1 2265.7 202.2 2262.9 203.2 2261.2 204.2 2258.0 205.2 2257.4 206.2 2266.5 207.2 2259.4 208.2 2263.9 209.2 2259.5 210.2 2265.1 211.2 2262.9 212.2 2259.9 213.3 2258.7 214.3 2264.1 215.3 2257.7 216.3 2259.3 217.3 2262.5 218.3 2265.4 219.3 2263.1 220.3 2259.8 221.3 2266.0 222.3 2259.0 223.3 2257.2 224.4 2259.7 225.4 2261.4 226.4 2257.6 227.4 2258.7 228.4 2260.6 229.4 2262.6 230.4 2258.3 231.4 2260.6 232.4 2265.8 233.4 2266.7 234.4 2263.5 235.5 2263.8 236.5 2262.8 237.5 2258.4 238.5 2257.4 239.5 2257.2 240.5 2266.0 241.6 2265.5 242.7 2269.8 243.8 2262.1 244.9 2269.8 246.0 2270.0 247.1 2273.5 248.2 2270.5 249.2 2278.3 250.3 2270.3 251.4 2276.0 252.5 2279.0 253.6 2281.7 254.7 2281.2 255.8 2282.0 256.9 2283.9 257.9 2285.8 259.0 2281.0 260.0 2284.9 261.0 2287.7 262.0 2288.1 263.1 2284.3 264.1 2288.7 265.1 2290.1 266.1 2287.9 267.1 2289.1 268.2 2287.4 269.2 2290.1 270.2 2291.0 271.2 2286.5 272.3 2292.7 273.3 2296.8 274.3 2296.0 275.4 2294.8 276.4 2291.7 277.5 2295.3 278.5 2294.1 279.5 2293.0 280.6 2297.1 281.6 2290.0 282.7 2296.8 283.7 2290.0 284.8 2295.8 285.8 2294.9 286.8 2292.7 287.9 2297.6 288.9 2295.9 290.0 2297.3 291.0 2300.6 292.0 2294.3 293.1 2292.1 294.1 2295.2 295.2 2299.2 296.2 2294.7 297.2 2294.6 298.2 2302.0 299.3 2299.8 300.3 2297.8 301.3 2302.4 302.3 2297.0 303.4 2300.5 304.4 2296.1 305.4 2298.6 306.4 2302.5 307.5 2303.7 308.5 2303.6 309.5 2298.9 310.5 2301.0 311.6 2298.6 312.6 2297.0 313.6 2300.7 314.6 2304.2 315.7 2304.5 316.7 2303.4 317.7 2305.9 318.7 2299.5 319.8 2301.8" fill="none" stroke="#D45A2E" stroke-width="3.6" stroke-linejoin="round"/>
<path d="M82.0 2273.2 83.0 2273.8 84.0 2273.4 85.0 2273.2 86.0 2273.6 87.0 2274.1 88.0 2273.7 89.1 2273.3 90.1 2274.5 91.1 2274.8 92.1 2273.5 93.1 2272.6 94.1 2272.4 95.1 2274.4 96.1 2272.4 97.1 2273.9 98.1 2273.6 99.1 2272.9 100.2 2274.0 101.2 2272.2 102.2 2272.4 103.2 2273.1 104.2 2272.1 105.2 2274.0 106.2 2272.5 107.2 2272.3 108.2 2272.0 109.2 2273.3 110.2 2272.9 111.3 2273.3 112.3 2273.3 113.3 2273.6 114.3 2274.0 115.3 2273.3 116.3 2272.1 117.3 2272.7 118.3 2272.0 119.3 2271.6 120.3 2272.6 121.3 2273.1 122.4 2271.8 123.4 2272.0 124.4 2272.2 125.4 2273.0 126.4 2272.5 127.4 2272.7 128.4 2273.0 129.4 2272.1 130.4 2273.0 131.4 2273.3 132.4 2271.3 133.5 2273.3 134.5 2272.7 135.5 2271.3 136.5 2272.0 137.5 2272.4 138.5 2273.0 139.5 2271.7 140.5 2272.2 141.5 2272.9 142.5 2272.6 143.5 2272.9 144.6 2271.8 145.6 2272.2 146.6 2271.1 147.6 2272.3 148.6 2271.8 149.7 2270.6 150.7 2270.0 151.8 2268.1 152.8 2268.9 153.9 2268.4 154.9 2267.6 156.0 2265.8 157.0 2265.6 158.1 2263.8 159.1 2264.4 160.2 2263.5 161.2 2261.6 162.2 2260.9 163.3 2261.8 164.3 2262.0 165.3 2262.6 166.3 2261.9 167.3 2260.8 168.3 2262.7 169.3 2260.9 170.3 2262.6 171.3 2261.2 172.3 2261.5 173.3 2262.6 174.3 2261.1 175.3 2261.1 176.3 2262.0 177.3 2262.5 178.3 2262.7 179.3 2262.4 180.3 2263.0 181.3 2261.9 182.3 2263.0 183.3 2260.9 184.3 2261.3 185.3 2262.0 186.3 2261.4 187.3 2262.5 188.3 2262.3 189.3 2262.0 190.3 2262.7 191.3 2262.1 192.3 2261.5 193.4 2261.6 194.4 2262.7 195.4 2262.9 196.4 2261.2 197.4 2262.8 198.4 2263.0 199.4 2262.0 200.4 2262.1 201.4 2261.2 202.4 2262.0 203.4 2261.9 204.4 2262.2 205.4 2260.8 206.4 2263.0 207.4 2262.0 208.4 2261.7 209.4 2262.6 210.4 2262.1 211.4 2261.9 212.4 2262.4 213.4 2260.9 214.4 2262.0 215.4 2261.7 216.4 2263.0 217.4 2262.9 218.4 2261.4 219.4 2261.9 220.4 2261.0 221.4 2261.8 222.4 2262.7 223.4 2262.9 224.5 2261.9 225.5 2261.5 226.5 2261.2 227.5 2262.2 228.5 2262.9 229.5 2261.1 230.5 2262.6 231.5 2260.8 232.5 2261.2 233.5 2261.3 234.5 2262.4 235.5 2261.5 236.5 2261.6 237.5 2262.2 238.5 2261.0 239.5 2262.5 240.5 2261.0 241.5 2262.4 242.6 2262.2 243.6 2262.5 244.6 2263.8 245.6 2264.0 246.7 2264.3 247.7 2264.8 248.7 2265.5 249.7 2265.1 250.8 2265.7 251.8 2267.1 252.8 2267.6 253.8 2267.8 254.9 2269.0 255.9 2268.9 256.9 2269.9 257.9 2268.5 258.9 2269.7 259.9 2270.0 261.0 2270.3 262.0 2269.0 263.0 2269.0 264.0 2270.5 265.0 2268.9 266.0 2270.8 267.0 2270.7 268.1 2268.9 269.1 2269.3 270.1 2270.5 271.1 2269.5 272.1 2269.1 273.1 2270.9 274.1 2270.0 275.2 2271.0 276.2 2269.5 277.2 2270.2 278.2 2271.0 279.2 2269.4 280.2 2269.9 281.2 2271.2 282.2 2271.8 283.3 2272.0 284.3 2270.0 285.3 2271.0 286.3 2271.7 287.3 2271.2 288.3 2271.7 289.3 2270.6 290.4 2270.3 291.4 2270.5 292.4 2270.4 293.4 2271.7 294.4 2271.7 295.4 2271.9 296.4 2270.9 297.5 2271.1 298.5 2271.2 299.5 2272.8 300.5 2273.2 301.5 2273.1 302.5 2271.3 303.5 2271.2 304.6 2273.4 305.6 2272.3 306.6 2273.1 307.6 2272.2 308.6 2272.6 309.6 2272.7 310.6 2272.6 311.6 2273.1 312.7 2271.8 313.7 2273.5 314.7 2273.9 315.7 2272.4 316.7 2273.1 317.7 2273.8 318.7 2273.1 319.8 2273.4" fill="none" stroke="#F0BC4A" stroke-width="3.6" stroke-linejoin="round"/>
<path d="M82.0 2268.6 83.0 2268.4 84.0 2268.9 85.0 2268.0 86.0 2269.3 87.0 2269.1 88.0 2268.8 89.0 2269.0 90.0 2268.5 91.0 2268.1 92.0 2268.3 93.0 2268.0 94.0 2268.7 95.0 2268.3 96.0 2267.4 97.0 2268.3 98.0 2268.0 99.0 2267.9 100.0 2267.9 101.1 2267.2 102.1 2267.9 103.1 2267.7 104.1 2267.4 105.1 2267.4 106.1 2267.3 107.1 2266.6 108.1 2267.0 109.1 2265.9 110.1 2266.3 111.1 2266.4 112.1 2265.6 113.1 2266.0 114.1 2266.4 115.1 2266.3 116.1 2265.6 117.1 2266.6 118.1 2266.1 119.1 2265.4 120.1 2265.9 121.1 2265.6 122.1 2265.5 123.1 2265.2 124.1 2266.0 125.1 2265.4 126.1 2265.4 127.1 2265.4 128.1 2265.7 129.1 2264.1 130.1 2264.9 131.1 2265.0 132.2 2264.2 133.2 2264.3 134.2 2263.6 135.2 2263.8 136.2 2264.0 137.2 2263.5 138.2 2263.6 139.2 2264.5 140.2 2263.9 141.2 2263.7 142.2 2264.4 143.2 2263.7 144.2 2264.2 145.2 2263.6 146.2 2263.8 147.2 2262.5 148.2 2263.2 149.2 2263.4 150.2 2262.2 151.2 2263.5 152.2 2262.2 153.2 2262.6 154.2 2262.0 155.2 2262.5 156.2 2262.6 157.2 2261.6 158.2 2262.9 159.2 2262.0 160.2 2262.1 161.2 2262.1 162.2 2261.7 163.3 2261.6 164.3 2262.2 165.3 2262.0 166.3 2261.6 167.3 2262.3 168.3 2261.6 169.3 2261.2 170.3 2261.5 171.3 2261.2 172.3 2261.4 173.3 2262.3 174.3 2261.8 175.3 2262.6 176.3 2262.3 177.3 2261.2 178.3 2262.7 179.3 2262.6 180.3 2261.3 181.3 2262.6 182.3 2261.8 183.3 2261.9 184.3 2262.7 185.3 2261.5 186.3 2262.0 187.3 2262.6 188.3 2262.3 189.3 2261.9 190.3 2262.7 191.3 2262.4 192.3 2262.1 193.4 2261.3 194.4 2262.1 195.4 2261.9 196.4 2261.5 197.4 2261.2 198.4 2262.0 199.4 2261.3 200.4 2261.8 201.4 2262.2 202.4 2261.9 203.4 2261.6 204.4 2262.1 205.4 2261.8 206.4 2262.4 207.4 2262.0 208.4 2262.7 209.4 2262.6 210.4 2262.3 211.4 2261.5 212.4 2261.3 213.4 2262.5 214.4 2262.4 215.4 2262.1 216.4 2261.7 217.4 2261.6 218.4 2262.2 219.4 2262.0 220.4 2262.1 221.4 2262.1 222.4 2262.3 223.4 2261.4 224.5 2261.5 225.5 2262.7 226.5 2262.6 227.5 2262.5 228.5 2261.2 229.5 2261.2 230.5 2261.6 231.5 2261.8 232.5 2262.1 233.5 2261.3 234.5 2262.0 235.5 2261.3 236.5 2261.3 237.5 2262.2 238.5 2262.0 239.5 2262.1 240.5 2261.7 241.5 2262.0 242.5 2261.7 243.5 2262.0 244.5 2262.7 245.5 2262.9 246.5 2261.8 247.5 2262.0 248.5 2263.1 249.5 2262.9 250.5 2263.2 251.5 2262.5 252.5 2262.9 253.5 2262.7 254.5 2263.7 255.6 2263.1 256.6 2263.6 257.6 2264.2 258.6 2263.3 259.6 2263.7 260.6 2264.1 261.6 2264.5 262.6 2263.8 263.6 2263.8 264.6 2263.5 265.6 2264.8 266.6 2263.6 267.6 2263.7 268.6 2264.5 269.6 2264.5 270.6 2264.9 271.6 2264.4 272.6 2265.2 273.6 2264.2 274.6 2264.5 275.6 2265.3 276.6 2264.5 277.6 2264.9 278.6 2265.7 279.6 2265.7 280.6 2265.2 281.6 2265.1 282.6 2265.5 283.6 2266.2 284.6 2265.7 285.6 2265.4 286.7 2266.4 287.7 2266.3 288.7 2266.9 289.7 2267.0 290.7 2267.1 291.7 2266.4 292.7 2267.1 293.7 2266.4 294.7 2266.5 295.7 2266.7 296.7 2267.6 297.7 2267.7 298.7 2266.7 299.7 2267.0 300.7 2267.1 301.7 2267.2 302.7 2267.3 303.7 2267.4 304.7 2267.2 305.7 2267.9 306.7 2268.3 307.7 2268.0 308.7 2268.6 309.7 2268.2 310.7 2267.7 311.7 2268.7 312.7 2269.0 313.7 2268.1 314.7 2267.8 315.7 2268.7 316.7 2268.8 317.8 2269.0 318.8 2269.7 319.8 2269.0" fill="none" stroke="#3E62A0" stroke-width="3.6" stroke-linejoin="round"/>
<line x1="161.2" y1="2249.4" x2="161.2" y2="2454.9" stroke="#000" stroke-width="3.4" stroke-dasharray="12 7"/>
<line x1="240.5" y1="2249.4" x2="240.5" y2="2454.9" stroke="#000" stroke-width="3.4" stroke-dasharray="12 7"/>
<line x1="72.2" y1="2454.9" x2="330.7" y2="2454.9" stroke="#000" stroke-width="3.4"/>
<line x1="121.6" y1="2456.4" x2="121.6" y2="2460.4" stroke="#000" stroke-width="3"/>
<line x1="200.9" y1="2456.4" x2="200.9" y2="2460.4" stroke="#000" stroke-width="3"/>
<line x1="280.1" y1="2456.4" x2="280.1" y2="2460.4" stroke="#000" stroke-width="3"/>
<text x="199.5" y="2247.2" font-size="16.5" text-anchor="middle" font-family="Liberation Sans, Arial, sans-serif">mCG</text>
<text x="121.3" y="2475.1" font-size="17.5" text-anchor="middle" font-family="Liberation Sans, Arial, sans-serif">-500 bp</text>
<text x="200.6" y="2475.1" font-size="17.5" text-anchor="middle" font-family="Liberation Sans, Arial, sans-serif">Region</text>
<text x="279.9" y="2475.1" font-size="17.5" text-anchor="middle" font-family="Liberation Sans, Arial, sans-serif">+500 bp</text>
<path d="M366.2 2318.1 367.2 2319.6 368.2 2312.3 369.3 2317.0 370.3 2319.4 371.3 2312.5 372.3 2312.5 373.3 2318.9 374.3 2320.5 375.3 2312.5 376.3 2317.9 377.4 2313.1 378.4 2319.0 379.4 2318.1 380.4 2314.1 381.4 2313.8 382.4 2319.2 383.4 2316.8 384.4 2319.2 385.5 2315.5 386.5 2315.0 387.5 2321.2 388.5 2318.3 389.5 2316.5 390.5 2317.0 391.5 2318.8 392.5 2318.6 393.6 2320.7 394.6 2315.5 395.6 2319.5 396.6 2317.7 397.6 2319.4 398.7 2318.7 399.7 2318.8 400.7 2319.2 401.7 2319.7 402.8 2316.4 403.8 2315.1 404.8 2316.8 405.8 2317.5 406.9 2313.6 407.9 2313.4 408.9 2310.5 409.9 2316.2 411.0 2318.5 412.0 2312.3 413.0 2310.1 414.0 2310.3 415.1 2312.3 416.1 2310.8 417.1 2317.3 418.1 2308.2 419.2 2310.4 420.2 2308.4 421.2 2313.4 422.2 2314.5 423.3 2308.5 424.3 2307.2 425.3 2310.9 426.3 2311.9 427.4 2314.8 428.4 2305.9 429.4 2306.2 430.4 2306.7 431.5 2306.6 432.5 2306.5 433.5 2310.9 434.5 2309.3 435.6 2305.3 436.6 2304.6 437.6 2305.2 438.6 2303.8 439.7 2309.2 440.7 2304.5 441.7 2306.5 442.7 2308.8 443.8 2301.6 444.9 2295.6 446.0 2298.0 447.1 2294.4 448.2 2285.0 449.3 2286.3 450.3 2289.7 451.3 2284.4 452.4 2281.2 453.4 2278.8 454.5 2287.0 455.5 2284.9 456.5 2280.2 457.6 2280.9 458.6 2280.2 459.7 2277.1 460.7 2283.5 461.7 2279.6 462.8 2274.8 463.8 2272.0 464.9 2275.8 465.9 2274.2 467.0 2277.7 468.0 2276.3 469.0 2274.6 470.1 2269.5 471.1 2269.4 472.2 2270.8 473.2 2270.1 474.2 2276.0 475.3 2272.4 476.3 2273.4 477.4 2276.8 478.4 2269.5 479.4 2272.0 480.5 2268.1 481.5 2274.1 482.6 2266.4 483.6 2274.3 484.6 2274.4 485.7 2274.1 486.7 2266.7 487.8 2268.4 488.8 2272.6 489.9 2266.4 490.9 2270.1 491.9 2269.8 493.0 2274.9 494.0 2271.5 495.1 2274.4 496.1 2269.2 497.1 2274.3 498.2 2270.9 499.2 2276.0 500.3 2268.2 501.3 2275.7 502.3 2269.9 503.4 2273.4 504.4 2273.5 505.5 2270.1 506.5 2277.0 507.6 2272.2 508.6 2272.4 509.6 2270.4 510.7 2272.9 511.7 2274.7 512.8 2277.4 513.8 2274.2 514.9 2278.5 516.0 2273.9 517.1 2277.8 518.2 2279.6 519.3 2285.7 520.4 2285.4 521.5 2284.8 522.5 2279.5 523.6 2284.2 524.7 2288.6 525.8 2285.0 526.8 2289.2 527.8 2289.2 528.8 2285.8 529.9 2296.5 530.9 2295.6 531.9 2290.8 532.9 2295.9 534.0 2293.7 535.0 2295.6 536.0 2298.2 537.0 2296.8 538.1 2298.2 539.1 2299.8 540.1 2303.5 541.1 2300.5 542.2 2300.3 543.2 2305.9 544.3 2302.3 545.3 2308.7 546.3 2305.2 547.4 2307.2 548.4 2303.6 549.5 2308.8 550.5 2302.0 551.5 2302.8 552.6 2302.7 553.6 2308.7 554.7 2309.4 555.7 2304.5 556.7 2307.0 557.8 2311.7 558.8 2309.6 559.9 2305.0 560.9 2306.7 562.0 2306.3 563.0 2306.3 564.0 2309.2 565.0 2306.0 566.0 2314.4 567.0 2309.6 568.0 2310.5 569.0 2311.9 570.0 2313.2 571.1 2313.8 572.1 2309.6 573.1 2309.1 574.1 2310.0 575.1 2306.1 576.1 2310.0 577.1 2313.0 578.1 2315.8 579.1 2314.0 580.1 2312.8 581.1 2312.4 582.1 2306.7 583.1 2309.8 584.1 2310.0 585.1 2313.1 586.2 2307.8 587.2 2310.5 588.2 2311.9 589.2 2314.7 590.2 2315.2 591.2 2313.1 592.2 2308.8 593.2 2314.8 594.2 2316.2 595.2 2312.8 596.2 2311.0 597.2 2312.5 598.2 2309.0 599.2 2314.7 600.3 2317.5 601.3 2312.8" fill="none" stroke="#D45A2E" stroke-width="3.6" stroke-linejoin="round"/>
<path d="M366.2 2289.3 367.2 2289.7 368.2 2289.9 369.2 2288.3 370.2 2290.0 371.2 2289.2 372.2 2288.1 373.2 2287.7 374.2 2288.0 375.2 2288.7 376.2 2289.0 377.2 2288.0 378.2 2289.3 379.2 2287.9 380.2 2288.1 381.2 2287.2 382.2 2289.1 383.2 2287.1 384.2 2288.8 385.2 2287.9 386.2 2287.9 387.2 2287.8 388.2 2287.0 389.2 2288.5 390.2 2288.6 391.2 2288.1 392.2 2287.5 393.2 2286.3 394.2 2287.9 395.2 2286.5 396.2 2287.9 397.2 2286.3 398.2 2287.0 399.2 2287.5 400.2 2285.9 401.2 2286.7 402.2 2285.5 403.3 2285.3 404.3 2285.6 405.3 2287.4 406.3 2287.2 407.3 2286.5 408.3 2285.6 409.3 2286.4 410.3 2286.4 411.3 2285.5 412.3 2285.9 413.3 2286.4 414.3 2284.4 415.3 2284.8 416.3 2285.3 417.3 2284.5 418.3 2285.0 419.3 2285.3 420.3 2284.3 421.3 2285.1 422.3 2284.4 423.3 2285.0 424.3 2284.4 425.3 2285.0 426.3 2283.5 427.3 2285.0 428.3 2283.6 429.3 2285.5 430.3 2284.6 431.3 2284.2 432.3 2284.0 433.3 2284.4 434.3 2284.5 435.3 2284.6 436.3 2284.5 437.3 2283.8 438.4 2284.1 439.5 2282.9 440.6 2282.2 441.7 2280.3 442.7 2279.5 443.8 2279.0 444.9 2279.0 446.0 2277.3 447.1 2276.5 448.2 2275.4 449.2 2276.4 450.2 2275.0 451.2 2274.2 452.3 2275.7 453.3 2276.0 454.3 2275.5 455.3 2275.1 456.3 2275.4 457.3 2274.2 458.3 2274.8 459.3 2273.5 460.4 2273.5 461.4 2274.2 462.4 2274.2 463.4 2273.8 464.4 2272.9 465.4 2274.3 466.4 2273.8 467.4 2273.1 468.5 2273.1 469.5 2273.2 470.5 2272.7 471.5 2272.2 472.5 2274.1 473.5 2274.2 474.5 2273.4 475.5 2273.7 476.5 2272.7 477.6 2273.7 478.6 2272.3 479.6 2273.6 480.6 2273.2 481.6 2274.1 482.6 2272.2 483.6 2273.9 484.6 2272.4 485.6 2273.4 486.6 2274.4 487.6 2272.2 488.6 2272.8 489.6 2273.0 490.6 2273.1 491.7 2272.5 492.7 2274.5 493.7 2274.4 494.7 2273.4 495.7 2273.4 496.7 2274.0 497.7 2272.7 498.7 2272.7 499.7 2274.8 500.7 2273.5 501.7 2274.0 502.7 2275.0 503.7 2275.2 504.7 2274.0 505.7 2273.5 506.8 2273.7 507.8 2275.2 508.8 2275.2 509.8 2273.6 510.8 2275.2 511.8 2274.1 512.8 2274.4 513.8 2273.7 514.9 2276.1 516.0 2277.0 517.1 2275.8 518.2 2277.4 519.3 2277.0 520.4 2279.3 521.5 2278.0 522.5 2278.8 523.6 2280.9 524.7 2280.6 525.8 2282.3 526.8 2282.5 527.9 2282.3 528.9 2281.2 529.9 2282.8 531.0 2283.7 532.0 2282.8 533.1 2282.1 534.1 2282.7 535.1 2283.2 536.2 2284.4 537.2 2283.5 538.3 2283.7 539.3 2284.1 540.4 2285.4 541.4 2285.9 542.4 2285.2 543.5 2286.1 544.5 2286.9 545.6 2286.5 546.6 2285.9 547.6 2286.1 548.6 2287.6 549.6 2287.0 550.6 2286.1 551.7 2287.0 552.7 2285.7 553.7 2287.9 554.7 2286.6 555.7 2286.9 556.7 2286.9 557.7 2285.8 558.7 2287.1 559.8 2286.4 560.8 2286.4 561.8 2287.7 562.8 2286.0 563.8 2286.5 564.8 2287.7 565.8 2286.5 566.8 2286.6 567.9 2287.3 568.9 2286.5 569.9 2288.2 570.9 2288.4 571.9 2286.2 572.9 2287.2 573.9 2287.9 574.9 2287.1 576.0 2288.4 577.0 2287.4 578.0 2286.7 579.0 2287.6 580.0 2287.9 581.0 2287.2 582.0 2288.0 583.0 2288.3 584.0 2287.7 585.1 2287.7 586.1 2288.5 587.1 2288.2 588.1 2287.8 589.1 2288.9 590.1 2287.1 591.1 2288.5 592.1 2287.1 593.2 2288.2 594.2 2287.3 595.2 2287.8 596.2 2288.7 597.2 2288.7 598.2 2288.8 599.2 2287.5 600.2 2288.1 601.3 2288.2" fill="none" stroke="#F0BC4A" stroke-width="3.6" stroke-linejoin="round"/>
<path d="M366.2 2282.3 367.2 2282.8 368.2 2282.6 369.2 2281.8 370.3 2282.6 371.3 2282.8 372.3 2282.5 373.3 2282.9 374.3 2281.7 375.3 2281.6 376.3 2281.4 377.3 2282.1 378.3 2281.9 379.3 2281.9 380.3 2281.5 381.3 2282.3 382.3 2281.1 383.4 2282.4 384.4 2281.8 385.4 2281.7 386.4 2282.0 387.4 2281.1 388.4 2280.9 389.4 2281.1 390.4 2280.6 391.4 2281.0 392.4 2281.4 393.4 2281.2 394.4 2280.7 395.5 2281.2 396.5 2280.3 397.5 2281.4 398.5 2280.4 399.5 2280.4 400.5 2280.2 401.5 2281.0 402.5 2281.2 403.5 2281.0 404.5 2279.8 405.5 2280.3 406.5 2280.2 407.5 2279.9 408.6 2281.1 409.6 2279.5 410.6 2280.2 411.6 2280.6 412.6 2280.9 413.6 2279.5 414.6 2279.9 415.6 2280.3 416.6 2279.1 417.6 2279.4 418.6 2280.4 419.6 2279.1 420.7 2279.5 421.7 2279.3 422.7 2279.4 423.7 2278.8 424.7 2278.7 425.7 2280.1 426.7 2279.7 427.7 2279.6 428.7 2278.8 429.7 2278.7 430.7 2279.1 431.7 2278.6 432.7 2278.9 433.8 2279.6 434.8 2278.6 435.8 2278.5 436.8 2279.5 437.8 2278.8 438.8 2277.9 439.8 2278.4 440.8 2278.7 441.8 2277.7 442.8 2278.1 443.8 2278.6 444.8 2278.9 445.8 2278.4 446.8 2278.8 447.8 2278.1 448.8 2278.0 449.8 2278.7 450.9 2277.9 451.9 2278.5 452.9 2277.6 453.9 2277.7 454.9 2277.5 455.9 2278.0 456.9 2277.4 457.9 2277.4 458.9 2277.4 459.9 2277.7 460.9 2277.4 461.9 2277.6 462.9 2278.5 463.9 2277.9 464.9 2278.2 465.9 2277.1 466.9 2277.4 467.9 2276.8 468.9 2277.8 469.9 2277.2 470.9 2277.0 471.9 2276.6 472.9 2276.8 473.9 2276.9 474.9 2277.1 475.9 2277.9 476.9 2277.5 477.9 2276.8 478.9 2276.9 479.9 2276.5 480.9 2277.7 481.9 2276.8 482.9 2277.4 483.9 2277.3 484.9 2277.6 485.9 2276.1 486.9 2276.6 487.9 2276.6 488.9 2276.1 489.9 2277.4 490.9 2276.4 491.9 2277.1 492.9 2276.8 493.9 2276.1 495.0 2276.7 496.0 2276.5 497.0 2276.2 498.0 2276.5 499.0 2277.2 500.0 2276.4 501.0 2276.9 502.0 2277.1 503.0 2277.3 504.0 2276.7 505.0 2277.7 506.0 2277.0 507.0 2277.8 508.0 2277.8 509.0 2277.0 510.0 2277.2 511.0 2277.3 512.0 2278.1 513.0 2277.6 514.0 2277.7 515.1 2278.5 516.1 2277.5 517.1 2277.7 518.1 2277.8 519.1 2277.7 520.1 2277.4 521.1 2277.5 522.1 2278.5 523.1 2278.4 524.1 2278.9 525.1 2279.2 526.1 2278.2 527.1 2278.8 528.1 2279.3 529.1 2278.2 530.1 2279.0 531.1 2279.0 532.1 2279.5 533.1 2279.5 534.1 2278.5 535.1 2279.2 536.1 2278.4 537.1 2279.0 538.1 2279.0 539.1 2278.5 540.1 2279.1 541.1 2279.1 542.1 2279.4 543.1 2279.1 544.1 2279.0 545.1 2279.4 546.1 2279.6 547.1 2279.1 548.1 2280.0 549.1 2279.4 550.2 2279.2 551.2 2279.6 552.2 2279.8 553.2 2279.5 554.2 2280.2 555.2 2280.4 556.2 2280.3 557.2 2280.5 558.2 2279.5 559.2 2280.2 560.2 2280.2 561.2 2279.8 562.2 2280.4 563.2 2279.9 564.2 2280.6 565.2 2280.8 566.2 2280.7 567.2 2280.5 568.2 2280.5 569.2 2280.2 570.2 2280.7 571.2 2281.6 572.2 2281.2 573.2 2280.8 574.2 2281.4 575.2 2280.7 576.2 2281.2 577.2 2281.5 578.2 2282.1 579.2 2281.2 580.2 2281.6 581.2 2282.3 582.2 2282.1 583.2 2281.9 584.2 2281.9 585.2 2281.7 586.2 2281.7 587.2 2281.6 588.2 2282.5 589.2 2282.6 590.2 2281.9 591.2 2282.8 592.2 2281.5 593.2 2281.7 594.2 2282.3 595.2 2282.1 596.2 2282.2 597.2 2283.2 598.3 2282.0 599.3 2282.1 600.3 2282.2 601.3 2282.7" fill="none" stroke="#3E62A0" stroke-width="3.6" stroke-linejoin="round"/>
<line x1="443.8" y1="2249.4" x2="443.8" y2="2453.2" stroke="#000" stroke-width="3.4" stroke-dasharray="12 7"/>
<line x1="523.1" y1="2249.4" x2="523.1" y2="2453.2" stroke="#000" stroke-width="3.4" stroke-dasharray="12 7"/>
<line x1="354.2" y1="2453.2" x2="614.9" y2="2453.2" stroke="#000" stroke-width="3.4"/>
<line x1="404.2" y1="2454.7" x2="404.2" y2="2458.7" stroke="#000" stroke-width="3"/>
<line x1="483.5" y1="2454.7" x2="483.5" y2="2458.7" stroke="#000" stroke-width="3"/>
<line x1="562.7" y1="2454.7" x2="562.7" y2="2458.7" stroke="#000" stroke-width="3"/>
<text x="485.4" y="2245.5" font-size="16.5" text-anchor="middle" font-family="Liberation Sans, Arial, sans-serif">mCHG</text>
<text x="404.5" y="2473.5" font-size="17.5" text-anchor="middle" font-family="Liberation Sans, Arial, sans-serif">-500 bp</text>
<text x="483.7" y="2473.5" font-size="17.5" text-anchor="middle" font-family="Liberation Sans, Arial, sans-serif">Region</text>
<text x="563.0" y="2473.5" font-size="17.5" text-anchor="middle" font-family="Liberation Sans, Arial, sans-serif">+500 bp</text>
<path d="M642.3 2440.3 643.3 2438.5 644.3 2437.5 645.3 2439.6 646.3 2438.9 647.3 2438.3 648.3 2439.2 649.3 2439.8 650.3 2439.3 651.3 2439.6 652.3 2439.2 653.3 2440.3 654.3 2440.7 655.3 2438.2 656.3 2438.2 657.3 2440.2 658.3 2437.9 659.3 2439.5 660.3 2439.3 661.3 2439.2 662.3 2440.3 663.4 2439.7 664.4 2437.0 665.4 2438.8 666.4 2438.2 667.4 2438.4 668.4 2437.6 669.4 2437.2 670.4 2439.0 671.4 2438.1 672.4 2436.8 673.4 2436.8 674.4 2437.1 675.4 2436.4 676.4 2437.7 677.4 2436.1 678.4 2435.8 679.4 2435.8 680.4 2435.9 681.4 2438.2 682.4 2435.8 683.4 2437.1 684.5 2438.3 685.5 2437.1 686.5 2435.8 687.5 2438.5 688.5 2438.4 689.5 2435.2 690.5 2435.9 691.5 2436.8 692.5 2437.9 693.5 2436.3 694.5 2437.5 695.5 2435.6 696.5 2437.4 697.5 2435.8 698.5 2435.8 699.5 2437.4 700.5 2437.7 701.5 2437.5 702.5 2436.5 703.5 2435.8 704.5 2436.9 705.6 2436.5 706.6 2437.3 707.6 2437.1 708.6 2434.4 709.6 2435.3 710.6 2436.4 711.7 2434.1 712.8 2433.4 713.9 2432.2 714.9 2433.9 716.0 2434.7 717.1 2434.3 718.2 2430.5 719.3 2432.1 720.4 2430.5 721.5 2430.8 722.6 2429.7 723.7 2431.7 724.8 2431.7 725.9 2427.8 727.0 2430.3 728.1 2427.8 729.2 2427.3 730.3 2428.1 731.3 2429.7 732.4 2430.6 733.5 2427.2 734.5 2428.1 735.5 2427.0 736.5 2429.1 737.6 2429.0 738.6 2428.7 739.6 2428.5 740.6 2430.5 741.7 2430.7 742.7 2428.6 743.7 2429.2 744.7 2430.1 745.8 2430.8 746.8 2431.7 747.8 2429.5 748.8 2430.8 749.9 2430.3 750.9 2431.4 751.9 2428.9 752.9 2429.1 754.0 2428.9 755.0 2432.2 756.0 2429.6 757.0 2430.6 758.1 2429.3 759.1 2430.2 760.1 2429.1 761.1 2431.3 762.2 2429.7 763.2 2431.7 764.2 2430.4 765.2 2430.3 766.3 2431.1 767.3 2430.4 768.3 2429.7 769.3 2428.6 770.4 2428.5 771.4 2431.5 772.4 2428.9 773.4 2427.8 774.5 2428.0 775.5 2428.9 776.5 2430.7 777.5 2427.3 778.6 2429.7 779.6 2428.0 780.6 2427.4 781.6 2428.8 782.7 2427.5 783.7 2426.5 784.7 2428.8 785.7 2429.5 786.8 2429.7 787.8 2428.7 788.8 2431.7 789.8 2431.7 790.9 2432.6 791.9 2430.7 792.9 2432.6 793.9 2432.5 795.0 2430.7 796.0 2430.5 797.0 2431.4 798.0 2431.5 799.1 2431.7 800.2 2433.2 801.3 2435.2 802.4 2433.8 803.5 2435.0 804.6 2433.4 805.7 2434.5 806.8 2437.9 807.9 2434.5 809.0 2436.9 810.0 2438.1 811.0 2438.1 812.0 2437.9 813.0 2436.6 814.0 2438.2 815.0 2438.4 816.0 2438.2 817.0 2439.1 818.0 2435.6 819.0 2439.0 820.0 2436.9 821.0 2438.1 822.0 2436.4 823.0 2439.0 824.0 2435.6 825.0 2437.8 826.0 2436.4 827.1 2437.1 828.1 2437.1 829.1 2438.3 830.1 2438.9 831.1 2437.2 832.1 2438.3 833.1 2437.2 834.1 2437.0 835.1 2439.5 836.1 2437.2 837.1 2436.4 838.1 2437.4 839.1 2439.0 840.1 2436.9 841.1 2439.1 842.1 2438.3 843.1 2438.9 844.1 2437.0 845.1 2436.7 846.1 2436.9 847.1 2437.8 848.2 2438.1 849.2 2436.5 850.2 2438.5 851.2 2438.1 852.2 2437.9 853.2 2438.8 854.2 2440.4 855.2 2437.5 856.2 2440.2 857.2 2438.1 858.2 2439.8 859.2 2437.3 860.2 2440.8 861.2 2438.7 862.2 2440.8 863.2 2437.9 864.2 2438.7 865.2 2439.9 866.2 2437.9 867.2 2438.3 868.2 2439.9 869.3 2441.0 870.3 2438.6 871.3 2438.1 872.3 2438.8 873.3 2441.3 874.3 2438.1 875.3 2440.0 876.3 2439.1 877.3 2439.6" fill="none" stroke="#D45A2E" stroke-width="3.6" stroke-linejoin="round"/>
<path d="M642.3 2439.8 643.3 2439.1 644.3 2439.7 645.3 2440.1 646.3 2440.1 647.3 2439.7 648.3 2439.5 649.3 2439.6 650.3 2438.8 651.3 2440.0 652.3 2439.7 653.3 2439.3 654.3 2439.6 655.3 2439.2 656.3 2439.2 657.3 2438.9 658.3 2439.5 659.3 2439.4 660.3 2439.3 661.3 2438.5 662.3 2439.4 663.4 2439.1 664.4 2439.4 665.4 2439.4 666.4 2439.9 667.4 2438.6 668.4 2439.1 669.4 2439.9 670.4 2439.5 671.4 2438.8 672.4 2439.5 673.4 2439.8 674.4 2438.9 675.4 2439.6 676.4 2438.4 677.4 2439.8 678.4 2439.0 679.4 2438.6 680.4 2439.5 681.4 2439.2 682.4 2439.6 683.4 2439.4 684.5 2439.4 685.5 2438.9 686.5 2439.6 687.5 2438.2 688.5 2439.4 689.5 2439.1 690.5 2438.4 691.5 2439.3 692.5 2438.7 693.5 2438.8 694.5 2439.3 695.5 2438.2 696.5 2438.4 697.5 2438.9 698.5 2438.0 699.5 2438.7 700.5 2439.1 701.5 2438.6 702.5 2438.2 703.5 2439.1 704.5 2439.1 705.6 2439.0 706.6 2438.6 707.6 2439.2 708.6 2439.0 709.6 2437.9 710.6 2438.3 711.7 2437.4 712.8 2436.9 713.9 2436.9 714.9 2437.3 716.0 2436.8 717.1 2435.3 718.2 2434.9 719.3 2434.8 720.4 2435.1 721.5 2434.3 722.5 2434.7 723.5 2433.4 724.5 2434.9 725.5 2433.6 726.5 2434.3 727.5 2434.7 728.6 2434.5 729.6 2433.6 730.6 2434.4 731.6 2434.0 732.6 2433.3 733.6 2433.9 734.6 2433.8 735.6 2434.3 736.6 2433.8 737.6 2434.3 738.6 2434.4 739.6 2433.6 740.6 2433.5 741.6 2434.4 742.7 2434.1 743.7 2433.5 744.7 2433.5 745.7 2434.8 746.7 2434.3 747.7 2433.9 748.7 2433.6 749.7 2434.9 750.7 2434.4 751.7 2434.5 752.7 2433.9 753.7 2433.8 754.7 2434.0 755.7 2433.5 756.7 2434.3 757.8 2434.0 758.8 2434.6 759.8 2434.0 760.8 2434.0 761.8 2434.1 762.8 2434.8 763.8 2433.9 764.8 2434.4 765.8 2433.7 766.8 2434.2 767.8 2433.8 768.8 2434.7 769.8 2433.8 770.8 2434.7 771.9 2434.4 772.9 2434.0 773.9 2434.8 774.9 2433.9 775.9 2434.5 776.9 2434.3 777.9 2434.0 778.9 2433.4 779.9 2434.0 780.9 2433.8 781.9 2434.0 782.9 2434.8 783.9 2433.8 784.9 2434.4 785.9 2434.4 787.0 2433.7 788.0 2434.0 789.0 2433.5 790.0 2434.7 791.0 2433.7 792.0 2434.0 793.0 2433.9 794.0 2434.6 795.0 2434.7 796.0 2434.2 797.0 2434.2 798.0 2433.5 799.1 2435.1 800.2 2434.1 801.3 2434.9 802.4 2435.2 803.5 2436.1 804.6 2436.3 805.7 2436.2 806.8 2437.4 807.9 2437.8 809.0 2436.6 810.0 2437.6 811.0 2437.4 812.0 2437.3 813.0 2437.5 814.0 2437.3 815.0 2437.8 816.0 2437.8 817.0 2438.4 818.0 2438.4 819.0 2438.5 820.0 2437.6 821.0 2438.3 822.0 2438.0 823.0 2438.2 824.0 2438.7 825.0 2437.2 826.0 2437.9 827.1 2437.8 828.1 2438.2 829.1 2437.6 830.1 2438.8 831.1 2437.6 832.1 2437.9 833.1 2437.6 834.1 2438.0 835.1 2438.6 836.1 2437.6 837.1 2437.8 838.1 2438.6 839.1 2438.5 840.1 2438.8 841.1 2438.0 842.1 2438.9 843.1 2438.8 844.1 2438.9 845.1 2437.9 846.1 2438.5 847.1 2437.8 848.2 2439.2 849.2 2439.4 850.2 2439.3 851.2 2438.0 852.2 2438.5 853.2 2438.9 854.2 2438.9 855.2 2438.3 856.2 2439.4 857.2 2438.6 858.2 2439.0 859.2 2438.4 860.2 2439.1 861.2 2438.5 862.2 2438.4 863.2 2439.1 864.2 2438.8 865.2 2439.6 866.2 2438.8 867.2 2439.1 868.2 2438.6 869.3 2438.9 870.3 2439.3 871.3 2439.5 872.3 2439.3 873.3 2440.0 874.3 2438.9 875.3 2440.1 876.3 2439.0 877.3 2439.6" fill="none" stroke="#F0BC4A" stroke-width="3.6" stroke-linejoin="round"/>
<path d="M642.3 2441.8 643.3 2441.2 644.3 2441.1 645.3 2441.3 646.3 2441.6 647.3 2441.8 648.3 2441.1 649.3 2440.6 650.3 2440.8 651.3 2441.6 652.3 2441.5 653.3 2441.5 654.3 2440.8 655.3 2441.2 656.3 2440.7 657.3 2440.8 658.3 2441.0 659.3 2441.8 660.3 2441.4 661.3 2441.6 662.3 2440.7 663.3 2441.1 664.3 2440.7 665.3 2440.9 666.3 2440.8 667.3 2441.7 668.3 2441.0 669.3 2441.2 670.3 2441.4 671.3 2441.7 672.3 2441.7 673.3 2441.3 674.3 2441.2 675.3 2441.7 676.3 2441.1 677.3 2441.0 678.3 2441.5 679.3 2440.9 680.3 2441.1 681.3 2441.1 682.3 2441.2 683.3 2441.0 684.3 2441.1 685.3 2441.2 686.3 2440.7 687.3 2441.6 688.3 2440.7 689.3 2441.2 690.3 2441.3 691.3 2441.1 692.3 2440.9 693.3 2440.7 694.3 2441.1 695.3 2441.0 696.3 2441.2 697.3 2440.9 698.3 2441.5 699.3 2441.2 700.3 2440.6 701.3 2441.1 702.3 2441.8 703.3 2440.6 704.3 2441.3 705.3 2441.8 706.3 2441.1 707.3 2441.3 708.3 2441.1 709.3 2441.0 710.3 2441.3 711.3 2441.3 712.3 2441.0 713.3 2441.2 714.3 2441.2 715.3 2441.5 716.3 2440.7 717.3 2440.7 718.3 2440.9 719.3 2440.9 720.3 2441.6 721.3 2441.1 722.3 2441.6 723.3 2441.1 724.3 2441.0 725.3 2441.4 726.3 2440.7 727.3 2441.8 728.3 2441.6 729.3 2441.0 730.3 2441.0 731.3 2441.6 732.3 2441.6 733.3 2441.4 734.3 2440.7 735.3 2441.5 736.3 2440.7 737.3 2441.4 738.3 2441.3 739.3 2441.7 740.3 2441.4 741.3 2440.6 742.3 2441.7 743.3 2441.5 744.3 2441.3 745.3 2440.6 746.3 2441.5 747.3 2441.1 748.3 2441.4 749.3 2441.8 750.3 2441.7 751.3 2440.7 752.3 2441.5 753.3 2441.1 754.3 2441.5 755.3 2441.1 756.3 2441.1 757.3 2441.1 758.3 2440.8 759.3 2441.0 760.3 2441.5 761.3 2440.7 762.3 2440.8 763.3 2441.6 764.3 2441.4 765.3 2441.3 766.3 2440.8 767.3 2440.8 768.3 2441.0 769.3 2441.7 770.3 2441.3 771.3 2441.7 772.3 2440.9 773.3 2441.1 774.3 2441.3 775.3 2441.6 776.3 2440.8 777.3 2441.7 778.3 2441.2 779.3 2440.7 780.3 2441.1 781.3 2441.1 782.3 2441.4 783.3 2441.7 784.3 2441.2 785.3 2441.4 786.3 2441.1 787.3 2441.5 788.3 2440.7 789.3 2441.5 790.3 2440.8 791.3 2441.3 792.3 2440.9 793.3 2441.0 794.3 2440.8 795.3 2441.0 796.3 2441.3 797.3 2441.2 798.3 2441.1 799.3 2441.3 800.3 2441.6 801.3 2441.0 802.3 2441.3 803.3 2441.2 804.3 2441.8 805.3 2441.0 806.3 2441.4 807.3 2440.9 808.3 2440.9 809.3 2441.5 810.3 2441.3 811.3 2440.9 812.3 2440.7 813.3 2441.6 814.3 2441.1 815.3 2441.5 816.3 2441.1 817.3 2441.3 818.3 2441.3 819.3 2441.8 820.3 2441.7 821.3 2441.2 822.3 2441.2 823.3 2440.9 824.3 2441.5 825.3 2440.7 826.3 2441.0 827.3 2441.6 828.3 2440.7 829.3 2441.4 830.3 2441.3 831.3 2441.3 832.3 2441.0 833.3 2440.8 834.3 2441.7 835.3 2441.5 836.3 2441.6 837.3 2440.7 838.3 2441.5 839.3 2440.9 840.3 2440.9 841.3 2441.3 842.3 2441.3 843.3 2440.8 844.3 2441.5 845.3 2441.3 846.3 2441.7 847.3 2441.7 848.3 2441.4 849.3 2441.1 850.3 2441.7 851.3 2441.5 852.3 2441.0 853.3 2441.6 854.3 2441.5 855.3 2440.9 856.3 2440.9 857.3 2440.6 858.3 2441.3 859.3 2440.9 860.3 2441.0 861.3 2440.9 862.3 2440.8 863.3 2441.2 864.3 2440.9 865.3 2441.0 866.3 2440.9 867.3 2441.2 868.3 2441.7 869.3 2440.8 870.3 2441.6 871.3 2441.6 872.3 2441.3 873.3 2441.3 874.3 2441.5 875.3 2441.3 876.3 2441.4 877.3 2441.2" fill="none" stroke="#3E62A0" stroke-width="3.6" stroke-linejoin="round"/>
<line x1="720.4" y1="2249.4" x2="720.4" y2="2451.6" stroke="#000" stroke-width="3.4" stroke-dasharray="12 7"/>
<line x1="799.1" y1="2249.4" x2="799.1" y2="2451.6" stroke="#000" stroke-width="3.4" stroke-dasharray="12 7"/>
<line x1="629.7" y1="2451.6" x2="880.0" y2="2451.6" stroke="#000" stroke-width="3.4"/>
<line x1="681.1" y1="2453.1" x2="681.1" y2="2457.1" stroke="#000" stroke-width="3"/>
<line x1="759.8" y1="2453.1" x2="759.8" y2="2457.1" stroke="#000" stroke-width="3"/>
<line x1="838.5" y1="2453.1" x2="838.5" y2="2457.1" stroke="#000" stroke-width="3"/>
<text x="761.4" y="2243.9" font-size="16.5" text-anchor="middle" font-family="Liberation Sans, Arial, sans-serif">mCHH</text>
<text x="682.2" y="2471.8" font-size="17.5" text-anchor="middle" font-family="Liberation Sans, Arial, sans-serif">-500 bp</text>
<text x="759.8" y="2471.8" font-size="17.5" text-anchor="middle" font-family="Liberation Sans, Arial, sans-serif">Region</text>
<text x="837.9" y="2471.8" font-size="17.5" text-anchor="middle" font-family="Liberation Sans, Arial, sans-serif">+500 bp</text>
<line x1="72.2" y1="2249.4" x2="72.2" y2="2456.0" stroke="#000" stroke-width="3.4"/>
<line x1="66.5" y1="2305.0" x2="71" y2="2305.0" stroke="#000" stroke-width="3"/>
<text x="64.0" y="2311.0" font-size="17.5" text-anchor="end" font-family="Liberation Sans, Arial, sans-serif">0.75</text>
<line x1="66.5" y1="2363.0" x2="71" y2="2363.0" stroke="#000" stroke-width="3"/>
<text x="64.0" y="2369.0" font-size="17.5" text-anchor="end" font-family="Liberation Sans, Arial, sans-serif">0.50</text>
<line x1="66.5" y1="2421.0" x2="71" y2="2421.0" stroke="#000" stroke-width="3"/>
<text x="64.0" y="2427.0" font-size="17.5" text-anchor="end" font-family="Liberation Sans, Arial, sans-serif">0.25</text>
<text transform="translate(20.5 2363) rotate(-90)" font-size="19" text-anchor="middle" font-family="Liberation Sans, Arial, sans-serif">Methylation Level</text>
<text x="853.4" y="1884.8" font-size="42" font-weight="bold" font-family="Liberation Sans, Arial, sans-serif">f</text>
<rect x="892.1" y="1855.2" width="814.2" height="230.2" fill="#F9ECE8"/>
<rect x="892.1" y="2085.4" width="814.2" height="194" fill="#EBEEF4"/>
<rect x="892.1" y="2279.4" width="814.2" height="222.6" fill="#FEF5EA"/>
<text x="907.3" y="1885.4" font-size="17" font-family="Liberation Sans, Arial, sans-serif" font-weight="bold">Chr02</text>
<line x1="958.4" y1="1878.2" x2="1670.9" y2="1878.2" stroke="#000" stroke-width="2.2"/>
<line x1="993.2" y1="1878.2" x2="993.2" y2="1885.7" stroke="#000" stroke-width="2"/>
<line x1="1084.1" y1="1878.2" x2="1084.1" y2="1885.7" stroke="#000" stroke-width="2"/>
<line x1="1175.7" y1="1878.2" x2="1175.7" y2="1885.7" stroke="#000" stroke-width="2"/>
<line x1="1267.2" y1="1878.2" x2="1267.2" y2="1885.7" stroke="#000" stroke-width="2"/>
<line x1="1358.7" y1="1878.2" x2="1358.7" y2="1885.7" stroke="#000" stroke-width="2"/>
<line x1="1450.8" y1="1878.2" x2="1450.8" y2="1885.7" stroke="#000" stroke-width="2"/>
<line x1="1542.3" y1="1878.2" x2="1542.3" y2="1885.7" stroke="#000" stroke-width="2"/>
<line x1="1633.3" y1="1878.2" x2="1633.3" y2="1885.7" stroke="#000" stroke-width="2"/>
<text x="1078.5" y="1868.0" font-size="12.5" text-anchor="middle" font-family="Liberation Sans, Arial, sans-serif" font-weight="bold" fill="#222">2,628,020</text>
<text x="1261.6" y="1868.0" font-size="12.5" text-anchor="middle" font-family="Liberation Sans, Arial, sans-serif" font-weight="bold" fill="#222">2,628,025</text>
<text x="1444.0" y="1868.0" font-size="12.5" text-anchor="middle" font-family="Liberation Sans, Arial, sans-serif" font-weight="bold" fill="#222">2,628,030</text>
<text x="1626.5" y="1868.0" font-size="12.5" text-anchor="middle" font-family="Liberation Sans, Arial, sans-serif" font-weight="bold" fill="#222">2,628,035 Kb</text>
<rect x="1033" y="1937.7" width="140.4" height="132.5" fill="#E8AE9E" fill-opacity="0.8"/>
<rect x="1456.4" y="1937.7" width="139.3" height="132.5" fill="#E8AE9E" fill-opacity="0.8"/>
<line x1="1024" y1="1923.1" x2="1602" y2="1923.1" stroke="#000" stroke-width="4.5"/>
<path d="M1027 1917 L1020.5 1923.1 L1027 1929.2" fill="none" stroke="#000" stroke-width="3"/>
<rect x="1033" y="1908.5" width="140.4" height="29.2" fill="#D55E38" stroke="#111" stroke-width="2.8"/>
<text x="1103.2" y="1930.5" font-size="19.5" text-anchor="middle" font-family="Liberation Sans, Arial, sans-serif" font-weight="bold">3’ LTR</text>
<rect x="1189.1" y="1908.5" width="244.9" height="29.2" fill="#D55E38" stroke="#111" stroke-width="2.8"/>
<text x="1311.5" y="1930.5" font-size="17.5" text-anchor="middle" font-family="Liberation Sans, Arial, sans-serif">GAG| PROT| RT| RH| INT</text>
<rect x="1456.4" y="1908.5" width="139.3" height="29.2" fill="#D55E38" stroke="#111" stroke-width="2.8"/>
<text x="1526.1" y="1930.5" font-size="19.5" text-anchor="middle" font-family="Liberation Sans, Arial, sans-serif" font-weight="bold">5’ LTR</text>
<text x="1323.3" y="1962.4" font-size="20.5" font-family="Liberation Sans, Arial, sans-serif">LTR/<tspan font-style="italic">Gypsy</tspan>_Athila(2694218)</text>
<rect x="960.1" y="2028.1" width="4.3" height="43.2" fill="#7D6149"/>
<rect x="964.0" y="2050.6" width="2.6" height="20.7" fill="#7D6149"/>
<rect x="1095.4" y="2025.3" width="3.2" height="46.0" fill="#7D6149"/>
<rect x="1098.2" y="2007.3" width="3.2" height="64.0" fill="#7D6149"/>
<rect x="1101.0" y="2011.3" width="3.2" height="60.0" fill="#7D6149"/>
<rect x="1103.8" y="2018.6" width="3.2" height="52.7" fill="#7D6149"/>
<rect x="1106.6" y="2019.7" width="3.2" height="51.6" fill="#7D6149"/>
<rect x="1109.4" y="2033.7" width="2.6" height="37.6" fill="#7D6149"/>
<rect x="1130.7" y="2027.0" width="4.9" height="44.3" fill="#7D6149"/>
<rect x="1135.2" y="2027.0" width="4.3" height="44.3" fill="#7D6149"/>
<rect x="1142.0" y="2027.0" width="4.3" height="44.3" fill="#7D6149"/>
<rect x="1145.9" y="2033.7" width="4.9" height="37.6" fill="#7D6149"/>
<rect x="1197.0" y="2050.6" width="15.6" height="20.7" fill="#7D6149"/>
<rect x="1395.8" y="2050.6" width="7.7" height="20.7" fill="#7D6149"/>
<rect x="1405.9" y="2050.6" width="7.7" height="20.7" fill="#7D6149"/>
<rect x="1512.5" y="2050.6" width="7.7" height="20.7" fill="#7D6149"/>
<rect x="1523.8" y="2036.5" width="3.8" height="34.8" fill="#7D6149"/>
<rect x="1527.1" y="2027.0" width="3.8" height="44.3" fill="#7D6149"/>
<rect x="1530.5" y="2036.5" width="3.8" height="34.8" fill="#7D6149"/>
<rect x="1533.9" y="2033.7" width="3.8" height="37.6" fill="#7D6149"/>
<rect x="1537.3" y="2050.6" width="4.9" height="20.7" fill="#7D6149"/>
<rect x="1545.1" y="2036.5" width="3.8" height="34.8" fill="#7D6149"/>
<rect x="1548.5" y="2027.0" width="4.9" height="44.3" fill="#7D6149"/>
<rect x="1553.0" y="2036.5" width="3.8" height="34.8" fill="#7D6149"/>
<rect x="1560.3" y="2033.7" width="3.8" height="37.6" fill="#7D6149"/>
<rect x="1563.6" y="2025.3" width="3.8" height="46.0" fill="#7D6149"/>
<rect x="1567.0" y="2019.7" width="3.8" height="51.6" fill="#7D6149"/>
<rect x="1570.4" y="2033.7" width="4.3" height="37.6" fill="#7D6149"/>
<rect x="1574.3" y="2050.6" width="4.9" height="20.7" fill="#7D6149"/>
<rect x="1597.9" y="2050.6" width="3.8" height="20.7" fill="#7D6149"/>
<rect x="1601.3" y="2033.7" width="3.8" height="37.6" fill="#7D6149"/>
<rect x="1604.6" y="2019.7" width="3.8" height="51.6" fill="#7D6149"/>
<rect x="1608.0" y="2012.9" width="3.8" height="58.4" fill="#7D6149"/>
<rect x="1611.4" y="2025.3" width="3.8" height="46.0" fill="#7D6149"/>
<rect x="1664.1" y="2036.5" width="4.9" height="34.8" fill="#7D6149"/>
<rect x="959.5" y="2001.7" width="710.3" height="69.6" fill="none" stroke="#222" stroke-width="2.8"/>
<text x="964.5" y="2027.2" font-size="20.5" font-family="Liberation Sans, Arial, sans-serif">H3K9Me2</text>
<path d="M949.5 2002.7H953.5V2070.3H949.5" fill="none" stroke="#000" stroke-width="2"/>
<text x="948.0" y="2010.2" font-size="12.5" text-anchor="end" font-family="Liberation Sans, Arial, sans-serif" fill="#222">2.875</text>
<text x="948.0" y="2070.3" font-size="12.5" text-anchor="end" font-family="Liberation Sans, Arial, sans-serif" fill="#222">0</text>
<text transform="translate(910.5 2026.5) rotate(-90)" font-size="11.8" text-anchor="middle" font-family="Liberation Sans, Arial, sans-serif" fill="#222">log2(ChIP/Input+1)</text>
<text x="907.3" y="2118.1" font-size="17" font-family="Liberation Sans, Arial, sans-serif" font-weight="bold">Chr02</text>
<line x1="958.4" y1="2110.9" x2="1670.9" y2="2110.9" stroke="#000" stroke-width="2.2"/>
<line x1="1003.3" y1="2110.9" x2="1003.3" y2="2118.4" stroke="#000" stroke-width="2"/>
<line x1="1085.8" y1="2110.9" x2="1085.8" y2="2118.4" stroke="#000" stroke-width="2"/>
<line x1="1168.4" y1="2110.9" x2="1168.4" y2="2118.4" stroke="#000" stroke-width="2"/>
<line x1="1250.3" y1="2110.9" x2="1250.3" y2="2118.4" stroke="#000" stroke-width="2"/>
<line x1="1332.9" y1="2110.9" x2="1332.9" y2="2118.4" stroke="#000" stroke-width="2"/>
<line x1="1414.8" y1="2110.9" x2="1414.8" y2="2118.4" stroke="#000" stroke-width="2"/>
<line x1="1497.4" y1="2110.9" x2="1497.4" y2="2118.4" stroke="#000" stroke-width="2"/>
<line x1="1580.0" y1="2110.9" x2="1580.0" y2="2118.4" stroke="#000" stroke-width="2"/>
<line x1="1662.5" y1="2110.9" x2="1662.5" y2="2118.4" stroke="#000" stroke-width="2"/>
<text x="1168.4" y="2101.3" font-size="12.5" text-anchor="middle" font-family="Liberation Sans, Arial, sans-serif" font-weight="bold" fill="#222">2,849,013</text>
<text x="1414.8" y="2101.3" font-size="12.5" text-anchor="middle" font-family="Liberation Sans, Arial, sans-serif" font-weight="bold" fill="#222">2,849,016</text>
<text x="1661.3" y="2101.3" font-size="12.5" text-anchor="middle" font-family="Liberation Sans, Arial, sans-serif" font-weight="bold" fill="#222">2,849,019 Kb</text>
<line x1="1121" y1="2154.1" x2="1512" y2="2154.1" stroke="#000" stroke-width="4.5"/>
<rect x="1125.1" y="2140" width="381.9" height="28.2" fill="#3F5E9C" stroke="#111" stroke-width="2.8"/>
<text x="1310.4" y="2161.5" font-size="20.5" text-anchor="middle" font-family="Liberation Sans, Arial, sans-serif" fill="#151515">PROT| RT| RH| INT</text>
<rect x="960.6" y="2202.4" width="710.3" height="71.3" fill="none" stroke="#222" stroke-width="2.8"/>
<text x="965.6" y="2227.9" font-size="20.5" font-family="Liberation Sans, Arial, sans-serif">H3K9Me2</text>
<path d="M949.5 2203.4H953.5V2272.7H949.5" fill="none" stroke="#000" stroke-width="2"/>
<text x="948.0" y="2210.9" font-size="12.5" text-anchor="end" font-family="Liberation Sans, Arial, sans-serif" fill="#222">0.055</text>
<text x="948.0" y="2272.7" font-size="12.5" text-anchor="end" font-family="Liberation Sans, Arial, sans-serif" fill="#222">0</text>
<text transform="translate(910.5 2228.1) rotate(-90)" font-size="11.8" text-anchor="middle" font-family="Liberation Sans, Arial, sans-serif" fill="#222">log2(ChIP/Input+1)</text>
<text x="907.3" y="2311.8" font-size="17" font-family="Liberation Sans, Arial, sans-serif" font-weight="bold">Chr02</text>
<line x1="958.4" y1="2304.6" x2="1670.9" y2="2304.6" stroke="#000" stroke-width="2.2"/>
<line x1="1091.4" y1="2304.6" x2="1091.4" y2="2312.1" stroke="#000" stroke-width="2"/>
<line x1="1235.2" y1="2304.6" x2="1235.2" y2="2312.1" stroke="#000" stroke-width="2"/>
<line x1="1377.8" y1="2304.6" x2="1377.8" y2="2312.1" stroke="#000" stroke-width="2"/>
<line x1="1521.5" y1="2304.6" x2="1521.5" y2="2312.1" stroke="#000" stroke-width="2"/>
<line x1="1664.2" y1="2304.6" x2="1664.2" y2="2312.1" stroke="#000" stroke-width="2"/>
<text x="1085.8" y="2294.5" font-size="12.5" text-anchor="middle" font-family="Liberation Sans, Arial, sans-serif" font-weight="bold" fill="#222">2,179,419</text>
<text x="1372.2" y="2294.5" font-size="12.5" text-anchor="middle" font-family="Liberation Sans, Arial, sans-serif" font-weight="bold" fill="#222">2,179,420</text>
<text x="1658.5" y="2294.5" font-size="12.5" text-anchor="middle" font-family="Liberation Sans, Arial, sans-serif" font-weight="bold" fill="#222">2,179,421 Kb</text>
<rect x="1245.8" y="2363.5" width="137.6" height="129.2" fill="#F8DDA6" fill-opacity="0.9"/>
<line x1="1241.5" y1="2348.1" x2="1388" y2="2348.1" stroke="#000" stroke-width="4.5"/>
<rect x="1245.8" y="2332.7" width="137.6" height="30.8" fill="#F0BC4A" stroke="#111" stroke-width="2.8"/>
<text x="1315.0" y="2355.5" font-size="20.5" text-anchor="middle" font-family="Liberation Sans, Arial, sans-serif" font-weight="bold">solo LTR</text>
<rect x="960.6" y="2473.0" width="3.2" height="19.7" fill="#7D6149"/>
<rect x="1235.2" y="2471.9" width="114.9" height="20.8" fill="#7D6149"/>
<rect x="1363.8" y="2471.9" width="14.4" height="20.8" fill="#7D6149"/>
<rect x="1377.8" y="2450.6" width="28.5" height="42.1" fill="#7D6149"/>
<rect x="1405.9" y="2437.1" width="16.1" height="55.6" fill="#7D6149"/>
<rect x="1421.6" y="2427.6" width="14.4" height="65.1" fill="#7D6149"/>
<rect x="1435.6" y="2432.0" width="14.4" height="60.7" fill="#7D6149"/>
<rect x="1449.7" y="2427.6" width="14.4" height="65.1" fill="#7D6149"/>
<rect x="1463.7" y="2450.6" width="14.4" height="42.1" fill="#7D6149"/>
<rect x="1477.7" y="2482.6" width="15.6" height="10.1" fill="#7D6149"/>
<rect x="960.6" y="2422.5" width="709.2" height="70.2" fill="none" stroke="#222" stroke-width="2.8"/>
<text x="965.6" y="2448.0" font-size="20.5" font-family="Liberation Sans, Arial, sans-serif">H3K9Me2</text>
<path d="M949.5 2423.5H953.5V2491.7H949.5" fill="none" stroke="#000" stroke-width="2"/>
<text x="948.0" y="2431.0" font-size="12.5" text-anchor="end" font-family="Liberation Sans, Arial, sans-serif" fill="#222">3.023</text>
<text x="948.0" y="2491.7" font-size="12.5" text-anchor="end" font-family="Liberation Sans, Arial, sans-serif" fill="#222">0</text>
<text transform="translate(910.5 2447.6) rotate(-90)" font-size="11.8" text-anchor="middle" font-family="Liberation Sans, Arial, sans-serif" fill="#222">log2(ChIP/Input+1)</text>
</svg></body></html>
